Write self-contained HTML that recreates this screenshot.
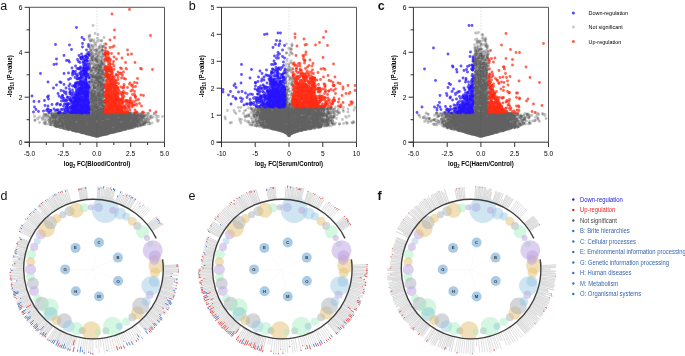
<!DOCTYPE html>
<html><head><meta charset="utf-8"><style>
html,body{margin:0;padding:0;background:#fff;}
svg{display:block;will-change:transform;}
text{font-family:"Liberation Sans",sans-serif;}
</style></head><body>
<svg width="685" height="356" viewBox="0 0 685 356">
<rect width="685" height="356" fill="#fff"/>
<line x1="96.9" y1="7.3" x2="96.9" y2="142.2" stroke="#ccc" stroke-width="0.6" stroke-dasharray="1.5,1.5"/>
<path transform="scale(.5)" d="M144 228zM225 263zM221 233zM154 228zM158 237zM281 229zM223 258zM159 241zM156 232zM168 257zM221 265zM199 235zM138 251zM114 231zM128 253zM214 263zM205 257zM211 241zM277 241zM133 257zM202 258zM230 242zM192 269zM250 252zM213 248zM196 272zM201 254zM286 235zM175 256zM182 260zM159 252zM136 235zM145 228zM211 251zM192 227zM259 228zM252 255zM170 234zM169 238zM160 233zM258 227zM271 228zM180 232zM275 232zM195 271zM202 267zM199 255zM184 268zM261 227zM201 241zM145 251zM195 262zM169 252zM128 256zM210 262zM136 235zM244 255zM219 246zM188 266zM250 248zM224 265zM152 234zM158 247zM110 243zM152 249zM217 260zM197 271zM203 254zM180 231zM190 229zM133 255zM191 268zM161 238zM211 266zM222 238zM174 262zM166 239zM107 233zM172 242zM139 242zM128 254zM110 252zM198 266zM188 266zM101 226zM240 246zM218 249zM214 240zM112 243zM154 258zM238 246zM135 237zM182 255zM142 246zM209 261zM203 268zM187 235zM224 250zM169 235zM202 246zM151 262zM242 229zM281 244zM173 265zM201 252zM202 254zM213 267zM211 267zM220 246zM252 248zM165 244zM186 250zM138 248zM192 250zM285 241zM191 269zM228 259zM276 231zM139 247zM225 259zM240 231zM170 262zM149 259zM258 241zM100 239zM164 254zM126 234zM173 255zM201 271zM178 258zM153 262zM137 227zM200 269zM166 233zM192 272zM272 247zM224 227zM220 255zM237 239zM216 262zM238 261zM215 251zM204 269zM190 267zM170 266zM210 253zM174 233zM175 254zM119 229zM191 268zM193 270zM230 249zM164 244zM198 272zM225 264zM165 258zM143 231zM252 257zM210 236zM174 267zM253 227zM237 259zM210 256zM314 240zM198 268zM202 269zM242 245zM214 228zM139 233zM153 254zM146 243zM203 264zM129 244zM198 270zM188 268zM268 248zM230 240zM161 252zM287 233zM143 245zM141 248zM137 254zM192 272zM101 245zM137 247zM252 249zM145 238zM262 256zM227 229zM182 268zM243 226zM193 271zM215 250zM196 270zM191 272zM245 254zM217 228zM184 261zM210 252zM198 226zM155 261zM245 257zM165 258zM232 246zM223 252zM169 265zM152 238zM233 230zM181 266zM179 232zM202 262zM191 230zM197 235zM220 253zM163 257zM173 239zM170 249zM179 267zM122 234zM214 244zM231 236zM163 230zM247 227zM231 263zM237 254zM242 244zM198 271zM281 232zM198 235zM185 253zM241 248zM143 233zM206 269zM274 250zM149 241zM240 229zM219 261zM191 262zM132 257zM279 228zM119 232zM177 264zM207 269zM188 271zM222 240zM175 234zM198 269zM157 231zM141 250zM195 268zM186 263zM226 247zM135 231zM219 263zM134 243zM194 263zM165 242zM213 230zM191 255zM190 271zM185 244zM209 264zM180 231zM157 250zM173 264zM182 251zM237 229zM206 257zM148 237zM177 235zM179 269zM205 260zM252 236zM198 272zM147 252zM167 262zM180 266zM206 269zM179 249zM209 267zM151 234zM205 261zM174 242zM195 272zM263 251zM182 249zM193 227zM201 270zM287 236zM191 272zM137 246zM177 249zM214 254zM243 228zM201 231zM204 267zM204 269zM174 230zM147 227zM169 255zM151 258zM173 250zM228 258zM220 242zM166 265zM203 237zM258 255zM232 260zM153 238zM190 271zM203 269zM228 246zM235 260zM189 267zM195 272zM175 228zM180 232zM181 266zM176 252zM206 266zM208 268zM155 252zM186 257zM145 240zM190 259zM185 248zM177 257zM212 268zM187 251zM154 229zM275 253zM202 227zM217 259zM183 270zM199 248zM142 239zM247 237zM214 257zM198 270zM257 239zM256 256zM206 231zM234 262zM184 269zM221 264zM135 241zM258 231zM202 256zM232 255zM171 232zM208 251zM223 262zM279 234zM237 258zM187 231zM150 258zM148 228zM190 262zM100 237zM146 255zM200 229zM279 234zM212 237zM197 269zM210 230zM134 241zM187 271zM210 249zM209 267zM244 251zM252 231zM264 227zM237 249zM246 249zM156 251zM153 263zM249 240zM208 255zM269 254zM248 239zM183 268zM160 250zM206 264zM197 242zM157 253zM173 232zM248 229zM119 242zM170 263zM196 247zM226 226zM185 252zM130 226zM274 234zM152 260zM198 257zM210 231zM289 248zM221 252zM132 243zM164 251zM195 265zM126 253zM254 236zM248 241zM194 272zM191 255zM257 250zM196 253zM183 268zM217 233zM205 248zM188 258zM194 271zM174 236zM187 269zM204 268zM193 272zM219 258zM249 237zM249 259zM260 238zM185 268zM227 231zM254 237zM125 243zM127 228zM256 252zM224 231zM255 250zM199 231zM279 228zM125 246zM167 266zM186 235zM201 270zM198 269zM220 251zM223 249zM246 233zM202 253zM171 232zM221 245zM207 265zM157 234zM183 261zM249 234zM178 243zM268 247zM104 230zM163 265zM185 260zM186 267zM199 270zM171 261zM156 261zM132 245zM237 257zM217 247zM177 237zM206 264zM229 235zM232 241zM192 272zM195 237zM187 252zM265 228zM182 251zM237 232zM239 245zM148 230zM294 237zM227 230zM239 239zM247 240zM266 255zM182 233zM190 269zM168 266zM240 244zM145 236zM178 262zM145 240zM230 257zM252 247zM170 246zM173 234zM200 271zM192 236zM214 254zM188 258zM189 269zM221 263zM195 272zM240 261zM158 258zM138 251zM217 228zM197 234zM132 254zM185 270zM187 229zM213 257zM201 233zM221 245zM198 270zM204 252zM128 251zM145 248zM191 229zM195 230zM215 266zM247 235zM134 227zM225 265zM211 259zM175 251zM212 233zM200 255zM180 268zM220 230zM268 243zM200 239zM207 230zM203 239zM177 231zM124 251zM225 230zM172 244zM232 239zM217 265zM112 253zM193 269zM152 257zM201 264zM193 259zM176 237zM142 241zM163 245zM215 264zM227 260zM254 255zM216 232zM164 229zM168 230zM241 242zM186 268zM198 240zM172 267zM194 272zM203 270zM167 257zM145 260zM274 231zM165 241zM215 248zM185 270zM118 229zM280 234zM135 233zM231 253zM262 235zM195 272zM179 247zM145 244zM223 238zM177 251zM211 237zM116 253zM270 228zM191 272zM190 246zM172 247zM214 233zM166 253zM185 266zM240 230zM246 256zM253 235zM150 231zM176 236zM173 266zM250 233zM276 242zM190 248zM168 261zM166 248zM198 243zM160 230zM253 230zM129 229zM254 247zM301 232zM179 253zM291 231zM253 238zM193 272zM170 263zM286 249zM235 259zM137 245zM154 231zM155 255zM289 246zM144 231zM217 266zM207 229zM185 240zM170 264zM167 264zM136 248zM131 256zM167 265zM219 265zM176 258zM259 250zM271 249zM193 270zM147 247zM201 270zM162 247zM208 268zM234 253zM282 250zM182 248zM107 242zM251 247zM229 230zM157 245zM182 266zM266 253zM146 260zM244 237zM190 270zM218 264zM200 262zM181 265zM216 267zM163 246zM159 244zM191 246zM196 269zM200 267zM261 254zM178 267zM229 263zM175 264zM162 235zM193 270zM141 227zM208 267zM196 272zM183 268zM118 252zM179 267zM176 266zM137 230zM227 264zM186 239zM256 227zM278 234zM260 231zM188 265zM183 268zM205 257zM168 253zM251 247zM247 244zM146 227zM255 257zM186 267zM147 251zM188 244zM151 261zM246 234zM209 229zM253 248zM165 239zM155 261zM170 236zM251 252zM203 239zM254 241zM156 236zM181 269zM150 257zM157 256zM166 265zM250 248zM207 237zM139 227zM198 271zM221 260zM212 244zM200 270zM261 250zM225 233zM163 253zM227 261zM232 257zM152 249zM188 269zM135 241zM165 241zM195 272zM187 262zM134 232zM220 249zM216 246zM240 258zM112 226zM191 236zM118 241zM227 229zM155 253zM221 229zM193 259zM172 256zM278 237zM193 260zM284 241zM167 255zM242 239zM219 266zM222 259zM222 242zM276 229zM188 258zM208 251zM269 237zM211 251zM104 250zM204 269zM190 270zM170 251zM166 254zM177 247zM196 271zM163 243zM128 252zM193 272zM222 265zM187 265zM222 244zM299 237zM189 249zM212 238zM132 258zM179 266zM156 240zM200 266zM221 265zM109 234zM206 268zM173 248zM152 230zM164 261zM271 247zM194 261zM253 229zM203 245zM254 245zM135 250zM155 254zM223 247zM177 230zM209 265zM181 246zM176 267zM193 272zM255 256zM164 241zM236 244zM234 261zM209 269zM173 267zM218 257zM249 226zM128 233zM226 250zM160 258zM233 251zM259 232zM156 236zM189 265zM153 230zM294 243zM142 248zM208 237zM269 250zM239 246zM220 227zM128 257zM174 237zM186 266zM134 240zM210 261zM214 255zM190 267zM195 266zM214 268zM147 261zM312 230zM135 256zM112 234zM153 233zM207 238zM163 264zM166 236zM160 241zM203 268zM227 249zM217 230zM214 268zM202 235zM278 245zM193 272zM177 243zM191 268zM273 240zM275 239zM190 266zM182 234zM184 267zM149 249zM182 259zM184 261zM141 252zM230 242zM216 243zM130 253zM191 231zM244 256zM228 236zM192 237zM212 254zM210 236zM170 245zM199 235zM227 235zM177 234zM251 241zM177 228zM185 252zM133 257zM227 249zM115 247zM152 251zM189 242zM154 230zM195 259zM186 268zM195 259zM159 238zM138 231zM114 230zM161 253zM190 266zM181 249zM255 238zM112 250zM225 235zM205 234zM167 262zM115 242zM177 226zM266 240zM159 226zM199 247zM167 256zM240 254zM133 241zM123 236zM168 248zM256 231zM275 250zM177 261zM261 248zM282 244zM151 240zM269 226zM208 245zM280 244zM191 268zM148 247zM190 249zM191 254zM232 236zM166 257zM199 269zM272 226zM189 252zM187 260zM173 250zM244 243zM138 249zM136 232zM140 255zM185 270zM140 244zM268 237zM228 240zM180 258zM253 251zM231 232zM130 227zM224 264zM134 230zM184 266zM196 271zM137 228zM177 230zM189 253zM161 246zM229 237zM242 261zM209 236zM263 246zM127 244zM243 244zM275 239zM171 250zM159 240zM159 239zM202 257zM289 248zM123 242zM135 230zM188 236zM196 256zM288 243zM221 234zM251 234zM118 229zM238 244zM226 262zM163 244zM192 267zM176 227zM180 264zM252 230zM214 242zM309 228zM256 249zM226 249zM245 231zM160 243zM195 266zM241 253zM199 266zM196 256zM188 228zM281 238zM161 265zM162 259zM270 233zM156 259zM179 254zM197 271zM216 247zM266 243zM181 264zM133 255zM273 238zM169 239zM148 236zM188 240zM123 244zM201 241zM206 257zM245 241zM162 264zM187 264zM198 271zM198 263zM152 248zM192 256zM252 230zM190 267zM127 254zM179 236zM190 266zM206 264zM207 234zM187 270zM231 227zM160 251zM260 238zM196 230zM186 252zM126 227zM121 235zM234 235zM315 243zM229 242zM239 228zM146 255zM197 267zM239 232zM134 258zM286 230zM211 260zM282 250zM189 246zM253 238zM138 228zM110 240zM191 268zM228 241zM176 230zM141 252zM151 227zM170 237zM223 250zM199 231zM191 260zM196 237zM138 258zM144 258zM239 248zM144 241zM211 232zM207 262zM161 260zM145 235zM202 270zM153 233zM264 254zM107 230zM131 242zM201 270zM208 255zM158 241zM215 258zM134 239zM233 251zM179 248zM270 230zM258 234zM162 235zM210 245zM209 231zM175 245zM190 234zM165 229zM191 268zM159 263zM222 265zM237 253zM194 267zM216 243zM248 251zM192 272zM185 270zM132 242zM224 265zM270 237zM183 242zM133 238zM179 237zM182 270zM183 269zM243 227zM185 263zM167 250zM200 250zM132 233zM232 250zM194 266zM203 246zM207 229zM202 265zM205 262zM145 239zM265 241zM137 237zM179 250zM242 240zM132 231zM272 237zM229 246zM192 272zM128 237zM162 226zM245 246zM239 248zM247 246zM171 251zM151 260zM197 271zM175 249zM213 258zM217 238zM212 257zM185 254zM220 261zM124 232zM137 253zM201 266zM196 272zM256 226zM176 264zM169 250zM205 257zM253 251zM148 245zM176 250zM218 265zM296 248zM243 237zM244 253zM180 267zM191 259zM177 238zM146 255zM257 230zM254 248zM167 263zM271 234zM179 263zM135 237zM299 248zM269 250zM189 226zM192 266zM170 243zM208 258zM188 249zM214 242zM189 251zM125 247zM161 252zM207 269zM217 260zM254 232zM261 232zM159 253zM229 234zM188 242zM160 235zM127 234zM136 230zM201 271zM180 256zM243 260zM232 239zM160 262zM242 260zM243 257zM191 228zM202 269zM162 253zM193 272zM191 240zM233 249zM124 227zM193 248zM87 233zM158 244zM207 264zM261 254zM233 233zM297 227zM255 236zM240 227zM179 265zM201 260zM176 264zM254 242zM243 236zM110 233zM168 229zM182 246zM213 258zM262 251zM171 262zM206 263zM161 235zM235 257zM161 262zM175 234zM169 255zM284 242zM184 235zM172 260zM132 246zM180 239zM216 260zM172 249zM180 259zM227 248zM274 229zM246 240zM130 235zM202 260zM227 247zM179 262zM290 242zM174 257zM211 258zM176 267zM195 234zM146 255zM206 260zM177 268zM214 266zM148 259zM174 262zM135 244zM192 249zM170 229zM174 253zM253 258zM257 243zM147 240zM138 240zM278 240zM186 244zM180 255zM204 263zM163 247zM193 251zM231 245zM182 240zM247 236zM254 258zM193 268zM284 227zM214 239zM145 245zM176 264zM196 259zM218 265zM114 246zM144 247zM206 250zM211 240zM202 270zM257 252zM210 263zM226 261zM196 269zM212 240zM173 261zM277 245zM174 266zM199 243zM164 240zM206 251zM220 256zM267 236zM234 241zM122 251zM243 251zM195 232zM119 244zM251 243zM240 231zM165 243zM149 253zM243 241zM102 227zM139 259zM201 255zM165 238zM244 239zM200 262zM130 240zM218 229zM170 255zM174 228zM127 245zM215 256zM249 236zM270 247zM144 245zM262 230zM258 237zM241 256zM194 260zM146 231zM260 246zM155 260zM178 232zM189 246zM215 264zM148 234zM188 268zM167 262zM181 262zM139 253zM127 233zM163 237zM142 239zM201 265zM166 244zM189 271zM215 266zM257 247zM169 249zM239 258zM194 269zM185 262zM206 255zM225 249zM138 259zM204 227zM148 227zM173 240zM185 228zM159 248zM225 240zM204 270zM218 236zM228 239zM180 253zM97 241zM183 246zM184 259zM258 248zM180 267zM253 254zM224 262zM145 236zM155 257zM232 249zM194 267zM135 232zM184 236zM182 259zM172 259zM209 245zM234 249zM123 236zM151 261zM176 250zM148 230zM196 270zM238 244zM190 259zM157 249zM193 228zM189 266zM179 246zM225 232zM139 231zM213 264zM204 227zM182 240zM191 259zM141 247zM178 268zM251 236zM89 229zM150 240zM267 230zM180 262zM145 244zM270 235zM231 239zM184 265zM134 253zM219 238zM221 248zM208 249zM224 239zM203 267zM235 255zM249 233zM163 246zM131 248zM209 230zM196 235zM235 230zM260 257zM226 242zM147 261zM200 269zM140 252zM165 229zM122 232zM241 232zM213 267zM145 229zM213 229zM171 250zM234 246zM251 235zM274 244zM191 271zM197 271zM232 257zM228 248zM177 266zM202 269zM184 264zM216 266zM252 240zM250 238zM203 257zM182 267zM174 256zM145 241zM277 236zM242 229zM173 250zM260 248zM136 251zM179 266zM186 250zM240 244zM177 266zM188 241zM210 234zM187 263zM188 263zM127 227zM146 260zM233 227zM106 235zM210 249zM239 250zM197 260zM129 244zM214 266zM217 234zM186 231zM254 240zM205 266zM120 230zM251 240zM159 260zM164 239zM222 253zM186 268zM173 267zM258 236zM216 240zM180 254zM173 266zM230 243zM242 248zM181 250zM216 247zM228 234zM161 254zM134 255zM185 231zM159 232zM192 245zM264 247zM204 254zM183 269zM125 235zM123 241zM118 239zM115 227zM161 234zM109 249zM106 247zM201 252zM190 268zM274 227zM188 266zM113 228zM211 268zM219 253zM298 245zM241 256zM150 257zM193 266zM187 262zM269 238zM233 244zM249 255zM139 255zM206 138zM206 151zM184 210zM179 177zM205 142zM203 134zM205 127zM187 210zM181 110zM190 219zM200 141zM205 202zM205 170zM180 112zM182 201zM191 214zM203 220zM201 164zM197 99zM199 159zM180 136zM187 192zM205 93zM189 213zM202 223zM208 171zM198 167zM187 134zM192 137zM198 203zM196 162zM194 210zM178 76zM206 132zM186 220zM184 220zM198 218zM206 211zM183 79zM202 190zM180 119zM203 140zM201 121zM185 200zM180 221zM182 221zM182 113zM205 217zM200 134zM207 153zM207 221zM207 212zM200 157zM193 99zM198 199zM202 124zM185 181zM205 164zM186 190zM195 83zM193 115zM184 222zM183 189zM184 101zM206 211zM200 193zM200 156zM189 201zM198 197zM196 103zM195 146zM206 225zM199 170zM203 97zM184 119zM201 181zM189 176zM179 132zM191 195zM183 198zM204 213zM192 217zM193 157zM195 83zM179 139zM186 216zM194 226zM179 79zM201 172zM202 222zM189 189zM182 204zM192 120zM201 124zM190 195zM200 201zM199 220zM208 75zM207 194zM204 207zM192 107zM185 188zM201 205zM191 163zM198 200zM182 109zM182 102zM209 131zM183 214zM203 175zM203 149zM182 113zM179 214zM188 176zM209 137zM195 190zM193 134zM201 196zM185 139zM209 204zM185 218zM181 82zM207 226zM202 223zM197 220zM206 176zM184 198zM196 217zM205 188zM195 215zM186 218zM208 186zM184 182zM202 171zM187 155zM209 112zM182 186zM185 154zM186 210zM207 189zM198 147zM198 225zM184 224zM202 204zM182 140zM204 201zM190 211zM208 119zM202 155zM183 223zM195 211zM208 219zM208 187zM188 218zM187 214zM205 99zM192 118zM190 200zM183 183zM205 147zM200 141zM203 135zM201 223zM203 163zM196 130zM202 181zM189 223zM209 137zM180 216zM187 113zM196 215zM185 105zM207 109zM198 185zM192 220zM190 153zM186 148zM200 132zM200 218zM187 155zM178 198zM198 162zM181 210zM209 204zM184 161zM182 150zM206 200zM203 192zM198 214zM197 170zM191 218zM209 148zM186 137zM196 69zM179 196zM186 189zM205 148zM191 120zM205 136zM186 205zM203 149zM191 166zM203 217zM192 198zM197 187zM208 154zM182 207zM190 208zM179 133zM182 214zM196 140zM194 202zM192 212zM184 160zM184 192zM183 220zM182 190zM202 182zM189 164zM200 193zM191 183zM204 179zM194 150zM187 170zM199 149zM202 150zM187 168zM190 220zM198 218zM202 165zM182 102zM206 147zM184 214zM200 212zM190 109zM187 165zM192 131zM198 81zM197 223zM193 225zM199 186zM194 84zM192 116zM199 150zM191 87zM186 207zM190 166zM188 156zM193 124zM187 223zM187 147zM194 103zM195 202zM199 193zM189 204zM195 157zM197 225zM196 147zM196 134zM191 210zM189 176zM201 218zM197 209zM195 188zM198 152zM205 160z" stroke="#222" stroke-opacity="0.265" stroke-width="5.6" stroke-linecap="round" fill="none"/>
<path transform="scale(.5)" d="M223 265zM205 253zM174 234zM325 233zM145 248zM116 244zM217 265zM187 260zM263 251zM195 255zM175 267zM204 232zM128 234zM238 248zM220 247zM203 243zM231 259zM187 250zM152 256zM232 243zM165 236zM152 231zM255 255zM224 261zM178 261zM180 247zM140 244zM240 252zM171 267zM144 248zM186 268zM156 250zM122 236zM205 264zM182 267zM161 241zM194 271zM219 233zM251 233zM160 250zM155 258zM172 253zM138 227zM203 258zM156 261zM122 247zM230 259zM253 236zM179 262zM92 248zM192 266zM153 257zM231 260zM289 228zM171 231zM160 250zM207 268zM218 255zM271 228zM191 265zM120 248zM105 236zM254 251zM149 249zM266 240zM195 269zM250 251zM127 234zM162 242zM118 249zM187 253zM177 264zM265 236zM251 229zM132 254zM259 244zM191 271zM160 250zM268 236zM196 272zM211 253zM191 272zM267 243zM185 233zM222 262zM199 228zM131 242zM189 243zM92 241zM208 268zM206 255zM146 238zM194 272zM186 269zM161 236zM204 238zM151 261zM150 234zM166 232zM247 259zM160 254zM198 239zM139 246zM217 263zM126 231zM184 264zM163 234zM207 268zM226 251zM207 256zM157 262zM155 232zM131 230zM216 266zM193 234zM181 234zM133 233zM197 271zM204 268zM208 269zM134 257zM204 240zM223 265zM154 244zM270 252zM229 263zM245 260zM139 226zM159 231zM160 236zM192 265zM171 253zM226 240zM143 260zM260 240zM170 252zM152 232zM176 230zM177 260zM187 266zM182 238zM152 256zM119 245zM155 246zM198 250zM198 238zM233 249zM191 244zM150 247zM180 260zM183 264zM186 258zM250 230zM225 236zM146 226zM191 254zM254 243zM187 256zM270 236zM199 248zM211 231zM256 243zM199 270zM194 272zM235 236zM201 238zM181 230zM131 244zM287 227zM221 244zM247 226zM175 226zM189 264zM180 266zM255 237zM151 256zM182 269zM119 229zM233 250zM137 234zM190 271zM188 271zM242 234zM155 229zM179 264zM198 237zM169 226zM170 252zM256 241zM111 228zM239 260zM226 259zM250 251zM140 251zM110 251zM229 234zM128 256zM153 233zM257 257zM190 271zM196 259zM239 236zM185 235zM264 244zM199 267zM235 245zM133 255zM193 268zM199 252zM195 262zM162 227zM199 246zM185 270zM193 271zM167 261zM95 248zM118 231zM134 229zM133 254zM141 248zM212 262zM230 230zM130 246zM206 261zM281 232zM186 259zM276 243zM187 229zM178 226zM218 260zM227 264zM199 271zM194 263zM160 236zM219 258zM140 258zM180 264zM253 249zM203 230zM185 230zM186 265zM155 259zM260 250zM161 234zM228 236zM263 251zM200 230zM272 237zM222 261zM251 236zM133 255zM142 252zM147 258zM200 269zM184 270zM199 267zM235 230zM148 249zM202 258zM133 246zM144 237zM190 253zM238 260zM262 246zM181 266zM202 270zM169 229zM228 261zM177 253zM242 233zM264 245zM105 226zM260 249zM245 227zM172 249zM176 265zM145 246zM212 249zM247 231zM136 238zM163 265zM194 251zM213 244zM108 226zM200 271zM162 228zM273 227zM206 244zM153 236zM109 228zM274 239zM169 254zM171 252zM201 269zM149 238zM195 262zM270 246zM223 252zM159 229zM174 263zM194 272zM209 233zM196 265zM191 272zM197 272zM112 238zM222 243zM173 232zM195 267zM215 234zM221 251zM192 237zM125 239zM119 236zM206 241zM140 248zM246 255zM204 236zM232 253zM200 261zM169 255zM163 231zM202 234zM224 227zM208 266zM125 248zM272 235zM214 244zM172 253zM189 235zM181 231zM177 245zM154 241zM196 259zM124 249zM178 267zM137 226zM258 252zM203 266zM116 240zM110 229zM224 238zM143 247zM190 249zM100 249zM234 234zM98 241zM239 262zM225 261zM217 231zM217 253zM191 244zM130 254zM247 247zM172 239zM197 266zM101 234zM248 246zM102 233zM220 247zM211 228zM152 248zM140 240zM196 258zM166 230zM162 250zM192 272zM230 230zM232 258zM135 243zM256 237zM168 254zM235 231zM205 245zM220 237zM256 241zM101 248zM237 231zM279 240zM197 251zM192 271zM162 245zM215 247zM175 232zM220 257zM195 269zM199 264zM160 246zM237 235zM169 240zM191 263zM247 257zM165 240zM229 260zM191 264zM236 253zM172 264zM241 248zM187 234zM200 264zM197 270zM149 260zM108 228zM258 234zM122 248zM170 249zM160 257zM158 229zM264 248zM236 255zM145 254zM183 267zM212 230zM185 262zM232 235zM220 227zM135 256zM252 236zM213 266zM150 253zM188 266zM117 237zM213 264zM180 260zM121 238zM146 252zM274 251zM286 250zM150 262zM144 231zM187 229zM188 270zM180 253zM139 237zM159 243zM150 252zM206 269zM238 247zM246 250zM260 226zM128 249zM235 228zM263 247zM108 232zM238 260zM183 269zM216 250zM205 269zM222 246zM172 228zM242 253zM191 263zM188 237zM183 270zM170 251zM172 262zM208 265zM206 270zM141 254zM260 250zM237 246zM140 236zM167 255zM279 239zM223 254zM170 245zM114 245zM181 263zM150 256zM161 237zM248 243zM243 236zM181 232zM253 258zM189 227zM245 258zM168 235zM182 260zM192 272zM169 251zM269 246zM259 250zM218 233zM166 261zM235 247zM249 232zM223 261zM193 272zM235 236zM154 257zM173 237zM128 246zM211 266zM207 262zM184 268zM199 259zM152 261zM196 262zM222 255zM105 230zM229 263zM165 260zM188 270zM259 252zM165 233zM217 251zM148 245zM187 270zM173 265zM244 255zM193 269zM250 243zM285 236zM275 231zM215 249zM131 258zM266 231zM193 272zM118 251zM139 228zM228 258zM243 232zM220 232zM266 236zM225 251zM136 239zM216 264zM232 249zM189 263zM210 233zM167 249zM140 249zM213 256zM214 249zM172 262zM177 267zM158 254zM192 267zM76 238zM200 259zM101 239zM138 254zM272 236zM197 271zM206 261zM118 227zM198 271zM223 257zM155 260zM206 231zM233 240zM153 247zM209 256zM180 247zM251 255zM283 238zM252 233zM210 252zM215 247zM228 234zM217 258zM227 231zM148 236zM198 229zM236 252zM290 230zM182 254zM100 248zM207 236zM198 265zM136 228zM218 245zM247 234zM226 244zM155 235zM174 264zM263 255zM131 247zM123 245zM211 268zM172 267zM169 245zM195 263zM163 247zM258 242zM244 231zM250 251zM171 267zM169 250zM197 246zM223 250zM192 240zM215 246zM217 267zM125 256zM188 233zM212 259zM306 234zM157 232zM197 226zM106 240zM196 272zM208 269zM190 266zM205 249zM191 257zM268 245zM158 250zM151 254zM247 232zM192 269zM198 253zM201 261zM177 240zM174 235zM202 257zM156 259zM249 228zM254 255zM192 272zM182 267zM237 233zM219 248zM113 253zM114 234zM180 268zM238 248zM250 257zM256 257zM222 242zM122 255zM216 248zM238 252zM173 266zM191 268zM157 254zM209 254zM165 260zM234 229zM234 263zM145 261zM223 265zM249 247zM177 263zM234 247zM250 251zM207 241zM167 233zM237 251zM111 236zM219 263zM122 231zM152 245zM157 254zM287 246zM267 236zM141 228zM162 263zM168 264zM181 256zM110 235zM237 250zM197 260zM187 268zM144 247zM180 264zM187 240zM302 234zM192 258zM162 237zM286 247zM196 272zM140 259zM194 249zM265 247zM140 242zM193 253zM207 242zM212 263zM223 263zM177 231zM170 230zM240 233zM153 244zM131 242zM161 226zM151 255zM143 260zM138 227zM251 256zM203 269zM208 238zM275 245zM260 249zM198 258zM186 258zM211 254zM198 229zM143 248zM214 250zM287 246zM131 232zM258 227zM207 250zM217 255zM178 268zM197 251zM262 232zM241 256zM169 266zM176 229zM303 233zM200 235zM121 232zM146 252zM188 255zM170 261zM212 268zM180 262zM147 232zM187 254zM122 244zM204 261zM284 241zM164 227zM127 252zM140 259zM162 230zM230 237zM190 236zM154 253zM183 246zM219 245zM110 248zM138 252zM220 236zM297 243zM190 270zM164 265zM219 227zM225 228zM188 259zM184 270zM187 227zM192 271zM193 254zM223 265zM225 255zM201 262zM201 266zM130 251zM165 246zM227 239zM127 252zM184 268zM197 267zM186 263zM164 227zM262 238zM194 258zM139 257zM105 233zM196 272zM204 264zM190 259zM225 233zM168 265zM257 238zM208 243zM193 271zM133 240zM152 261zM173 261zM202 263zM202 232zM203 270zM174 259zM282 246zM245 232zM287 234zM177 245zM131 242zM252 236zM224 239zM220 243zM195 272zM137 259zM117 226zM226 252zM230 235zM237 232zM225 258zM205 267zM249 235zM251 240zM161 257zM169 262zM168 248zM213 230zM216 246zM175 248zM197 260zM180 266zM205 260zM184 267zM250 248zM230 231zM212 249zM209 237zM266 247zM214 242zM137 238zM119 254zM204 260zM125 229zM213 264zM234 254zM191 265zM222 240zM199 231zM216 247zM152 262zM104 245zM221 229zM243 252zM151 256zM167 254zM174 256zM209 237zM178 247zM169 242zM123 247zM165 227zM233 259zM184 252zM181 240zM170 244zM205 255zM92 229zM247 248zM154 253zM148 245zM125 255zM222 250zM191 272zM229 247zM216 266zM202 270zM163 238zM236 227zM174 267zM182 260zM124 255zM189 244zM166 260zM178 245zM283 227zM161 246zM154 257zM186 267zM146 236zM206 262zM188 268zM175 265zM139 232zM203 263zM221 249zM266 244zM184 243zM262 230zM196 230zM214 255zM205 253zM234 239zM85 239zM181 254zM208 253zM197 268zM222 242zM241 261zM154 240zM238 238zM167 264zM192 271zM131 234zM244 239zM179 239zM270 237zM173 268zM165 258zM282 241zM213 231zM196 243zM221 253zM183 230zM136 259zM238 242zM179 258zM200 267zM187 228zM173 258zM198 270zM216 258zM111 240zM191 248zM224 251zM263 239zM199 237zM262 235zM197 261zM199 271zM151 250zM189 234zM171 256zM171 232zM161 240zM227 237zM194 272zM159 236zM192 272zM161 229zM163 252zM138 227zM172 266zM185 245zM237 251zM151 247zM238 251zM233 262zM136 241zM250 243zM119 254zM189 228zM124 240zM162 261zM211 243zM132 255zM168 251zM177 268zM193 235zM278 244zM202 268zM160 256zM199 267zM217 258zM216 258zM235 228zM151 255zM106 229zM247 236zM148 250zM215 258zM201 269zM155 248zM181 229zM189 239zM196 270zM198 266zM223 264zM217 262zM204 259zM169 231zM196 271zM155 256zM206 252zM210 235zM159 258zM212 247zM216 261zM206 270zM181 268zM185 263zM218 245zM130 251zM169 264zM216 261zM152 261zM265 245zM137 250zM260 242zM197 270zM173 237zM232 244zM203 269zM234 255zM219 252zM244 260zM201 261zM173 231zM120 254zM120 226zM221 244zM278 231zM270 238zM228 264zM177 234zM268 232zM191 268zM120 228zM194 262zM136 228zM178 252zM215 266zM278 230zM179 261zM155 241zM196 271zM202 265zM155 234zM231 250zM183 267zM187 269zM186 250zM239 247zM253 247zM140 236zM197 269zM244 254zM197 251zM248 258zM252 235zM163 234zM222 265zM121 226zM130 253zM167 262zM193 266zM195 262zM182 264zM256 256zM151 232zM125 252zM218 266zM250 259zM267 231zM271 237zM195 272zM161 245zM159 262zM138 255zM256 254zM143 234zM166 262zM174 267zM194 252zM186 250zM241 226zM148 251zM195 242zM151 257zM202 243zM148 250zM211 268zM238 244zM241 253zM193 271zM250 231zM212 242zM227 229zM180 265zM203 237zM174 235zM198 250zM126 246zM111 245zM235 226zM202 258zM201 265zM241 230zM257 233zM193 230zM169 255zM214 257zM220 263zM185 270zM266 236zM211 259zM211 248zM176 241zM256 247zM252 247zM171 232zM170 264zM176 235zM278 231zM216 266zM294 244zM199 268zM192 271zM245 250zM192 257zM126 236zM225 226zM138 257zM218 251zM187 268zM207 243zM256 251zM203 235zM230 260zM186 242zM194 272zM230 246zM181 238zM144 256zM220 237zM145 241zM241 259zM171 242zM205 261zM216 228zM256 228zM191 269zM159 262zM213 246zM196 269zM117 253zM189 269zM205 238zM235 245zM242 251zM189 233zM157 228zM171 267zM205 269zM276 227zM232 260zM117 240zM200 245zM198 234zM155 258zM168 253zM145 252zM174 237zM69 232zM170 243zM183 257zM185 252zM186 231zM280 250zM145 234zM70 241zM221 227zM213 258zM193 272zM153 259zM147 256zM188 237zM237 235zM204 267zM207 268zM167 247zM197 237zM221 231zM174 267zM242 231zM249 235zM284 229zM216 260zM192 272zM217 227zM167 239zM208 256zM69 233zM201 270zM165 244zM79 245zM217 257zM188 268zM191 270zM189 239zM196 239zM104 228zM247 256zM269 251zM132 255zM250 232zM189 271zM109 226zM181 269zM224 242zM199 226zM173 266zM214 268zM192 268zM137 229zM230 255zM145 234zM206 246zM137 250zM190 270zM212 250zM190 272zM131 236zM203 227zM239 261zM166 263zM192 243zM191 250zM271 231zM232 226zM115 234zM200 253zM236 243zM197 242zM119 242zM241 238zM158 233zM165 250zM288 228zM225 240zM295 241zM200 262zM149 242zM230 239zM213 261zM155 238zM126 248zM242 228zM162 239zM152 250zM146 240zM173 265zM216 251zM224 237zM236 235zM137 256zM273 251zM203 232zM201 227zM145 248zM136 229zM199 228zM246 257zM222 264zM206 249zM172 264zM164 253zM230 245zM238 246zM237 241zM89 247zM194 257zM179 251zM233 232zM203 227zM184 270zM158 241zM167 256zM153 236zM194 271zM169 260zM115 231zM199 237zM125 249zM129 234zM232 238zM221 263zM233 227zM212 252zM174 258zM212 234zM197 268zM122 255zM206 269zM204 239zM171 231zM200 265zM206 260zM252 256zM172 239zM114 253zM99 243zM159 262zM141 241zM289 227zM207 235zM163 227zM249 259zM271 242zM283 238zM197 264zM145 256zM197 269zM177 251zM264 248zM202 258zM239 231zM144 236zM153 237zM136 235zM187 261zM170 257zM186 244zM207 227zM166 264zM185 240zM159 237zM203 259zM273 242zM284 235zM196 272zM109 226zM254 250zM197 272zM198 232zM230 247zM194 272zM190 261zM157 263zM231 230zM215 242zM154 227zM253 233zM279 245zM148 260zM211 266zM199 251zM204 257zM143 258zM154 238zM177 266zM211 227zM127 250zM204 256zM195 254zM261 239zM197 265zM220 236zM241 248zM130 241zM214 234zM161 240zM182 268zM175 257zM141 227zM207 226zM250 238zM189 242zM254 248zM133 252zM200 270zM188 259zM158 254zM267 251zM190 269zM194 246zM161 259zM256 234zM180 243zM185 257zM274 234zM187 271zM163 261zM227 228zM222 259zM264 256zM208 247zM246 246zM209 267zM211 267zM317 241zM175 241zM178 241zM164 253zM173 261zM115 247zM225 238zM168 239zM143 244zM171 255zM179 267zM176 266zM118 241zM213 233zM192 263zM232 239zM197 271zM203 270zM151 251zM195 245zM211 264zM185 243zM121 255zM196 269zM242 240zM151 242zM211 254zM255 250zM228 234zM166 264zM264 242zM210 264zM264 238zM131 233zM151 235zM198 261zM159 233zM200 264zM143 246zM171 239zM150 239zM145 234zM112 232zM201 266zM289 246zM148 255zM176 263zM258 251zM119 243zM140 236zM208 240zM202 261zM203 230zM268 241zM211 226zM156 237zM183 259zM242 236zM209 261zM75 237zM137 254zM191 265zM161 232zM155 257zM170 261zM294 238zM134 231zM238 229zM212 264zM134 248zM225 233zM192 270zM246 229zM175 248zM206 268zM261 254zM147 261zM163 235zM194 257zM208 257zM244 235zM191 239zM166 259zM230 255zM241 229zM230 240zM196 272zM153 243zM165 250zM175 248zM204 270zM203 228zM283 247zM188 236zM171 232zM246 238zM239 248zM254 251zM212 235zM158 251zM184 117zM202 189zM197 107zM196 123zM179 169zM180 93zM188 225zM196 171zM193 217zM194 194zM189 100zM205 140zM208 210zM197 185zM200 138zM208 152zM193 204zM203 106zM197 110zM204 224zM199 206zM183 226zM179 122zM188 217zM182 191zM186 154zM201 134zM204 170zM190 129zM199 131zM200 191zM201 157zM200 205zM196 218zM195 187zM191 209zM200 219zM190 67zM209 170zM208 216zM202 173zM185 172zM197 177zM201 209zM206 101zM180 71zM195 164zM179 217zM208 155zM190 200zM202 223zM182 222zM183 159zM189 181zM181 141zM202 187zM203 158zM204 158zM192 158zM186 153zM183 174zM209 186zM178 178zM188 164zM197 118zM196 152zM196 226zM197 217zM202 205zM189 161zM181 163zM204 139zM180 150zM188 218zM190 179zM202 174zM190 174zM179 211zM180 156zM204 145zM197 223zM204 196zM179 202zM205 156zM182 155zM183 181zM198 217zM200 92zM203 187zM200 166zM204 116zM179 181zM186 203zM198 218zM185 219zM185 163zM186 224zM203 181zM182 150zM193 209zM181 142zM183 197zM190 150zM182 113zM190 122zM187 205zM206 113zM204 147zM207 192zM184 167zM200 217zM192 137zM202 181zM182 213zM203 183zM205 183zM182 126zM184 195zM180 127zM202 155zM199 106zM178 150zM203 195zM185 198zM194 185zM209 101zM209 210zM186 213zM194 173zM185 215zM197 217zM186 175zM197 153zM189 192zM187 205zM187 194zM197 199zM179 170zM200 200zM186 127zM197 192zM185 123zM184 212zM198 217zM206 110zM196 146zM184 180zM200 202zM209 136zM187 177zM186 195zM188 187zM201 106zM182 200zM198 156zM192 221zM184 190zM191 151zM204 206zM208 168zM189 213zM179 139zM189 217zM190 164zM185 142zM199 200zM195 217zM181 218zM178 72zM184 144zM201 182zM191 211zM184 187zM209 143zM191 197zM192 218zM194 118zM179 213zM207 177zM187 164zM201 102zM188 130zM207 213zM185 125zM186 215zM179 143zM187 95zM203 128zM206 195zM189 187zM194 215zM208 224zM182 222zM197 190zM193 156zM182 202zM184 117zM204 167zM206 181zM195 203zM209 152zM196 213zM199 155zM191 185zM195 109zM207 162zM186 224zM203 205zM184 193zM195 201zM183 180zM193 100zM206 203zM203 170zM187 133zM191 142zM193 196zM182 90zM209 140zM201 130zM185 216zM194 203zM202 180zM194 195zM189 130zM191 155zM209 206zM201 112zM182 222zM202 178zM200 165zM198 224zM191 143zM198 226zM189 178zM186 213zM184 184zM204 151zM187 173zM201 175zM193 158zM184 158zM196 160zM198 141zM198 185zM206 150zM202 220zM195 151zM195 197zM197 213zM195 179zM188 225zM200 190zM189 129zM198 129zM183 137zM193 223zM192 216zM203 225zM202 121zM199 164zM186 179zM195 181zM184 198zM203 210zM188 84zM205 226zM198 201zM191 202zM205 219zM188 133zM184 169zM184 200zM183 169zM189 201zM204 168zM190 201zM199 219zM187 194zM189 118zM197 218zM187 188zM202 199zM197 189zM188 214zM201 90zM197 199zM191 129z" stroke="#222" stroke-opacity="0.265" stroke-width="5.6" stroke-linecap="round" fill="none"/>
<path transform="scale(.5)" d="M246 249zM195 266zM104 240zM206 246zM243 234zM285 230zM162 227zM186 257zM215 244zM190 265zM175 242zM199 252zM150 237zM170 227zM273 233zM189 269zM198 251zM151 248zM223 264zM175 264zM218 239zM140 236zM198 270zM281 252zM200 270zM206 231zM182 255zM134 228zM179 236zM130 230zM186 250zM186 254zM196 272zM175 263zM141 254zM96 233zM197 255zM224 241zM281 241zM193 255zM195 266zM225 245zM178 267zM217 256zM172 239zM166 227zM213 250zM191 257zM179 264zM178 265zM193 228zM239 228zM198 269zM182 238zM143 244zM192 256zM292 245zM132 238zM172 252zM153 242zM144 259zM151 228zM193 268zM89 239zM272 238zM152 233zM189 241zM202 230zM186 249zM213 260zM130 244zM203 270zM163 247zM187 271zM107 243zM179 227zM205 240zM194 270zM249 246zM194 234zM193 270zM137 246zM281 228zM258 227zM164 262zM144 234zM102 250zM201 256zM195 270zM205 230zM137 246zM173 243zM257 236zM203 268zM250 238zM217 266zM226 260zM273 246zM232 232zM158 234zM223 258zM193 272zM198 256zM192 272zM232 259zM155 245zM264 252zM173 256zM300 247zM170 256zM231 255zM285 244zM197 245zM150 233zM231 227zM199 270zM197 253zM180 263zM245 234zM195 229zM271 238zM211 266zM149 230zM165 241zM169 264zM165 241zM207 266zM196 258zM183 250zM213 262zM205 266zM224 255zM188 265zM237 258zM146 229zM239 226zM198 270zM215 233zM152 245zM187 268zM149 257zM147 230zM214 265zM242 229zM183 250zM174 264zM166 249zM138 257zM248 250zM139 252zM241 259zM230 245zM134 242zM181 242zM173 259zM199 255zM174 264zM177 227zM210 265zM163 230zM190 271zM149 230zM186 271zM260 242zM224 235zM203 269zM207 269zM151 242zM230 259zM183 233zM263 237zM174 268zM255 232zM187 239zM225 250zM183 269zM190 246zM206 247zM203 255zM165 250zM249 235zM122 251zM142 249zM246 230zM257 230zM242 226zM173 227zM224 226zM241 228zM205 268zM174 251zM162 243zM225 237zM173 266zM234 231zM157 263zM277 241zM153 261zM155 234zM114 245zM184 262zM221 252zM186 241zM156 255zM176 265zM269 231zM228 255zM260 233zM150 239zM189 268zM249 233zM141 256zM159 263zM127 244zM267 231zM219 263zM150 226zM195 272zM191 271zM251 244zM166 259zM219 255zM230 264zM167 264zM198 269zM167 238zM177 264zM206 267zM261 251zM194 262zM203 270zM141 254zM179 244zM185 268zM164 232zM216 253zM188 259zM252 236zM162 253zM232 238zM142 258zM188 238zM103 242zM232 253zM187 270zM149 259zM189 233zM262 252zM230 261zM172 260zM186 251zM195 242zM284 238zM133 248zM176 226zM146 234zM213 234zM127 229zM121 229zM146 235zM220 259zM226 263zM229 228zM97 229zM198 269zM215 228zM226 230zM169 263zM213 231zM204 243zM277 239zM232 234zM213 246zM247 256zM255 245zM194 268zM237 228zM203 270zM164 258zM193 265zM153 252zM194 272zM175 260zM178 231zM133 230zM244 238zM119 226zM119 244zM221 261zM160 230zM205 260zM263 243zM213 265zM166 237zM235 263zM266 254zM135 249zM225 229zM189 262zM238 256zM126 238zM268 229zM139 256zM236 256zM158 251zM186 227zM147 243zM260 229zM158 259zM164 258zM188 265zM227 263zM200 253zM159 263zM193 272zM144 250zM189 231zM173 243zM195 270zM172 258zM208 234zM284 241zM205 248zM141 256zM173 255zM252 227zM234 255zM170 245zM235 257zM140 236zM228 263zM107 235zM157 227zM122 254zM108 244zM245 228zM197 271zM197 271zM259 226zM218 266zM131 235zM179 252zM183 264zM197 272zM224 242zM218 257zM207 252zM173 227zM214 247zM183 263zM132 239zM230 240zM252 239zM160 245zM192 237zM189 271zM205 269zM187 254zM183 234zM156 235zM198 252zM199 269zM107 234zM198 262zM239 253zM192 229zM185 254zM162 248zM245 259zM198 255zM226 265zM111 245zM223 263zM191 236zM155 262zM175 247zM160 244zM156 258zM200 267zM126 227zM173 235zM265 247zM193 271zM180 247zM227 239zM256 230zM226 264zM194 257zM181 236zM231 253zM258 229zM121 245zM220 265zM215 267zM193 242zM170 264zM240 243zM226 230zM253 249zM226 259zM145 232zM230 245zM120 243zM202 270zM216 250zM196 272zM153 257zM231 258zM180 229zM177 245zM158 262zM189 264zM245 245zM210 235zM175 239zM157 239zM137 237zM260 252zM189 230zM191 250zM238 232zM160 252zM153 230zM276 231zM153 260zM134 242zM125 230zM206 230zM263 237zM193 234zM120 255zM198 261zM214 258zM240 252zM213 228zM201 269zM203 254zM193 272zM198 253zM136 237zM154 260zM192 265zM152 248zM185 270zM223 259zM257 237zM223 252zM219 253zM192 264zM150 238zM188 258zM192 272zM224 233zM194 272zM214 266zM188 266zM227 241zM199 259zM240 261zM218 237zM205 265zM232 262zM303 236zM164 265zM245 244zM125 243zM234 262zM197 252zM245 226zM219 262zM234 253zM184 242zM152 233zM179 250zM189 248zM211 266zM226 255zM127 241zM135 242zM189 229zM260 236zM218 267zM219 266zM228 244zM186 247zM179 237zM193 271zM197 263zM132 242zM179 266zM197 264zM130 235zM150 247zM186 269zM261 256zM181 243zM215 243zM191 271zM222 233zM192 271zM161 243zM202 238zM170 265zM225 260zM189 269zM165 264zM154 249zM184 270zM143 256zM157 239zM190 269zM209 230zM259 242zM125 247zM213 252zM179 268zM226 250zM172 267zM209 263zM172 259zM196 229zM164 230zM207 264zM206 260zM173 265zM170 263zM193 264zM217 227zM221 261zM215 253zM115 226zM251 258zM229 263zM190 266zM192 261zM211 231zM192 260zM92 231zM149 234zM188 256zM189 232zM199 269zM212 245zM196 264zM191 271zM200 262zM196 248zM243 250zM175 228zM165 250zM115 246zM196 272zM222 242zM263 238zM171 229zM204 244zM133 254zM269 249zM183 232zM121 234zM184 242zM161 249zM192 270zM199 271zM237 238zM179 262zM264 237zM279 251zM193 268zM232 247zM192 270zM139 241zM205 253zM244 252zM173 268zM173 228zM216 255zM176 227zM195 272zM216 241zM263 248zM217 248zM176 255zM224 243zM208 266zM252 254zM224 243zM135 258zM172 265zM157 227zM147 260zM200 227zM166 261zM204 268zM222 227zM254 227zM281 251zM132 235zM150 258zM195 271zM238 228zM107 240zM121 255zM162 234zM165 251zM202 226zM199 230zM259 250zM215 265zM208 257zM101 234zM199 232zM177 238zM249 231zM207 269zM209 254zM209 257zM242 253zM264 233zM138 256zM226 248zM194 242zM108 247zM189 247zM233 256zM189 261zM220 243zM153 259zM227 248zM179 234zM135 241zM205 263zM151 239zM152 232zM203 263zM195 268zM181 252zM252 227zM211 267zM197 264zM207 258zM178 264zM283 232zM154 244zM227 238zM304 246zM225 233zM177 238zM166 236zM158 235zM206 261zM166 262zM262 230zM131 234zM265 233zM195 262zM162 248zM258 254zM169 253zM148 253zM159 234zM233 262zM182 267zM167 256zM203 270zM197 269zM219 245zM136 232zM160 233zM202 269zM184 243zM185 231zM192 262zM212 228zM151 242zM248 247zM245 231zM191 271zM177 263zM184 234zM207 245zM198 232zM191 272zM237 246zM197 269zM239 227zM179 257zM118 253zM229 255zM227 232zM230 232zM124 243zM113 249zM209 239zM209 233zM126 226zM178 259zM213 266zM233 240zM136 241zM110 228zM173 254zM268 235zM200 263zM193 241zM119 250zM162 251zM123 251zM257 229zM228 248zM208 263zM138 234zM220 247zM157 262zM194 272zM130 238zM181 253zM190 270zM165 255zM219 235zM272 237zM227 261zM210 267zM219 255zM256 251zM182 260zM202 250zM234 232zM227 252zM256 233zM203 251zM247 243zM231 238zM161 247zM191 254zM154 253zM123 246zM270 240zM267 249zM222 261zM186 245zM249 228zM200 268zM239 257zM184 242zM134 231zM254 240zM194 252zM246 239zM245 249zM187 264zM140 243zM139 230zM102 227zM212 231zM156 237zM230 241zM168 264zM181 233zM258 231zM191 267zM175 265zM192 269zM199 271zM203 262zM214 268zM162 263zM196 271zM180 249zM183 267zM238 232zM169 261zM161 263zM141 248zM252 240zM172 238zM168 255zM164 229zM235 250zM194 272zM163 252zM217 235zM195 257zM207 262zM165 241zM242 260zM254 246zM140 257zM209 230zM114 252zM206 246zM226 254zM198 260zM204 242zM159 229zM206 232zM150 262zM233 259zM184 235zM210 260zM198 258zM233 260zM228 249zM179 268zM239 245zM138 238zM278 245zM174 266zM122 244zM155 263zM262 231zM208 250zM261 234zM258 242zM203 261zM213 268zM212 257zM185 241zM157 226zM251 254zM202 241zM206 268zM262 242zM120 242zM178 242zM230 261zM233 254zM260 255zM230 244zM259 248zM256 238zM254 234zM218 246zM261 253zM229 238zM161 250zM210 268zM150 253zM219 260zM216 262zM278 234zM213 255zM271 226zM219 230zM124 255zM222 243zM197 244zM199 233zM113 231zM196 233zM248 248zM185 269zM197 271zM270 232zM171 259zM199 266zM201 267zM211 233zM180 266zM137 233zM230 260zM178 266zM192 271zM165 254zM161 262zM193 260zM179 260zM142 255zM197 265zM163 255zM232 258zM217 243zM258 236zM156 248zM187 262zM233 257zM188 261zM259 253zM224 232zM136 237zM169 257zM190 237zM245 248zM270 235zM201 264zM238 233zM203 253zM229 262zM210 230zM206 268zM258 241zM190 271zM181 250zM184 268zM216 233zM256 254zM204 235zM233 255zM217 253zM144 237zM213 239zM253 241zM186 270zM141 247zM228 231zM149 226zM207 268zM170 253zM260 249zM164 244zM196 255zM177 248zM219 237zM125 253zM210 233zM257 235zM197 247zM265 253zM257 254zM246 248zM186 268zM210 226zM169 254zM95 229zM193 258zM235 256zM264 245zM163 263zM149 237zM211 249zM177 263zM250 251zM210 246zM276 237zM242 233zM146 245zM205 230zM271 251zM298 239zM202 257zM233 242zM207 256zM192 266zM294 232zM221 264zM197 246zM192 270zM109 249zM206 257zM135 250zM203 270zM143 252zM205 235zM192 272zM150 248zM255 250zM107 249zM135 251zM214 231zM159 243zM204 266zM158 234zM244 230zM181 266zM153 259zM245 234zM179 227zM280 250zM211 249zM240 258zM221 248zM88 235zM243 237zM112 243zM196 270zM180 268zM190 270zM112 232zM169 233zM150 256zM137 250zM224 237zM187 233zM211 252zM172 245zM137 237zM193 272zM138 236zM177 260zM194 229zM217 243zM162 237zM130 242zM193 255zM279 247zM164 259zM220 263zM204 252zM189 267zM195 239zM230 246zM180 238zM182 267zM137 258zM154 239zM196 270zM236 231zM171 229zM243 232zM166 266zM192 272zM113 228zM160 261zM266 231zM176 236zM187 268zM188 254zM181 267zM150 254zM245 235zM124 244zM265 254zM215 261zM152 256zM112 237zM198 250zM186 265zM240 255zM229 230zM231 228zM238 250zM155 228zM186 234zM216 247zM265 238zM238 260zM160 263zM232 253zM253 253zM182 266zM172 231zM187 251zM189 259zM162 245zM144 259zM157 262zM186 251zM239 261zM171 256zM112 237zM197 234zM194 272zM107 231zM203 263zM169 243zM259 256zM165 237zM248 248zM229 241zM104 234zM116 229zM185 259zM270 248zM138 257zM178 247zM204 248zM231 244zM270 253zM178 266zM164 248zM192 272zM208 241zM233 261zM264 243zM213 258zM133 245zM205 243zM219 250zM275 242zM249 257zM279 230zM185 248zM174 258zM255 227zM136 253zM132 231zM169 247zM149 229zM197 243zM188 226zM160 255zM261 236zM237 242zM197 271zM170 255zM151 255zM138 244zM127 248zM189 263zM256 228zM178 239zM159 227zM281 251zM188 269zM170 240zM157 234zM269 242zM171 235zM192 267zM178 261zM217 259zM167 258zM150 244zM162 251zM176 233zM227 240zM152 253zM196 265zM183 259zM180 244zM222 249zM137 254zM182 269zM255 235zM225 228zM204 249zM191 231zM190 265zM148 255zM134 254zM184 265zM158 232zM237 239zM259 257zM184 268zM189 230zM187 237zM186 228zM237 261zM248 245zM143 248zM238 226zM230 253zM226 245zM183 267zM191 238zM249 239zM190 238zM174 231zM283 239zM150 247zM136 232zM227 264zM236 255zM197 270zM258 252zM197 266zM181 263zM156 261zM267 244zM163 263zM194 269zM149 248zM237 250zM241 239zM111 230zM200 264zM200 269zM278 235zM222 254zM123 228zM234 250zM267 237zM127 256zM223 235zM225 230zM114 252zM199 270zM217 266zM165 238zM171 238zM247 245zM149 230zM192 249zM262 255zM192 252zM146 252zM132 230zM241 230zM219 260zM196 271zM201 242zM238 261zM268 252zM204 256zM207 263zM190 271zM156 255zM257 246zM202 242zM144 253zM223 229zM91 245zM207 229zM197 263zM229 257zM134 248zM183 239zM210 238zM203 245zM134 250zM235 228zM162 259zM268 239zM152 242zM207 267zM176 263zM177 235zM271 245zM245 228zM287 232zM177 257zM186 269zM226 248zM243 258zM278 244zM257 226zM202 266zM199 259zM204 229zM226 228zM215 264zM185 267zM207 228zM166 261zM240 261zM216 227zM192 259zM214 254zM194 269zM242 231zM175 264zM188 271zM167 236zM153 234zM160 230zM173 266zM110 229zM205 268zM187 250zM175 251zM178 254zM204 262zM207 266zM168 262zM119 247zM257 249zM217 228zM194 267zM210 249zM209 249zM198 253zM140 245zM243 255zM257 256zM214 260zM176 258zM134 250zM165 259zM225 265zM194 268zM201 245zM143 251zM244 249zM231 245zM240 237zM176 264zM122 236zM195 258zM201 249zM203 270zM178 247zM196 272zM214 266zM150 251zM182 239zM159 227zM249 255zM163 258zM186 257zM194 272zM206 246zM123 235zM186 238zM201 266zM205 263zM182 231zM148 235zM251 232zM134 226zM207 268zM165 249zM193 269zM196 270zM220 254zM175 268zM195 272zM135 244zM217 248zM134 245zM223 238zM210 269zM188 261zM123 238zM173 247zM215 262zM107 241zM154 260zM209 262zM136 248zM248 241zM268 242zM228 262zM196 269zM155 262zM220 241zM162 236zM119 238zM174 255zM261 238zM203 238zM192 266zM123 228zM216 265zM208 256zM197 269zM202 263zM202 265zM197 259zM145 260zM162 264zM190 270zM197 271zM104 241zM175 250zM222 235zM213 246zM168 260zM200 264zM160 263zM167 252zM256 243zM179 228zM178 258zM254 231zM181 268zM165 250zM192 234zM260 236zM232 233zM235 258zM276 232zM181 264zM236 240zM230 228zM197 248zM249 237zM164 235zM252 237zM175 263zM142 251zM234 229zM148 241zM217 267zM184 268zM113 253zM180 250zM229 243zM213 245zM206 226zM199 271zM182 266zM270 253zM116 236zM200 254zM251 254zM213 241zM182 232zM274 243zM217 236zM200 250zM156 256zM152 234zM185 245zM200 265zM221 263zM216 251zM228 245zM169 249zM161 261zM267 237zM197 239zM191 254zM246 228zM201 270zM197 269zM212 265zM275 252zM185 232zM146 241zM279 245zM220 228zM143 228zM291 239zM132 238zM249 244zM114 247zM176 268zM223 264zM187 238zM166 245zM186 246zM248 251zM176 233zM156 258zM259 244zM263 240zM200 269zM190 247zM156 228zM194 235zM105 236zM153 247zM165 228zM143 257zM159 236zM194 272zM210 264zM255 232zM205 247zM120 228zM239 255zM140 236zM260 240zM203 270zM200 269zM107 230zM167 245zM286 247zM169 241zM146 261zM223 256zM197 247zM173 239zM213 267zM209 264zM136 226zM221 259zM119 247zM184 269zM156 240zM174 267zM175 256zM242 251zM230 241zM253 230zM190 265zM147 241zM204 268zM194 272zM231 262zM229 246zM210 229zM190 244zM70 240zM239 250zM192 232zM152 258zM182 240zM174 251zM210 248zM206 247zM202 256zM216 252zM260 237zM216 258zM189 240zM188 269zM182 234zM152 256zM245 236zM136 251zM110 250zM202 270zM158 234zM183 252zM186 270zM84 236zM137 234zM236 245zM186 266zM271 238zM223 243zM166 259zM173 230zM271 247zM259 238zM181 240zM186 254zM227 260zM258 240zM118 237zM257 236zM215 266zM258 237zM126 250zM203 233zM165 249zM155 263zM172 253zM195 261zM250 252zM262 237zM154 242zM257 255zM184 254zM208 264zM166 262zM189 262zM230 248zM217 241zM114 237zM288 246zM171 262zM215 264zM132 250zM134 229zM237 260zM229 261zM151 234zM223 244zM254 240zM222 229zM197 271zM227 253zM240 257zM198 252zM136 257zM153 257zM149 260zM178 269zM201 209zM194 175zM180 216zM199 105zM183 97zM209 103zM180 96zM191 167zM178 201zM189 206zM191 174zM192 192zM199 155zM200 202zM209 88zM189 215zM196 206zM206 212zM206 225zM180 153zM206 220zM178 200zM186 187zM184 190zM182 107zM187 190zM205 221zM203 81zM198 216zM179 134zM190 144zM227 226zM198 188zM196 179zM205 147zM209 173zM188 200zM196 111zM196 209zM188 183zM205 221zM185 183zM206 107zM189 203zM198 133zM197 121zM187 194zM207 207zM207 159zM200 199zM199 153zM199 134zM181 195zM208 160zM207 221zM201 197zM182 150zM185 199zM198 189zM198 219zM203 202zM194 156zM208 157zM181 123zM178 213zM185 97zM199 224zM205 226zM203 172zM185 187zM201 147zM182 143zM195 223zM189 195zM198 171zM185 186zM187 127zM199 194zM206 93zM208 216zM183 181zM196 137zM200 152zM195 168zM193 102zM198 96zM192 200zM208 225zM184 152zM193 114zM189 186zM194 125zM179 72zM197 209zM200 198zM189 217zM202 224zM197 156zM181 82zM187 181zM209 215zM196 208zM187 178zM199 158zM192 116zM188 154zM197 136zM183 215zM200 176zM193 132zM187 219zM188 171zM207 206zM185 150zM183 128zM194 154zM191 215zM206 223zM198 142zM197 192zM185 199zM195 176zM206 187zM205 173zM199 206zM204 102zM189 189zM195 77zM198 210zM201 163zM207 211zM185 217zM200 179zM204 148zM198 196zM182 183zM204 203zM197 164zM192 213zM200 140zM198 212zM207 217zM193 160zM179 198zM193 121zM202 218zM188 188zM203 178zM198 217zM194 207zM180 218zM190 137zM188 217zM179 150zM201 201zM209 208zM182 179zM199 145zM180 133zM181 185zM193 149zM197 196zM189 174zM192 176zM180 167zM186 210zM185 205zM191 208zM183 194zM185 226zM185 121zM208 214zM198 220zM204 129zM207 183zM197 110zM187 202zM199 176zM204 144zM195 179zM205 170zM183 192zM202 176zM204 124zM202 133zM181 177zM206 181zM184 181zM209 172zM180 134zM191 153zM199 210zM197 216zM186 111zM202 213zM185 115zM195 215zM193 215zM200 201zM207 127zM202 213zM181 154zM202 169zM178 174zM188 209zM205 191zM183 165zM205 178zM202 178zM204 168zM197 187zM203 130zM184 92zM202 128zM185 193zM200 174zM183 207zM191 134zM205 223zM187 135zM192 202zM199 207zM188 146zM204 211zM190 223zM193 132zM184 220zM184 119zM188 207zM203 196zM190 101zM205 129zM189 129zM183 185zM187 154zM183 118zM199 191zM196 132zM193 137zM199 165zM192 207zM199 191zM203 171zM183 218zM191 142zM191 108zM197 174zM195 149zM189 199zM203 157zM182 99zM200 162zM196 217zM195 195zM202 174zM206 207zM186 51z" stroke="#222" stroke-opacity="0.265" stroke-width="5.6" stroke-linecap="round" fill="none"/>
<path transform="scale(.5)" d="M227 234zM138 257zM165 266zM147 238zM177 266zM195 262zM200 259zM130 257zM153 261zM194 266zM157 261zM224 255zM230 233zM150 236zM236 246zM209 243zM183 261zM186 235zM257 251zM271 238zM211 245zM146 260zM234 234zM241 256zM249 259zM117 251zM179 249zM205 268zM172 261zM198 271zM221 262zM171 266zM149 234zM160 264zM151 259zM237 254zM135 239zM254 252zM277 252zM227 264zM202 259zM205 260zM212 263zM188 230zM190 266zM145 246zM153 254zM146 228zM253 249zM181 269zM278 249zM141 247zM182 267zM208 255zM161 229zM215 266zM259 252zM146 236zM131 250zM136 230zM224 264zM226 265zM194 267zM183 240zM158 261zM274 249zM270 227zM235 251zM183 269zM255 244zM191 270zM278 252zM185 265zM125 251zM192 247zM207 269zM192 272zM182 229zM263 240zM183 249zM224 238zM249 255zM197 268zM228 253zM185 231zM192 257zM190 241zM184 230zM268 230zM244 241zM144 246zM240 234zM137 243zM152 259zM226 248zM257 233zM112 230zM284 250zM191 271zM126 236zM225 261zM254 235zM278 249zM248 227zM164 237zM209 260zM206 269zM183 268zM184 227zM147 249zM184 269zM139 251zM225 257zM246 232zM244 234zM224 228zM160 243zM234 244zM258 230zM128 235zM188 244zM149 247zM147 242zM150 227zM125 253zM179 251zM232 235zM230 258zM189 263zM152 231zM260 252zM272 229zM159 237zM96 232zM186 240zM133 236zM252 253zM185 233zM151 250zM154 238zM229 241zM155 249zM212 250zM194 267zM245 257zM243 254zM203 254zM165 229zM170 264zM245 249zM234 261zM173 233zM156 253zM191 229zM226 246zM217 254zM185 256zM172 264zM193 266zM139 242zM184 258zM123 236zM252 235zM168 234zM165 241zM130 248zM275 245zM263 226zM237 261zM145 229zM119 242zM141 232zM124 246zM188 271zM205 268zM198 271zM270 229zM227 253zM259 255zM198 241zM142 230zM186 247zM117 250zM160 232zM191 263zM222 257zM238 233zM129 251zM216 253zM154 234zM203 254zM263 240zM257 245zM154 253zM178 258zM178 245zM208 267zM191 245zM148 241zM139 240zM200 269zM97 237zM269 254zM106 235zM136 237zM257 252zM218 237zM153 261zM176 237zM192 254zM170 258zM136 241zM179 264zM205 254zM246 226zM181 243zM159 247zM206 264zM208 268zM187 254zM147 259zM210 242zM162 226zM194 247zM190 248zM182 260zM213 245zM163 240zM146 259zM212 267zM214 267zM219 246zM190 269zM205 241zM224 251zM154 257zM153 237zM110 244zM228 251zM250 250zM193 270zM170 263zM184 258zM151 259zM182 270zM175 259zM160 263zM162 257zM164 256zM264 233zM159 239zM202 266zM233 258zM137 253zM164 249zM159 251zM154 238zM150 254zM197 264zM192 271zM137 259zM184 237zM248 257zM220 231zM183 259zM282 236zM143 237zM165 227zM193 272zM229 258zM196 227zM201 256zM138 227zM210 245zM231 251zM192 233zM289 245zM282 232zM308 227zM209 239zM235 239zM149 258zM186 258zM233 258zM122 251zM194 271zM169 258zM191 266zM186 268zM131 247zM79 234zM168 258zM187 266zM287 235zM216 237zM258 232zM145 252zM178 262zM212 262zM219 265zM223 229zM315 233zM248 240zM202 270zM184 268zM258 226zM192 229zM125 232zM158 262zM195 258zM105 244zM219 243zM157 238zM171 254zM114 243zM231 226zM189 228zM184 269zM194 253zM140 258zM266 237zM202 257zM205 227zM197 269zM193 255zM197 244zM170 235zM150 245zM226 247zM183 262zM317 233zM169 253zM212 267zM172 264zM207 233zM251 227zM209 240zM262 238zM218 251zM189 230zM243 234zM128 229zM206 267zM100 247zM220 258zM167 262zM180 256zM193 270zM120 231zM205 264zM193 270zM202 228zM188 263zM191 268zM173 255zM126 256zM152 231zM297 233zM259 241zM189 268zM257 237zM189 234zM186 267zM180 251zM207 268zM181 238zM154 257zM212 229zM150 248zM151 257zM187 243zM182 269zM171 259zM193 270zM144 247zM159 261zM187 270zM185 269zM238 254zM110 232zM144 259zM160 263zM219 228zM151 240zM190 266zM218 258zM197 272zM251 243zM183 265zM231 241zM175 264zM140 245zM223 242zM193 272zM174 256zM239 259zM247 258zM230 246zM196 228zM200 269zM134 244zM237 261zM261 232zM211 261zM254 254zM192 271zM247 260zM198 267zM224 235zM187 262zM246 229zM175 265zM188 236zM211 262zM192 235zM138 243zM139 233zM270 250zM199 270zM171 234zM146 261zM138 246zM230 260zM189 237zM140 236zM202 265zM132 256zM158 261zM246 236zM269 246zM133 239zM253 257zM126 227zM181 242zM254 231zM294 227zM212 239zM193 233zM132 248zM202 251zM173 242zM195 258zM140 243zM174 267zM157 229zM145 229zM186 270zM223 264zM131 238zM239 251zM250 226zM233 261zM193 272zM231 253zM172 240zM181 265zM272 242zM190 254zM267 232zM195 272zM206 242zM165 262zM186 266zM168 253zM108 244zM180 266zM277 242zM199 252zM118 237zM99 245zM192 270zM135 231zM142 253zM231 232zM184 267zM236 227zM190 238zM182 266zM199 254zM197 228zM177 236zM207 241zM187 258zM227 263zM206 227zM126 237zM210 268zM194 256zM207 248zM236 249zM183 253zM188 270zM111 245zM135 247zM143 252zM179 250zM224 229zM227 260zM90 247zM265 244zM238 262zM254 229zM198 269zM180 251zM235 258zM186 269zM234 254zM170 229zM170 254zM192 272zM209 268zM178 250zM252 257zM135 253zM200 268zM211 265zM266 250zM172 264zM201 260zM146 239zM223 247zM248 234zM233 241zM153 251zM247 233zM255 242zM193 232zM193 249zM178 253zM100 246zM196 272zM154 239zM211 240zM199 271zM197 227zM144 253zM161 260zM169 252zM253 254zM192 253zM201 242zM217 262zM275 251zM202 238zM207 239zM167 258zM181 241zM195 272zM184 255zM210 265zM202 251zM200 257zM271 249zM166 264zM267 235zM201 269zM169 245zM172 234zM171 241zM179 262zM288 249zM165 240zM178 268zM222 257zM204 267zM238 262zM156 254zM162 235zM162 235zM172 262zM195 271zM177 241zM197 250zM153 241zM132 233zM128 230zM180 250zM116 248zM186 267zM105 228zM172 261zM231 261zM290 249zM156 229zM118 229zM155 239zM244 247zM212 253zM239 227zM182 232zM231 236zM222 242zM223 265zM224 249zM163 261zM215 258zM204 248zM226 263zM209 263zM195 264zM201 264zM249 248zM126 234zM205 264zM187 266zM192 264zM182 268zM188 270zM216 240zM261 236zM163 262zM140 246zM213 243zM268 242zM215 244zM216 264zM261 232zM190 270zM136 236zM191 270zM192 265zM154 236zM151 228zM175 268zM250 251zM196 226zM133 240zM224 263zM197 250zM218 265zM289 245zM120 229zM270 252zM112 243zM151 252zM278 249zM132 249zM258 256zM207 269zM162 230zM186 267zM167 226zM132 228zM130 254zM123 252zM260 254zM161 260zM187 253zM219 265zM245 257zM223 260zM167 250zM173 245zM168 252zM167 258zM195 259zM210 237zM232 242zM143 257zM175 243zM128 253zM177 252zM194 272zM144 245zM139 231zM198 262zM196 272zM229 245zM173 252zM145 256zM168 248zM179 236zM172 259zM178 234zM224 236zM190 269zM129 238zM152 260zM147 257zM197 233zM209 235zM143 239zM252 226zM196 255zM119 233zM190 260zM234 232zM255 229zM193 272zM195 269zM167 265zM136 248zM209 260zM195 239zM172 232zM150 249zM140 253zM197 234zM202 270zM218 232zM275 235zM136 258zM188 271zM131 244zM243 239zM222 266zM262 255zM240 258zM127 239zM231 241zM207 238zM123 252zM213 241zM257 242zM181 260zM111 247zM240 236zM228 263zM170 228zM228 253zM123 230zM270 230zM186 263zM118 228zM137 244zM130 252zM168 263zM249 255zM224 257zM258 252zM194 272zM206 264zM241 232zM225 242zM154 263zM270 235zM116 250zM138 254zM201 240zM234 238zM270 243zM192 260zM155 227zM231 251zM186 269zM125 243zM189 267zM218 244zM241 253zM147 236zM258 248zM238 250zM114 226zM239 254zM218 261zM160 261zM179 266zM218 249zM231 248zM143 231zM289 233zM274 231zM138 247zM224 255zM122 233zM185 254zM203 268zM229 238zM178 252zM208 266zM198 236zM132 252zM257 240zM198 271zM190 261zM187 268zM209 264zM232 260zM114 227zM250 248zM219 237zM177 246zM206 246zM143 260zM201 233zM181 269zM182 262zM115 233zM132 255zM111 246zM175 262zM155 236zM171 231zM205 258zM202 247zM162 260zM189 267zM252 246zM184 242zM234 247zM210 264zM155 241zM222 246zM168 259zM236 257zM235 245zM169 236zM151 254zM223 231zM241 232zM145 238zM198 248zM209 263zM156 228zM273 252zM191 251zM115 253zM88 245zM181 245zM199 228zM183 226zM197 271zM263 227zM205 266zM271 248zM169 255zM192 264zM263 231zM181 269zM196 267zM242 237zM226 247zM179 227zM197 258zM192 270zM149 239zM290 242zM163 245zM248 240zM229 243zM205 240zM235 226zM191 272zM254 235zM242 233zM167 243zM237 243zM238 247zM257 237zM219 240zM270 249zM261 255zM116 254zM209 227zM260 244zM196 240zM140 241zM230 254zM192 271zM167 252zM249 231zM240 235zM161 231zM182 234zM243 246zM210 267zM192 226zM273 250zM176 261zM172 262zM195 267zM179 239zM168 232zM200 256zM231 241zM155 239zM215 231zM188 270zM165 261zM146 255zM154 262zM271 233zM154 227zM208 260zM196 259zM202 269zM231 264zM187 266zM139 259zM190 251zM264 248zM191 271zM178 260zM188 268zM196 240zM170 245zM183 268zM159 240zM191 270zM107 228zM186 241zM226 229zM240 246zM176 235zM187 265zM230 239zM207 245zM194 258zM210 268zM176 252zM192 267zM204 253zM183 233zM202 230zM186 260zM146 235zM235 258zM256 236zM195 272zM203 262zM163 265zM241 253zM189 267zM140 236zM213 237zM266 251zM129 249zM205 263zM134 247zM179 244zM135 241zM215 267zM200 269zM193 271zM258 245zM195 270zM205 261zM229 253zM192 255zM219 244zM263 228zM238 236zM154 229zM143 227zM219 252zM119 240zM228 253zM176 257zM239 238zM185 270zM199 244zM159 242zM157 240zM174 229zM183 261zM200 232zM155 257zM226 235zM193 271zM190 271zM165 261zM206 267zM224 253zM201 265zM283 234zM194 272zM248 254zM216 227zM198 258zM229 253zM238 256zM209 266zM158 263zM266 254zM212 266zM221 258zM204 267zM255 251zM240 235zM243 256zM227 251zM259 247zM247 231zM157 259zM165 258zM226 250zM182 267zM241 228zM118 239zM147 254zM127 243zM165 240zM180 232zM265 229zM257 252zM241 258zM191 268zM231 255zM239 250zM165 263zM269 231zM198 271zM197 231zM194 271zM200 269zM179 262zM194 272zM167 256zM161 237zM191 255zM254 243zM235 233zM202 269zM221 258zM209 254zM231 226zM100 249zM162 244zM263 231zM209 269zM152 231zM227 262zM205 236zM230 257zM88 229zM137 245zM198 247zM209 267zM131 236zM269 236zM195 233zM205 269zM117 246zM182 267zM169 231zM181 231zM163 237zM221 241zM241 254zM265 253zM207 247zM167 264zM272 236zM154 227zM104 229zM195 238zM274 245zM259 242zM111 237zM242 242zM264 245zM200 269zM192 268zM243 248zM142 257zM183 270zM139 231zM174 256zM206 262zM230 246zM138 258zM214 268zM195 272zM233 249zM252 243zM254 254zM171 243zM141 236zM280 250zM184 270zM193 267zM182 229zM212 263zM171 235zM261 248zM243 259zM265 254zM202 270zM268 245zM225 235zM213 257zM140 239zM230 256zM151 262zM176 263zM161 257zM212 253zM229 251zM204 268zM138 245zM262 248zM236 233zM209 240zM189 230zM192 269zM147 246zM236 246zM178 246zM170 234zM251 254zM194 272zM253 227zM160 263zM143 259zM268 244zM254 226zM165 260zM190 236zM251 233zM195 253zM190 228zM151 245zM223 228zM243 229zM186 226zM163 237zM160 260zM215 263zM129 226zM165 249zM148 232zM231 261zM231 261zM200 231zM142 250zM141 236zM104 244zM158 227zM210 241zM233 243zM230 262zM249 258zM160 230zM177 227zM138 227zM207 252zM224 228zM206 262zM261 231zM189 261zM173 240zM277 240zM185 269zM186 238zM144 230zM137 249zM193 259zM155 243zM113 247zM165 250zM265 244zM252 235zM271 248zM124 245zM170 249zM216 267zM263 239zM200 261zM190 270zM126 256zM168 255zM207 239zM187 248zM237 249zM241 253zM253 236zM289 237zM252 236zM272 252zM245 259zM202 266zM255 248zM151 257zM217 263zM159 241zM190 260zM223 236zM166 240zM182 265zM152 235zM195 249zM296 227zM116 233zM209 263zM192 272zM220 230zM194 272zM156 237zM223 253zM112 250zM220 265zM195 272zM177 259zM180 237zM215 237zM219 229zM164 236zM149 240zM201 246zM220 246zM165 263zM121 230zM143 241zM176 268zM162 253zM122 230zM196 266zM197 270zM195 270zM141 256zM247 230zM194 258zM188 257zM121 255zM220 265zM255 254zM206 240zM231 262zM210 229zM195 272zM233 260zM249 259zM192 229zM246 235zM154 238zM179 259zM216 266zM239 253zM235 256zM163 254zM249 239zM232 263zM149 250zM121 230zM177 266zM106 229zM248 238zM255 251zM210 255zM202 229zM214 256zM136 234zM139 237zM214 262zM186 255zM164 238zM193 269zM160 234zM170 226zM266 248zM226 264zM224 264zM203 263zM156 251zM138 258zM232 235zM249 256zM170 254zM179 232zM228 237zM124 248zM130 253zM220 263zM130 242zM212 268zM249 251zM271 227zM198 271zM209 268zM201 270zM171 264zM192 258zM266 235zM182 261zM249 248zM196 260zM160 260zM139 249zM217 247zM124 252zM158 238zM171 265zM138 231zM210 227zM115 229zM120 241zM214 265zM257 249zM170 264zM143 232zM152 248zM145 234zM242 261zM186 269zM232 257zM190 271zM184 257zM178 257zM154 261zM266 255zM238 249zM225 249zM214 232zM140 248zM226 231zM145 260zM223 265zM157 263zM183 257zM198 248zM262 232zM220 264zM230 256zM109 245zM158 232zM104 234zM106 233zM219 253zM248 238zM181 252zM178 269zM190 250zM188 264zM219 248zM177 229zM163 243zM180 226zM198 264zM167 246zM145 260zM181 240zM174 260zM245 232zM152 244zM196 254zM129 254zM196 259zM188 265zM141 238zM189 257zM181 243zM127 255zM168 265zM187 237zM186 269zM168 231zM171 267zM213 264zM243 243zM189 238zM125 237zM181 227zM182 243zM185 270zM194 248zM236 229zM216 249zM209 266zM170 259zM250 259zM187 252zM134 255zM246 237zM243 254zM190 261zM129 246zM166 239zM93 235zM234 260zM290 248zM191 247zM268 240zM195 258zM169 227zM207 248zM205 234zM185 247zM266 245zM224 265zM186 264zM240 226zM260 252zM235 255zM187 267zM175 263zM195 271zM313 235zM185 266zM136 236zM222 264zM181 238zM154 258zM197 246zM129 230zM210 254zM129 244zM203 258zM166 235zM201 258zM128 239zM243 242zM157 258zM262 245zM164 260zM289 245zM170 251zM176 233zM176 255zM200 242zM126 228zM247 258zM281 250zM186 251zM193 264zM279 235zM162 250zM129 256zM196 247zM199 259zM275 230zM212 254zM181 268zM145 247zM186 270zM219 237zM186 270zM207 244zM107 244zM200 260zM259 229zM223 257zM173 229zM233 256zM270 239zM151 234zM143 253zM195 272zM149 242zM287 234zM137 226zM207 260zM109 252zM182 263zM218 242zM159 258zM205 243zM140 253zM195 239zM201 266zM201 267zM216 248zM239 261zM207 243zM219 230zM141 251zM155 239zM232 261zM186 270zM156 262zM191 262zM225 265zM166 237zM195 260zM185 254zM107 233zM196 269zM199 261zM100 239zM176 265zM182 243zM214 232zM152 231zM150 252zM200 234zM173 260zM178 263zM199 266zM139 245zM221 257zM180 252zM219 261zM92 230zM217 245zM214 254zM175 260zM107 231zM220 228zM153 229zM178 268zM227 264zM186 269zM256 241zM242 258zM148 259zM159 247zM249 244zM178 227zM128 255zM255 256zM203 269zM202 223zM200 115zM204 114zM193 219zM207 204zM207 224zM186 163zM185 107zM203 164zM204 186zM184 195zM187 120zM206 215zM195 192zM210 140zM182 171zM197 132zM181 223zM190 118zM199 154zM190 187zM198 168zM207 160zM181 164zM195 134zM198 127zM205 120zM197 201zM204 200zM196 172zM199 125zM192 207zM190 155zM205 222zM207 203zM204 124zM191 200zM184 207zM197 193zM205 214zM196 220zM185 213zM184 191zM186 222zM190 194zM179 147zM196 182zM200 153zM184 81zM208 120zM197 220zM210 165zM192 208zM190 193zM206 146zM192 197zM202 135zM189 210zM184 192zM203 163zM203 171zM200 188zM190 90zM180 130zM187 225zM194 196zM185 153zM199 221zM181 224zM196 114zM209 194zM201 208zM202 182zM190 213zM182 159zM205 212zM183 185zM199 94zM198 188zM200 225zM182 215zM209 93zM182 192zM203 82zM179 112zM189 166zM207 147zM206 190zM205 182zM201 193zM209 185zM209 175zM201 135zM204 204zM194 155zM196 200zM190 223zM181 200zM192 169zM186 91zM199 197zM202 216zM191 216zM186 225zM205 141zM207 129zM179 134zM199 138zM182 191zM204 100zM179 127zM196 145zM202 217zM197 164zM199 222zM190 210zM198 209zM204 201zM180 99zM184 220zM205 94zM204 199zM192 92zM180 192zM181 175zM186 150zM205 212zM194 121zM190 167zM182 217zM191 213zM206 198zM201 225zM208 216zM208 226zM184 187zM180 187zM188 201zM189 209zM199 176zM191 207zM198 164zM179 201zM198 209zM204 181zM209 127zM186 220zM185 207zM197 200zM199 166zM202 185zM190 168zM183 196zM193 223zM193 187zM179 104zM196 139zM185 220zM188 172zM180 223zM197 181zM182 209zM194 196zM191 154zM190 169zM206 178zM181 185zM179 212zM190 176zM190 160zM195 161zM200 134zM182 199zM189 154zM208 213zM204 182zM195 165zM206 220zM182 103zM197 157zM181 108zM204 226zM185 189zM179 226zM193 197zM193 199zM186 196zM205 124zM206 219zM206 190zM206 173zM206 203zM199 167zM200 129zM191 184zM187 120zM179 198zM182 204zM181 138zM199 200zM189 192zM186 193zM200 143zM191 213zM188 139zM180 225zM209 217zM196 202zM203 155zM183 142zM195 176zM185 201zM187 173zM185 118zM191 214zM204 220zM190 186zM195 178zM192 141zM188 168zM193 222zM193 174zM185 140zM198 185zM193 217zM184 212zM191 191zM190 118zM204 170zM186 189zM186 113zM188 137zM206 178zM189 183zM181 200zM204 190zM188 80zM203 191zM200 148zM203 154zM195 219zM187 225zM198 207zM206 169zM185 203zM196 131zM184 190zM203 127zM198 144zM197 115zM196 114zM198 185zM195 215zM202 155zM188 160zM184 221zM203 172z" stroke="#222" stroke-opacity="0.265" stroke-width="5.6" stroke-linecap="round" fill="none"/><path transform="scale(.5)" d="M172 171zM156 223zM153 211zM168 219zM121 209zM133 209zM155 222zM150 214zM138 199zM147 222zM164 184zM171 225zM149 206zM67 224zM175 212zM161 115zM121 225zM161 136zM127 201zM140 207zM168 208zM161 146zM175 176zM176 205zM149 211zM175 221zM161 208zM160 218zM148 197zM175 183zM168 218zM155 157zM166 202zM90 211zM145 222zM178 156zM171 144zM142 213zM116 220zM164 213zM165 184zM166 207zM148 200zM175 136zM160 224zM147 215zM162 150zM165 87zM166 216zM172 214zM176 194zM142 202zM165 194zM153 198zM170 189zM155 221zM171 159zM167 184zM168 221zM154 190zM169 224zM167 207zM162 179zM173 210zM175 179zM158 225zM128 147zM175 199zM146 225zM167 224zM147 196zM125 196zM166 149zM111 221zM169 190zM161 186zM178 204zM174 147zM150 155zM167 163zM96 212zM163 177zM174 200zM108 218zM162 200zM133 221zM133 200zM165 226zM151 132zM149 213zM176 216zM133 220zM177 206zM148 221zM171 171zM104 209zM155 205zM175 222zM164 183zM172 168zM145 217zM72 219zM167 220zM171 202zM178 164zM164 182zM130 220zM175 211zM171 159zM157 208zM173 182zM157 186zM149 171zM161 198zM113 118zM174 198zM166 125zM149 216zM170 214zM159 218zM161 209zM168 222zM174 219zM163 171zM177 109zM158 197zM167 199zM155 119zM132 225zM161 203zM169 176zM140 168zM161 219zM157 137zM152 203zM153 216zM95 194zM169 136zM153 204zM151 197zM172 148zM129 208zM162 176zM147 212zM145 205zM146 223zM137 121zM120 164zM169 176zM154 221zM171 200zM145 180zM176 173zM158 219zM148 207zM172 188zM157 199zM155 209zM161 164zM150 214zM151 166zM95 218zM155 165zM174 192zM176 176zM160 156zM158 111zM173 133zM128 226zM173 147zM154 202zM163 213zM169 192zM164 177zM167 181zM160 197zM174 169zM169 119zM169 141zM168 201zM162 198zM177 171zM166 208zM167 139zM173 120zM178 225zM151 174zM163 183zM152 196zM137 146zM161 170zM174 198zM174 197zM169 178zM132 218zM171 146zM153 216zM64 192z" stroke="#2410ff" stroke-opacity="0.72" stroke-width="5.8" stroke-linecap="round" fill="none"/>
<path transform="scale(.5)" d="M168 169zM135 195zM139 178zM169 145zM162 117zM170 205zM158 200zM170 128zM144 197zM140 182zM159 219zM172 224zM146 212zM144 202zM176 184zM168 185zM169 213zM175 202zM163 216zM153 184zM172 191zM145 192zM170 121zM168 148zM171 221zM113 170zM149 188zM122 181zM153 185zM175 205zM161 178zM156 189zM129 202zM148 219zM154 226zM176 133zM141 157zM161 162zM145 219zM156 165zM174 171zM175 135zM155 217zM170 174zM169 195zM173 223zM77 223zM174 193zM178 219zM170 198zM146 213zM177 216zM164 153zM178 110zM154 166zM177 212zM155 219zM162 194zM155 193zM166 141zM154 216zM153 198zM125 192zM176 191zM152 167zM155 210zM159 157zM158 221zM156 189zM144 199zM113 209zM159 166zM174 177zM141 200zM172 113zM153 202zM177 174zM122 195zM165 221zM177 89zM162 221zM172 159zM155 211zM162 154zM170 184zM153 223zM165 113zM157 169zM174 185zM153 178zM153 188zM145 219zM174 199zM151 143zM173 200zM168 167zM158 219zM149 204zM161 134zM113 128zM166 182zM170 113zM147 185zM143 197zM160 125zM152 202zM160 198zM161 211zM159 217zM144 136zM136 223zM174 142zM153 148zM171 199zM169 142zM164 188zM158 138zM158 166zM157 215zM149 172zM166 188zM172 173zM135 215zM171 138zM173 189zM151 201zM166 201zM155 204zM167 137zM157 190zM164 226zM176 219zM153 212zM169 211zM68 203zM160 181zM165 166zM146 212zM172 164zM163 221zM164 176zM141 225zM164 216zM136 210zM171 143zM176 153zM175 130zM152 221zM170 211zM165 118zM147 208zM173 152zM146 213zM151 221zM177 105zM153 203zM157 190zM175 185zM167 182zM163 201zM136 223zM162 211zM172 194zM175 200zM166 213zM174 223zM151 193zM169 223zM114 220zM175 203zM154 152zM164 172zM176 174zM152 219zM150 217zM177 128zM166 217zM97 198zM169 200zM128 197zM178 154zM158 177zM177 138zM140 185zM136 217zM174 200zM148 220zM167 177zM122 219zM146 188zM152 222zM97 192zM175 212zM152 191zM152 218zM167 123zM170 143zM78 203z" stroke="#2410ff" stroke-opacity="0.72" stroke-width="5.8" stroke-linecap="round" fill="none"/>
<path transform="scale(.5)" d="M168 214zM161 219zM160 187zM169 137zM143 215zM170 180zM164 146zM164 174zM163 167zM155 193zM165 187zM143 221zM125 191zM177 206zM167 148zM148 205zM168 225zM171 212zM170 186zM171 181zM169 213zM163 155zM166 217zM169 185zM153 181zM147 213zM156 203zM173 148zM152 211zM154 223zM89 201zM144 216zM154 158zM165 166zM162 150zM160 226zM130 222zM107 176zM166 223zM153 198zM152 215zM156 207zM158 184zM129 185zM111 89zM172 117zM161 168zM164 144zM171 166zM143 225zM172 170zM161 184zM163 209zM176 149zM169 147zM173 188zM172 154zM158 180zM152 210zM174 167zM153 185zM160 203zM132 184zM154 189zM168 207zM101 221zM168 79zM128 218zM177 219zM163 209zM156 207zM171 217zM158 197zM171 161zM156 158zM170 199zM117 226zM174 167zM175 122zM159 224zM135 221zM162 211zM147 143zM166 185zM173 200zM159 214zM168 201zM157 178zM157 187zM171 197zM157 200zM170 189zM133 121zM163 108zM163 189zM161 176zM177 187zM149 222zM132 184zM172 141zM174 203zM140 215zM155 217zM144 214zM150 211zM125 219zM145 146zM156 209zM172 161zM171 219zM158 190zM169 132zM152 214zM172 210zM163 210zM170 215zM147 225zM147 224zM170 224zM158 182zM163 203zM167 153zM170 177zM116 187zM163 214zM141 199zM163 186zM108 129zM133 214zM171 179zM140 185zM140 195zM97 219zM177 215zM97 223zM148 221zM172 184zM170 170zM164 225zM173 218zM168 151zM166 180zM140 188zM157 172zM175 116zM173 201zM152 224zM159 199zM168 136zM153 173zM174 139zM153 217zM170 173zM170 216zM165 165zM158 214zM165 199zM157 123zM151 202zM163 179zM172 194zM174 212zM172 224zM119 224zM173 136zM143 99zM163 224zM176 136zM120 210zM165 115zM149 217zM167 142zM158 219zM155 202zM169 222zM159 218zM118 192zM164 146zM168 165zM171 192zM174 114zM148 196zM159 194zM173 215zM178 174zM157 211zM173 148zM169 185zM165 223zM162 220zM136 209zM176 192zM169 135zM155 151zM145 172zM153 55z" stroke="#2410ff" stroke-opacity="0.72" stroke-width="5.8" stroke-linecap="round" fill="none"/>
<path transform="scale(.5)" d="M164 159zM160 209zM122 165zM171 151zM176 207zM149 207zM141 201zM139 90zM162 143zM161 210zM136 217zM171 152zM151 211zM144 217zM173 100zM132 208zM96 164zM173 166zM159 189zM159 188zM161 196zM153 193zM132 188zM159 147zM159 209zM170 190zM173 184zM147 147zM155 196zM168 171zM139 124zM163 172zM123 202zM149 193zM170 211zM143 189zM165 205zM177 207zM160 177zM166 218zM171 189zM164 159zM133 202zM175 218zM174 208zM169 222zM175 115zM172 221zM165 195zM149 207zM150 197zM153 222zM87 222zM163 221zM172 190zM157 209zM174 108zM170 123zM134 212zM164 75zM173 153zM168 185zM144 204zM173 208zM81 147zM164 202zM171 207zM176 208zM177 206zM162 118zM167 206zM172 147zM128 111zM175 174zM176 179zM161 191zM132 215zM127 182zM165 163zM134 212zM168 191zM165 207zM167 185zM174 223zM166 174zM163 225zM159 200zM150 190zM172 129zM175 224zM173 226zM167 135zM150 148zM170 128zM137 159zM93 221zM173 214zM143 186zM145 225zM152 168zM167 130zM160 185zM172 140zM163 115zM165 199zM159 204zM132 176zM169 127zM164 218zM158 184zM172 217zM172 211zM161 212zM162 193zM162 223zM161 208zM146 223zM174 198zM136 207zM169 203zM132 201zM151 210zM147 224zM176 221zM173 127zM151 214zM175 212zM161 205zM171 208zM162 163zM150 200zM135 194zM142 224zM156 211zM171 196zM147 218zM177 93zM157 181zM174 168zM141 215zM154 137zM174 220zM147 215zM167 201zM172 221zM159 167zM169 193zM153 207zM163 180zM127 212zM172 205zM177 181zM174 122zM172 147zM144 209zM176 187zM155 187zM174 138zM158 185zM166 219zM138 221zM69 214zM149 213zM164 167zM173 181zM102 221zM176 222zM149 217zM150 216zM151 221zM163 208zM165 205zM165 213zM160 157zM166 219zM161 166zM158 167zM98 225zM170 193zM158 208zM159 205zM172 224zM160 222zM148 212zM163 167zM171 217zM163 219zM150 226zM141 218zM145 222zM128 169zM150 170zM140 224zM138 172zM175 198zM157 195zM167 205zM177 226zM173 175zM175 178zM170 212zM151 212zM168 145zM151 195zM160 200zM171 112zM147 224zM149 218zM176 188zM166 158zM172 211zM150 174zM168 166zM154 206zM145 150zM161 162zM161 138zM146 143zM154 189zM169 129zM163 211zM154 202zM178 220zM172 218zM118 225zM172 152zM155 223zM165 94zM172 156zM145 222zM164 173zM168 193zM115 207zM171 206z" stroke="#2410ff" stroke-opacity="0.72" stroke-width="5.8" stroke-linecap="round" fill="none"/><path transform="scale(.5)" d="M220 142zM220 134zM212 207zM245 206zM224 158zM214 155zM216 204zM214 141zM243 137zM236 179zM242 217zM220 153zM236 222zM236 226zM228 188zM211 191zM224 185zM220 219zM210 201zM217 202zM221 154zM220 211zM234 204zM212 183zM233 202zM222 199zM233 195zM219 215zM211 204zM281 137zM210 122zM226 202zM214 158zM223 177zM217 226zM287 191zM239 206zM244 201zM255 224zM216 110zM221 154zM238 212zM214 135zM220 122zM218 141zM210 107zM220 174zM245 198zM243 147zM218 115zM253 225zM254 201zM216 133zM224 155zM261 196zM241 214zM232 206zM265 170zM220 196zM211 213zM251 224zM223 179zM223 137zM217 142zM212 221zM239 219zM212 179zM230 195zM213 196zM220 170zM219 215zM269 210zM210 216zM238 182zM239 208zM241 201zM234 219zM235 218zM248 169zM222 186zM223 143zM238 210zM210 109zM224 218zM214 153zM213 194zM216 131zM228 208zM233 220zM230 215zM233 218zM231 213zM233 177zM237 167zM220 164zM229 181zM237 201zM240 225zM236 154zM269 165zM241 223zM228 164zM217 164zM218 157zM215 178zM220 138zM213 212zM228 199zM210 205zM226 223zM210 222zM217 191zM242 219zM220 159zM213 192zM219 191zM277 199zM237 216zM217 179zM228 169zM226 210zM210 137zM234 187zM236 151zM265 211zM282 190zM239 147zM226 183zM246 186zM240 222zM224 167zM210 215zM212 204zM215 202zM236 221zM215 155zM215 169zM218 122zM218 185zM224 174zM245 195zM247 176zM236 183zM237 203zM234 202zM234 215zM242 219zM226 173zM232 175zM229 188zM228 218zM230 191zM216 155zM260 220zM211 133zM218 165zM219 199zM217 164zM247 215zM232 221zM212 154zM219 141zM229 160zM227 123zM218 173zM228 176zM214 191zM234 184zM239 225zM231 207zM211 219zM217 197zM252 202zM214 151zM232 173zM211 111zM224 28zM229 60z" stroke="#ff2a12" stroke-opacity="0.72" stroke-width="5.8" stroke-linecap="round" fill="none"/>
<path transform="scale(.5)" d="M229 75zM232 200zM214 217zM227 221zM230 207zM228 214zM246 197zM254 218zM257 213zM217 198zM210 222zM227 222zM269 183zM216 106zM233 149zM242 215zM220 224zM234 193zM255 223zM230 196zM229 177zM236 200zM216 223zM218 199zM210 202zM214 148zM224 202zM223 204zM236 223zM228 184zM226 152zM215 147zM211 96zM216 213zM211 107zM218 195zM234 217zM225 209zM223 162zM218 193zM217 211zM228 198zM305 139zM234 220zM213 167zM230 187zM251 201zM224 214zM255 222zM224 184zM238 214zM229 181zM210 169zM241 136zM243 185zM211 201zM210 175zM220 220zM231 176zM232 192zM229 206zM214 207zM223 168zM212 150zM243 221zM223 141zM228 132zM222 162zM245 190zM218 205zM222 193zM248 213zM235 225zM214 199zM253 138zM233 201zM226 214zM213 183zM232 208zM217 172zM217 191zM215 183zM265 189zM236 186zM223 225zM212 192zM224 207zM270 125zM214 194zM211 136zM239 224zM225 161zM221 223zM214 197zM225 217zM219 219zM235 226zM232 163zM217 202zM214 178zM231 199zM221 219zM213 215zM233 217zM214 150zM248 193zM221 196zM212 223zM215 141zM211 186zM210 149zM214 212zM230 177zM252 137zM220 196zM229 183zM243 225zM241 146zM232 213zM223 211zM247 187zM213 214zM232 187zM222 217zM218 153zM224 225zM233 165zM212 118zM219 191zM223 173zM215 153zM224 190zM216 125zM214 219zM223 219zM225 217zM213 135zM231 175zM225 183zM244 116zM226 210zM211 108zM260 200zM231 200zM217 213zM228 114zM223 189zM229 170zM237 180zM214 179zM212 191zM227 198zM237 214zM213 215zM222 173zM238 214zM218 212zM216 117zM254 204zM220 215zM213 206zM213 115zM260 204zM230 192zM239 220zM229 187zM262 182zM211 185zM225 219zM242 198zM224 193zM217 198zM226 225zM216 135zM224 225zM274 224zM253 206zM219 206zM221 180zM221 129zM213 191zM218 158zM243 217zM223 194zM213 186zM216 207zM211 148zM213 118zM216 212zM216 206zM235 176zM216 137zM220 143zM220 200zM227 207zM271 195zM269 189zM267 210zM223 149zM225 208zM233 198zM227 225zM218 224zM220 95zM248 173zM259 19z" stroke="#ff2a12" stroke-opacity="0.72" stroke-width="5.8" stroke-linecap="round" fill="none"/>
<path transform="scale(.5)" d="M210 224zM217 222zM248 221zM228 92zM242 174zM216 169zM220 177zM232 208zM221 203zM264 207zM234 188zM246 223zM240 210zM223 194zM239 203zM215 194zM248 226zM215 175zM219 129zM225 163zM221 209zM236 187zM244 223zM214 181zM263 171zM232 188zM285 224zM213 193zM210 221zM240 199zM212 106zM300 221zM228 222zM224 157zM216 183zM217 217zM218 150zM232 183zM223 168zM218 219zM252 226zM245 210zM230 191zM241 188zM226 204zM279 207zM250 224zM217 191zM213 196zM225 225zM227 158zM239 202zM225 211zM216 168zM214 221zM224 190zM269 226zM223 201zM234 211zM239 221zM255 175zM258 216zM212 138zM228 139zM210 134zM238 214zM259 168zM275 157zM233 196zM217 187zM238 223zM228 221zM219 193zM283 138zM246 223zM211 224zM216 153zM220 204zM234 187zM220 150zM210 223zM210 193zM215 219zM217 141zM212 102zM224 207zM216 223zM250 215zM223 161zM214 197zM212 194zM232 167zM251 125zM226 196zM247 183zM222 209zM236 210zM220 167zM219 214zM262 208zM221 219zM236 219zM232 150zM222 183zM221 119zM231 170zM212 140zM239 224zM215 149zM235 225zM257 206zM220 172zM227 212zM260 166zM218 221zM244 204zM212 105zM239 219zM259 208zM214 116zM224 226zM214 218zM222 199zM227 213zM236 195zM215 120zM220 171zM220 80zM248 157zM232 202zM213 204zM213 162zM211 117zM222 215zM219 221zM229 220zM214 174zM223 169zM240 209zM211 200zM228 209zM211 222zM220 150zM245 191zM235 223zM216 153zM222 198zM301 71zM273 208zM215 188zM225 197zM212 200zM212 171zM216 176zM263 108zM266 174zM283 212zM226 162zM217 137zM217 222zM264 214zM250 220zM225 94zM224 140zM245 175zM225 145zM211 203zM241 186zM236 223zM273 210zM222 199zM271 173zM221 220zM210 191zM233 173zM219 219zM217 213zM265 180zM227 207zM217 107zM227 198zM228 222zM212 183zM213 147zM231 205zM241 187zM230 210zM213 175zM231 189zM236 175zM228 197zM236 144zM214 143zM232 186zM271 193z" stroke="#ff2a12" stroke-opacity="0.72" stroke-width="5.8" stroke-linecap="round" fill="none"/>
<path transform="scale(.5)" d="M222 198zM235 208zM219 161zM231 177zM218 118zM222 178zM260 205zM312 224zM232 203zM243 224zM213 197zM248 224zM236 212zM219 205zM217 208zM225 215zM219 186zM212 88zM245 151zM259 212zM244 218zM210 226zM228 198zM216 104zM220 219zM212 141zM251 215zM233 216zM254 202zM222 202zM217 177zM218 220zM233 215zM220 150zM241 214zM221 191zM274 166zM254 210zM224 191zM233 225zM213 161zM228 202zM235 191zM231 175zM229 154zM228 187zM231 208zM242 224zM226 211zM233 224zM221 135zM214 106zM272 225zM232 222zM220 141zM216 181zM222 142zM216 155zM263 202zM240 218zM245 205zM219 158zM218 183zM210 109zM213 146zM237 107zM233 206zM220 127zM223 220zM212 206zM211 223zM227 168zM213 206zM215 154zM245 215zM233 199zM213 120zM240 214zM241 209zM220 190zM234 210zM220 209zM212 201zM221 178zM220 206zM255 100zM214 121zM219 218zM258 203zM216 149zM219 212zM236 159zM228 210zM227 154zM219 136zM246 203zM220 207zM235 187zM225 207zM223 107zM220 176zM213 142zM257 202zM256 109zM263 204zM269 203zM250 217zM216 150zM217 182zM248 204zM231 210zM234 206zM221 226zM251 211zM238 213zM222 192zM229 172zM220 218zM241 202zM211 174zM223 135zM215 173zM227 215zM216 225zM215 210zM231 221zM236 219zM232 179zM215 190zM236 191zM215 170zM215 180zM215 217zM232 214zM237 206zM251 186zM229 181zM229 168zM241 220zM233 118zM224 147zM229 208zM256 211zM254 187zM251 158zM229 165zM237 196zM232 160zM219 206zM226 204zM222 168zM218 151zM270 220zM243 201zM237 205zM215 153zM226 219zM224 214zM247 144zM220 202zM264 205zM217 172zM234 195zM243 156zM216 217zM270 192zM233 221zM214 220zM223 211zM215 198zM214 195zM219 193zM229 193zM215 162zM225 169zM287 225zM233 173zM227 177zM273 200zM212 152zM223 174zM214 188zM216 188zM223 197zM236 214zM226 128zM220 219z" stroke="#ff2a12" stroke-opacity="0.72" stroke-width="5.8" stroke-linecap="round" fill="none"/>
<path d="M29.4 7.3H164.5V142.2" fill="none" stroke="#555" stroke-width="1"/>
<path d="M24.4 142.2H164.5M29.4 7.3V147.2" fill="none" stroke="#333" stroke-width="1"/>
<path d="M29.4 142.2v4.8M63.2 142.2v4.8M96.9 142.2v4.8M130.7 142.2v4.8M164.5 142.2v4.8M46.3 142.2v2.8M80.1 142.2v2.8M113.8 142.2v2.8M147.6 142.2v2.8M29.4 142.2h-4.8M29.4 97.2h-4.8M29.4 52.3h-4.8M29.4 7.3h-4.8M29.4 119.7h-2.8M29.4 74.8h-2.8M29.4 29.8h-2.8" stroke="#333" stroke-width="1"/>
<text transform="translate(29.4,156.1) scale(1,1.12)" font-size="6.6" text-anchor="middle" fill="#000">-5.0</text>
<text transform="translate(63.2,156.1) scale(1,1.12)" font-size="6.6" text-anchor="middle" fill="#000">-2.5</text>
<text transform="translate(96.9,156.1) scale(1,1.12)" font-size="6.6" text-anchor="middle" fill="#000">0.0</text>
<text transform="translate(130.7,156.1) scale(1,1.12)" font-size="6.6" text-anchor="middle" fill="#000">2.5</text>
<text transform="translate(164.5,156.1) scale(1,1.12)" font-size="6.6" text-anchor="middle" fill="#000">5.0</text>
<text transform="translate(22.4,144.6) scale(1,1.12)" font-size="6.6" text-anchor="end" fill="#000">0</text>
<text transform="translate(22.4,99.6) scale(1,1.12)" font-size="6.6" text-anchor="end" fill="#000">2</text>
<text transform="translate(22.4,54.7) scale(1,1.12)" font-size="6.6" text-anchor="end" fill="#000">4</text>
<text transform="translate(22.4,9.7) scale(1,1.12)" font-size="6.6" text-anchor="end" fill="#000">6</text>
<text transform="translate(97.0,166) scale(1,1.18)" font-size="6.15" font-weight="bold" text-anchor="middle" fill="#000">log<tspan font-size="4.2" dy="1.6">2</tspan><tspan dy="-1.6"> FC(Blood/Control)</tspan></text>
<text transform="translate(11.8,76.3) rotate(-90) scale(1,1.15)" font-size="5.9" font-weight="bold" text-anchor="middle" fill="#000">-log<tspan font-size="4.1" dy="1.6">10</tspan><tspan dy="-1.6"> (P-value)</tspan></text>
<text x="0.3" y="9.8" font-size="12.5" fill="#111">a</text>
<line x1="289.0" y1="7.3" x2="289.0" y2="142.2" stroke="#ccc" stroke-width="0.6" stroke-dasharray="1.5,1.5"/>
<path transform="scale(.5)" d="M591 215zM556 254zM586 225zM573 236zM540 254zM571 236zM539 231zM550 225zM583 266zM566 260zM570 241zM549 251zM535 219zM576 221zM529 236zM601 249zM641 250zM544 256zM590 245zM651 241zM557 258zM635 251zM608 222zM542 227zM586 238zM586 261zM579 270zM648 232zM542 253zM512 237zM578 267zM579 261zM577 270zM594 243zM549 245zM577 260zM555 236zM598 259zM620 220zM622 216zM566 258zM583 254zM536 231zM564 248zM581 265zM596 224zM581 259zM587 243zM529 240zM562 228zM656 236zM538 227zM566 228zM622 247zM574 232zM581 228zM578 271zM575 246zM554 220zM566 218zM542 255zM656 238zM606 256zM578 270zM515 214zM527 240zM591 260zM596 262zM558 247zM573 245zM528 221zM607 221zM589 263zM568 239zM592 260zM575 235zM588 261zM655 234zM586 249zM610 217zM577 270zM581 226zM579 268zM590 236zM574 267zM551 224zM567 250zM558 258zM597 215zM583 264zM563 253zM621 248zM578 256zM557 259zM586 249zM659 216zM577 238zM577 269zM632 241zM552 229zM554 249zM608 217zM563 244zM547 248zM653 227zM529 234zM554 247zM580 268zM536 232zM623 251zM592 241zM572 221zM538 225zM609 232zM598 235zM579 218zM526 216zM583 229zM574 262zM637 224zM577 268zM590 262zM571 250zM544 230zM588 261zM569 263zM646 251zM551 257zM574 266zM580 269zM607 219zM559 214zM641 254zM626 247zM615 230zM573 233zM575 267zM580 268zM631 217zM569 254zM526 234zM639 216zM578 270zM603 234zM609 225zM579 267zM586 227zM586 265zM627 253zM567 220zM586 263zM572 229zM609 219zM579 252zM579 221zM542 216zM605 222zM526 221zM573 266zM621 227zM577 268zM566 238zM544 239zM620 234zM575 258zM633 240zM550 254zM581 266zM577 228zM644 242zM583 254zM580 265zM516 232zM645 228zM556 249zM554 222zM609 259zM610 254zM599 233zM573 242zM621 232zM559 220zM568 254zM541 217zM577 269zM557 222zM616 257zM631 239zM525 228zM498 246zM584 263zM571 215zM578 268zM578 266zM569 261zM589 239zM634 241zM581 227zM625 255zM597 260zM654 251zM548 258zM631 222zM590 260zM546 236zM613 255zM550 216zM578 270zM521 245zM515 235zM602 233zM578 269zM592 234zM534 235zM625 245zM617 229zM579 270zM559 228zM597 219zM581 267zM574 255zM622 220zM594 252zM552 254zM564 240zM569 257zM526 231zM577 262zM514 245zM564 237zM576 267zM647 228zM557 230zM609 259zM543 218zM595 221zM595 251zM563 234zM514 236zM577 239zM570 227zM567 259zM542 225zM614 228zM549 219zM615 254zM584 251zM580 269zM617 249zM560 220zM565 248zM567 243zM581 219zM578 269zM597 260zM634 253zM545 216zM584 260zM588 260zM575 231zM593 254zM653 217zM578 266zM622 222zM577 237zM629 236zM610 248zM565 242zM628 257zM539 251zM603 261zM583 259zM598 245zM579 237zM557 259zM578 268zM579 268zM573 232zM551 252zM626 233zM556 229zM614 248zM605 250zM632 231zM572 259zM561 260zM523 239zM583 266zM580 229zM588 265zM560 234zM582 262zM566 256zM637 232zM550 214zM537 244zM572 244zM551 226zM578 269zM534 222zM654 238zM561 259zM544 223zM554 251zM592 240zM639 248zM638 252zM574 227zM550 256zM641 225zM559 261zM629 214zM577 269zM616 225zM637 239zM545 250zM606 216zM572 249zM628 240zM578 266zM605 220zM577 270zM594 239zM580 269zM552 226zM635 216zM626 220zM551 228zM593 218zM556 215zM573 264zM577 270zM539 231zM568 247zM598 259zM547 238zM576 268zM623 216zM540 241zM533 241zM570 262zM548 214zM633 216zM570 261zM508 235zM584 255zM540 216zM592 234zM599 214zM580 268zM577 267zM517 216zM532 247zM539 254zM571 261zM582 267zM597 248zM506 230zM559 239zM605 234zM536 229zM622 236zM556 237zM575 265zM575 267zM584 259zM705 246zM565 219zM605 243zM610 248zM548 245zM622 256zM630 255zM558 220zM553 230zM576 267zM609 235zM577 265zM607 236zM497 229zM609 250zM544 256zM578 270zM537 232zM659 220zM575 260zM546 256zM583 265zM542 229zM576 250zM609 243zM590 236zM585 246zM640 244zM517 216zM602 219zM628 250zM578 247zM552 239zM520 216zM592 238zM546 221zM635 243zM538 249zM527 248zM527 230zM578 265zM578 267zM568 226zM608 240zM577 268zM568 241zM568 242zM578 249zM578 267zM592 262zM594 214zM564 255zM610 228zM567 263zM576 268zM628 221zM590 263zM589 252zM581 220zM573 261zM539 216zM523 251zM654 226zM568 249zM667 248zM527 215zM651 225zM665 218zM538 226zM619 244zM596 250zM553 242zM552 240zM557 237zM575 264zM588 223zM564 228zM580 268zM543 221zM579 269zM543 231zM591 230zM587 265zM572 265zM563 221zM603 238zM631 246zM591 263zM537 220zM632 244zM529 242zM531 226zM602 253zM564 218zM545 215zM530 235zM472 227zM528 235zM591 250zM570 225zM590 222zM567 255zM564 233zM572 253zM604 215zM562 258zM536 237zM629 242zM611 220zM606 224zM596 262zM575 240zM548 243zM563 226zM561 258zM556 221zM590 249zM565 248zM685 239zM590 254zM591 231zM614 228zM535 227zM607 222zM579 271zM663 220zM595 242zM567 233zM521 246zM564 259zM577 266zM546 236zM535 241zM547 252zM604 259zM611 222zM596 230zM610 259zM580 268zM526 215zM580 250zM559 258zM614 216zM560 251zM578 233zM579 268zM568 262zM571 231zM637 253zM563 245zM570 225zM610 225zM516 225zM635 240zM658 244zM587 257zM616 257zM639 215zM547 229zM619 247zM520 237zM549 254zM551 223zM595 244zM578 264zM577 243zM593 229zM552 241zM578 262zM574 266zM578 270zM590 261zM573 257zM606 249zM624 251zM577 271zM624 240zM589 263zM577 268zM562 260zM559 240zM537 222zM601 242zM594 237zM572 215zM570 264zM557 235zM583 226zM630 221zM617 256zM579 267zM562 226zM638 235zM526 231zM607 259zM563 218zM514 223zM661 228zM554 259zM632 245zM559 240zM657 248zM592 244zM578 260zM654 228zM533 254zM641 253zM549 249zM563 218zM622 224zM568 232zM554 233zM574 265zM575 265zM526 251zM562 225zM605 239zM525 222zM601 248zM625 222zM591 228zM595 255zM602 260zM568 245zM609 254zM518 241zM582 266zM577 266zM554 224zM587 225zM577 270zM575 261zM634 220zM581 267zM612 220zM526 234zM530 216zM561 257zM636 245zM644 221zM573 255zM570 224zM578 225zM660 230zM566 233zM558 245zM614 258zM608 239zM581 234zM564 238zM605 250zM639 218zM574 235zM595 248zM509 219zM641 216zM606 256zM532 237zM549 222zM578 266zM668 235zM639 244zM606 255zM640 237zM528 241zM660 246zM562 256zM578 270zM662 244zM520 246zM549 249zM585 248zM551 257zM579 270zM564 236zM597 250zM581 266zM609 223zM583 243zM515 243zM660 223zM585 265zM582 215zM544 216zM606 235zM552 254zM547 218zM574 266zM557 232zM561 244zM564 255zM610 258zM561 246zM532 235zM577 268zM655 228zM601 252zM587 259zM567 247zM644 225zM554 232zM631 236zM598 242zM577 267zM631 244zM609 214zM626 249zM605 245zM606 243zM589 246zM579 241zM532 216zM614 254zM554 238zM577 269zM595 241zM578 270zM665 242zM582 221zM596 235zM579 269zM631 238zM595 224zM579 266zM537 226zM561 256zM541 247zM563 224zM617 251zM577 269zM633 223zM450 234zM581 257zM543 240zM570 255zM477 215zM577 270zM580 269zM631 230zM613 214zM582 265zM565 261zM549 258zM583 266zM611 243zM570 250zM627 252zM581 267zM607 228zM581 249zM531 252zM612 231zM563 237zM575 264zM579 270zM656 250zM559 235zM636 255zM566 248zM575 241zM547 252zM523 248zM579 267zM582 266zM588 239zM594 244zM546 241zM546 230zM577 265zM576 232zM597 262zM564 263zM590 264zM553 238zM673 237zM619 227zM536 225zM568 234zM526 225zM532 221zM579 267zM545 255zM635 234zM572 264zM654 248zM559 260zM581 237zM507 241zM642 242zM571 255zM656 232zM598 260zM562 257zM595 229zM594 237zM535 220zM581 263zM636 219zM613 247zM521 227zM588 261zM540 227zM583 265zM566 261zM547 223zM551 254zM573 265zM623 237zM633 229zM612 220zM552 238zM521 219zM592 255zM549 258zM623 257zM545 217zM582 263zM633 224zM600 247zM640 229zM555 245zM546 230zM582 232zM615 219zM563 227zM597 234zM582 262zM541 241zM597 224zM696 218zM543 225zM572 219zM543 228zM556 218zM561 257zM590 252zM615 241zM577 269zM598 231zM628 221zM573 264zM559 234zM544 226zM657 228zM579 241zM569 256zM569 263zM591 264zM566 238zM569 224zM545 257zM552 225zM616 247zM554 249zM579 265zM601 220zM530 242zM604 226zM593 216zM566 249zM587 250zM556 234zM578 259zM640 252zM576 268zM554 254zM543 243zM552 241zM599 240zM570 256zM623 247zM529 245zM535 253zM524 246zM560 249zM598 233zM583 260zM586 262zM531 236zM617 255zM540 247zM603 224zM606 214zM550 221zM559 250zM579 242zM495 231zM560 234zM539 240zM575 221zM643 231zM579 266zM507 229zM620 221zM579 269zM604 241zM536 243zM571 218zM544 237zM577 268zM658 223zM628 237zM594 239zM640 241zM557 237zM596 215zM592 229zM638 228zM576 215zM587 235zM585 237zM593 259zM573 261zM598 240zM589 247zM576 267zM569 225zM594 262zM533 232zM577 265zM557 241zM504 250zM580 215zM521 219zM565 258zM591 262zM579 243zM639 248zM575 259zM557 251zM634 229zM549 230zM612 234zM585 244zM572 221zM538 251zM582 265zM538 256zM552 236zM603 215zM582 266zM585 266zM541 254zM578 270zM523 224zM577 271zM557 215zM628 249zM552 252zM543 220zM558 233zM549 245zM566 239zM651 240zM532 246zM604 235zM570 216zM543 248zM614 254zM574 265zM563 222zM572 248zM569 255zM665 242zM629 214zM547 234zM551 237zM534 244zM578 268zM600 239zM540 256zM546 221zM523 218zM548 250zM652 245zM542 215zM527 237zM508 221zM577 262zM583 241zM554 239zM631 238zM583 259zM594 240zM554 243zM605 254zM548 236zM579 262zM507 238zM564 240zM578 220zM549 241zM610 250zM598 230zM589 264zM571 239zM632 226zM537 246zM545 215zM581 228zM588 255zM569 229zM668 232zM528 248zM557 229zM633 249zM575 256zM578 269zM544 232zM506 242zM536 222zM576 267zM627 228zM602 241zM579 251zM544 216zM533 233zM634 237zM594 257zM563 256zM657 229zM532 241zM571 229zM535 251zM559 259zM581 266zM591 261zM555 234zM613 250zM631 249zM609 253zM578 271zM583 267zM535 251zM614 247zM522 226zM531 245zM583 240zM535 215zM558 243zM552 254zM620 227zM553 236zM584 266zM618 230zM577 271zM555 224zM578 250zM587 253zM669 249zM538 243zM582 244zM579 269zM620 257zM552 258zM547 231zM564 242zM570 251zM610 232zM563 262zM641 250zM602 249zM595 262zM615 222zM642 222zM577 267zM589 243zM603 259zM541 232zM642 250zM547 257zM540 230zM640 232zM590 222zM577 252zM566 228zM566 259zM578 270zM556 260zM577 267zM601 230zM531 215zM632 229zM586 229zM588 252zM578 261zM639 228zM479 238zM571 265zM539 223zM554 215zM567 238zM600 239zM583 245zM554 250zM646 242zM622 225zM628 219zM586 262zM574 258zM587 265zM603 217zM573 257zM542 218zM584 227zM563 259zM637 219zM546 244zM601 235zM556 247zM576 266zM631 216zM505 243zM533 234zM577 269zM578 219zM617 218zM640 252zM588 263zM631 255zM634 249zM589 223zM631 220zM596 254zM621 248zM537 254zM541 216zM640 234zM582 265zM559 229zM626 223zM576 253zM595 258zM578 271zM564 242zM592 254zM582 267zM598 246zM575 266zM551 254zM576 267zM506 224zM566 238zM551 244zM578 271zM621 227zM582 254zM648 223zM575 268zM587 264zM600 229zM539 255zM507 217zM606 221zM573 264zM615 226zM555 229zM576 264zM510 239zM552 224zM650 223zM639 241zM634 249zM560 247zM616 232zM547 218zM541 222zM620 241zM631 253zM607 220zM615 236zM572 225zM585 259zM556 259zM530 254zM587 263zM616 241zM575 243zM641 239zM565 231zM569 258zM591 225zM635 244zM560 249zM552 253zM535 230zM648 244zM605 255zM638 237zM523 235zM647 216zM599 226zM562 233zM556 258zM579 231zM601 259zM562 249zM568 233zM578 227zM578 270zM582 249zM574 265zM579 221zM624 249zM526 220zM624 215zM569 264zM615 217zM576 223zM679 248zM566 229zM566 239zM533 238zM535 234zM595 262zM608 258zM596 258zM625 218zM626 241zM546 258zM616 254zM583 217zM624 217zM552 248zM547 251zM601 239zM577 268zM559 258zM519 230zM617 227zM620 232zM546 220zM532 228zM634 236zM571 254zM573 234zM579 269zM628 229zM695 246zM537 238zM632 219zM612 230zM658 245zM528 236zM572 259zM574 264zM545 234zM578 269zM554 256zM551 259zM584 260zM610 237zM532 228zM558 258zM587 249zM590 251zM489 222zM522 234zM525 221zM593 235zM551 238zM579 269zM585 265zM587 246zM618 220zM576 263zM566 236zM595 242zM538 222zM592 261zM635 220zM612 232zM546 242zM578 269zM534 222zM615 220zM610 230zM554 256zM518 230zM621 244zM602 260zM584 255zM569 234zM570 243zM579 271zM558 244zM612 257zM662 233zM575 224zM541 226zM514 224zM551 253zM608 256zM582 262zM590 264zM556 231zM577 269zM515 232zM567 215zM577 267zM548 258zM591 240zM517 242zM552 229zM607 257zM646 244zM534 226zM596 221zM636 225zM568 263zM572 260zM604 221zM594 224zM639 230zM589 251zM576 269zM592 228zM568 260zM578 253zM554 246zM535 223zM632 243zM535 235zM562 232zM615 227zM581 216zM572 261zM626 245zM602 244zM578 223zM637 225zM636 225zM607 222zM645 238zM555 246zM617 225zM592 250zM572 263zM574 254zM575 244zM577 271zM544 255zM649 217zM580 267zM639 246zM579 269zM547 229zM536 234zM645 218zM600 232zM590 264zM613 225zM563 215zM622 245zM542 236zM621 225zM562 255zM552 237zM546 216zM553 241zM615 240zM558 218zM554 255zM513 228zM593 253zM569 259zM586 265zM635 218zM588 245zM553 227zM602 260zM627 224zM620 251zM535 217zM568 242zM651 230zM581 267zM584 242zM558 259zM592 257zM639 222zM566 218zM604 224zM503 217zM674 223zM640 222zM582 230zM637 230zM547 240zM644 230zM545 250zM611 251zM574 265zM587 237zM570 238zM578 268zM626 253zM656 241zM580 268zM542 216zM609 258zM573 264zM591 226zM507 243zM598 244zM576 267zM626 249zM638 229zM579 270zM504 239zM557 217zM546 229zM579 266zM565 247zM615 258zM553 233zM585 222zM567 243zM580 263zM569 224zM556 225zM629 252zM654 218zM545 222zM558 232zM580 236zM636 228zM550 245zM562 252zM587 238zM558 221zM579 271zM609 238zM637 236zM519 241zM558 231zM576 268zM616 214zM552 240zM527 223zM559 233zM611 235zM527 229zM578 271zM582 265zM583 266zM605 221zM579 227zM529 235zM571 227zM541 233zM563 260zM611 238zM596 234zM502 247zM607 224zM530 249zM576 265zM570 254zM588 234zM626 230zM579 268zM536 221zM577 269zM559 259zM568 260zM658 234zM494 233zM589 219zM570 263zM558 228zM555 237zM599 226zM583 264zM543 256zM578 243zM603 251zM557 217zM558 246zM568 250zM584 263zM594 247zM602 225zM538 247zM614 256zM614 259zM579 266zM570 225zM536 223zM613 217zM530 246zM581 267zM633 244zM583 236zM564 260zM577 268zM669 228zM579 267zM561 257zM618 234zM664 236zM635 249zM609 255zM562 216zM572 166zM585 182zM572 153zM572 188zM572 191zM584 164zM584 212zM584 186zM572 199zM567 214zM572 140zM571 195zM586 205zM585 147zM571 180zM573 162zM569 214zM586 198zM573 199zM573 209zM571 155zM573 106zM576 200zM575 214zM577 153zM584 167zM577 182zM578 167zM582 144zM580 141zM581 104zM573 209zM582 212zM582 213zM574 118zM577 190zM582 100zM575 171zM582 213zM573 185zM579 210zM574 203zM578 128zM577 142zM579 156zM574 121z" stroke="#222" stroke-opacity="0.265" stroke-width="5.6" stroke-linecap="round" fill="none"/>
<path transform="scale(.5)" d="M571 255zM574 264zM603 248zM584 265zM550 232zM582 267zM594 263zM577 232zM658 227zM585 229zM542 257zM575 258zM539 235zM581 254zM624 254zM626 218zM563 262zM540 245zM575 267zM579 270zM559 241zM592 227zM642 250zM508 225zM550 249zM612 225zM605 222zM564 259zM553 257zM568 218zM592 215zM556 249zM559 257zM497 216zM530 239zM539 216zM557 245zM556 223zM613 234zM630 231zM580 266zM585 263zM591 227zM607 256zM523 240zM531 219zM646 240zM627 221zM591 254zM602 218zM566 222zM622 257zM572 266zM549 229zM542 255zM544 254zM538 243zM548 239zM573 231zM534 250zM561 224zM577 230zM609 223zM618 237zM520 231zM578 269zM573 265zM588 226zM628 221zM579 268zM626 225zM633 223zM661 218zM624 247zM546 240zM575 268zM591 225zM585 258zM554 216zM597 219zM607 259zM612 236zM568 229zM581 226zM543 238zM640 252zM558 253zM612 242zM572 266zM581 264zM629 251zM636 253zM490 234zM525 217zM561 258zM578 268zM579 268zM593 254zM581 265zM613 231zM553 259zM583 242zM575 257zM607 226zM571 231zM587 253zM560 261zM607 258zM573 264zM578 264zM572 258zM651 245zM528 223zM571 265zM547 236zM576 265zM606 231zM546 226zM592 249zM625 248zM619 255zM574 264zM587 252zM650 242zM562 238zM607 252zM582 255zM594 222zM540 219zM626 221zM624 226zM533 239zM544 241zM648 216zM634 222zM587 251zM599 260zM559 249zM560 257zM512 248zM539 246zM561 257zM637 239zM593 261zM571 265zM635 254zM540 247zM522 216zM581 256zM593 226zM573 264zM542 251zM577 270zM579 271zM587 217zM527 232zM590 264zM590 240zM577 270zM553 251zM582 221zM581 265zM539 239zM562 248zM591 259zM580 269zM580 256zM577 270zM546 216zM613 250zM567 261zM566 257zM586 259zM551 226zM578 260zM626 248zM580 228zM571 258zM582 228zM615 221zM576 220zM577 269zM552 214zM536 215zM641 230zM633 233zM644 248zM635 241zM603 259zM577 263zM555 220zM601 230zM584 265zM576 269zM573 234zM613 258zM527 228zM655 217zM627 250zM569 263zM615 241zM580 261zM569 233zM563 261zM616 225zM543 255zM579 223zM603 232zM632 229zM580 258zM577 260zM542 231zM637 216zM566 245zM582 263zM570 219zM603 222zM613 220zM583 224zM569 253zM576 261zM585 226zM665 225zM493 232zM584 246zM561 259zM572 222zM664 246zM578 260zM614 242zM587 223zM608 254zM530 216zM526 215zM524 243zM552 259zM552 220zM668 233zM630 243zM575 257zM566 255zM630 227zM576 267zM575 267zM572 262zM550 248zM542 219zM625 220zM568 222zM609 241zM549 252zM617 219zM629 239zM553 224zM571 228zM582 257zM572 245zM650 252zM579 263zM576 225zM523 233zM577 245zM538 216zM551 215zM565 227zM523 216zM641 215zM522 220zM586 234zM571 259zM598 223zM548 247zM559 229zM599 253zM509 232zM599 253zM576 250zM594 225zM633 217zM578 262zM644 222zM544 230zM577 270zM589 216zM569 262zM578 270zM582 250zM638 245zM578 238zM567 260zM550 216zM575 255zM545 226zM577 265zM578 215zM561 246zM580 268zM578 236zM625 215zM583 266zM535 216zM603 260zM584 225zM577 264zM610 227zM569 220zM590 262zM610 220zM529 237zM644 246zM583 218zM569 227zM576 269zM581 258zM578 270zM548 243zM619 250zM575 267zM541 226zM574 258zM567 262zM556 228zM578 271zM612 215zM520 238zM578 270zM551 255zM592 257zM574 264zM540 242zM572 263zM657 244zM530 226zM600 257zM608 242zM574 256zM612 257zM600 244zM592 219zM555 253zM580 259zM579 269zM528 227zM516 241zM569 227zM578 269zM557 257zM558 260zM611 232zM573 266zM543 219zM564 262zM583 258zM564 224zM538 236zM554 246zM573 265zM605 253zM522 220zM593 260zM577 269zM514 230zM696 224zM574 264zM577 266zM560 250zM561 247zM578 267zM583 259zM653 247zM562 222zM552 229zM614 217zM568 215zM515 251zM545 252zM631 226zM628 215zM579 270zM576 237zM558 236zM567 227zM568 243zM543 231zM553 230zM583 236zM561 259zM544 221zM633 247zM603 217zM613 257zM594 223zM516 250zM559 241zM512 236zM549 238zM596 235zM580 265zM563 230zM527 247zM625 233zM580 269zM570 223zM587 263zM602 237zM577 266zM620 238zM561 256zM570 246zM632 232zM583 261zM539 240zM576 269zM559 220zM527 244zM628 242zM554 258zM624 214zM611 241zM579 270zM588 261zM589 262zM581 268zM541 229zM541 214zM567 233zM559 215zM605 244zM619 242zM590 259zM577 262zM547 230zM571 220zM606 223zM534 240zM513 241zM540 250zM666 248zM593 244zM565 245zM603 233zM562 219zM604 217zM591 263zM576 267zM577 239zM578 253zM639 222zM588 264zM578 220zM571 262zM674 230zM603 252zM581 267zM610 240zM583 245zM594 263zM578 270zM544 220zM626 227zM554 240zM609 234zM534 242zM617 240zM624 237zM612 244zM578 265zM591 229zM577 270zM576 269zM588 264zM559 241zM555 259zM623 226zM590 256zM578 270zM577 270zM546 247zM580 236zM610 232zM585 237zM676 219zM574 252zM609 217zM558 217zM649 243zM576 233zM574 262zM591 262zM608 254zM540 226zM578 215zM623 252zM538 217zM596 216zM569 259zM590 215zM577 269zM627 220zM603 246zM579 268zM573 227zM590 263zM578 262zM559 256zM631 253zM558 231zM555 244zM639 224zM601 258zM626 234zM560 236zM626 234zM581 263zM577 267zM645 229zM704 245zM572 224zM632 244zM570 265zM561 260zM611 224zM641 233zM525 234zM513 230zM576 235zM595 244zM593 221zM566 242zM598 222zM586 261zM630 244zM597 254zM575 260zM635 218zM707 243zM575 266zM613 215zM588 245zM602 249zM602 243zM563 225zM622 220zM608 239zM576 268zM562 221zM657 237zM574 264zM577 270zM546 256zM556 245zM570 240zM641 215zM579 266zM621 227zM548 227zM569 221zM574 262zM557 221zM634 218zM612 219zM522 231zM559 229zM578 256zM602 239zM573 215zM587 263zM540 238zM555 218zM544 228zM578 266zM634 238zM572 259zM581 215zM541 241zM581 267zM605 257zM577 269zM610 251zM588 263zM576 266zM566 261zM555 214zM537 235zM626 229zM575 265zM614 224zM614 251zM538 220zM607 230zM574 232zM544 229zM579 267zM570 217zM530 222zM619 229zM579 256zM582 266zM580 259zM601 224zM618 250zM562 255zM590 231zM655 216zM571 228zM573 263zM548 242zM557 254zM678 224zM601 234zM627 253zM663 215zM564 260zM566 258zM551 237zM550 256zM566 262zM642 240zM620 253zM603 216zM579 222zM547 241zM571 264zM555 236zM554 222zM562 258zM584 238zM636 218zM562 215zM572 230zM562 231zM498 231zM627 247zM572 228zM564 244zM608 233zM590 259zM575 266zM545 251zM568 253zM548 258zM618 255zM580 269zM576 224zM579 270zM604 237zM574 230zM586 226zM560 223zM584 258zM554 248zM609 245zM593 263zM577 266zM640 246zM553 240zM562 239zM629 227zM553 253zM642 253zM693 235zM616 244zM585 249zM655 224zM561 226zM530 222zM545 221zM647 226zM583 220zM574 264zM498 243zM543 214zM575 255zM579 214zM548 227zM551 250zM620 221zM555 236zM608 243zM536 245zM586 228zM527 221zM613 217zM536 218zM580 218zM602 251zM590 216zM594 226zM588 241zM608 254zM622 256zM548 238zM577 267zM576 268zM543 216zM574 265zM569 239zM523 225zM529 238zM579 266zM580 257zM577 256zM562 251zM570 227zM584 236zM606 249zM620 217zM562 261zM587 261zM574 238zM619 226zM567 220zM617 218zM553 226zM638 251zM577 218zM543 244zM540 224zM550 215zM563 233zM572 217zM524 229zM590 217zM580 268zM576 262zM569 260zM602 226zM630 221zM628 241zM581 231zM564 247zM539 246zM545 232zM577 269zM604 231zM655 227zM644 226zM562 252zM598 257zM544 234zM551 238zM614 240zM580 263zM572 260zM563 262zM531 227zM585 233zM535 247zM564 235zM588 263zM587 265zM599 259zM582 266zM584 255zM563 245zM575 263zM550 220zM544 229zM636 220zM571 265zM561 222zM580 268zM579 263zM573 264zM590 243zM580 231zM586 262zM574 263zM548 232zM542 222zM583 267zM578 266zM551 218zM655 234zM577 266zM580 267zM563 243zM590 260zM570 233zM531 228zM614 255zM591 249zM510 220zM641 247zM650 250zM594 234zM649 219zM573 216zM558 244zM593 237zM590 219zM631 240zM543 254zM596 247zM545 252zM516 219zM507 246zM579 239zM558 215zM605 243zM581 226zM578 261zM646 217zM581 265zM607 244zM568 261zM611 257zM612 228zM572 263zM579 265zM592 222zM560 231zM611 252zM536 232zM529 253zM579 248zM579 270zM594 220zM529 254zM598 229zM580 257zM566 257zM589 244zM618 224zM538 253zM565 231zM578 271zM595 262zM594 246zM642 244zM574 267zM557 250zM637 231zM572 261zM548 238zM554 231zM551 218zM580 269zM602 227zM592 252zM591 238zM550 234zM581 265zM625 227zM578 267zM605 240zM588 259zM567 240zM602 260zM624 226zM586 249zM578 265zM556 217zM564 216zM566 255zM618 227zM554 221zM522 232zM598 216zM615 249zM661 242zM580 268zM571 238zM541 235zM654 252zM604 256zM611 253zM552 248zM627 216zM586 265zM532 235zM519 238zM548 253zM571 265zM532 242zM614 229zM647 225zM553 228zM572 230zM520 237zM570 263zM575 244zM620 244zM569 260zM658 236zM569 224zM614 230zM623 245zM557 231zM574 224zM554 242zM571 233zM580 267zM576 247zM614 246zM553 251zM541 250zM585 264zM628 232zM578 254zM634 244zM613 252zM463 245zM641 220zM560 261zM647 239zM617 238zM544 242zM541 240zM614 240zM625 242zM629 231zM594 228zM533 244zM536 252zM561 219zM585 261zM539 221zM534 234zM594 219zM567 246zM602 236zM597 262zM527 254zM524 236zM614 222zM615 230zM575 266zM687 215zM612 236zM566 232zM564 262zM559 258zM572 229zM599 246zM555 225zM564 241zM653 231zM613 246zM568 215zM549 222zM563 251zM654 245zM588 215zM575 264zM559 260zM625 250zM541 227zM571 265zM561 258zM637 254zM575 252zM567 258zM622 218zM594 250zM607 233zM580 232zM601 257zM635 247zM578 223zM576 226zM619 223zM576 264zM578 269zM562 237zM555 260zM596 243zM566 223zM591 225zM594 238zM567 226zM511 244zM542 217zM524 227zM592 264zM577 266zM565 258zM529 242zM575 254zM533 222zM576 254zM576 260zM583 244zM557 259zM576 248zM579 262zM577 252zM530 219zM569 255zM586 251zM565 228zM552 231zM536 233zM627 253zM638 227zM575 267zM593 260zM597 237zM586 262zM615 229zM598 254zM546 238zM630 246zM554 257zM587 216zM566 215zM610 249zM576 249zM539 238zM535 226zM588 256zM547 217zM574 265zM521 244zM649 244zM593 222zM587 260zM576 223zM554 239zM584 224zM584 223zM611 242zM579 266zM594 262zM573 264zM597 260zM553 259zM591 258zM622 254zM527 240zM629 241zM577 227zM517 243zM606 260zM625 225zM579 267zM627 230zM586 247zM547 256zM559 248zM577 265zM578 270zM563 237zM629 252zM551 241zM578 271zM637 238zM599 258zM618 228zM558 216zM584 251zM558 226zM564 230zM635 232zM580 267zM594 262zM604 215zM578 269zM500 250zM596 252zM512 227zM620 225zM624 252zM539 245zM547 222zM580 264zM620 217zM571 258zM594 259zM601 238zM614 221zM578 257zM597 220zM638 219zM541 247zM533 254zM631 226zM536 253zM600 259zM578 269zM599 253zM609 236zM579 270zM565 246zM527 230zM526 216zM607 254zM577 270zM610 252zM640 246zM574 267zM578 230zM590 217zM556 256zM539 250zM554 222zM564 214zM550 220zM622 252zM516 225zM578 268zM589 253zM544 240zM586 254zM584 264zM528 252zM649 216zM593 251zM540 222zM602 219zM572 241zM595 228zM584 238zM546 238zM564 240zM568 258zM634 239zM585 263zM585 256zM579 269zM574 258zM610 257zM531 229zM574 261zM513 249zM626 216zM528 232zM622 227zM633 219zM547 247zM567 262zM578 265zM576 228zM523 242zM608 221zM592 261zM559 247zM642 215zM586 265zM578 269zM599 239zM613 219zM578 269zM594 260zM592 263zM637 229zM548 254zM588 261zM639 224zM546 241zM547 237zM595 225zM560 235zM581 257zM635 233zM579 268zM565 261zM646 232zM579 270zM529 253zM553 223zM576 253zM544 235zM671 214zM596 245zM579 269zM522 250zM630 252zM571 234zM587 240zM579 271zM556 255zM572 265zM572 222zM636 233zM582 263zM603 216zM579 269zM522 228zM527 253zM563 225zM581 250zM596 222zM596 240zM577 263zM571 228zM530 242zM535 254zM531 219zM582 263zM551 237zM603 260zM654 241zM589 227zM642 250zM564 221zM558 237zM566 222zM594 230zM557 239zM582 220zM574 267zM539 215zM609 248zM574 231zM656 250zM581 262zM564 237zM656 247zM556 219zM637 218zM600 215zM559 218zM580 268zM576 229zM552 240zM578 267zM653 238zM582 249zM585 261zM613 223zM579 266zM583 262zM579 270zM620 236zM579 270zM603 240zM609 244zM539 229zM584 264zM628 246zM645 218zM543 256zM594 259zM595 230zM566 260zM621 254zM582 264zM557 250zM579 259zM641 254zM611 230zM557 229zM598 236zM578 220zM560 235zM582 238zM578 260zM556 235zM610 218zM587 215zM609 251zM536 226zM587 252zM542 251zM568 260zM551 223zM602 261zM582 226zM579 263zM544 252zM622 226zM646 218zM572 261zM537 222zM575 265zM550 215zM600 217zM578 270zM579 268zM544 227zM634 225zM597 218zM587 233zM609 250zM577 266zM541 221zM543 220zM633 235zM570 234zM590 261zM580 269zM549 241zM617 249zM608 220zM575 260zM577 267zM642 239zM586 261zM619 256zM521 233zM579 268zM553 243zM631 215zM570 223zM581 248zM572 266zM588 218zM578 270zM526 229zM570 247zM631 256zM590 249zM557 235zM581 243zM575 267zM552 221zM582 244zM571 219zM639 249zM577 271zM557 224zM570 263zM606 234zM600 260zM562 261zM545 254zM592 261zM656 218zM588 235zM561 261zM565 236zM594 220zM540 234zM582 267zM608 258zM584 266zM579 271zM575 215zM595 253zM625 214zM570 241zM604 242zM647 231zM580 217zM601 228zM546 229zM594 251zM603 248zM575 240zM530 236zM559 243zM600 259zM577 271zM579 270zM588 255zM585 222zM590 262zM559 260zM577 267zM577 270zM566 231zM652 250zM633 254zM577 216zM534 233zM617 252zM569 227zM580 265zM667 248zM591 263zM596 255zM538 247zM612 236zM563 243zM582 240zM534 250zM619 221zM580 250zM569 227zM521 225zM636 252zM553 245zM557 247zM577 240zM629 246zM627 252zM576 235zM591 261zM626 242zM633 228zM616 254zM569 251zM556 253zM571 232zM575 255zM575 266zM536 236zM624 218zM630 233zM584 217zM527 218zM560 257zM559 238zM583 246zM639 219zM603 230zM525 224zM579 271zM536 217zM629 256zM590 226zM586 248zM565 242zM579 271zM578 269zM578 237zM585 227zM563 214zM577 265zM593 263zM620 249zM607 217zM572 227zM566 260zM548 220zM544 220zM591 257zM520 222zM527 254zM573 225zM571 262zM577 270zM508 230zM546 216zM571 222zM566 243zM551 239zM591 226zM573 265zM587 265zM567 229zM593 219zM635 231zM582 257zM583 260zM541 223zM567 236zM563 240zM538 227zM577 264zM601 239zM637 222zM574 228zM567 229zM598 231zM572 264zM571 260zM561 222zM577 266zM538 220zM578 270zM583 264zM622 243zM574 238zM691 233zM593 243zM579 269zM636 246zM579 270zM582 253zM552 240zM573 256zM556 250zM642 219zM593 262zM663 217zM643 241zM593 237zM569 215zM582 246zM518 225zM625 216zM522 216zM554 248zM592 263zM647 227zM636 232zM541 235zM579 260zM577 219zM553 256zM591 217zM531 223zM615 228zM580 238zM611 259zM593 241zM568 215zM578 271zM502 217zM574 265zM563 220zM570 231zM573 262zM604 258zM541 223zM568 263zM622 256zM553 248zM606 253zM552 256zM524 237zM623 228zM568 253zM577 247zM570 212zM585 169zM571 193zM572 164zM571 164zM586 200zM572 207zM573 205zM621 214zM573 180zM572 166zM584 157zM572 206zM573 209zM584 202zM572 202zM585 162zM573 196zM573 185zM572 188zM573 174zM574 147zM582 126zM582 195zM579 206zM579 209zM573 106zM583 193zM577 176zM579 135zM581 155zM583 106zM579 161zM582 207zM578 137zM576 177zM572 194zM574 205zM576 136zM576 151z" stroke="#222" stroke-opacity="0.265" stroke-width="5.6" stroke-linecap="round" fill="none"/>
<path transform="scale(.5)" d="M606 241zM578 267zM546 245zM502 235zM600 225zM580 266zM583 263zM559 231zM529 249zM588 265zM577 269zM520 238zM582 267zM566 255zM564 261zM631 243zM548 249zM538 232zM619 244zM559 226zM630 240zM583 224zM633 229zM581 268zM603 241zM573 264zM609 250zM532 254zM611 231zM568 221zM591 258zM551 223zM558 249zM626 219zM571 262zM608 234zM609 247zM626 217zM571 222zM538 222zM564 254zM654 233zM585 266zM580 266zM648 228zM588 256zM586 262zM558 238zM548 245zM595 243zM529 235zM551 244zM549 227zM522 235zM625 216zM605 221zM600 224zM628 221zM527 248zM580 232zM618 233zM629 238zM628 225zM587 261zM582 264zM574 266zM587 259zM516 250zM621 257zM574 263zM595 218zM562 218zM687 247zM588 245zM528 219zM586 233zM593 249zM556 242zM574 262zM607 252zM650 229zM593 242zM579 269zM581 267zM588 264zM565 241zM562 256zM532 229zM568 247zM553 254zM584 254zM546 229zM621 236zM548 258zM584 266zM592 228zM566 222zM554 232zM598 261zM513 215zM596 261zM577 238zM607 216zM581 267zM665 248zM563 215zM555 235zM565 240zM584 263zM530 226zM593 230zM565 241zM523 231zM561 255zM577 235zM578 270zM551 256zM663 229zM596 240zM639 219zM596 260zM567 229zM578 240zM572 216zM554 253zM576 243zM579 270zM542 254zM565 231zM615 256zM640 230zM620 256zM577 269zM576 268zM547 229zM586 232zM564 247zM605 260zM592 248zM622 217zM565 244zM589 257zM610 244zM586 265zM577 268zM577 269zM592 261zM575 268zM568 237zM571 221zM573 232zM583 267zM580 270zM555 228zM523 221zM550 257zM536 231zM531 238zM543 242zM566 224zM633 227zM607 256zM583 267zM647 235zM578 270zM599 258zM524 249zM708 220zM573 252zM625 232zM553 225zM579 254zM593 219zM588 241zM548 225zM566 260zM572 264zM618 256zM543 218zM625 223zM546 229zM637 225zM573 264zM529 242zM557 258zM610 232zM624 253zM555 241zM567 259zM588 265zM529 252zM542 257zM571 215zM625 222zM546 250zM577 269zM543 234zM573 254zM660 237zM588 229zM612 228zM625 231zM572 255zM571 265zM622 254zM529 249zM621 215zM547 257zM576 226zM580 268zM579 269zM513 251zM647 241zM618 222zM606 259zM533 244zM579 269zM588 263zM563 252zM640 221zM576 259zM549 229zM571 231zM546 236zM590 215zM577 269zM537 250zM573 266zM593 229zM541 247zM579 271zM537 233zM588 227zM554 259zM617 219zM502 225zM531 227zM568 257zM628 249zM592 222zM615 224zM615 235zM581 266zM581 268zM603 231zM550 222zM566 230zM545 220zM574 226zM560 216zM551 256zM542 214zM607 220zM600 216zM605 250zM578 269zM564 237zM557 233zM586 248zM617 230zM639 223zM578 270zM560 251zM643 227zM544 243zM634 245zM655 229zM537 255zM584 266zM572 261zM615 250zM570 216zM557 223zM565 229zM635 246zM559 229zM561 218zM616 243zM512 241zM533 233zM588 264zM572 221zM607 249zM620 222zM597 228zM587 262zM598 226zM551 220zM595 256zM577 268zM636 252zM550 237zM560 239zM632 234zM598 258zM620 222zM543 241zM482 246zM547 257zM530 237zM583 261zM585 261zM628 215zM595 248zM566 221zM575 258zM591 219zM669 222zM535 237zM577 259zM579 225zM589 215zM583 220zM637 243zM578 264zM583 250zM585 237zM567 259zM578 270zM597 261zM576 264zM541 246zM552 248zM565 247zM641 227zM644 247zM528 232zM602 257zM635 229zM582 267zM583 264zM634 244zM622 223zM594 248zM617 240zM555 240zM644 245zM565 242zM582 253zM636 248zM526 241zM638 252zM545 254zM494 243zM579 267zM576 264zM580 265zM623 216zM575 254zM614 258zM616 240zM579 269zM580 250zM589 263zM545 235zM634 219zM564 261zM527 223zM580 270zM577 268zM576 267zM551 243zM548 255zM574 237zM608 258zM638 252zM591 263zM542 218zM647 219zM560 250zM552 230zM598 232zM616 234zM642 214zM576 220zM531 227zM613 244zM640 227zM563 255zM625 247zM569 249zM591 262zM580 266zM588 261zM598 223zM524 251zM560 252zM565 233zM662 240zM563 241zM557 228zM609 251zM641 235zM567 226zM665 234zM513 252zM565 224zM575 228zM590 260zM546 235zM537 251zM523 238zM529 253zM575 262zM590 242zM560 258zM577 269zM637 237zM604 254zM520 228zM580 269zM563 227zM613 258zM628 218zM546 249zM619 258zM649 231zM537 230zM537 239zM628 243zM579 270zM662 225zM608 256zM576 267zM575 218zM571 223zM539 240zM627 237zM563 258zM549 232zM645 239zM540 243zM608 221zM555 218zM641 250zM556 259zM563 258zM577 269zM564 223zM632 245zM522 219zM605 232zM594 259zM548 252zM563 260zM593 254zM618 235zM599 245zM600 223zM575 266zM575 257zM552 218zM539 215zM479 222zM573 263zM591 262zM654 241zM537 255zM544 246zM582 256zM535 239zM570 243zM562 249zM582 242zM550 240zM563 247zM564 231zM548 220zM636 232zM641 219zM556 239zM598 235zM618 241zM570 217zM607 219zM578 263zM583 266zM621 223zM576 262zM528 230zM554 230zM552 257zM632 229zM629 247zM634 236zM581 268zM649 242zM549 258zM598 258zM552 225zM591 244zM616 256zM663 251zM603 261zM577 270zM560 258zM540 224zM586 263zM564 217zM597 224zM608 245zM590 262zM547 247zM610 235zM616 222zM517 221zM623 250zM566 263zM580 258zM551 221zM662 215zM599 260zM606 257zM552 239zM565 228zM669 218zM536 250zM575 262zM622 222zM565 238zM659 236zM626 241zM637 227zM599 226zM571 264zM565 256zM580 268zM618 243zM556 259zM535 232zM551 222zM566 233zM559 231zM546 258zM548 226zM596 216zM594 243zM524 234zM618 235zM597 256zM579 269zM579 242zM624 255zM575 230zM460 246zM574 264zM615 237zM618 245zM557 235zM584 252zM566 217zM569 262zM591 263zM609 238zM577 270zM582 225zM577 235zM589 256zM578 268zM597 214zM593 263zM568 223zM625 251zM575 256zM569 235zM573 239zM640 247zM631 251zM630 240zM579 271zM532 248zM550 258zM582 219zM656 217zM564 217zM559 231zM554 216zM524 228zM586 241zM537 245zM544 230zM576 267zM589 263zM577 266zM578 270zM581 230zM565 240zM611 256zM639 248zM559 256zM568 237zM611 233zM592 260zM569 264zM590 264zM577 260zM614 230zM519 249zM587 263zM614 246zM578 269zM571 260zM584 223zM544 242zM639 223zM560 255zM575 243zM598 251zM597 233zM550 233zM526 228zM643 217zM564 237zM552 250zM583 220zM615 233zM592 249zM599 257zM585 264zM581 266zM638 252zM544 220zM487 227zM578 261zM595 256zM627 255zM615 220zM627 227zM568 263zM586 264zM636 224zM572 237zM587 260zM565 243zM563 259zM537 244zM538 254zM576 266zM568 263zM583 228zM539 251zM570 256zM553 258zM539 216zM549 216zM666 225zM562 262zM555 258zM612 223zM553 250zM590 246zM621 225zM610 254zM576 257zM620 239zM543 220zM515 225zM617 237zM579 268zM565 260zM542 236zM612 258zM609 257zM626 252zM582 265zM580 267zM580 267zM579 270zM577 270zM644 242zM597 219zM550 230zM529 241zM573 265zM578 268zM609 216zM503 235zM662 231zM587 231zM594 217zM587 265zM607 234zM571 253zM581 244zM551 234zM542 233zM599 228zM564 217zM596 236zM586 261zM603 254zM550 240zM553 247zM576 265zM554 231zM607 257zM588 264zM519 216zM598 262zM578 270zM539 230zM625 230zM577 269zM582 266zM579 266zM569 225zM596 233zM576 268zM585 252zM572 264zM588 221zM577 267zM561 261zM592 253zM630 216zM580 246zM541 255zM582 257zM565 252zM585 229zM561 251zM626 254zM586 250zM622 253zM573 258zM577 233zM605 256zM573 228zM605 237zM639 236zM579 264zM620 240zM647 229zM639 254zM636 234zM589 245zM632 250zM585 254zM577 269zM578 259zM659 239zM570 261zM575 262zM573 263zM595 250zM606 230zM568 264zM585 257zM623 215zM646 241zM574 261zM597 216zM535 255zM580 263zM585 262zM578 234zM588 224zM593 222zM565 257zM594 259zM539 218zM538 239zM599 235zM575 266zM544 252zM616 225zM558 240zM642 214zM538 235zM621 246zM575 253zM572 241zM588 248zM640 222zM548 220zM592 251zM598 259zM578 264zM567 232zM572 253zM537 235zM524 247zM551 245zM659 238zM548 235zM599 254zM535 225zM599 261zM601 230zM588 264zM577 267zM619 256zM578 270zM574 262zM621 257zM583 267zM612 257zM532 222zM568 237zM546 247zM588 245zM614 245zM591 226zM560 256zM578 268zM580 264zM520 247zM523 231zM556 259zM527 220zM535 252zM645 238zM639 240zM544 222zM545 216zM637 236zM525 234zM620 234zM577 269zM639 240zM656 249zM585 231zM469 224zM556 259zM648 244zM578 271zM575 241zM533 216zM567 243zM580 229zM639 240zM614 248zM590 218zM566 261zM608 257zM568 230zM576 267zM603 255zM589 248zM602 235zM550 234zM572 238zM588 256zM578 269zM571 264zM560 214zM593 242zM563 260zM579 269zM580 267zM581 254zM528 250zM623 230zM612 259zM612 234zM536 243zM540 243zM619 244zM548 231zM577 268zM525 252zM539 256zM592 263zM638 251zM588 218zM580 268zM563 248zM577 270zM605 259zM573 224zM590 248zM528 226zM582 266zM577 268zM551 225zM563 233zM574 218zM607 237zM594 245zM605 217zM573 262zM578 243zM516 234zM611 227zM562 237zM542 246zM535 246zM552 242zM579 264zM606 236zM607 259zM620 234zM552 248zM599 244zM614 234zM544 245zM605 231zM553 250zM577 236zM529 247zM568 240zM585 265zM627 230zM544 257zM560 226zM538 256zM567 253zM560 249zM582 264zM549 221zM636 252zM592 238zM531 239zM584 264zM526 254zM602 216zM573 241zM624 236zM571 264zM540 218zM566 251zM602 248zM613 237zM546 223zM567 218zM548 239zM580 251zM584 225zM596 239zM614 249zM527 222zM548 242zM560 260zM569 264zM583 261zM549 248zM603 227zM532 238zM606 249zM642 251zM540 237zM529 233zM592 221zM615 241zM643 231zM627 241zM627 223zM550 238zM528 246zM536 239zM661 225zM679 248zM579 270zM561 243zM582 265zM578 267zM545 229zM641 224zM574 261zM619 224zM598 239zM574 250zM628 216zM602 244zM571 243zM618 218zM570 263zM577 261zM542 238zM596 220zM581 242zM559 236zM603 243zM558 250zM538 239zM601 216zM572 231zM580 269zM560 240zM609 235zM553 227zM584 233zM571 253zM517 217zM608 257zM520 238zM581 268zM608 250zM578 270zM580 269zM546 240zM611 241zM565 233zM676 226zM579 271zM610 237zM561 225zM615 225zM636 221zM614 228zM574 225zM556 226zM597 234zM603 243zM581 268zM635 229zM530 255zM611 247zM607 216zM558 251zM589 261zM628 218zM550 225zM576 236zM594 218zM553 256zM539 237zM569 254zM581 262zM658 239zM575 247zM617 256zM528 242zM603 247zM543 257zM585 266zM598 244zM539 222zM531 253zM577 268zM546 257zM577 269zM632 239zM579 265zM542 253zM585 214zM588 261zM533 244zM532 254zM518 232zM587 219zM623 220zM518 240zM578 268zM557 258zM581 260zM627 238zM544 239zM591 225zM584 267zM612 243zM554 258zM517 235zM581 268zM515 221zM529 222zM527 254zM605 232zM574 262zM603 219zM608 241zM626 232zM580 269zM590 241zM593 251zM554 220zM654 244zM571 218zM549 236zM588 245zM536 243zM554 259zM572 260zM560 252zM556 233zM632 248zM564 240zM591 244zM528 216zM609 246zM577 264zM577 263zM602 229zM589 263zM567 256zM554 250zM626 227zM618 235zM573 265zM629 226zM534 224zM556 224zM639 240zM575 267zM611 218zM577 269zM539 229zM525 227zM564 232zM563 228zM600 255zM556 258zM575 267zM597 228zM586 264zM590 235zM620 216zM655 218zM533 229zM542 220zM578 271zM559 231zM578 268zM563 218zM581 262zM560 257zM584 231zM540 255zM511 231zM605 257zM539 242zM554 256zM608 257zM631 245zM565 240zM602 256zM636 237zM576 261zM568 264zM648 252zM596 228zM565 260zM595 220zM623 234zM615 226zM532 252zM579 237zM578 270zM557 223zM601 250zM468 221zM615 232zM578 270zM547 237zM584 256zM611 245zM561 216zM584 229zM512 216zM561 239zM593 238zM624 245zM556 252zM509 234zM604 230zM605 224zM562 225zM583 225zM577 269zM625 234zM606 257zM650 250zM578 267zM558 234zM537 236zM570 254zM547 241zM553 247zM561 251zM579 270zM579 271zM578 254zM560 232zM609 223zM633 251zM588 263zM511 251zM567 261zM577 265zM595 262zM584 266zM611 216zM611 219zM627 240zM594 216zM520 248zM593 226zM524 236zM586 266zM562 225zM569 252zM591 237zM591 217zM602 218zM539 245zM604 260zM532 237zM581 262zM581 267zM595 262zM586 262zM528 238zM585 264zM578 271zM646 214zM572 256zM596 222zM539 232zM568 253zM634 249zM548 250zM505 221zM564 243zM658 226zM516 248zM608 246zM639 251zM580 250zM556 237zM591 255zM551 252zM645 234zM637 222zM556 221zM541 219zM570 264zM594 233zM573 260zM595 259zM598 255zM524 233zM578 266zM524 218zM579 268zM571 255zM528 220zM639 223zM616 220zM620 226zM517 230zM631 245zM569 263zM564 223zM539 217zM581 233zM609 245zM557 254zM537 253zM661 235zM630 245zM577 269zM653 241zM538 222zM594 238zM638 248zM570 256zM622 231zM555 254zM549 232zM576 247zM579 269zM604 222zM576 268zM687 223zM545 245zM498 232zM561 215zM584 259zM571 227zM572 225zM619 239zM580 269zM557 245zM625 236zM580 263zM564 246zM579 258zM588 259zM523 237zM536 240zM631 235zM577 257zM575 265zM569 244zM583 267zM607 236zM627 246zM590 262zM537 219zM590 263zM598 237zM551 216zM568 223zM595 258zM578 267zM571 242zM538 224zM576 268zM611 253zM574 230zM548 240zM580 268zM646 249zM571 256zM539 229zM519 216zM563 253zM548 223zM554 247zM577 269zM527 215zM634 229zM601 257zM547 251zM547 227zM622 248zM540 255zM539 247zM634 240zM602 224zM619 224zM593 219zM553 233zM568 253zM583 256zM578 269zM562 223zM546 244zM611 223zM588 256zM538 248zM530 249zM584 250zM587 260zM545 249zM556 240zM557 240zM572 261zM590 262zM564 256zM537 245zM605 227zM521 252zM542 226zM615 233zM619 250zM644 232zM579 268zM643 253zM533 245zM558 260zM546 227zM565 232zM592 259zM605 256zM565 259zM555 259zM611 241zM572 236zM577 269zM592 236zM582 265zM566 263zM626 218zM540 252zM544 216zM568 231zM550 254zM550 242zM574 254zM548 228zM578 271zM568 255zM578 270zM608 240zM516 223zM529 219zM579 271zM603 244zM526 223zM543 235zM629 225zM544 235zM587 254zM628 232zM490 241zM577 218zM562 243zM526 240zM578 256zM554 250zM661 232zM557 260zM581 230zM635 252zM577 268zM569 262zM502 226zM533 225zM579 269zM514 230zM561 259zM644 235zM548 220zM578 271zM529 229zM558 259zM609 246zM585 262zM608 242zM635 253zM555 243zM558 252zM559 258zM525 221zM579 270zM618 245zM532 254zM606 233zM613 242zM579 264zM642 247zM577 268zM580 216zM591 216zM617 257zM552 239zM581 256zM577 270zM570 240zM656 223zM628 243zM599 234zM555 219zM575 251zM578 230zM591 216zM525 226zM567 216zM569 243zM529 226zM598 253zM555 244zM547 218zM611 217zM579 217zM581 248zM565 255zM626 240zM581 263zM581 246zM578 261zM524 236zM611 222zM535 225zM603 247zM647 229zM595 252zM529 216zM564 253zM561 258zM627 254zM585 240zM674 223zM576 268zM582 254zM524 223zM549 234zM524 215zM579 237zM577 255zM580 269zM578 266zM578 269zM561 220zM578 268zM576 266zM572 263zM615 230zM586 265zM572 251zM586 216zM625 215zM576 267zM574 244zM585 259zM553 251zM530 239zM624 238zM581 268zM648 220zM573 199zM570 212zM585 201zM571 200zM584 214zM584 167zM572 187zM572 204zM571 157zM570 207zM573 199zM586 158zM585 199zM570 173zM573 140zM585 207zM572 175zM571 192zM584 91zM570 182zM572 204zM573 214zM585 205zM585 209zM573 203zM573 199zM583 137zM575 211zM575 181zM572 180zM583 169zM573 209zM575 198zM583 98zM582 168zM580 183zM580 209zM581 209zM573 174zM573 199zM573 211zM573 88zM583 140zM577 97zM578 198zM577 197zM582 189zM575 191zM572 196zM573 195z" stroke="#222" stroke-opacity="0.265" stroke-width="5.6" stroke-linecap="round" fill="none"/>
<path transform="scale(.5)" d="M590 245zM590 256zM577 268zM579 271zM553 252zM607 244zM605 240zM565 236zM631 244zM561 219zM581 266zM556 256zM581 261zM640 241zM619 246zM546 231zM610 215zM523 246zM544 257zM565 252zM636 251zM646 241zM648 214zM650 237zM620 256zM592 252zM527 219zM624 252zM483 239zM558 251zM575 220zM580 269zM583 260zM572 261zM580 267zM545 258zM587 257zM575 246zM574 234zM593 261zM535 234zM632 254zM557 216zM590 227zM590 263zM641 217zM536 230zM538 244zM576 217zM559 259zM556 227zM576 259zM614 216zM595 260zM544 235zM535 256zM585 254zM538 230zM624 243zM519 220zM577 271zM576 267zM529 227zM576 247zM565 233zM528 217zM604 247zM578 250zM555 229zM592 249zM579 270zM547 254zM554 249zM528 233zM586 242zM579 258zM584 254zM607 227zM605 253zM565 261zM549 236zM603 259zM550 258zM648 227zM629 250zM623 252zM640 236zM535 218zM562 221zM540 215zM635 218zM588 264zM509 251zM632 225zM508 231zM523 245zM538 226zM643 249zM577 238zM537 233zM522 218zM596 221zM579 269zM546 231zM633 240zM565 247zM562 244zM492 220zM543 237zM565 259zM544 251zM613 255zM623 222zM615 217zM583 266zM611 233zM544 246zM576 219zM614 240zM559 239zM523 252zM578 269zM631 219zM589 233zM589 218zM572 242zM584 258zM615 216zM635 219zM503 218zM581 234zM574 264zM607 256zM585 231zM578 264zM665 245zM579 269zM548 229zM601 226zM578 271zM630 216zM547 247zM625 244zM584 262zM572 227zM613 224zM605 248zM630 216zM564 246zM669 223zM578 270zM523 251zM547 257zM579 270zM638 217zM577 268zM620 245zM572 248zM579 268zM581 266zM541 237zM570 261zM591 259zM558 217zM589 222zM623 224zM533 219zM543 254zM546 240zM574 265zM631 254zM579 228zM592 258zM559 245zM651 246zM628 240zM620 256zM544 236zM553 246zM601 251zM645 244zM530 222zM519 244zM605 225zM551 254zM596 250zM578 265zM568 228zM577 270zM527 218zM580 267zM552 244zM599 252zM604 256zM575 250zM661 215zM662 234zM549 251zM545 240zM531 254zM628 246zM628 234zM568 242zM596 246zM638 255zM628 253zM579 265zM545 258zM513 245zM536 216zM563 256zM574 264zM562 215zM545 232zM546 245zM588 243zM636 232zM667 235zM547 235zM614 250zM644 241zM560 250zM598 225zM578 271zM592 235zM548 219zM644 247zM580 268zM606 257zM577 268zM617 223zM621 257zM607 228zM621 227zM578 269zM577 266zM562 234zM564 244zM614 239zM580 269zM577 268zM587 262zM514 224zM585 226zM583 251zM585 245zM597 226zM544 253zM562 234zM555 217zM625 223zM577 267zM531 231zM559 223zM578 266zM551 221zM638 252zM579 267zM578 270zM578 268zM639 234zM654 235zM590 264zM532 230zM552 240zM578 267zM586 263zM569 253zM577 268zM617 232zM594 215zM524 250zM541 246zM548 257zM581 264zM528 230zM517 223zM631 217zM541 234zM550 234zM636 222zM576 266zM608 238zM539 218zM533 250zM554 220zM606 241zM577 251zM575 267zM559 241zM580 260zM565 247zM555 253zM578 269zM592 231zM556 256zM588 223zM567 243zM594 263zM622 231zM552 240zM544 253zM572 257zM616 226zM600 240zM658 226zM604 216zM533 239zM574 218zM544 234zM613 254zM637 242zM562 260zM654 219zM638 225zM580 265zM528 237zM597 221zM559 216zM634 237zM619 218zM522 242zM579 270zM573 228zM580 269zM594 228zM637 217zM570 251zM619 228zM572 234zM567 227zM537 254zM521 232zM576 265zM575 228zM552 245zM692 245zM633 225zM641 217zM573 250zM657 247zM590 261zM563 239zM577 270zM631 233zM554 219zM554 257zM553 243zM577 268zM622 253zM570 220zM596 261zM629 247zM556 252zM576 215zM593 225zM545 249zM615 235zM572 227zM620 230zM644 227zM624 226zM539 215zM546 250zM577 221zM577 269zM640 249zM567 253zM610 258zM589 263zM540 235zM574 266zM574 266zM581 267zM583 235zM542 225zM552 242zM621 215zM572 237zM563 229zM603 260zM531 234zM577 270zM553 226zM645 238zM579 228zM541 223zM562 245zM568 247zM625 224zM595 252zM545 235zM608 236zM549 233zM641 242zM594 218zM546 225zM537 225zM579 267zM536 220zM555 241zM577 261zM586 264zM556 236zM572 239zM577 271zM578 217zM586 255zM583 260zM634 248zM590 229zM532 239zM547 249zM544 242zM645 218zM563 252zM563 259zM576 268zM556 216zM564 235zM549 237zM520 232zM593 262zM592 257zM613 243zM574 264zM581 266zM571 227zM620 245zM592 263zM533 241zM530 219zM621 221zM543 257zM619 223zM527 228zM595 250zM564 250zM609 237zM583 228zM606 227zM556 259zM572 232zM644 223zM541 232zM639 217zM611 236zM609 247zM583 267zM554 233zM645 225zM589 231zM584 265zM596 219zM536 236zM578 255zM636 235zM540 248zM600 220zM549 218zM614 231zM641 238zM585 265zM556 258zM608 226zM592 230zM590 237zM594 243zM578 264zM576 241zM656 246zM599 261zM577 269zM587 231zM519 223zM577 267zM561 229zM524 222zM592 224zM561 257zM579 269zM649 229zM629 250zM593 243zM576 232zM598 217zM646 221zM572 264zM557 233zM578 269zM540 254zM618 256zM633 225zM574 267zM564 251zM587 264zM537 243zM612 255zM568 264zM561 252zM546 254zM563 240zM622 255zM633 234zM548 218zM551 224zM571 251zM579 270zM646 223zM577 263zM582 263zM553 226zM535 222zM577 270zM637 225zM565 223zM630 254zM693 247zM605 257zM564 238zM510 222zM557 252zM656 249zM531 215zM548 238zM584 266zM580 246zM541 218zM541 243zM566 238zM589 257zM649 216zM574 232zM636 236zM546 253zM586 256zM639 235zM523 239zM550 239zM579 270zM671 246zM563 223zM606 221zM577 215zM576 265zM615 242zM593 258zM530 236zM587 264zM600 221zM555 242zM581 237zM630 240zM637 247zM574 265zM567 224zM518 243zM586 231zM573 264zM522 214zM601 254zM552 235zM597 223zM598 247zM648 221zM535 249zM624 228zM630 225zM634 249zM589 239zM578 270zM623 219zM554 259zM600 221zM619 246zM584 265zM574 266zM628 234zM591 218zM661 218zM586 257zM490 232zM526 245zM613 227zM592 256zM613 218zM633 226zM645 226zM566 256zM548 241zM612 225zM584 257zM640 231zM618 258zM524 234zM578 270zM575 262zM595 260zM634 226zM613 234zM582 262zM552 248zM593 216zM577 269zM560 256zM515 245zM586 228zM632 231zM636 238zM638 227zM571 237zM619 242zM577 268zM578 271zM562 248zM576 241zM577 269zM590 229zM576 265zM554 240zM527 223zM627 242zM640 246zM567 254zM619 221zM534 228zM538 235zM573 264zM550 248zM590 262zM534 220zM633 247zM579 268zM629 246zM584 265zM608 234zM544 242zM590 241zM544 252zM624 229zM605 224zM590 250zM572 240zM577 269zM581 252zM544 236zM564 240zM659 241zM624 241zM583 257zM527 255zM592 258zM545 235zM570 217zM614 238zM627 246zM576 264zM579 269zM576 267zM579 271zM607 216zM591 221zM547 215zM590 234zM578 269zM577 270zM576 267zM570 264zM579 246zM586 264zM556 258zM584 230zM578 269zM536 221zM579 268zM544 242zM589 255zM635 244zM575 266zM564 261zM588 221zM561 259zM581 268zM571 216zM537 253zM612 246zM578 235zM558 245zM576 218zM575 262zM561 249zM576 234zM597 254zM577 270zM573 264zM524 225zM582 266zM595 262zM637 231zM572 215zM570 253zM559 261zM639 215zM603 235zM578 255zM571 245zM534 252zM578 229zM556 230zM639 236zM596 233zM570 262zM621 216zM525 242zM585 263zM598 242zM568 226zM577 267zM564 248zM594 231zM592 261zM596 246zM583 225zM643 215zM652 240zM594 262zM567 228zM590 228zM536 232zM600 251zM584 266zM597 233zM658 239zM602 214zM630 231zM576 267zM557 256zM577 265zM627 242zM620 231zM577 237zM564 223zM579 225zM648 246zM523 253zM581 265zM633 248zM603 219zM565 239zM620 244zM573 230zM568 263zM664 243zM587 265zM641 252zM590 234zM559 259zM580 269zM538 223zM622 236zM603 261zM612 237zM585 265zM570 224zM623 229zM563 261zM597 243zM517 244zM617 244zM649 238zM530 224zM533 229zM603 238zM576 268zM578 266zM708 245zM572 238zM540 255zM579 271zM562 260zM629 251zM626 229zM571 239zM560 224zM619 258zM576 256zM616 238zM574 264zM553 244zM606 256zM575 268zM532 229zM639 253zM533 217zM623 254zM561 260zM541 225zM619 219zM602 226zM579 267zM519 227zM643 245zM628 231zM596 256zM536 253zM579 266zM579 239zM562 261zM591 224zM668 219zM606 259zM557 255zM534 240zM586 240zM644 244zM525 218zM593 241zM521 245zM664 245zM652 251zM579 256zM629 238zM603 219zM629 216zM636 232zM596 242zM644 233zM625 218zM596 240zM602 249zM522 248zM622 241zM552 220zM548 222zM526 226zM657 247zM568 260zM604 251zM584 247zM572 265zM598 244zM589 217zM566 231zM612 248zM599 237zM599 247zM578 269zM544 245zM600 222zM584 219zM588 232zM552 215zM576 266zM554 249zM568 255zM575 268zM608 245zM573 255zM579 268zM575 223zM562 261zM549 242zM610 249zM637 252zM698 232zM575 261zM567 258zM570 229zM544 253zM559 233zM614 219zM648 228zM561 241zM609 250zM570 255zM575 267zM582 267zM560 259zM580 268zM595 215zM567 217zM570 242zM567 214zM535 249zM569 261zM629 225zM548 218zM580 267zM629 234zM630 243zM583 267zM575 232zM632 217zM584 222zM581 268zM596 221zM667 221zM582 262zM587 220zM588 217zM551 239zM613 226zM532 251zM609 250zM580 267zM595 222zM574 250zM596 220zM522 250zM549 256zM580 269zM570 263zM596 262zM580 268zM572 239zM641 235zM579 263zM568 257zM632 233zM451 238zM555 241zM593 254zM573 265zM545 257zM552 229zM570 262zM557 226zM578 270zM543 253zM570 264zM569 262zM576 257zM594 261zM552 243zM567 256zM657 241zM669 227zM593 242zM657 240zM592 236zM574 266zM582 242zM619 225zM525 228zM601 245zM531 220zM579 261zM558 245zM575 265zM595 259zM577 270zM518 253zM566 263zM615 228zM578 268zM562 224zM556 230zM592 236zM618 251zM571 240zM569 239zM592 216zM589 263zM568 257zM592 261zM652 231zM580 266zM557 244zM629 247zM547 255zM568 248zM558 241zM537 215zM603 255zM561 228zM600 247zM566 243zM569 259zM574 265zM544 240zM582 265zM561 253zM513 217zM625 232zM568 218zM602 242zM577 269zM529 233zM548 237zM513 252zM642 229zM598 228zM625 243zM591 220zM572 239zM577 270zM570 257zM548 223zM596 239zM633 223zM565 215zM612 243zM607 227zM604 254zM591 250zM559 258zM553 234zM585 244zM633 228zM564 259zM647 216zM563 248zM577 266zM557 240zM534 221zM554 255zM568 259zM588 220zM577 268zM571 229zM533 246zM580 268zM589 260zM629 237zM625 248zM583 265zM567 243zM480 242zM651 228zM593 256zM572 224zM525 218zM618 225zM594 247zM592 241zM510 227zM579 268zM578 269zM659 252zM638 246zM572 226zM619 240zM561 247zM588 237zM582 222zM580 267zM612 256zM686 220zM593 252zM646 244zM608 225zM581 266zM558 235zM637 222zM589 217zM539 255zM567 247zM609 216zM615 217zM504 250zM629 238zM595 261zM638 249zM639 228zM522 246zM596 216zM577 270zM514 231zM549 249zM589 263zM555 253zM653 245zM571 265zM549 243zM583 261zM521 249zM632 242zM578 270zM558 252zM581 266zM579 220zM590 258zM578 269zM589 229zM599 258zM551 259zM639 232zM594 248zM590 262zM635 250zM552 253zM594 239zM577 266zM564 225zM537 246zM574 263zM569 228zM577 269zM659 240zM542 245zM593 259zM615 242zM533 229zM552 252zM536 235zM581 263zM590 261zM578 258zM567 261zM576 222zM579 267zM665 238zM593 215zM572 218zM549 233zM654 238zM625 242zM538 230zM587 263zM618 257zM575 265zM627 230zM519 218zM579 271zM545 226zM589 252zM533 217zM555 228zM616 255zM575 228zM657 225zM598 256zM562 232zM559 260zM561 259zM574 261zM571 231zM579 269zM608 254zM544 231zM589 259zM604 242zM621 236zM558 261zM455 221zM526 247zM530 251zM582 263zM615 223zM504 219zM535 223zM588 236zM571 217zM604 234zM573 258zM638 225zM635 214zM574 228zM640 230zM567 261zM584 260zM622 243zM592 262zM544 254zM621 218zM598 260zM662 233zM506 244zM627 230zM592 239zM560 234zM543 233zM594 262zM643 249zM583 219zM526 216zM599 230zM616 257zM573 266zM529 255zM669 232zM547 254zM585 257zM651 247zM593 241zM585 265zM621 221zM597 253zM553 242zM572 223zM580 267zM573 248zM560 217zM616 228zM578 229zM593 221zM635 240zM577 259zM598 217zM568 223zM664 235zM581 265zM524 219zM609 220zM573 247zM570 220zM538 241zM525 222zM618 218zM549 239zM621 242zM614 231zM549 235zM649 238zM589 239zM539 227zM567 227zM573 226zM564 221zM557 223zM577 269zM563 247zM573 245zM570 220zM611 219zM615 237zM632 228zM573 265zM546 256zM619 224zM584 266zM556 251zM599 257zM582 267zM582 236zM577 263zM572 225zM568 251zM591 262zM620 233zM617 245zM530 248zM591 253zM558 218zM556 234zM624 256zM574 224zM581 266zM647 224zM584 242zM587 237zM535 218zM562 247zM588 241zM581 232zM580 269zM646 220zM577 240zM574 215zM609 252zM640 245zM620 229zM607 219zM561 258zM584 241zM552 236zM540 237zM558 248zM590 262zM565 253zM624 242zM634 219zM566 241zM643 215zM583 240zM533 237zM647 245zM601 240zM574 240zM580 265zM575 266zM566 257zM551 258zM560 244zM591 242zM577 270zM544 239zM578 270zM570 254zM537 229zM540 241zM631 217zM523 221zM552 251zM530 225zM593 260zM589 223zM666 242zM567 232zM578 270zM587 264zM553 233zM613 221zM614 226zM594 243zM555 251zM613 226zM520 246zM653 241zM597 242zM600 246zM566 249zM551 222zM649 217zM628 237zM619 232zM561 244zM609 254zM579 270zM527 222zM609 257zM528 223zM614 254zM519 229zM651 250zM646 215zM533 235zM577 270zM545 254zM521 224zM578 234zM529 226zM643 245zM537 254zM580 269zM584 264zM583 227zM587 215zM609 224zM578 240zM541 254zM545 215zM583 241zM574 267zM598 256zM578 271zM579 269zM569 249zM578 270zM549 214zM567 218zM619 256zM567 224zM540 240zM566 219zM679 226zM584 265zM594 262zM647 229zM610 241zM582 264zM585 248zM520 222zM568 219zM528 228zM538 218zM557 234zM516 244zM641 245zM577 266zM656 223zM601 239zM574 225zM585 247zM572 265zM527 237zM632 233zM578 263zM560 226zM520 233zM618 220zM590 261zM530 252zM662 239zM585 225zM550 246zM539 217zM565 234zM595 256zM594 263zM657 250zM556 228zM544 237zM541 226zM666 236zM624 238zM570 265zM520 235zM571 263zM642 250zM582 258zM568 222zM536 248zM599 244zM576 266zM620 227zM579 242zM537 251zM594 250zM593 224zM568 215zM594 253zM547 258zM610 259zM625 250zM612 255zM627 235zM643 249zM600 237zM577 225zM597 220zM563 260zM641 233zM586 239zM549 223zM602 260zM599 240zM546 233zM597 243zM594 220zM600 260zM575 259zM559 249zM628 243zM549 234zM710 215zM525 253zM570 252zM560 245zM632 218zM553 259zM564 239zM652 249zM523 237zM578 269zM587 224zM612 246zM631 231zM580 269zM556 229zM533 224zM546 225zM637 217zM565 260zM637 222zM579 260zM608 258zM554 260zM600 236zM544 215zM535 227zM633 220zM632 247zM564 242zM549 254zM579 270zM567 252zM546 240zM583 265zM585 229zM576 262zM571 246zM581 262zM592 263zM585 241zM515 218zM543 216zM633 224zM616 257zM591 262zM592 256zM591 223zM532 217zM553 239zM542 215zM623 222zM642 253zM603 238zM570 225zM553 238zM589 262zM577 271zM638 243zM572 223zM578 219zM581 268zM562 256zM545 241zM566 230zM593 248zM482 215zM533 230zM575 248zM585 218zM573 266zM575 267zM578 270zM560 257zM590 238zM565 244zM604 221zM515 215zM564 217zM635 229zM537 235zM607 235zM630 230zM613 234zM579 268zM576 238zM598 261zM571 191zM585 108zM571 203zM571 212zM584 88zM573 128zM584 177zM570 214zM585 190zM571 174zM585 206zM572 131zM572 193zM585 202zM585 210zM584 204zM571 175zM573 148zM573 197zM573 197zM572 155zM571 166zM570 205zM584 189zM572 196zM571 187zM571 204zM571 199zM586 188zM584 188zM583 209zM573 201zM578 132zM577 178zM572 205zM578 209zM573 187zM572 186zM574 197zM579 110zM575 208zM582 202zM578 140zM581 97zM574 141zM584 211zM582 122zM577 206zM573 213zM573 198zM577 210zM584 202zM584 91zM573 187zM581 158zM584 172zM581 207zM578 211zM574 144zM584 208z" stroke="#222" stroke-opacity="0.265" stroke-width="5.6" stroke-linecap="round" fill="none"/><path transform="scale(.5)" d="M563 212zM556 105zM517 154zM556 206zM501 210zM545 204zM552 193zM558 172zM528 194zM543 129zM551 164zM567 154zM560 212zM559 184zM544 209zM552 179zM543 201zM541 193zM556 175zM527 191zM559 212zM538 152zM559 88zM548 211zM534 166zM541 158zM562 198zM539 209zM553 181zM559 194zM552 188zM560 156zM540 213zM560 164zM554 202zM535 183zM539 210zM567 202zM546 178zM543 187zM563 177zM553 81zM507 209zM545 194zM550 209zM466 193zM567 162zM556 151zM532 198zM526 211zM569 193zM542 210zM562 191zM542 190zM554 170zM550 205zM561 184zM569 180zM569 194zM546 211zM532 150zM559 206zM537 183zM534 207zM528 154zM549 167zM567 146zM557 185zM558 174zM534 192zM568 202zM500 199zM501 188zM561 204zM536 198zM567 185zM564 202zM516 188zM488 210zM559 180zM547 192zM516 178zM511 165zM539 196zM523 162zM559 171zM560 202zM519 177zM539 161zM552 165zM569 142zM527 190zM565 199zM567 193zM518 187zM565 204zM518 183zM537 209zM566 187zM557 205zM557 189zM554 187zM555 145zM553 200zM570 159zM533 208zM547 189zM548 200zM558 91zM493 208zM537 211zM554 191zM568 196zM556 203zM522 195zM565 113zM530 195zM520 142zM568 203zM559 207zM532 196zM446 179zM549 197zM565 193zM564 209zM549 144zM545 205zM545 193zM549 165zM563 197zM533 209zM477 184zM550 189zM555 170zM552 188zM457 190zM552 205zM564 185zM567 171zM550 194zM562 164zM568 173zM541 191zM546 166zM535 191zM552 183zM549 151zM550 204zM567 171zM461 183zM556 209zM529 201zM531 178zM549 145zM566 171zM549 188zM529 69zM545 190zM566 162zM568 167zM549 112zM551 187zM539 185zM543 213zM548 214zM548 164zM516 163zM538 184zM542 182zM518 205zM564 205zM545 181zM568 209zM556 212zM569 160zM567 189zM523 203zM550 211zM542 168zM541 167zM569 205zM553 168zM547 195zM515 181zM520 191zM528 200zM534 180zM547 152zM562 194zM568 206zM570 200zM559 214zM570 144zM567 124zM511 172zM554 204zM560 196zM534 191zM513 213zM544 162zM537 208zM563 211zM565 213zM560 206zM496 190zM560 167zM534 68zM518 183zM485 198z" stroke="#2410ff" stroke-opacity="0.72" stroke-width="5.8" stroke-linecap="round" fill="none"/>
<path transform="scale(.5)" d="M561 189zM556 197zM533 140zM541 211zM544 187zM541 188zM542 188zM545 184zM558 193zM570 191zM514 207zM540 203zM500 207zM546 208zM556 155zM569 207zM554 183zM553 183zM548 208zM525 183zM508 205zM556 137zM539 175zM554 147zM510 195zM539 192zM553 204zM555 178zM558 187zM564 176zM483 149zM547 163zM558 189zM543 165zM547 193zM528 177zM536 186zM560 209zM551 211zM507 196zM542 188zM535 211zM549 158zM550 185zM557 206zM568 175zM491 186zM566 200zM560 166zM537 210zM546 212zM555 195zM484 183zM540 211zM553 116zM558 213zM569 205zM549 186zM563 163zM567 213zM524 177zM539 197zM551 128zM553 208zM537 200zM567 180zM541 182zM555 212zM547 193zM541 211zM567 179zM549 172zM530 194zM548 165zM569 116zM544 211zM554 152zM549 192zM543 195zM542 193zM558 196zM555 185zM511 166zM569 177zM551 170zM538 193zM543 198zM567 201zM530 195zM565 100zM558 197zM567 195zM570 138zM560 82zM567 186zM546 208zM546 180zM538 158zM544 201zM559 194zM471 196zM529 214zM566 187zM550 210zM558 212zM542 155zM535 204zM550 140zM513 198zM555 200zM551 185zM526 170zM504 206zM551 152zM569 210zM483 129zM560 170zM537 206zM536 202zM548 182zM547 170zM517 213zM550 193zM559 199zM542 198zM536 186zM545 174zM511 211zM553 152zM566 212zM549 178zM558 214zM558 194zM548 182zM522 210zM508 197zM546 182zM556 156zM558 206zM560 165zM537 205zM537 175zM541 189zM568 208zM541 160zM548 161zM532 174zM526 206zM543 146zM562 168zM528 210zM540 202zM556 190zM527 209zM538 188zM515 200zM560 205zM558 168zM565 200zM555 176zM546 205zM556 213zM555 203zM539 205zM559 199zM562 214zM570 180zM564 210zM569 204zM551 165zM539 211zM545 214zM548 210zM535 203zM557 209zM557 116zM514 195zM558 171zM564 202zM543 172zM546 209zM525 177zM542 212zM567 206zM543 186zM547 193zM554 209z" stroke="#2410ff" stroke-opacity="0.72" stroke-width="5.8" stroke-linecap="round" fill="none"/>
<path transform="scale(.5)" d="M550 164zM531 186zM557 203zM535 197zM550 127zM558 179zM539 202zM556 66zM534 206zM549 210zM542 202zM568 214zM535 192zM552 190zM555 163zM562 212zM558 184zM513 197zM549 194zM556 188zM524 147zM565 206zM557 180zM557 179zM556 138zM557 147zM543 143zM552 208zM546 189zM562 191zM470 168zM552 198zM548 210zM558 206zM535 151zM562 178zM500 156zM565 199zM556 201zM550 178zM548 189zM546 208zM544 188zM553 196zM495 208zM515 188zM556 172zM531 193zM561 201zM563 176zM554 204zM537 181zM564 135zM553 186zM555 200zM559 180zM567 202zM549 185zM531 200zM562 149zM549 180zM536 209zM565 195zM540 169zM544 183zM552 135zM558 197zM529 190zM529 174zM568 190zM546 189zM538 198zM542 212zM566 186zM563 191zM548 169zM547 129zM563 206zM549 178zM559 160zM558 197zM557 138zM540 206zM566 149zM570 212zM541 191zM540 185zM565 186zM542 183zM561 194zM553 185zM554 151zM561 207zM528 160zM558 159zM554 209zM545 158zM531 208zM539 197zM556 165zM565 193zM547 212zM566 208zM541 152zM520 183zM536 196zM566 190zM552 175zM538 202zM541 157zM543 193zM562 155zM545 179zM551 89zM549 202zM556 141zM561 66zM545 193zM544 163zM546 196zM524 199zM547 210zM544 184zM543 171zM555 165zM545 146zM537 212zM545 172zM543 147zM544 182zM481 196zM559 209zM546 166zM537 209zM562 181zM538 207zM550 182zM561 190zM531 195zM557 207zM564 175zM524 202zM540 191zM462 208zM516 201zM544 175zM565 199zM566 187zM569 207zM557 174zM563 212zM552 181zM521 196zM569 91zM541 151zM566 158zM536 181zM553 140zM539 197zM545 138zM545 194zM569 207zM556 203zM563 191zM553 199zM541 178zM563 169zM558 162zM446 184zM566 172zM549 192zM562 199zM505 189zM559 212zM559 184zM482 166zM566 184zM468 171zM515 199zM554 166zM522 192zM537 184zM556 154zM522 202zM526 205zM570 207zM567 160zM567 155zM531 199zM564 200zM550 186zM552 199zM557 163zM528 205zM539 195zM551 202zM555 111zM513 202zM551 177zM561 181zM558 176zM522 177zM555 213zM556 203zM519 197zM548 192zM566 186zM567 214z" stroke="#2410ff" stroke-opacity="0.72" stroke-width="5.8" stroke-linecap="round" fill="none"/>
<path transform="scale(.5)" d="M565 186zM558 136zM568 210zM526 207zM540 207zM561 163zM560 170zM524 158zM552 185zM552 178zM568 206zM518 197zM530 192zM472 198zM533 214zM544 211zM538 187zM537 196zM547 208zM567 210zM526 209zM552 183zM550 200zM513 202zM561 139zM549 179zM562 211zM556 181zM557 208zM528 172zM569 189zM547 166zM557 212zM551 199zM537 189zM567 206zM543 198zM548 175zM546 199zM553 159zM566 198zM547 208zM521 199zM546 185zM547 170zM531 209zM558 192zM548 210zM530 212zM556 189zM544 206zM566 179zM564 200zM546 175zM550 159zM549 201zM569 202zM565 185zM565 196zM545 206zM558 199zM569 207zM557 179zM563 180zM555 204zM569 184zM559 212zM567 186zM523 193zM556 184zM551 194zM562 163zM553 169zM566 155zM535 182zM551 203zM534 175zM503 139zM569 177zM548 181zM553 199zM570 196zM552 206zM517 175zM561 214zM538 187zM559 108zM556 191zM555 178zM567 131zM549 203zM545 187zM534 210zM541 202zM557 200zM548 203zM543 192zM554 142zM545 160zM548 183zM503 207zM562 202zM546 198zM565 164zM543 185zM560 136zM562 191zM558 172zM551 171zM546 95zM546 139zM555 196zM523 209zM559 196zM546 194zM510 178zM546 177zM568 184zM568 175zM541 190zM547 177zM541 164zM563 195zM530 191zM561 183zM561 168zM527 184zM564 189zM536 205zM552 192zM561 169zM537 184zM564 197zM547 167zM545 207zM537 185zM521 172zM494 195zM569 185zM539 182zM557 179zM548 195zM548 199zM565 212zM567 196zM541 193zM564 150zM563 211zM520 203zM538 194zM540 206zM515 180zM501 205zM553 199zM552 198zM544 145zM548 194zM519 195zM536 211zM554 206zM537 198zM539 207zM560 168zM472 175zM540 214zM570 146zM547 203zM547 192zM551 192zM553 189zM483 203zM563 211zM548 122zM563 173zM537 206zM546 187zM560 195zM550 166zM569 207zM541 193zM520 213zM525 194zM553 206zM566 189zM544 192zM570 200z" stroke="#2410ff" stroke-opacity="0.72" stroke-width="5.8" stroke-linecap="round" fill="none"/><path transform="scale(.5)" d="M682 213zM662 209zM613 192zM603 213zM600 198zM619 203zM649 178zM620 183zM611 179zM586 154zM621 177zM643 178zM590 209zM595 177zM627 176zM629 202zM592 210zM616 212zM602 161zM627 184zM624 163zM624 214zM608 148zM629 156zM624 157zM631 192zM625 174zM598 205zM631 90zM596 196zM631 210zM598 213zM588 192zM587 204zM625 185zM613 172zM621 206zM619 181zM609 211zM631 201zM651 180zM624 170zM624 210zM598 208zM612 149zM636 177zM626 203zM704 204zM618 199zM601 164zM612 203zM610 90zM623 184zM705 205zM621 207zM598 205zM619 190zM600 205zM627 174zM624 205zM623 177zM607 184zM639 192zM621 182zM618 191zM621 159zM618 200zM600 205zM617 198zM643 193zM602 168zM605 211zM593 191zM603 176zM655 91zM651 182zM607 168zM600 214zM626 196zM609 182zM593 210zM609 204zM620 206zM639 176zM611 193zM588 211zM640 204zM617 191zM639 178zM621 209zM599 213zM608 178zM614 179zM595 206zM650 211zM603 141zM628 174zM594 213zM592 184zM625 191zM596 194zM591 207zM631 209zM609 121zM621 206zM618 186zM613 200zM612 147zM591 207zM593 161zM641 159zM635 207zM600 211zM590 75zM616 205zM601 174zM595 145zM629 210zM601 201zM622 183zM627 147zM682 210zM625 140zM590 166zM613 180zM604 201zM626 185zM600 205zM609 189zM601 178zM628 203zM591 130zM605 204zM599 167zM588 198zM622 158zM657 200zM615 177zM622 176zM638 212zM611 137zM610 168zM629 207zM603 200zM632 197zM650 173zM631 199zM610 196zM601 200zM631 194zM588 190zM623 187zM629 179zM594 206zM626 127zM606 155zM607 202zM627 207zM631 201zM600 127zM627 167zM624 132zM593 186zM630 180zM627 183zM609 202zM626 168zM593 168zM599 210zM617 173zM597 186zM586 200zM622 192zM594 201zM595 152zM626 155zM622 195zM612 169zM603 144zM640 184zM667 181zM621 197zM636 145zM606 184zM652 207zM595 188zM590 157zM646 178zM603 181zM590 197zM625 174zM656 196zM603 206zM632 208zM607 200zM626 199zM655 208zM586 210zM598 193zM628 201zM587 190zM626 181zM612 189zM618 131zM624 202zM647 154zM651 196zM614 195zM625 177zM595 205zM610 169zM617 163zM594 211zM592 162zM669 201zM614 202zM600 153zM621 197zM627 204zM599 180zM651 211zM639 197zM602 195zM614 174zM646 115z" stroke="#ff2a12" stroke-opacity="0.72" stroke-width="5.8" stroke-linecap="round" fill="none"/>
<path transform="scale(.5)" d="M596 176zM633 197zM665 207zM600 200zM615 206zM602 189zM626 208zM631 197zM610 155zM650 172zM591 191zM589 158zM586 199zM626 186zM635 202zM630 160zM635 208zM662 162zM598 192zM624 162zM628 202zM614 162zM638 203zM588 173zM603 182zM600 175zM620 120zM613 211zM650 169zM607 113zM636 184zM606 176zM613 169zM600 139zM628 206zM609 126zM644 213zM703 208zM602 149zM615 206zM591 183zM611 209zM610 203zM657 212zM594 168zM605 168zM597 212zM595 165zM602 173zM625 156zM619 198zM666 171zM596 168zM587 208zM597 158zM600 178zM617 198zM616 179zM680 214zM606 208zM599 173zM618 202zM626 166zM635 207zM640 192zM615 189zM606 206zM595 132zM626 205zM591 199zM613 182zM678 198zM613 171zM602 195zM622 185zM624 194zM592 142zM621 194zM628 200zM610 203zM622 203zM621 204zM610 210zM587 191zM619 201zM603 161zM643 195zM614 191zM607 170zM593 136zM607 152zM632 212zM603 198zM593 158zM604 191zM591 202zM586 138zM593 206zM627 212zM588 171zM615 208zM615 211zM652 208zM623 173zM616 178zM632 211zM631 206zM635 178zM591 176zM600 194zM626 196zM612 203zM642 201zM587 151zM614 154zM646 199zM634 193zM594 92zM623 189zM638 177zM613 207zM680 167zM595 210zM658 182zM608 203zM606 196zM618 181zM598 211zM699 210zM591 213zM606 150zM710 181zM620 214zM605 147zM592 160zM594 199zM622 178zM615 205zM648 196zM622 183zM617 144zM602 180zM608 157zM622 199zM595 213zM671 187zM623 208zM608 210zM637 205zM600 161zM628 171zM614 142zM596 209zM592 167zM630 212zM623 180zM610 207zM599 194zM605 214zM621 213zM629 198zM586 200zM626 210zM620 157zM626 165zM624 190zM622 185zM639 195zM616 146zM589 199zM613 89zM601 185zM702 204zM587 197zM623 161zM615 207zM612 176zM611 161zM594 201zM614 196zM589 191zM592 161zM598 172zM668 196zM631 196zM619 208zM586 145zM599 187zM595 192zM605 176zM609 171zM627 210zM596 171zM594 204zM622 185zM650 139zM600 166zM595 199zM587 173zM596 178zM617 182zM592 154zM620 166zM587 190zM611 201zM588 191zM587 208zM620 211zM621 196zM628 213zM629 157zM650 213z" stroke="#ff2a12" stroke-opacity="0.72" stroke-width="5.8" stroke-linecap="round" fill="none"/>
<path transform="scale(.5)" d="M604 186zM596 198zM615 198zM621 204zM624 200zM587 194zM618 172zM617 181zM617 164zM587 208zM658 161zM605 148zM595 209zM596 167zM627 174zM614 198zM614 172zM611 198zM587 207zM605 198zM626 202zM606 111zM589 196zM593 198zM613 198zM627 185zM589 196zM628 177zM589 185zM586 151zM589 163zM611 154zM618 207zM641 199zM640 197zM623 147zM609 160zM602 210zM659 200zM619 196zM598 169zM627 177zM593 192zM616 204zM667 200zM610 199zM651 205zM608 197zM606 160zM652 207zM591 164zM591 180zM614 158zM605 192zM653 203zM628 204zM611 186zM623 195zM597 213zM645 212zM632 212zM676 166zM638 206zM627 170zM610 176zM633 204zM594 209zM594 196zM628 188zM586 208zM598 194zM646 213zM662 214zM607 213zM621 153zM617 193zM692 187zM606 212zM610 154zM599 189zM629 195zM602 148zM620 197zM657 182zM634 211zM607 204zM634 214zM611 205zM587 179zM623 153zM640 212zM666 205zM613 208zM616 205zM651 211zM621 177zM623 192zM625 181zM630 174zM651 184zM628 184zM596 202zM662 179zM637 204zM596 169zM628 203zM612 104zM588 202zM630 205zM625 181zM655 189zM592 209zM608 78zM628 160zM629 185zM622 178zM616 208zM637 181zM613 192zM607 164zM623 206zM587 200zM612 154zM621 211zM604 151zM609 191zM611 194zM594 192zM603 206zM595 192zM597 201zM595 185zM617 189zM608 158zM626 183zM593 138zM624 199zM612 187zM600 132zM637 205zM659 205zM665 208zM630 199zM609 200zM628 214zM591 214zM599 175zM629 163zM625 160zM592 205zM604 173zM590 204zM614 206zM619 183zM671 178zM635 203zM638 183zM621 154zM602 195zM617 152zM627 191zM594 202zM622 144zM597 202zM594 174zM587 180zM595 214zM623 202zM638 202zM649 187zM649 187zM603 214zM610 121zM622 156zM637 169zM607 155zM631 209zM600 194zM604 182zM592 111zM599 181zM598 183zM614 174zM594 210zM633 205zM613 191zM587 198zM622 198zM598 145zM623 168zM597 127zM599 212zM594 178zM604 190zM656 151zM595 183zM602 173zM621 207zM627 184zM635 214zM588 178zM608 195zM601 140zM614 195zM615 182zM668 171zM609 181zM630 179zM599 205zM642 138zM592 171zM616 189zM586 128zM611 205zM606 193zM629 211zM610 194zM618 214zM618 169zM620 197zM629 203zM608 197zM623 182zM639 85zM710 171z" stroke="#ff2a12" stroke-opacity="0.72" stroke-width="5.8" stroke-linecap="round" fill="none"/>
<path transform="scale(.5)" d="M631 198zM597 170zM611 173zM604 170zM641 181zM686 174zM603 184zM677 212zM633 197zM605 214zM597 192zM629 185zM588 197zM629 156zM595 175zM587 205zM628 202zM629 174zM670 154zM603 208zM590 175zM632 212zM615 175zM666 165zM649 209zM612 206zM598 204zM602 180zM625 192zM589 205zM615 134zM668 171zM607 174zM595 154zM599 154zM645 192zM606 182zM589 210zM686 178zM618 204zM598 208zM614 200zM602 194zM649 200zM599 204zM611 211zM596 208zM631 171zM595 207zM599 173zM592 204zM603 196zM677 204zM643 200zM604 175zM665 202zM610 186zM592 187zM620 196zM598 170zM606 165zM610 195zM596 213zM669 201zM593 157zM686 205zM698 187zM603 178zM592 203zM629 200zM644 195zM604 193zM586 200zM586 205zM591 207zM630 168zM587 172zM635 214zM630 205zM620 164zM639 177zM634 160zM592 191zM612 207zM596 183zM611 109zM627 214zM607 187zM595 190zM606 180zM607 153zM589 184zM618 186zM649 195zM599 202zM610 188zM623 184zM589 188zM612 190zM607 189zM665 203zM610 209zM605 208zM593 200zM592 187zM613 185zM596 185zM589 149zM628 207zM620 206zM616 199zM610 193zM609 200zM609 163zM617 206zM631 172zM632 211zM619 185zM588 126zM620 188zM604 186zM594 182zM696 171zM609 200zM619 209zM624 201zM620 188zM587 150zM629 193zM608 207zM647 137zM632 204zM645 208zM624 211zM608 155zM619 197zM625 158zM611 186zM618 213zM618 165zM610 149zM605 211zM587 203zM622 195zM602 212zM622 179zM611 156zM626 189zM625 193zM603 214zM625 164zM629 186zM620 210zM588 179zM629 203zM631 197zM612 204zM610 197zM629 193zM624 195zM667 128zM600 188zM610 181zM629 190zM632 199zM589 131zM593 189zM653 204zM609 157zM700 185zM599 189zM606 205zM590 68zM596 209zM618 149zM621 201zM594 166zM605 178zM591 187zM648 168zM605 187zM684 191zM625 157zM635 210zM586 195zM622 197zM593 205zM596 156zM602 172zM618 207zM597 168zM599 171zM631 201zM613 206zM621 205zM607 206zM613 204zM629 190zM629 192zM647 75zM631 200zM621 177zM623 208zM609 163zM622 179zM623 206zM644 212zM607 118zM628 167zM617 181zM635 178zM610 167zM652 63z" stroke="#ff2a12" stroke-opacity="0.72" stroke-width="5.8" stroke-linecap="round" fill="none"/>
<path d="M221.5 7.3H356.5V142.2" fill="none" stroke="#555" stroke-width="1"/>
<path d="M216.5 142.2H356.5M221.5 7.3V147.2" fill="none" stroke="#333" stroke-width="1"/>
<path d="M221.5 142.2v4.8M255.2 142.2v4.8M289.0 142.2v4.8M322.8 142.2v4.8M356.5 142.2v4.8M221.5 142.2h-4.8M221.5 115.2h-4.8M221.5 88.2h-4.8M221.5 61.3h-4.8M221.5 34.3h-4.8M221.5 7.3h-4.8" stroke="#333" stroke-width="1"/>
<text transform="translate(221.5,156.1) scale(1,1.12)" font-size="6.6" text-anchor="middle" fill="#000">-10</text>
<text transform="translate(255.2,156.1) scale(1,1.12)" font-size="6.6" text-anchor="middle" fill="#000">-5</text>
<text transform="translate(289.0,156.1) scale(1,1.12)" font-size="6.6" text-anchor="middle" fill="#000">0</text>
<text transform="translate(322.8,156.1) scale(1,1.12)" font-size="6.6" text-anchor="middle" fill="#000">5</text>
<text transform="translate(356.5,156.1) scale(1,1.12)" font-size="6.6" text-anchor="middle" fill="#000">10</text>
<text transform="translate(214.5,144.6) scale(1,1.12)" font-size="6.6" text-anchor="end" fill="#000">0</text>
<text transform="translate(214.5,117.6) scale(1,1.12)" font-size="6.6" text-anchor="end" fill="#000">1</text>
<text transform="translate(214.5,90.6) scale(1,1.12)" font-size="6.6" text-anchor="end" fill="#000">2</text>
<text transform="translate(214.5,63.7) scale(1,1.12)" font-size="6.6" text-anchor="end" fill="#000">3</text>
<text transform="translate(214.5,36.7) scale(1,1.12)" font-size="6.6" text-anchor="end" fill="#000">4</text>
<text transform="translate(214.5,9.7) scale(1,1.12)" font-size="6.6" text-anchor="end" fill="#000">5</text>
<text transform="translate(289.0,166) scale(1,1.18)" font-size="6.15" font-weight="bold" text-anchor="middle" fill="#000">log<tspan font-size="4.2" dy="1.6">2</tspan><tspan dy="-1.6"> FC(Serum/Control)</tspan></text>
<text transform="translate(203.9,76.3) rotate(-90) scale(1,1.15)" font-size="5.9" font-weight="bold" text-anchor="middle" fill="#000">-log<tspan font-size="4.1" dy="1.6">10</tspan><tspan dy="-1.6"> (P-value)</tspan></text>
<text x="188.8" y="9.8" font-size="12.5" fill="#111">b</text>
<line x1="480.9" y1="7.3" x2="480.9" y2="142.2" stroke="#ccc" stroke-width="0.6" stroke-dasharray="1.5,1.5"/>
<path transform="scale(.5)" d="M923 245zM953 257zM957 242zM944 230zM1035 254zM911 237zM986 252zM945 230zM984 229zM932 254zM926 257zM949 265zM893 228zM869 231zM970 252zM956 228zM974 257zM969 245zM902 255zM995 234zM938 265zM977 253zM980 261zM925 254zM957 234zM948 245zM934 243zM999 229zM982 253zM921 229zM954 244zM991 252zM975 269zM932 262zM1005 249zM964 267zM917 260zM1003 252zM966 270zM956 266zM937 235zM918 243zM994 249zM938 264zM962 269zM1005 226zM976 266zM967 255zM978 265zM916 237zM972 239zM958 272zM1011 235zM1010 239zM951 267zM920 240zM978 239zM944 265zM951 270zM1000 231zM917 260zM904 250zM978 238zM1016 245zM953 258zM912 229zM964 266zM933 251zM954 270zM1002 246zM921 227zM920 239zM964 271zM971 240zM989 248zM974 255zM988 264zM932 232zM996 228zM989 258zM936 255zM993 238zM950 259zM975 264zM982 242zM925 235zM977 231zM922 237zM984 234zM981 264zM926 234zM917 245zM1004 252zM933 255zM1020 250zM931 254zM913 248zM976 234zM952 229zM963 269zM911 235zM942 263zM966 269zM896 238zM978 269zM922 240zM1021 240zM978 250zM942 257zM902 257zM962 244zM950 241zM967 244zM971 246zM978 238zM887 253zM1057 232zM943 255zM883 239zM912 231zM912 229zM969 270zM912 228zM1038 234zM985 234zM992 244zM1006 261zM923 230zM987 254zM1027 233zM944 243zM963 248zM914 227zM956 259zM919 247zM1024 239zM919 261zM958 255zM1008 238zM942 259zM997 248zM964 271zM934 258zM976 268zM948 264zM1030 253zM958 257zM1004 259zM942 239zM994 253zM985 241zM950 255zM960 229zM1005 260zM902 256zM1017 243zM921 240zM942 259zM960 271zM922 237zM955 261zM938 234zM1004 233zM931 242zM922 243zM972 267zM1023 228zM959 248zM994 236zM946 268zM987 239zM971 227zM981 255zM933 238zM960 256zM888 252zM892 235zM963 270zM993 228zM1016 241zM963 268zM993 252zM977 258zM997 261zM1014 256zM966 248zM975 244zM964 272zM984 241zM901 227zM937 260zM995 233zM951 227zM906 241zM947 231zM975 253zM1003 246zM955 234zM948 231zM981 237zM952 240zM931 228zM968 271zM941 265zM984 250zM917 242zM941 257zM982 252zM938 251zM1036 229zM905 235zM975 250zM923 226zM1033 236zM937 237zM944 265zM948 269zM983 259zM957 246zM968 241zM949 238zM964 272zM996 245zM976 227zM990 253zM968 242zM930 263zM1030 245zM1012 243zM950 243zM940 241zM1000 255zM977 265zM970 249zM982 256zM1014 241zM987 240zM953 248zM963 271zM959 269zM967 270zM930 252zM922 238zM966 229zM979 257zM980 258zM919 261zM971 269zM896 228zM956 227zM939 227zM915 226zM1008 258zM951 261zM917 240zM978 260zM894 252zM1053 242zM933 246zM1005 226zM974 268zM964 269zM920 237zM917 252zM960 237zM984 265zM977 255zM915 242zM927 249zM964 271zM947 238zM915 236zM963 271zM978 234zM952 267zM958 258zM999 259zM978 246zM980 245zM906 229zM933 226zM994 243zM968 267zM967 271zM910 258zM1085 227zM903 253zM951 244zM924 243zM969 239zM966 254zM972 251zM901 233zM1003 247zM852 226zM947 268zM985 254zM933 253zM939 241zM979 256zM966 226zM948 253zM990 240zM970 248zM964 266zM919 248zM968 270zM948 269zM970 250zM937 257zM923 257zM934 250zM963 241zM973 234zM917 231zM991 229zM983 265zM974 230zM960 263zM967 270zM987 234zM964 231zM1023 247zM1009 250zM1017 255zM1003 248zM960 271zM918 231zM956 253zM910 249zM966 271zM954 253zM934 229zM981 267zM984 251zM963 266zM976 231zM938 258zM969 238zM940 265zM953 237zM974 266zM1010 255zM938 264zM974 268zM953 266zM954 270zM954 268zM988 243zM1003 256zM1011 239zM1009 244zM1003 251zM1014 241zM906 226zM1016 230zM961 272zM936 233zM990 261zM950 265zM989 229zM943 267zM963 262zM991 240zM975 253zM1016 227zM950 237zM970 245zM974 268zM1006 246zM957 250zM917 256zM1011 250zM951 259zM1017 253zM963 255zM975 228zM969 263zM966 270zM908 252zM937 232zM927 261zM978 258zM1023 234zM986 263zM1029 250zM1002 235zM999 241zM1010 229zM1003 228zM956 253zM959 272zM964 247zM955 239zM928 255zM928 258zM945 261zM1019 237zM911 230zM990 231zM949 267zM926 263zM966 229zM938 251zM921 245zM952 234zM915 236zM905 241zM955 252zM964 257zM973 248zM964 263zM943 266zM951 259zM984 232zM970 270zM886 244zM987 241zM970 268zM980 259zM959 272zM982 264zM951 237zM921 235zM978 226zM1012 233zM971 227zM935 239zM981 258zM908 229zM940 237zM945 262zM932 257zM988 241zM915 260zM926 232zM951 238zM983 262zM967 230zM948 250zM938 259zM1016 249zM968 266zM976 255zM1025 233zM984 238zM929 256zM1003 228zM954 250zM916 231zM944 262zM1008 254zM867 248zM964 258zM968 244zM964 260zM954 259zM938 251zM974 261zM936 259zM995 244zM957 226zM987 265zM973 266zM964 237zM959 250zM936 252zM919 259zM971 228zM1001 250zM956 260zM907 246zM900 252zM927 262zM927 246zM1014 251zM986 261zM920 236zM943 265zM986 257zM986 253zM1018 257zM1026 252zM1016 240zM917 258zM938 253zM962 272zM951 260zM969 229zM977 268zM957 271zM1006 238zM919 253zM982 239zM908 251zM936 240zM978 247zM974 226zM977 234zM996 259zM945 231zM860 238zM939 244zM1012 230zM944 238zM973 258zM912 237zM975 265zM968 270zM1016 240zM973 251zM911 228zM964 271zM993 227zM905 245zM840 234zM975 248zM1008 243zM1030 250zM949 235zM1014 250zM932 240zM909 259zM938 252zM961 265zM957 239zM948 247zM975 229zM966 259zM932 259zM987 266zM895 255zM991 252zM991 236zM982 239zM962 269zM983 237zM967 269zM1034 241zM1069 241zM917 227zM963 266zM932 253zM943 239zM927 254zM946 268zM997 244zM898 226zM906 252zM967 269zM934 265zM956 264zM971 269zM977 258zM903 258zM926 248zM991 251zM934 232zM975 254zM921 259zM1000 229zM933 261zM1014 231zM925 232zM989 243zM986 237zM942 268zM966 270zM963 271zM974 240zM946 251zM927 240zM932 261zM921 230zM971 259zM989 243zM920 260zM916 242zM966 266zM933 258zM936 235zM960 272zM949 251zM953 236zM950 246zM908 254zM974 241zM963 260zM973 227zM968 270zM964 268zM1016 241zM952 247zM958 244zM994 246zM952 270zM983 258zM945 260zM953 260zM939 254zM977 261zM902 245zM959 269zM980 256zM997 248zM1046 234zM944 234zM1059 243zM1007 235zM839 231zM975 229zM930 260zM995 260zM969 270zM997 256zM963 234zM956 234zM969 267zM938 239zM888 249zM973 267zM1003 233zM986 238zM984 264zM944 262zM952 249zM1008 255zM961 271zM941 250zM979 229zM953 270zM1010 244zM914 232zM942 229zM943 240zM930 261zM1015 251zM953 232zM958 258zM1000 248zM1028 238zM979 266zM974 228zM942 254zM957 271zM909 252zM1000 234zM948 268zM1007 260zM937 266zM997 250zM1001 258zM948 269zM949 236zM940 263zM998 261zM1003 244zM979 256zM1014 246zM1073 226zM1000 252zM863 241zM1006 259zM922 252zM953 259zM947 266zM985 235zM958 270zM1007 257zM962 272zM937 247zM930 261zM953 255zM965 271zM954 270zM965 269zM930 234zM959 271zM1002 260zM951 233zM949 253zM927 227zM1038 248zM998 231zM971 252zM973 266zM955 234zM1009 260zM897 253zM965 246zM965 245zM1004 255zM1007 233zM953 251zM933 247zM989 246zM967 243zM989 233zM1006 249zM1031 227zM958 270zM1015 258zM955 260zM972 249zM995 239zM951 238zM955 268zM987 264zM950 248zM947 259zM922 259zM923 238zM1012 250zM1013 233zM978 245zM968 271zM991 264zM979 257zM933 262zM953 254zM1064 231zM931 264zM958 255zM1021 238zM979 268zM946 263zM980 260zM988 262zM1020 233zM899 238zM1014 253zM967 252zM981 229zM920 241zM980 250zM912 232zM984 265zM1018 247zM943 226zM965 265zM983 234zM995 257zM971 259zM1017 233zM930 230zM946 247zM990 250zM963 271zM955 239zM987 257zM966 234zM977 268zM968 268zM914 253zM967 227zM941 260zM1007 228zM1014 233zM877 233zM910 248zM999 257zM1005 241zM928 233zM956 268zM967 230zM953 266zM917 229zM885 229zM967 229zM973 267zM936 257zM889 249zM983 247zM939 267zM957 257zM988 261zM1003 260zM991 250zM974 267zM923 261zM941 261zM1020 257zM851 236zM973 265zM1005 235zM957 270zM955 271zM953 240zM974 265zM962 257zM960 272zM952 234zM948 255zM959 272zM953 261zM939 263zM938 244zM1010 259zM987 260zM1050 227zM884 243zM951 269zM960 254zM943 248zM987 251zM963 271zM976 237zM912 244zM971 269zM940 252zM965 243zM1021 252zM982 267zM935 260zM927 261zM948 237zM984 240zM1043 232zM907 252zM948 261zM912 250zM921 235zM972 260zM964 265zM976 241zM983 234zM891 251zM993 259zM993 227zM885 239zM981 249zM926 231zM985 241zM966 271zM975 254zM987 266zM1000 246zM916 234zM1044 244zM945 243zM939 250zM930 231zM934 252zM927 234zM1046 241zM1012 229zM1003 234zM912 253zM1018 248zM947 262zM1032 253zM1025 240zM963 271zM894 232zM968 239zM1000 234zM968 269zM1023 228zM1030 254zM1012 235zM937 260zM911 259zM976 269zM930 263zM961 263zM966 229zM1028 237zM1004 229zM1023 255zM923 257zM937 236zM1033 251zM900 239zM993 249zM969 243zM916 251zM907 234zM982 265zM961 265zM1012 228zM962 271zM936 229zM932 239zM978 232zM930 253zM942 255zM915 240zM959 243zM945 236zM961 259zM935 237zM951 262zM939 254zM986 265zM947 267zM911 229zM960 251zM947 237zM965 265zM959 272zM999 243zM970 250zM943 230zM982 266zM991 255zM918 248zM958 271zM937 229zM1008 252zM935 233zM920 239zM943 265zM978 261zM1001 251zM952 270zM1008 240zM919 258zM1029 245zM1030 245zM954 270zM960 269zM897 245zM931 243zM963 237zM961 231zM956 271zM996 230zM947 264zM904 231zM948 228zM941 246zM891 251zM968 229zM952 268zM1002 236zM960 272zM1047 233zM943 266zM942 267zM988 260zM953 249zM975 254zM942 267zM953 261zM993 228zM994 245zM943 260zM988 246zM969 260zM975 268zM933 260zM962 265zM986 237zM969 265zM962 242zM944 266zM1011 231zM940 248zM936 236zM951 262zM993 238zM921 254zM966 229zM991 257zM1014 254zM990 226zM952 267zM956 271zM937 257zM999 229zM948 245zM966 270zM997 258zM951 228zM1021 228zM1004 228zM953 250zM964 269zM1010 244zM902 254zM961 257zM924 256zM989 234zM939 248zM934 253zM927 258zM947 263zM953 253zM967 268zM973 249zM907 237zM935 236zM1022 241zM962 226zM1011 227zM973 228zM1051 248zM964 255zM890 242zM1030 253zM947 256zM962 272zM919 236zM1021 228zM854 236zM954 267zM958 234zM957 268zM1003 252zM992 250zM936 231zM956 250zM1076 227zM965 269zM973 242zM943 240zM969 233zM968 259zM982 244zM981 236zM935 243zM976 246zM972 234zM921 239zM1006 232zM952 263zM1006 250zM926 246zM980 252zM914 234zM909 249zM923 255zM968 266zM979 233zM963 242zM1058 236zM937 264zM971 266zM943 255zM986 260zM921 234zM1050 238zM908 232zM1008 261zM992 229zM919 227zM969 232zM984 238zM995 239zM1031 230zM969 268zM930 246zM972 256zM971 235zM960 235zM978 227zM971 228zM963 269zM990 254zM990 254zM961 272zM1032 230zM938 265zM952 228zM1023 234zM906 237zM973 227zM955 243zM923 231zM924 237zM970 256zM1006 228zM937 265zM1020 236zM971 233zM941 264zM920 252zM977 255zM964 271zM957 231zM999 241zM974 238zM1018 239zM938 231zM958 232zM914 254zM1007 236zM963 246zM922 255zM921 239zM1015 231zM984 237zM1022 228zM921 258zM994 264zM989 264zM997 259zM964 271zM849 243zM1006 256zM955 246zM947 240zM977 231zM942 259zM937 227zM944 262zM1011 256zM969 248zM986 241zM975 241zM965 246zM907 239zM917 247zM1018 241zM922 241zM924 259zM892 234zM1030 231zM962 266zM967 266zM1005 242zM972 249zM943 229zM939 264zM899 231zM952 228zM992 265zM968 269zM906 241zM973 250zM905 230zM1021 257zM920 252zM933 228zM1014 230zM993 260zM946 249zM953 230zM1005 247zM920 246zM916 254zM946 237zM953 265zM999 258zM997 233zM965 242zM927 262zM867 240zM952 258zM977 261zM917 242zM975 245zM1007 231zM959 248zM941 263zM939 251zM951 239zM1006 251zM1010 236zM944 233zM956 268zM996 244zM973 242zM929 229zM992 256zM935 230zM927 244zM1013 256zM1017 248zM967 255zM956 265zM923 234zM986 266zM960 269zM973 269zM990 231zM1006 245zM959 264zM931 260zM924 228zM931 235zM964 241zM968 230zM922 233zM980 256zM1026 232zM895 247zM976 266zM1039 247zM940 249zM997 261zM993 240zM941 238zM974 267zM980 268zM1017 243zM988 257zM1015 241zM965 253zM948 243zM957 268zM997 240zM919 238zM963 249zM967 270zM934 263zM1027 235zM947 233zM965 272zM917 257zM930 254zM925 232zM1077 240zM974 234zM974 268zM952 241zM916 230zM966 271zM979 257zM967 267zM969 270zM919 248zM978 239zM936 232zM913 254zM994 243zM1069 242zM939 232zM918 253zM904 248zM1043 249zM921 255zM970 230zM1014 240zM1012 243zM996 261zM969 233zM973 228zM987 237zM935 230zM915 250zM1020 235zM943 252zM1036 243zM949 263zM963 272zM899 233zM1020 242zM1002 239zM954 243zM972 259zM979 264zM1003 244zM964 270zM956 254zM1016 251zM905 254zM917 226zM927 254zM917 241zM905 246zM974 268zM1004 228zM965 249zM958 233zM932 239zM947 245zM960 266zM956 258zM1020 248zM959 268zM972 270zM993 247zM984 254zM966 267zM996 250zM984 267zM1016 248zM973 248zM1010 253zM960 250zM956 268zM1008 259zM998 248zM959 238zM928 237zM1019 234zM929 234zM1002 232zM980 239zM1014 254zM996 241zM967 230zM924 231zM971 270zM891 228zM945 251zM957 252zM980 239zM928 239zM961 252zM968 270zM946 231zM964 271zM975 235zM988 227zM937 259zM962 236zM939 263zM918 251zM990 245zM1009 249zM917 250zM1024 237zM984 266zM962 265zM969 271zM944 231zM964 270zM945 239zM918 230zM1014 243zM926 238zM944 265zM945 257zM982 251zM923 230zM957 271zM955 260zM915 259zM985 266zM1032 228zM974 230zM922 259zM958 271zM931 262zM954 269zM933 264zM1012 240zM986 252zM927 242zM959 272zM999 249zM970 254zM1032 253zM1014 251zM898 249zM953 268zM964 269zM996 238zM995 249zM1000 234zM941 244zM965 256zM873 245zM984 265zM947 232zM998 259zM905 255zM908 244zM945 253zM1012 255zM1014 247zM967 230zM965 228zM927 229zM1014 257zM939 246zM929 229zM925 259zM962 272zM933 248zM988 257zM951 267zM965 272zM957 260zM985 265zM989 227zM950 241zM958 239zM930 233zM1000 247zM966 232zM928 229zM952 259zM908 245zM943 241zM912 241zM996 243zM1001 237zM951 245zM888 238zM961 255zM994 257zM951 242zM909 250zM971 256zM921 230zM993 255zM962 246zM901 243zM913 232zM949 257zM935 232zM913 258zM971 270zM962 210zM951 136zM970 138zM955 225zM951 222zM954 78zM960 176zM972 193zM965 203zM959 222zM974 199zM966 209zM977 140zM961 217zM948 119zM976 225zM947 116zM974 209zM960 83zM960 178zM977 191zM976 130zM971 206zM976 217zM955 163zM950 159zM977 131zM963 201zM952 147zM959 123zM977 190zM966 226zM959 143zM959 168zM973 113zM948 156zM960 150zM967 140zM974 170zM975 205zM959 216zM969 219zM970 213zM974 153zM965 217zM960 130zM948 225zM969 151zM973 172zM947 122zM954 146zM954 105zM967 135zM948 124zM967 219zM953 142zM976 217zM954 209zM975 225zM951 183zM971 216zM968 119zM962 154zM963 153zM972 164zM958 220zM962 194zM952 121zM970 169zM954 188zM964 212zM950 196zM951 195zM967 177zM957 145zM956 192zM964 194zM960 209zM947 220zM965 75zM969 197zM960 224zM954 124zM960 197zM971 170zM974 176zM960 141zM963 196zM951 192zM966 128zM956 151zM965 193zM960 223zM950 132zM954 205zM961 165zM972 123zM958 202zM960 214zM967 155zM949 90zM976 139zM973 146zM977 118zM948 201zM967 156zM970 201zM947 187zM968 189zM948 211zM969 194zM956 214zM948 137zM960 152zM952 224zM948 186zM953 97zM970 197zM956 174zM951 79zM975 130zM973 115zM949 127zM951 101zM975 112zM966 70zM947 178zM955 117zM966 214zM971 174zM975 171zM957 148zM974 216zM969 221zM969 225zM974 163zM975 164zM977 199zM977 139zM967 208zM972 169zM953 98zM952 163zM947 136zM959 177zM968 210zM951 211zM960 152zM949 215zM952 101zM968 197zM959 123zM971 222zM963 116zM953 149zM963 225zM970 155zM963 138zM959 107zM964 212zM954 211zM966 153zM967 160zM966 186zM968 159zM976 174zM974 163zM951 219zM977 204zM974 165zM962 90zM946 192zM959 215zM948 213zM953 210zM970 189zM972 140zM957 116zM967 216zM958 110zM970 138zM966 216zM953 221zM956 222zM961 190zM972 220zM956 158zM963 191zM971 222zM950 144zM972 190zM969 170zM959 111zM960 139zM962 176zM969 153zM966 181zM959 136zM969 173zM951 213zM952 211zM971 202zM965 159zM958 153zM959 197zM950 151zM973 187zM957 192zM965 184zM969 199zM969 169zM973 165zM966 114zM954 140zM968 184zM970 178zM958 172zM969 175zM954 206zM967 213zM971 223zM958 224zM969 133zM970 113zM972 176zM968 184zM954 163zM956 160zM962 109zM950 213zM961 184zM950 189zM960 199zM970 138zM951 220zM960 129zM972 216zM966 112zM974 95zM966 176zM962 155zM962 214zM972 170zM973 223zM972 159zM973 165zM964 189zM968 187zM950 193zM954 147zM957 218zM964 205zM972 101zM960 171zM961 143zM960 187zM950 220zM952 211zM967 130zM964 156zM968 197zM969 197zM963 195zM968 209zM963 157zM966 134zM958 204zM960 205zM962 203zM950 212zM959 173zM950 203zM954 140zM957 189zM951 166zM960 150zM959 223zM966 187zM958 99zM965 196zM964 222zM968 114zM972 160zM961 114zM961 175zM964 209zM968 198zM969 182zM974 203zM974 154zM970 213zM971 122zM958 152zM968 190zM964 170zM971 189zM955 143zM968 196zM959 161zM971 165zM969 124zM970 186zM950 168zM955 222zM952 129zM963 172zM952 215zM950 101zM955 155zM950 176zM962 168zM952 143zM973 211zM951 173zM966 210zM958 115zM960 200zM970 220zM963 202zM961 178zM950 201zM953 109zM966 187zM971 172zM960 148zM968 175zM951 222zM952 208zM966 205zM956 162zM958 185zM960 204zM966 153zM974 150zM959 203zM970 166zM958 191zM967 207zM971 93zM973 167zM954 142zM963 138zM954 195zM969 218zM971 194zM957 219zM957 123zM956 214zM952 189zM955 209zM966 144zM956 188zM954 156zM967 162zM950 120zM961 142zM952 210zM966 203zM971 161zM950 157zM959 186zM950 114zM965 209zM967 206zM972 215zM973 159zM971 158zM966 172zM959 205zM950 225zM962 152zM952 203zM950 163zM952 206zM966 203zM956 217zM950 208zM966 152zM956 180zM950 150zM959 127zM966 149zM972 105zM968 217zM959 130zM971 214zM964 157zM964 225zM957 179zM963 224zM970 80zM959 220zM962 143zM968 141zM955 214zM970 194zM958 192zM968 193zM969 209zM956 212zM959 192zM955 185zM957 166zM959 186zM950 198zM958 146zM969 176zM954 183zM962 87zM965 128zM962 197zM965 209zM969 206zM952 203zM961 170zM962 221zM951 200zM952 182zM953 200zM967 203zM956 192zM960 113zM951 119zM961 223zM961 221zM950 219zM963 192zM970 217zM961 204zM974 223zM972 168zM963 185zM953 222zM974 219zM955 178zM958 116zM971 127z" stroke="#222" stroke-opacity="0.265" stroke-width="5.6" stroke-linecap="round" fill="none"/>
<path transform="scale(.5)" d="M975 268zM966 267zM940 254zM990 231zM948 265zM945 261zM995 257zM913 259zM942 260zM980 267zM963 258zM943 264zM993 251zM973 251zM911 246zM903 255zM1007 226zM1011 242zM959 262zM1029 255zM1013 246zM919 248zM1004 247zM975 257zM908 234zM928 242zM955 271zM965 270zM1016 255zM887 228zM952 230zM1003 230zM959 271zM959 246zM993 230zM941 251zM991 228zM934 227zM979 246zM914 245zM969 267zM972 245zM965 267zM922 236zM978 267zM976 265zM887 226zM944 261zM914 248zM931 256zM1010 238zM940 255zM1034 243zM968 258zM986 254zM969 264zM980 267zM974 232zM1004 252zM1013 228zM981 246zM900 232zM976 247zM994 242zM1026 243zM911 256zM1005 235zM948 229zM930 245zM992 231zM975 242zM1002 242zM1033 246zM958 271zM935 250zM994 240zM1010 248zM1019 227zM918 253zM962 270zM911 237zM1012 235zM976 230zM988 243zM913 250zM960 234zM905 232zM987 262zM1005 259zM980 266zM883 228zM1052 234zM940 265zM956 247zM926 228zM1002 253zM964 270zM997 234zM959 247zM934 234zM940 256zM966 240zM938 257zM1023 234zM934 228zM893 247zM990 263zM961 268zM912 229zM924 242zM994 258zM974 269zM936 249zM904 243zM921 246zM985 262zM946 268zM1076 236zM954 253zM1059 246zM932 243zM975 252zM881 228zM938 246zM993 256zM888 240zM972 249zM969 255zM1017 250zM967 237zM1033 229zM1016 233zM929 249zM970 267zM923 239zM978 258zM1006 237zM931 252zM986 239zM978 233zM943 239zM919 238zM927 260zM947 239zM1018 230zM987 228zM961 256zM980 235zM960 272zM917 247zM947 265zM1029 254zM910 237zM940 256zM1006 240zM954 268zM974 249zM1018 258zM1017 245zM935 266zM1025 245zM962 236zM919 259zM968 259zM1010 231zM970 260zM935 260zM982 261zM982 231zM1025 252zM933 257zM959 236zM981 237zM998 231zM926 256zM961 264zM972 239zM1013 250zM967 263zM942 227zM927 256zM987 250zM931 246zM1005 229zM917 230zM1000 257zM976 258zM1008 259zM962 234zM897 233zM972 236zM999 262zM1000 233zM983 230zM953 250zM928 248zM986 245zM1022 238zM962 271zM999 248zM958 271zM1003 227zM934 233zM977 265zM924 242zM948 229zM989 256zM966 262zM899 226zM941 235zM918 244zM920 253zM956 270zM934 240zM992 243zM979 241zM927 238zM918 230zM955 265zM962 265zM985 256zM947 240zM1014 248zM939 246zM925 257zM965 231zM956 257zM947 258zM945 233zM941 251zM986 253zM988 231zM961 257zM970 268zM1001 257zM1000 247zM926 255zM999 252zM977 229zM980 244zM901 257zM947 251zM998 228zM1004 229zM873 239zM911 246zM1010 255zM899 237zM969 250zM928 251zM966 271zM973 259zM945 249zM932 261zM993 261zM910 247zM911 258zM963 242zM962 272zM963 272zM927 242zM965 233zM962 253zM914 247zM972 267zM957 253zM980 247zM895 235zM939 265zM980 227zM938 256zM997 233zM930 256zM961 231zM1009 249zM971 261zM929 247zM964 259zM902 231zM959 272zM925 230zM986 262zM995 247zM955 234zM927 238zM941 233zM955 233zM905 250zM954 270zM968 267zM919 251zM995 248zM943 249zM937 227zM1015 249zM1005 227zM988 244zM950 258zM992 264zM1020 236zM1017 237zM1025 253zM1030 249zM922 228zM977 247zM959 230zM1013 229zM949 235zM976 260zM944 242zM973 267zM949 254zM960 247zM990 239zM1015 231zM987 243zM1029 233zM996 262zM1037 242zM928 237zM913 251zM1010 229zM990 249zM920 232zM1018 237zM957 269zM1005 261zM932 253zM947 241zM991 233zM968 245zM948 245zM999 231zM964 268zM987 236zM986 242zM991 257zM948 249zM920 256zM931 242zM994 255zM1014 248zM904 257zM1000 246zM941 237zM1003 234zM998 241zM994 264zM947 268zM1027 251zM936 253zM921 257zM960 272zM957 250zM969 267zM981 268zM908 232zM1092 237zM975 259zM995 228zM972 266zM962 271zM996 252zM1038 253zM1033 227zM930 236zM981 253zM906 246zM1005 237zM976 267zM983 267zM992 231zM937 265zM993 248zM915 229zM909 253zM925 251zM957 260zM1008 231zM978 246zM968 230zM954 244zM947 255zM872 241zM932 226zM960 228zM945 256zM978 263zM1008 258zM991 228zM904 231zM943 249zM916 229zM900 244zM966 237zM990 239zM909 234zM913 250zM918 252zM888 252zM957 231zM940 239zM962 227zM936 255zM963 244zM957 230zM965 258zM984 265zM990 233zM986 241zM993 242zM943 253zM912 232zM963 270zM968 270zM1017 236zM889 227zM1028 238zM1005 253zM958 255zM918 238zM969 265zM957 271zM961 269zM933 262zM982 237zM925 239zM956 254zM975 250zM959 230zM931 239zM932 231zM906 232zM943 268zM952 269zM949 240zM931 232zM941 233zM959 265zM996 260zM1013 237zM1006 258zM1047 239zM994 259zM925 252zM977 248zM962 272zM989 241zM1000 227zM1001 233zM1090 231zM936 230zM1000 257zM976 249zM904 229zM919 243zM996 249zM942 242zM972 269zM935 245zM957 271zM961 241zM917 237zM962 272zM964 261zM1000 252zM983 234zM999 245zM917 252zM989 264zM1026 251zM965 272zM936 263zM1005 244zM962 269zM954 236zM962 272zM1021 235zM917 247zM906 233zM1012 239zM962 259zM925 242zM948 255zM976 226zM1015 232zM1024 242zM1000 260zM963 272zM926 235zM1007 237zM974 247zM998 250zM916 239zM948 240zM858 237zM952 239zM947 265zM955 270zM974 228zM922 230zM903 248zM994 232zM960 271zM1013 228zM929 241zM960 271zM996 256zM937 253zM941 250zM933 244zM957 237zM1008 257zM912 236zM913 226zM969 244zM967 267zM969 247zM960 262zM950 246zM982 247zM967 271zM996 233zM964 271zM931 262zM970 227zM914 250zM922 236zM988 228zM1011 237zM908 243zM1026 229zM901 238zM942 257zM918 260zM1034 251zM949 241zM951 231zM930 235zM916 242zM950 266zM994 231zM990 238zM1034 250zM903 244zM920 245zM958 272zM899 244zM967 270zM975 251zM1000 242zM961 272zM979 242zM956 265zM960 242zM920 250zM1030 247zM993 241zM974 269zM966 242zM969 271zM950 263zM943 260zM932 236zM908 237zM969 232zM978 247zM885 247zM901 230zM915 242zM955 271zM911 232zM938 263zM952 238zM1025 246zM960 250zM974 249zM987 227zM945 268zM991 257zM933 230zM962 246zM970 257zM927 250zM976 254zM892 252zM1011 259zM1041 236zM989 241zM984 253zM924 258zM951 249zM1008 240zM951 244zM937 264zM1005 255zM1004 235zM922 227zM953 253zM958 264zM1022 229zM965 254zM989 261zM993 245zM852 239zM963 268zM956 268zM994 253zM897 246zM968 230zM981 247zM999 242zM965 243zM975 269zM955 258zM927 251zM856 245zM917 253zM904 229zM1009 253zM981 243zM959 269zM926 227zM953 228zM959 257zM1011 235zM957 258zM938 229zM971 231zM978 267zM939 239zM971 258zM1034 239zM1004 239zM912 246zM899 236zM952 234zM958 259zM920 253zM981 248zM1050 242zM972 251zM979 236zM951 248zM1004 257zM972 247zM1025 238zM957 237zM1024 255zM995 264zM969 264zM918 258zM956 268zM952 262zM961 272zM946 243zM902 243zM944 230zM961 245zM934 265zM959 269zM975 246zM916 230zM972 264zM990 261zM949 238zM980 245zM1043 233zM916 260zM1007 236zM960 254zM972 269zM993 229zM978 232zM992 238zM920 250zM951 269zM981 261zM949 239zM1005 234zM933 233zM1010 227zM930 247zM947 255zM962 264zM927 231zM925 262zM1005 240zM924 249zM1005 238zM942 231zM954 242zM1006 248zM953 235zM928 251zM923 256zM912 232zM977 268zM1000 263zM976 256zM995 238zM993 263zM1006 237zM897 227zM979 268zM954 260zM985 244zM954 256zM966 233zM983 261zM937 228zM956 267zM1008 233zM1009 255zM930 239zM993 240zM1006 233zM1022 237zM987 264zM909 234zM961 258zM962 272zM997 232zM974 260zM1027 240zM973 260zM906 234zM1019 248zM1015 237zM921 248zM961 271zM997 240zM965 271zM904 227zM962 271zM914 235zM988 265zM941 253zM928 259zM982 230zM999 261zM962 272zM903 230zM938 242zM957 265zM989 250zM924 245zM941 249zM913 243zM995 249zM1005 253zM964 261zM1013 258zM958 270zM1011 258zM949 250zM982 247zM960 272zM910 243zM971 255zM878 242zM983 247zM960 242zM937 231zM982 266zM964 249zM988 230zM1009 256zM938 251zM939 238zM1020 231zM916 230zM923 238zM985 257zM1009 250zM966 268zM957 258zM1000 261zM1020 234zM972 251zM994 247zM985 235zM932 239zM952 267zM962 226zM1011 257zM942 256zM918 228zM937 248zM962 265zM954 258zM975 266zM960 268zM965 272zM927 253zM897 254zM964 262zM993 252zM984 261zM925 248zM978 258zM936 257zM960 248zM947 265zM948 231zM966 270zM946 250zM923 246zM968 259zM972 237zM965 258zM939 243zM996 261zM904 244zM1002 257zM1016 242zM1002 259zM997 258zM944 234zM992 235zM964 269zM929 255zM953 262zM974 268zM901 228zM932 228zM935 248zM891 251zM1006 252zM924 257zM1011 240zM952 264zM990 235zM1005 240zM964 270zM1001 236zM911 256zM929 244zM966 268zM909 238zM964 259zM1054 228zM929 233zM1004 234zM967 253zM963 255zM913 227zM1012 253zM935 228zM928 258zM969 233zM958 269zM994 236zM998 247zM964 257zM1011 249zM987 235zM929 229zM992 240zM962 270zM943 267zM965 252zM920 229zM989 247zM935 259zM976 242zM925 251zM1008 255zM925 248zM954 263zM1024 251zM917 234zM951 228zM946 263zM951 252zM924 260zM913 241zM974 261zM915 259zM960 249zM999 252zM1006 241zM1000 257zM972 269zM1007 226zM935 243zM960 263zM995 226zM940 259zM940 232zM965 233zM953 228zM963 262zM973 262zM949 264zM911 257zM926 233zM976 266zM942 258zM933 262zM1018 250zM963 227zM1006 238zM966 252zM930 238zM949 236zM981 232zM955 270zM974 232zM933 254zM986 235zM903 241zM1004 231zM931 228zM926 258zM990 236zM973 237zM986 266zM988 244zM967 259zM895 240zM953 236zM974 263zM953 265zM999 258zM991 236zM1000 252zM944 265zM950 259zM978 262zM969 251zM953 228zM953 263zM987 233zM943 244zM981 255zM1002 252zM892 233zM939 259zM931 247zM977 251zM974 263zM1005 243zM965 272zM942 263zM963 235zM965 272zM948 267zM870 239zM959 269zM979 257zM935 231zM1027 246zM962 253zM963 265zM964 231zM976 268zM934 260zM1007 248zM987 255zM918 233zM995 256zM919 226zM1029 243zM954 234zM925 256zM967 257zM956 264zM953 253zM1001 239zM895 232zM953 250zM963 235zM895 247zM1009 255zM969 271zM971 239zM933 262zM941 258zM913 258zM978 250zM955 251zM972 257zM924 246zM1030 240zM1006 254zM956 263zM939 259zM929 228zM990 245zM951 268zM921 247zM934 227zM983 259zM901 230zM957 270zM935 243zM949 268zM980 227zM945 240zM953 269zM948 249zM971 231zM947 264zM957 263zM920 244zM948 268zM966 246zM962 243zM975 264zM936 264zM924 238zM953 237zM978 234zM963 271zM936 262zM941 267zM1005 240zM1003 230zM1000 257zM961 269zM922 260zM961 247zM936 264zM986 248zM947 266zM992 243zM1003 240zM955 239zM936 240zM1014 258zM945 230zM999 257zM964 260zM947 249zM1006 235zM991 239zM932 237zM1026 249zM1009 259zM905 244zM973 269zM934 259zM956 238zM931 251zM911 254zM952 245zM983 231zM916 249zM1009 256zM968 255zM935 265zM1047 245zM853 241zM944 261zM973 249zM905 243zM965 268zM962 272zM982 263zM945 267zM958 242zM951 261zM991 237zM940 260zM898 253zM994 252zM984 251zM966 252zM972 268zM936 264zM993 238zM969 254zM973 229zM960 272zM1014 253zM981 265zM989 226zM1008 252zM941 244zM989 265zM959 269zM975 237zM950 234zM944 247zM962 271zM915 251zM1090 229zM959 252zM960 257zM968 271zM960 271zM968 264zM936 266zM1016 227zM1008 240zM898 235zM942 256zM975 229zM972 270zM929 241zM983 244zM956 228zM942 266zM971 270zM899 250zM920 251zM946 256zM987 246zM974 229zM960 270zM991 264zM1012 259zM960 241zM1026 238zM940 262zM995 257zM1027 238zM1020 254zM905 236zM1000 251zM969 230zM952 265zM939 251zM945 261zM972 268zM952 247zM996 252zM913 248zM989 258zM987 249zM914 244zM945 268zM981 262zM947 233zM966 235zM939 262zM887 242zM919 254zM948 264zM974 268zM975 227zM994 261zM959 257zM928 263zM976 255zM941 266zM948 265zM955 265zM955 250zM941 238zM911 242zM1002 248zM958 266zM1020 251zM967 271zM1006 248zM958 270zM969 262zM964 268zM946 264zM977 252zM935 266zM1003 260zM990 228zM965 226zM939 226zM1006 252zM959 257zM997 245zM989 265zM944 266zM1021 227zM983 233zM999 238zM994 246zM1006 238zM973 269zM908 240zM915 252zM935 259zM981 231zM963 272zM885 232zM958 270zM938 249zM956 232zM945 234zM927 228zM986 230zM983 235zM915 226zM964 268zM967 232zM949 229zM963 272zM918 251zM945 268zM892 228zM967 233zM1016 239zM897 240zM973 241zM963 233zM965 268zM981 236zM932 252zM1018 251zM1009 232zM907 229zM1007 252zM958 254zM968 269zM985 267zM872 238zM884 233zM967 246zM960 266zM943 244zM1007 234zM952 227zM975 253zM933 241zM977 244zM970 263zM990 263zM957 231zM985 255zM976 267zM922 254zM988 252zM948 263zM914 227zM971 270zM895 254zM1013 252zM956 246zM906 244zM954 244zM941 262zM988 227zM966 232zM998 255zM983 264zM1007 259zM957 252zM939 244zM919 241zM935 242zM937 258zM952 268zM1037 250zM909 230zM910 228zM906 238zM987 255zM947 261zM965 271zM911 233zM986 259zM917 239zM966 248zM929 249zM1010 255zM892 246zM952 255zM1001 233zM1025 239zM1019 256zM962 272zM949 263zM924 254zM910 249zM1000 260zM951 251zM991 257zM873 226zM997 259zM1023 253zM965 268zM963 245zM966 271zM943 268zM975 263zM1019 251zM939 245zM925 232zM937 255zM970 239zM939 241zM913 248zM1024 250zM954 270zM964 264zM939 227zM932 241zM945 239zM986 248zM878 244zM918 258zM967 257zM943 267zM945 246zM963 253zM957 264zM958 258zM951 266zM1005 239zM978 239zM991 254zM942 242zM946 239zM1013 245zM935 237zM998 227zM920 242zM897 235zM978 240zM951 267zM1026 227zM1000 233zM1029 237zM975 246zM978 250zM1010 227zM955 271zM1003 237zM969 256zM919 241zM950 269zM996 252zM971 269zM904 243zM960 271zM923 237zM967 267zM926 252zM918 253zM961 236zM958 228zM926 243zM941 262zM935 264zM893 226zM997 252zM959 228zM937 251zM962 261zM1022 239zM965 266zM846 235zM944 264zM937 227zM942 233zM959 261zM958 248zM1006 227zM1015 232zM924 230zM949 232zM977 249zM979 259zM1009 228zM922 240zM962 272zM1007 226zM991 236zM939 247zM942 267zM984 261zM963 271zM934 265zM929 229zM1022 255zM938 230zM959 262zM981 268zM972 241zM954 269zM1023 253zM921 233zM962 269zM871 249zM1020 227zM936 248zM947 227zM983 259zM932 231zM921 261zM965 229zM961 230zM940 254zM1009 259zM895 232zM945 259zM906 245zM941 255zM990 230zM902 257zM982 244zM951 268zM932 252zM886 228zM960 267zM908 233zM1019 240zM988 239zM933 235zM976 267zM982 266zM984 229zM986 230zM903 233zM967 270zM944 241zM940 236zM974 238zM907 230zM1006 261zM980 264zM1057 236zM971 229zM957 268zM959 236zM960 272zM1013 232zM927 251zM930 264zM949 242zM989 265zM927 232zM917 232zM977 266zM964 272zM994 256zM926 244zM948 248zM941 230zM909 241zM1022 252zM905 235zM996 233zM877 232zM962 269zM976 242zM929 236zM1047 248zM1009 233zM1023 253zM991 226zM951 231zM946 245zM959 270zM1040 249zM944 235zM1002 237zM988 264zM1030 245zM997 264zM1007 232zM964 238zM995 249zM953 234zM1027 251zM975 269zM966 270zM984 265zM972 231zM1024 232zM988 230zM955 261zM937 228zM968 257zM1002 236zM959 231zM1036 244zM970 265zM937 265zM950 255zM1004 232zM959 266zM955 240zM1007 246zM1020 236zM975 238zM956 240zM924 259zM1013 238zM962 270zM1011 237zM957 270zM1006 233zM988 228zM1024 228zM960 270zM1001 242zM976 266zM948 261zM956 227zM996 238zM914 227zM977 263zM969 251zM971 242zM1010 240zM1025 244zM936 263zM1004 233zM905 248zM969 211zM971 136zM975 150zM958 192zM950 191zM958 215zM963 199zM961 138zM972 144zM976 194zM977 219zM976 103zM975 97zM974 141zM969 146zM955 207zM967 129zM967 203zM968 198zM967 181zM953 122zM963 104zM968 181zM972 180zM965 172zM967 208zM968 197zM948 165zM953 172zM949 195zM963 198zM953 128zM965 205zM970 82zM975 198zM957 96zM976 109zM952 163zM951 218zM967 192zM974 158zM968 212zM960 177zM952 114zM951 205zM954 190zM948 201zM969 134zM951 213zM969 164zM953 189zM955 219zM961 186zM970 169zM960 210zM948 197zM948 193zM967 179zM957 181zM958 125zM954 208zM966 119zM967 195zM972 127zM955 204zM961 157zM951 151zM972 174zM954 220zM967 142zM968 181zM958 147zM967 102zM976 188zM953 183zM951 185zM957 175zM957 165zM950 167zM957 213zM967 128zM972 214zM954 143zM950 215zM964 188zM970 120zM958 221zM950 202zM947 178zM957 209zM965 114zM976 169zM971 165zM965 206zM942 226zM966 139zM954 102zM947 158zM952 215zM961 142zM977 178zM947 203zM967 205zM957 156zM961 98zM962 216zM978 186zM960 226zM965 81zM956 171zM959 142zM977 148zM954 214zM971 153zM963 177zM975 148zM977 205zM977 217zM956 98zM947 197zM952 143zM953 214zM951 177zM971 205zM971 214zM975 213zM966 146zM975 126zM964 69zM963 111zM947 220zM962 204zM960 185zM972 193zM949 196zM973 194zM951 189zM948 218zM970 198zM969 169zM954 166zM953 223zM975 147zM975 114zM951 95zM953 212zM948 209zM959 109zM946 200zM962 98zM948 210zM966 188zM949 126zM971 210zM974 157zM956 168zM960 200zM971 76zM965 126zM956 187zM956 168zM963 213zM952 162zM977 224zM964 120zM951 224zM971 210zM972 205zM963 165zM969 146zM956 146zM963 167zM958 182zM962 173zM956 205zM966 78zM960 208zM968 145zM970 214zM958 193zM960 137zM953 183zM959 221zM951 179zM961 189zM952 195zM953 206zM965 197zM957 101zM955 150zM959 214zM956 198zM959 149zM970 219zM951 98zM959 198zM964 196zM967 178zM972 159zM961 148zM959 186zM967 182zM964 204zM962 133zM966 187zM957 127zM962 172zM952 200zM973 202zM964 177zM973 147zM968 192zM957 136zM962 176zM966 151zM953 183zM956 200zM965 202zM974 213zM960 93zM970 143zM957 198zM951 123zM962 150zM960 186zM970 222zM972 158zM960 201zM955 201zM972 132zM973 171zM952 169zM955 173zM950 131zM958 96zM970 164zM969 167zM960 168zM958 157zM970 157zM960 201zM966 158zM961 177zM970 156zM964 223zM972 161zM958 195zM962 208zM954 174zM958 175zM961 151zM961 188zM969 191zM961 165zM955 204zM950 188zM961 186zM967 193zM954 122zM962 190zM972 138zM974 133zM963 108zM954 108zM965 219zM955 201zM970 127zM971 149zM966 194zM960 193zM965 123zM952 205zM952 203zM951 107zM963 149zM955 213zM952 202zM973 137zM970 203zM958 144zM958 161zM950 158zM950 156zM949 219zM972 204zM951 142zM952 175zM953 175zM957 220zM970 167zM960 175zM964 135zM957 123zM952 194zM953 141zM957 201zM951 148zM955 167zM973 207zM951 160zM959 174zM952 118zM962 187zM968 144zM956 146zM961 189zM963 151zM959 220zM969 151zM950 217zM967 172zM964 142zM958 116zM965 216zM966 180zM974 220zM967 193zM965 204zM958 83zM971 146zM973 165zM963 122zM959 142zM951 163zM974 187zM951 185zM959 206zM961 219zM951 174zM969 180zM959 219zM962 126zM960 156zM967 200zM953 111zM974 158zM964 208zM965 162zM965 164zM956 210zM956 224zM973 184zM959 169zM964 171zM969 78zM965 183zM970 169zM962 127zM967 204zM972 164zM952 167zM965 181zM951 199zM952 210zM969 141zM968 171zM950 208zM962 212zM954 209zM964 106zM971 191zM961 158zM970 191zM960 162zM961 210zM972 223zM962 142zM956 128zM972 179zM970 156zM971 220zM962 132zM964 122zM965 184zM969 159zM966 211zM965 145zM961 214zM960 222zM959 170zM953 167zM954 134zM972 154zM955 225zM971 209zM950 111zM953 164zM962 208zM957 94zM973 89zM974 197zM951 109zM956 174zM956 187zM970 207zM959 201zM965 149zM954 165zM963 159zM968 170zM970 162zM962 199zM963 189zM953 108zM952 212zM966 135zM956 196zM957 178zM973 224zM968 206zM956 127zM961 109zM962 179zM951 213zM958 185zM956 128zM959 171zM959 208zM956 185zM953 207zM965 161zM956 150zM957 185zM954 223zM966 188zM969 156zM954 199zM967 216zM972 216zM962 136zM959 82z" stroke="#222" stroke-opacity="0.265" stroke-width="5.6" stroke-linecap="round" fill="none"/>
<path transform="scale(.5)" d="M961 261zM982 236zM967 232zM936 245zM969 261zM935 249zM911 245zM983 267zM966 264zM960 250zM935 227zM979 241zM992 265zM933 260zM1004 229zM1021 235zM916 253zM993 252zM988 243zM919 261zM935 251zM989 235zM939 226zM928 252zM907 253zM949 232zM935 254zM937 242zM974 259zM982 264zM933 262zM963 230zM965 236zM984 231zM922 257zM955 227zM1013 257zM1023 255zM1041 250zM915 229zM893 255zM960 263zM964 272zM960 270zM963 242zM1015 258zM1000 259zM898 244zM973 263zM995 236zM980 237zM913 231zM1021 252zM969 270zM1000 249zM921 241zM1008 247zM972 270zM946 232zM947 241zM984 230zM938 242zM932 255zM979 267zM961 258zM967 271zM916 253zM968 227zM970 270zM927 248zM959 229zM998 240zM953 267zM968 236zM962 270zM929 237zM965 235zM994 229zM998 260zM958 246zM915 246zM987 266zM989 227zM993 238zM1021 239zM1021 242zM1019 245zM1000 240zM942 267zM941 237zM934 258zM891 244zM952 267zM979 238zM956 228zM983 231zM954 244zM994 226zM961 249zM966 261zM925 259zM910 227zM908 248zM1006 231zM974 238zM997 263zM970 227zM986 231zM972 269zM979 226zM928 238zM935 246zM1001 248zM969 266zM965 267zM944 246zM968 233zM971 265zM912 257zM946 265zM949 249zM998 243zM961 272zM986 265zM1004 259zM919 262zM939 253zM963 272zM968 227zM933 260zM913 251zM961 266zM977 242zM969 229zM951 252zM962 254zM957 271zM972 258zM1004 228zM1040 248zM941 252zM998 227zM1005 235zM934 263zM960 262zM1022 256zM958 270zM922 255zM953 260zM1024 245zM952 244zM961 248zM959 230zM988 241zM1016 247zM1027 226zM966 271zM899 255zM1010 240zM952 258zM970 253zM929 237zM926 238zM963 236zM956 245zM989 254zM1014 251zM1000 232zM935 264zM868 249zM998 234zM966 228zM920 230zM943 267zM957 268zM883 238zM893 245zM952 260zM968 252zM945 255zM1022 246zM966 271zM981 257zM921 239zM980 251zM917 232zM918 249zM975 236zM966 267zM960 239zM930 234zM996 263zM939 234zM955 266zM916 226zM964 272zM930 261zM910 240zM1011 228zM984 240zM971 268zM983 244zM958 230zM1009 248zM1013 237zM931 264zM977 230zM931 245zM930 263zM998 246zM983 249zM926 253zM914 227zM927 230zM976 264zM948 230zM906 244zM1005 228zM997 230zM976 261zM964 233zM912 237zM973 245zM1024 240zM948 233zM991 231zM950 230zM936 243zM1020 227zM955 236zM962 270zM957 250zM967 228zM1006 251zM994 256zM986 247zM950 261zM975 253zM1027 245zM973 245zM971 267zM941 246zM958 240zM1021 246zM959 271zM938 242zM969 243zM982 261zM971 262zM950 256zM957 271zM890 247zM919 241zM897 248zM956 270zM903 246zM969 247zM998 234zM945 236zM928 249zM933 240zM970 248zM993 262zM1007 256zM934 264zM993 259zM1030 243zM890 250zM944 231zM908 253zM960 252zM887 226zM946 260zM1027 228zM961 261zM983 238zM961 245zM962 240zM934 242zM892 230zM972 245zM910 243zM1002 260zM922 246zM893 243zM926 260zM952 270zM963 270zM974 258zM977 269zM897 251zM998 240zM940 242zM990 241zM959 267zM935 263zM955 233zM1021 244zM977 229zM1009 260zM1004 253zM968 243zM915 234zM959 261zM980 256zM947 259zM929 247zM914 252zM966 271zM962 266zM962 270zM922 246zM953 251zM978 267zM961 270zM915 243zM1055 232zM918 259zM936 255zM969 268zM903 244zM975 262zM910 244zM938 254zM974 239zM952 247zM937 266zM961 270zM999 251zM929 254zM905 240zM904 246zM966 271zM969 270zM1003 234zM1042 230zM969 250zM982 245zM958 252zM974 263zM910 236zM965 257zM959 259zM966 266zM919 233zM917 259zM984 230zM972 269zM988 235zM960 235zM936 258zM940 256zM920 240zM933 235zM945 248zM980 252zM994 253zM946 245zM1019 251zM979 265zM930 248zM1011 251zM920 241zM940 232zM1031 255zM974 265zM941 241zM1000 240zM958 244zM903 227zM902 256zM1003 255zM922 227zM957 227zM957 238zM981 231zM980 266zM1029 255zM923 248zM949 231zM962 270zM993 260zM1012 227zM935 241zM1015 249zM959 267zM957 265zM906 242zM999 262zM985 252zM907 232zM953 228zM965 270zM982 234zM985 252zM908 229zM973 267zM933 239zM948 252zM949 226zM972 245zM943 256zM1041 236zM930 260zM978 259zM948 264zM931 240zM973 247zM955 240zM945 263zM990 260zM1024 235zM955 246zM989 264zM973 246zM1001 255zM974 260zM930 263zM916 257zM969 264zM1017 251zM905 235zM945 240zM972 249zM962 272zM916 238zM988 259zM988 253zM910 227zM988 251zM1004 245zM975 258zM996 237zM959 264zM961 271zM980 257zM929 236zM902 239zM961 267zM946 264zM963 268zM961 271zM984 237zM919 254zM923 236zM982 247zM933 263zM952 246zM973 267zM970 269zM958 261zM956 230zM981 266zM1035 239zM941 260zM979 264zM1015 231zM946 263zM985 263zM952 265zM957 269zM1015 244zM1009 251zM1008 243zM983 231zM984 247zM1009 252zM932 259zM959 236zM915 234zM948 266zM952 265zM1029 239zM981 265zM959 235zM913 230zM987 260zM978 246zM966 236zM962 272zM1001 230zM962 262zM1011 259zM941 226zM947 233zM980 268zM929 226zM1003 262zM997 251zM943 240zM914 242zM975 269zM931 241zM959 270zM967 266zM972 267zM1022 240zM988 249zM974 245zM985 266zM993 252zM979 261zM952 265zM896 256zM958 228zM1011 235zM939 265zM977 258zM962 249zM999 243zM1006 248zM971 228zM957 269zM945 267zM989 229zM1006 238zM944 264zM904 244zM940 250zM962 267zM947 266zM935 249zM963 256zM954 228zM982 259zM884 251zM967 262zM948 267zM954 265zM958 265zM1059 234zM982 262zM957 241zM1005 260zM967 257zM962 271zM987 241zM900 238zM948 263zM933 252zM972 269zM925 255zM934 259zM945 248zM963 254zM961 262zM986 230zM917 246zM950 268zM928 247zM949 241zM926 244zM1009 257zM991 251zM983 235zM996 233zM898 249zM1012 234zM960 270zM925 231zM1008 229zM948 268zM928 262zM938 253zM921 255zM912 249zM930 229zM964 259zM1011 234zM912 228zM953 264zM948 267zM908 242zM947 228zM1012 236zM967 244zM982 239zM992 245zM960 243zM899 238zM981 258zM1002 254zM1022 241zM951 235zM1020 232zM943 242zM968 271zM996 255zM970 249zM963 244zM1023 238zM973 236zM962 237zM959 259zM952 270zM1002 235zM996 236zM922 237zM1022 247zM956 235zM965 270zM973 269zM1014 240zM1017 248zM987 265zM926 234zM900 226zM879 231zM991 234zM964 269zM930 255zM952 243zM965 264zM952 257zM946 267zM951 239zM986 262zM901 251zM1075 237zM941 245zM1005 262zM981 245zM977 250zM936 229zM907 259zM936 242zM989 239zM998 258zM964 264zM934 251zM981 234zM968 257zM917 231zM1006 230zM1014 247zM968 267zM886 243zM885 247zM987 252zM876 242zM978 247zM990 260zM957 230zM959 271zM1019 252zM986 264zM963 227zM987 255zM969 259zM984 266zM998 233zM915 252zM952 269zM908 231zM917 236zM959 269zM990 247zM995 228zM940 262zM993 230zM1010 227zM1012 241zM961 272zM998 243zM970 242zM997 245zM937 233zM900 227zM973 267zM929 232zM930 255zM1003 234zM970 239zM984 247zM931 249zM912 253zM960 227zM991 244zM943 244zM903 235zM961 242zM932 251zM1006 248zM992 244zM947 264zM923 251zM917 249zM1014 228zM963 239zM891 253zM927 251zM975 267zM937 235zM919 231zM923 253zM959 269zM923 235zM953 269zM962 251zM968 253zM897 240zM959 257zM1008 253zM965 240zM924 247zM995 264zM996 264zM915 227zM978 238zM914 244zM914 248zM932 265zM935 255zM978 247zM930 261zM950 269zM952 262zM913 237zM947 269zM970 237zM1006 257zM960 239zM984 229zM931 227zM858 242zM994 241zM941 242zM960 272zM938 258zM956 249zM963 248zM956 267zM948 240zM1008 257zM988 253zM949 265zM935 264zM920 258zM922 233zM924 263zM918 261zM965 272zM980 254zM932 244zM967 268zM942 262zM931 265zM941 263zM925 241zM1009 226zM948 265zM947 253zM900 256zM960 269zM955 262zM927 252zM989 260zM963 269zM938 264zM968 268zM927 258zM905 235zM960 227zM982 253zM945 248zM913 227zM982 238zM937 250zM922 243zM987 229zM933 237zM910 254zM978 246zM907 242zM1017 245zM984 258zM970 267zM969 234zM970 240zM929 258zM1054 229zM952 268zM929 241zM955 253zM1031 246zM962 268zM1030 249zM976 264zM1002 252zM987 251zM934 229zM958 269zM1003 261zM981 267zM963 229zM982 256zM980 260zM988 226zM1071 235zM907 235zM1006 237zM977 268zM965 267zM875 227zM965 261zM1032 239zM932 243zM896 241zM968 249zM1036 254zM956 236zM953 265zM993 242zM983 231zM979 239zM981 233zM857 229zM963 238zM872 227zM989 230zM985 256zM961 272zM994 227zM991 264zM881 227zM975 226zM975 269zM993 254zM963 269zM1000 257zM968 233zM930 256zM911 239zM994 251zM963 256zM976 238zM899 247zM953 268zM975 263zM1008 230zM950 269zM920 258zM894 241zM952 256zM930 235zM959 272zM990 257zM969 262zM974 237zM932 227zM962 268zM976 247zM959 267zM924 231zM951 229zM958 271zM924 262zM1028 251zM926 263zM1014 232zM1025 248zM982 234zM925 251zM986 250zM953 249zM946 267zM966 264zM955 231zM923 258zM942 247zM999 243zM1029 232zM973 256zM948 257zM928 262zM923 232zM977 268zM943 268zM955 258zM974 243zM919 239zM960 253zM993 256zM937 243zM904 226zM959 269zM983 257zM969 267zM947 261zM989 232zM968 268zM1000 255zM1017 252zM960 263zM951 246zM961 246zM937 262zM980 256zM908 255zM982 265zM1004 253zM894 249zM1007 247zM998 258zM961 263zM994 241zM907 248zM985 260zM964 271zM928 263zM1020 242zM1008 253zM966 231zM957 239zM892 243zM931 261zM961 229zM944 227zM967 250zM965 269zM965 272zM963 252zM990 245zM954 230zM960 271zM1012 253zM990 230zM1003 262zM910 254zM997 227zM981 242zM936 229zM975 227zM837 230zM1003 261zM933 243zM967 255zM994 232zM957 270zM986 264zM1027 245zM1008 248zM974 240zM946 267zM943 259zM1022 248zM958 266zM994 264zM932 240zM964 267zM935 262zM910 228zM1047 246zM996 238zM1009 253zM951 259zM995 261zM962 244zM938 257zM1012 236zM951 234zM959 240zM933 247zM979 251zM1006 236zM956 252zM1031 252zM967 271zM1016 255zM972 237zM960 272zM910 237zM925 256zM1022 255zM922 232zM953 249zM987 229zM948 237zM915 249zM924 238zM946 268zM949 249zM975 260zM940 257zM975 234zM954 242zM909 233zM925 236zM1007 248zM950 268zM903 252zM982 260zM972 269zM912 257zM972 239zM901 256zM900 244zM966 270zM997 237zM993 251zM1014 243zM947 265zM945 265zM930 232zM951 229zM1019 239zM994 240zM973 241zM1028 251zM954 258zM961 270zM961 272zM961 232zM971 238zM1028 245zM917 236zM996 244zM963 271zM962 272zM966 262zM917 232zM963 272zM968 228zM959 272zM1002 248zM970 257zM966 240zM1018 233zM977 251zM1011 255zM997 263zM932 261zM998 230zM961 250zM960 270zM964 259zM1000 249zM936 257zM904 247zM965 267zM1011 230zM921 234zM977 226zM953 248zM937 250zM959 270zM935 248zM954 262zM976 234zM896 228zM933 262zM985 262zM1002 260zM1015 234zM962 265zM1044 241zM994 232zM951 252zM1029 237zM893 233zM926 243zM979 242zM1013 230zM959 265zM975 242zM963 272zM960 268zM963 250zM947 229zM914 229zM955 258zM898 243zM1023 236zM996 256zM1016 230zM956 228zM933 249zM936 254zM889 250zM969 242zM959 242zM920 240zM930 262zM925 249zM1005 233zM974 242zM943 235zM950 233zM995 249zM927 241zM1003 253zM951 245zM987 260zM975 243zM946 267zM940 254zM902 240zM994 264zM935 245zM966 271zM961 227zM918 231zM987 261zM986 227zM911 239zM932 227zM996 239zM920 227zM938 257zM997 245zM1028 249zM962 235zM958 268zM935 247zM894 253zM972 256zM991 252zM926 227zM921 252zM926 261zM959 229zM954 231zM957 268zM993 265zM980 249zM963 228zM943 231zM960 272zM1007 239zM909 230zM965 228zM956 269zM971 269zM1049 237zM1018 241zM956 233zM889 234zM898 251zM959 272zM942 247zM1012 233zM1016 232zM984 238zM986 263zM1010 258zM935 235zM983 226zM993 247zM1017 248zM979 261zM982 239zM969 242zM958 253zM975 249zM980 236zM966 269zM1043 241zM965 267zM974 237zM991 257zM969 270zM1001 262zM944 262zM1045 241zM966 237zM1000 229zM916 260zM962 272zM928 230zM921 239zM923 244zM1007 237zM930 262zM997 230zM976 267zM954 266zM911 230zM967 262zM988 257zM913 233zM1019 236zM939 244zM958 256zM932 237zM987 266zM1002 234zM974 242zM936 238zM940 234zM989 250zM924 259zM955 269zM941 264zM1010 238zM987 265zM1028 229zM1002 245zM914 256zM900 254zM920 232zM922 231zM928 230zM932 237zM952 257zM983 251zM954 267zM1010 256zM943 263zM989 258zM978 236zM930 261zM974 268zM1004 234zM925 242zM923 227zM946 233zM973 245zM970 268zM951 241zM1008 236zM1006 242zM948 258zM943 267zM978 233zM971 269zM956 270zM1024 226zM1037 231zM984 257zM957 258zM1008 241zM964 271zM948 259zM930 238zM950 233zM958 261zM990 228zM958 256zM885 247zM1009 236zM959 267zM1007 248zM973 268zM902 247zM1012 251zM940 235zM976 243zM1010 247zM1007 240zM1020 252zM960 271zM900 248zM941 245zM1026 254zM900 234zM1057 228zM960 258zM983 246zM981 238zM959 265zM915 238zM1015 250zM933 265zM940 256zM939 257zM929 251zM1001 248zM956 235zM998 254zM913 241zM908 227zM926 258zM905 252zM946 265zM995 233zM992 226zM935 244zM937 236zM953 268zM986 252zM977 258zM998 237zM968 271zM1001 232zM1005 240zM944 260zM944 252zM954 267zM904 242zM945 244zM979 257zM981 241zM938 243zM939 228zM947 233zM976 251zM983 246zM912 241zM968 257zM929 263zM990 255zM937 261zM963 269zM926 237zM924 257zM963 272zM988 250zM998 235zM1006 234zM1010 255zM1007 260zM930 226zM987 264zM1007 237zM947 268zM951 267zM943 264zM1018 235zM922 243zM1022 245zM945 268zM950 266zM994 232zM943 267zM964 271zM920 247zM906 236zM972 251zM959 260zM967 261zM988 266zM921 243zM950 260zM936 265zM1002 241zM939 259zM994 234zM948 230zM984 245zM997 262zM969 268zM960 268zM960 231zM986 231zM951 254zM991 258zM975 250zM957 268zM950 229zM952 229zM936 231zM958 255zM977 266zM982 243zM1003 247zM967 233zM961 272zM956 270zM925 243zM976 263zM959 233zM975 249zM927 235zM867 240zM933 238zM915 226zM927 231zM988 243zM963 270zM964 235zM979 243zM967 247zM947 243zM979 227zM953 270zM1024 238zM920 248zM1016 242zM965 229zM998 249zM919 238zM966 270zM995 246zM945 250zM1011 247zM979 246zM1007 261zM949 253zM971 232zM931 231zM1013 248zM940 243zM940 266zM974 268zM982 253zM904 235zM966 258zM974 251zM982 238zM900 248zM1012 232zM959 264zM933 245zM957 238zM1000 256zM1022 245zM1001 232zM917 257zM985 242zM997 257zM947 256zM981 246zM978 263zM986 266zM997 228zM969 270zM958 253zM965 248zM911 227zM938 230zM1006 247zM987 232zM941 267zM1065 242zM960 271zM964 259zM950 233zM977 264zM950 245zM939 227zM910 249zM947 240zM976 268zM1014 235zM1005 259zM986 236zM1008 227zM977 265zM964 229zM919 241zM1037 237zM1022 231zM956 235zM943 237zM922 237zM960 227zM973 259zM937 243zM964 242zM1015 226zM924 236zM988 257zM1012 257zM957 271zM1000 243zM951 251zM916 236zM995 260zM948 261zM895 252zM990 259zM987 263zM1014 247zM1009 254zM960 231zM1006 235zM913 256zM947 263zM931 237zM942 245zM949 250zM986 264zM980 228zM951 242zM955 231zM917 227zM954 269zM988 239zM948 240zM965 267zM1008 254zM968 269zM911 255zM986 266zM967 242zM978 251zM954 226zM957 264zM972 269zM1012 245zM1003 255zM968 265zM939 238zM938 248zM1012 257zM946 257zM955 269zM997 260zM989 232zM899 233zM944 249zM1025 246zM963 226zM959 268zM989 246zM947 267zM964 227zM942 254zM967 227zM912 229zM937 263zM969 270zM1001 245zM921 241zM943 238zM935 232zM1001 254zM978 230zM993 237zM1025 230zM915 233zM920 241zM1023 234zM952 269zM1027 234zM897 256zM939 230zM956 229zM954 252zM916 233zM964 244zM939 250zM962 244zM968 269zM963 270zM1023 246zM941 256zM932 261zM941 235zM1061 247zM967 238zM960 256zM958 267zM950 267zM916 230zM969 239zM934 234zM970 252zM900 253zM935 229zM958 271zM1003 241zM918 241zM984 232zM923 230zM1021 253zM939 262zM974 214zM973 142zM976 183zM961 151zM950 224zM972 192zM960 133zM967 201zM963 164zM955 186zM947 179zM959 113zM977 212zM968 205zM950 157zM971 148zM970 219zM951 153zM975 216zM958 155zM955 124zM970 163zM948 221zM950 108zM960 164zM951 186zM949 195zM976 103zM971 119zM968 167zM968 152zM964 213zM959 204zM971 194zM951 109zM952 224zM975 116zM970 165zM958 137zM972 207zM956 150zM952 216zM970 183zM958 161zM958 157zM968 186zM957 65zM973 213zM970 136zM947 151zM967 113zM975 211zM962 129zM964 178zM963 188zM949 130zM970 164zM948 203zM973 108zM977 152zM975 197zM968 167zM958 208zM961 122zM956 119zM955 147zM975 210zM953 216zM957 165zM952 178zM947 151zM976 122zM975 217zM976 171zM947 166zM965 150zM958 162zM961 195zM971 193zM973 189zM947 206zM965 220zM965 201zM966 210zM957 191zM967 105zM951 215zM961 195zM951 122zM977 108zM969 198zM955 82zM955 93zM971 128zM956 131zM966 147zM961 185zM973 134zM969 175zM950 181zM977 104zM955 213zM954 87zM973 215zM956 130zM954 130zM966 90zM951 66zM977 213zM968 131zM956 197zM971 224zM961 173zM963 131zM969 132zM972 140zM970 171zM957 118zM964 170zM970 205zM947 192zM961 112zM974 156zM947 125zM944 226zM965 174zM974 164zM962 159zM976 92zM969 214zM969 104zM954 152zM959 175zM953 66zM955 131zM968 148zM964 219zM949 222zM963 147zM950 136zM976 183zM955 210zM975 222zM972 149zM959 156zM971 197zM957 176zM966 217zM964 126zM948 153zM958 123zM970 203zM952 187zM975 205zM974 155zM947 163zM966 184zM960 142zM970 175zM975 203zM949 122zM974 182zM950 123zM948 197zM971 141zM972 196zM952 215zM961 183zM975 156zM970 213zM969 162zM956 188zM947 176zM952 143zM951 171zM972 152zM962 145zM973 208zM953 168zM972 180zM974 166zM958 140zM959 200zM953 207zM970 135zM962 155zM965 198zM957 208zM968 129zM958 194zM953 121zM963 105zM973 172zM953 217zM974 156zM950 204zM965 195zM968 113zM952 224zM950 127zM963 183zM972 215zM965 180zM964 154zM957 121zM972 189zM969 203zM972 177zM971 107zM955 163zM954 165zM973 220zM969 180zM971 209zM965 136zM955 159zM968 204zM950 160zM956 191zM955 135zM963 107zM973 178zM956 153zM953 173zM963 194zM965 216zM962 221zM957 160zM968 211zM955 208zM968 127zM970 138zM961 218zM956 217zM962 163zM956 217zM956 177zM957 138zM970 202zM953 217zM956 182zM968 180zM955 189zM963 193zM973 146zM952 187zM970 163zM963 190zM973 179zM956 194zM963 215zM965 147zM954 143zM970 170zM958 199zM969 185zM966 212zM967 165zM966 211zM959 184zM965 202zM960 207zM953 187zM958 191zM967 224zM969 173zM970 130zM969 183zM971 175zM965 176zM962 112zM953 170zM958 187zM965 182zM971 190zM962 191zM960 156zM966 150zM967 161zM967 185zM950 197zM968 205zM958 106zM950 197zM950 197zM950 174zM971 139zM956 202zM956 217zM971 196zM973 92zM952 207zM964 146zM961 118zM954 200zM972 195zM972 79zM973 184zM954 142zM969 212zM952 188zM953 223zM973 128zM957 185zM957 115zM958 215zM968 226zM959 193zM956 172zM959 193zM972 212zM953 190zM950 183zM950 118zM971 208zM972 149zM974 222zM958 170zM953 203zM963 128zM951 164zM960 189zM957 186zM970 108zM966 199zM974 127zM955 130zM969 140zM969 218zM950 214zM970 193zM965 175zM952 176zM963 134zM953 157zM955 178zM951 215zM956 202zM953 169zM953 163zM965 147zM972 206zM956 194zM973 149zM972 214zM959 149zM951 126zM955 191zM973 182zM951 190zM956 198zM965 152zM963 205zM957 175zM958 104zM957 162zM973 175zM967 176zM964 143zM955 216zM966 147zM952 102zM950 159zM971 173zM967 161zM968 142zM968 184zM959 119zM970 169zM953 149zM956 139zM971 178zM964 209zM969 190zM956 186zM967 189zM970 166zM954 192zM957 168zM955 209zM964 118zM950 162zM950 214zM953 201zM967 191zM954 203zM951 221zM965 170zM959 130zM965 176zM965 128zM956 199zM950 162zM956 127zM952 194zM972 191zM965 200zM957 120zM954 170zM966 186zM962 98zM968 147zM967 164zM967 222zM972 224zM967 89z" stroke="#222" stroke-opacity="0.265" stroke-width="5.6" stroke-linecap="round" fill="none"/>
<path transform="scale(.5)" d="M1002 252zM964 250zM971 244zM978 238zM944 268zM913 228zM985 264zM953 234zM943 230zM1041 243zM918 254zM939 267zM983 246zM985 257zM900 243zM934 229zM937 254zM902 248zM981 253zM950 228zM892 244zM1008 230zM959 270zM903 231zM937 261zM906 253zM986 256zM922 262zM890 230zM932 233zM981 254zM945 260zM977 268zM957 265zM957 263zM902 231zM981 248zM957 270zM918 248zM1004 258zM959 271zM926 242zM954 227zM943 226zM943 260zM942 262zM966 262zM976 262zM963 272zM1002 248zM998 245zM963 265zM939 249zM937 265zM908 235zM1026 236zM974 268zM970 262zM970 256zM966 258zM907 248zM1037 247zM908 228zM953 270zM950 263zM911 249zM962 272zM994 260zM914 250zM1003 234zM962 267zM987 263zM962 259zM999 244zM991 234zM966 271zM956 268zM953 269zM933 263zM911 233zM997 261zM967 270zM1019 237zM932 237zM972 257zM991 233zM1008 235zM916 247zM970 227zM986 235zM1031 248zM932 264zM939 260zM974 255zM988 240zM927 230zM962 267zM955 228zM978 262zM976 227zM966 228zM965 245zM999 242zM1001 246zM947 260zM934 229zM927 255zM919 229zM973 229zM941 229zM974 251zM906 231zM931 251zM1048 230zM962 272zM994 230zM988 251zM899 248zM971 266zM970 269zM938 258zM942 247zM1006 234zM971 230zM932 254zM1001 261zM918 259zM1022 239zM975 241zM901 247zM914 253zM977 256zM954 227zM923 243zM966 270zM957 249zM1009 232zM961 245zM972 258zM972 249zM994 239zM966 269zM982 248zM1044 249zM1023 256zM953 235zM931 252zM1000 250zM981 255zM957 264zM956 271zM962 242zM915 240zM959 266zM858 237zM936 257zM988 248zM935 261zM998 263zM963 239zM921 233zM1048 247zM982 243zM993 253zM957 233zM929 262zM963 229zM988 252zM936 232zM972 241zM1000 239zM1002 259zM987 248zM901 230zM939 244zM982 267zM948 260zM1006 258zM960 256zM973 228zM869 240zM968 271zM966 252zM920 250zM980 250zM929 260zM926 260zM944 230zM908 252zM977 268zM958 260zM979 259zM972 269zM936 253zM876 247zM965 238zM942 235zM969 233zM973 267zM962 247zM915 233zM940 243zM936 240zM936 235zM968 256zM940 247zM977 254zM961 272zM912 249zM982 234zM981 244zM931 241zM959 271zM967 269zM902 227zM985 263zM944 241zM1010 244zM978 265zM992 263zM993 237zM987 266zM959 270zM918 247zM1027 230zM944 253zM940 240zM903 234zM935 258zM990 242zM947 250zM952 270zM933 236zM926 247zM966 270zM1024 231zM1008 258zM949 267zM976 261zM898 253zM916 237zM1003 233zM989 232zM982 228zM949 239zM1023 234zM963 232zM915 239zM931 254zM912 253zM953 254zM930 243zM977 269zM954 237zM1022 230zM966 227zM952 270zM945 237zM979 262zM1010 248zM934 248zM961 270zM914 258zM937 245zM917 260zM1003 259zM1004 247zM969 269zM935 239zM950 257zM984 241zM952 243zM939 266zM966 268zM961 271zM961 263zM977 242zM969 227zM993 255zM959 233zM954 268zM992 265zM944 265zM933 242zM965 272zM994 226zM948 240zM991 259zM992 237zM929 263zM922 241zM895 240zM935 256zM976 246zM970 248zM1007 258zM1001 240zM1008 228zM944 264zM932 243zM942 232zM897 239zM895 240zM958 242zM916 247zM982 249zM938 261zM979 260zM944 251zM1018 252zM945 231zM935 238zM1001 246zM958 267zM964 272zM1021 227zM915 226zM986 230zM925 232zM983 246zM999 228zM993 264zM951 228zM1007 237zM1014 232zM934 253zM1000 239zM922 230zM976 229zM1074 231zM935 246zM920 256zM960 246zM965 269zM942 227zM996 254zM947 247zM927 234zM970 269zM951 233zM977 247zM936 246zM936 240zM1009 237zM959 271zM925 234zM940 232zM911 251zM1027 246zM1005 260zM1020 228zM862 243zM934 248zM1027 236zM993 246zM954 245zM947 235zM904 254zM953 249zM938 267zM967 266zM961 268zM905 254zM992 246zM942 257zM969 270zM1013 228zM964 271zM1014 249zM937 232zM971 240zM978 252zM975 228zM956 271zM946 261zM967 227zM938 233zM924 238zM954 270zM966 269zM1022 247zM919 242zM984 226zM977 247zM971 259zM979 238zM979 267zM1049 239zM922 228zM960 257zM926 261zM981 266zM934 253zM988 258zM959 259zM964 272zM986 236zM958 259zM967 268zM903 255zM958 257zM953 269zM904 254zM910 227zM957 270zM968 252zM962 256zM961 266zM1003 261zM1006 254zM969 226zM955 230zM982 260zM1017 250zM971 241zM847 236zM971 270zM958 270zM1009 250zM916 229zM903 233zM942 243zM1011 240zM983 228zM1005 239zM959 243zM969 267zM959 241zM943 234zM956 269zM949 267zM960 270zM963 259zM956 254zM943 248zM903 233zM971 229zM974 248zM934 266zM985 265zM967 259zM973 247zM946 269zM989 255zM964 272zM935 242zM937 227zM1000 241zM988 228zM966 259zM849 233zM951 269zM979 227zM955 269zM970 260zM960 229zM1020 228zM986 260zM910 250zM962 246zM946 237zM908 257zM928 227zM918 242zM944 252zM932 243zM915 239zM1010 257zM956 240zM967 256zM993 227zM921 237zM915 253zM1028 243zM970 269zM972 248zM987 264zM971 238zM919 254zM1015 240zM967 260zM1029 240zM969 266zM1043 250zM968 246zM1004 253zM1031 228zM975 264zM935 226zM993 261zM904 235zM967 261zM964 246zM965 248zM923 256zM969 270zM946 247zM969 237zM986 265zM973 245zM940 266zM935 244zM969 259zM946 269zM935 264zM924 255zM959 259zM971 268zM975 268zM946 269zM921 240zM917 236zM926 235zM951 261zM958 271zM893 253zM957 266zM996 233zM931 265zM931 249zM932 238zM989 236zM1086 229zM991 263zM976 267zM1044 233zM951 248zM973 236zM960 271zM967 271zM980 254zM1001 250zM963 248zM957 268zM962 242zM960 268zM975 254zM909 240zM885 243zM967 268zM909 254zM941 257zM940 259zM1003 256zM1006 239zM944 257zM932 263zM959 268zM971 264zM926 236zM949 246zM958 253zM950 230zM928 242zM968 269zM967 267zM899 233zM927 262zM967 240zM1005 231zM927 245zM917 242zM922 240zM1031 244zM994 257zM913 230zM935 256zM975 269zM966 267zM1015 255zM983 261zM957 235zM978 239zM951 227zM958 268zM975 239zM930 227zM967 269zM911 243zM898 226zM1007 232zM935 244zM944 255zM1015 238zM919 242zM968 261zM988 244zM962 229zM945 241zM927 233zM947 226zM1011 246zM970 265zM1002 241zM904 229zM961 267zM951 230zM911 245zM955 251zM990 258zM924 249zM956 265zM913 242zM977 260zM925 262zM966 228zM942 262zM974 266zM874 229zM908 227zM961 233zM991 261zM955 265zM953 269zM1035 246zM965 271zM987 239zM986 248zM894 236zM994 238zM975 259zM1040 251zM914 259zM905 230zM968 247zM957 236zM954 269zM910 245zM975 266zM943 232zM989 248zM945 267zM998 246zM933 239zM957 230zM917 260zM951 247zM995 238zM994 239zM942 267zM1050 236zM949 235zM937 248zM1008 234zM953 266zM939 228zM949 242zM953 270zM1004 260zM999 241zM1009 226zM1071 241zM998 260zM1008 232zM982 226zM891 236zM905 253zM933 262zM961 253zM959 272zM938 257zM963 262zM918 256zM970 262zM992 259zM962 265zM965 271zM921 226zM910 240zM1013 231zM1023 231zM925 236zM939 253zM1004 228zM975 266zM987 232zM982 267zM950 234zM1017 258zM1004 262zM976 266zM988 251zM989 245zM969 255zM984 259zM959 242zM893 232zM963 230zM958 266zM964 230zM1005 253zM956 269zM946 263zM914 233zM927 240zM894 231zM964 268zM954 261zM946 238zM989 246zM951 266zM1015 250zM984 229zM997 236zM915 253zM962 271zM961 272zM935 235zM923 251zM948 252zM1024 246zM983 251zM874 226zM932 264zM923 237zM1006 261zM958 268zM996 239zM914 244zM958 271zM952 256zM974 261zM965 272zM955 242zM927 226zM977 246zM964 271zM994 234zM977 235zM924 240zM952 261zM923 235zM1017 232zM1001 257zM930 263zM945 254zM971 231zM958 269zM952 238zM973 252zM938 232zM992 263zM969 246zM932 247zM1044 239zM957 233zM963 264zM953 266zM924 249zM949 230zM924 256zM1012 245zM929 242zM919 228zM917 229zM950 251zM904 245zM991 252zM977 242zM980 263zM961 226zM1020 246zM973 239zM991 253zM953 232zM936 249zM950 235zM970 263zM960 250zM958 231zM963 244zM947 227zM913 242zM914 258zM945 248zM956 259zM952 264zM996 256zM951 264zM957 236zM966 271zM952 269zM943 265zM973 254zM944 268zM958 270zM928 261zM914 250zM912 254zM998 251zM992 239zM966 230zM981 267zM911 247zM898 247zM957 260zM923 257zM966 228zM994 259zM918 245zM981 252zM965 236zM961 272zM936 253zM930 264zM1003 258zM945 267zM976 266zM1015 226zM999 255zM936 236zM932 230zM902 243zM991 250zM988 230zM961 271zM900 232zM946 264zM984 239zM1079 243zM954 269zM957 236zM932 263zM1012 238zM1012 252zM964 243zM931 264zM975 268zM1016 252zM906 232zM986 243zM952 242zM929 239zM963 230zM946 268zM961 269zM963 233zM944 245zM987 247zM987 247zM980 246zM973 241zM935 256zM1007 239zM909 249zM963 251zM972 260zM949 269zM1006 258zM959 269zM935 260zM973 266zM968 235zM965 237zM914 242zM945 260zM937 230zM968 270zM920 252zM884 232zM995 262zM984 252zM1001 229zM938 231zM896 234zM972 251zM958 267zM928 256zM937 237zM953 269zM1014 244zM911 229zM904 231zM1007 235zM952 270zM960 260zM949 232zM1004 260zM950 228zM1017 233zM932 241zM977 248zM907 253zM941 230zM889 237zM948 267zM914 230zM974 270zM942 240zM964 264zM941 226zM926 235zM936 226zM964 269zM970 251zM1004 229zM961 258zM955 249zM980 234zM920 250zM1000 255zM963 265zM961 263zM1014 256zM920 257zM1000 243zM897 240zM967 257zM944 227zM965 272zM948 264zM984 236zM984 239zM927 259zM948 244zM976 247zM966 271zM997 242zM908 233zM1011 245zM916 239zM966 269zM985 232zM952 249zM930 229zM936 261zM917 234zM953 265zM907 247zM891 242zM937 251zM965 239zM967 271zM959 267zM983 267zM978 241zM905 233zM855 228zM988 263zM955 270zM904 239zM956 261zM1029 255zM911 256zM978 242zM952 236zM1012 238zM1004 248zM957 249zM958 258zM920 228zM940 264zM985 255zM906 236zM963 231zM934 263zM924 249zM1016 253zM918 231zM949 268zM970 243zM989 262zM969 252zM894 253zM971 254zM1002 241zM963 259zM1026 252zM918 231zM945 266zM961 272zM973 269zM915 239zM952 232zM968 264zM911 257zM968 235zM934 228zM947 268zM953 239zM968 269zM946 263zM938 249zM961 267zM914 246zM908 257zM1015 245zM966 272zM937 241zM980 265zM1014 227zM965 267zM1026 255zM894 233zM948 237zM972 267zM984 251zM945 268zM967 271zM967 238zM904 257zM919 261zM939 266zM923 261zM985 226zM939 265zM920 250zM989 262zM947 254zM954 250zM901 234zM966 258zM944 248zM961 271zM968 239zM1029 249zM894 251zM984 248zM972 262zM915 230zM1012 260zM966 233zM1031 233zM970 236zM942 232zM1024 248zM937 259zM907 243zM1003 243zM1022 254zM1007 259zM944 261zM990 262zM917 258zM979 236zM961 228zM983 267zM936 252zM972 264zM968 232zM940 249zM990 251zM1033 239zM953 268zM973 257zM1029 244zM937 263zM1023 252zM935 230zM938 262zM931 234zM955 231zM919 232zM908 229zM941 259zM954 270zM916 253zM947 228zM926 248zM951 240zM965 267zM936 264zM936 266zM949 226zM1022 254zM940 241zM938 237zM916 261zM946 265zM950 261zM959 244zM948 245zM1005 252zM1011 251zM971 270zM953 270zM971 270zM987 226zM1008 241zM961 268zM988 234zM963 229zM961 260zM958 271zM959 263zM886 237zM988 255zM1012 245zM985 267zM1009 245zM947 259zM1008 258zM966 238zM926 249zM949 261zM948 266zM958 254zM989 242zM990 260zM939 256zM1017 249zM967 271zM883 245zM1017 242zM965 271zM1014 258zM987 237zM953 254zM921 228zM997 255zM908 236zM1031 241zM983 229zM874 250zM980 266zM958 271zM937 263zM972 269zM944 236zM966 234zM940 253zM980 234zM954 258zM1002 255zM951 244zM991 248zM970 245zM949 266zM1006 250zM1003 234zM996 251zM940 231zM919 261zM1037 252zM944 255zM932 261zM1045 247zM1019 258zM1018 254zM1020 253zM1035 254zM941 232zM960 269zM1007 261zM965 263zM991 262zM941 251zM956 265zM951 238zM957 268zM975 239zM1077 229zM963 246zM898 233zM962 263zM909 252zM883 239zM991 230zM934 261zM971 246zM991 258zM935 255zM955 244zM954 269zM1023 246zM966 271zM933 265zM948 268zM955 253zM946 246zM958 239zM1038 243zM959 239zM964 237zM960 269zM976 260zM907 238zM1028 228zM962 253zM963 272zM938 248zM985 260zM977 264zM970 253zM957 264zM983 248zM949 226zM956 259zM967 270zM903 255zM907 227zM1002 238zM913 237zM1008 254zM978 265zM884 232zM986 234zM906 249zM1030 238zM1015 258zM974 266zM1008 233zM966 245zM912 252zM911 239zM1018 237zM974 256zM946 235zM917 232zM912 252zM894 228zM1028 243zM955 227zM991 243zM977 255zM994 257zM918 231zM937 247zM915 248zM889 249zM1055 229zM1018 237zM931 246zM986 231zM987 263zM981 262zM946 264zM980 261zM960 269zM961 241zM947 267zM962 238zM949 252zM963 269zM993 258zM999 246zM958 271zM904 245zM1058 247zM951 247zM930 257zM934 265zM944 247zM978 265zM895 248zM1040 232zM945 232zM975 267zM973 241zM950 227zM998 235zM900 254zM996 239zM952 269zM998 228zM961 272zM920 232zM977 227zM907 246zM931 232zM986 250zM936 249zM944 240zM947 250zM895 250zM964 263zM894 244zM907 258zM933 236zM1033 242zM1003 258zM966 248zM928 238zM921 257zM958 254zM966 242zM903 241zM913 241zM973 267zM982 250zM971 251zM991 250zM968 241zM974 239zM988 264zM1014 242zM1004 229zM944 253zM902 243zM1031 253zM929 231zM970 257zM956 264zM1009 241zM929 230zM1001 237zM951 237zM920 227zM1011 247zM1000 230zM958 235zM1035 229zM1057 248zM910 241zM987 263zM881 243zM889 236zM971 257zM1002 244zM924 238zM1002 236zM949 269zM932 228zM1006 258zM958 262zM1011 259zM969 269zM1012 257zM969 260zM968 256zM924 226zM950 268zM895 236zM964 227zM922 239zM975 266zM930 229zM988 261zM908 253zM1011 240zM1024 232zM940 230zM946 265zM949 235zM959 265zM921 241zM1020 226zM921 239zM997 250zM964 234zM964 264zM960 268zM929 256zM989 229zM961 272zM940 264zM973 264zM961 265zM1003 244zM960 248zM951 227zM1000 259zM973 265zM929 246zM931 241zM988 243zM1040 251zM930 234zM980 262zM938 245zM1001 234zM967 264zM957 258zM924 244zM875 233zM977 246zM960 270zM939 254zM958 255zM964 267zM962 271zM930 227zM969 269zM937 261zM969 266zM957 257zM947 256zM1011 252zM992 262zM954 234zM959 271zM905 256zM946 261zM924 245zM955 230zM991 243zM978 263zM984 254zM905 250zM925 250zM1011 231zM941 261zM963 272zM938 257zM935 250zM949 268zM976 242zM946 262zM970 228zM903 256zM981 255zM984 262zM972 244zM1023 246zM985 227zM944 251zM927 252zM984 255zM992 265zM976 239zM972 253zM989 245zM954 254zM1040 247zM965 269zM977 231zM1011 236zM920 235zM895 256zM893 243zM937 251zM1008 259zM949 229zM1012 228zM911 234zM938 228zM929 241zM941 244zM921 249zM880 247zM933 249zM929 247zM1023 229zM986 264zM930 229zM982 260zM991 264zM964 237zM916 231zM899 253zM977 252zM957 271zM964 251zM945 255zM987 231zM967 249zM902 250zM983 254zM986 259zM944 235zM924 228zM934 258zM915 226zM977 241zM1007 243zM931 262zM962 268zM905 253zM955 247zM979 268zM985 256zM980 240zM995 231zM982 254zM983 255zM1015 250zM934 265zM980 237zM972 260zM937 263zM967 244zM1004 228zM962 271zM1004 229zM985 263zM1042 237zM1012 243zM986 253zM977 236zM918 247zM1023 227zM969 270zM974 261zM951 259zM970 251zM985 260zM1001 231zM969 237zM927 231zM1060 231zM963 271zM914 255zM971 227zM929 250zM1006 252zM953 226zM1007 255zM1032 235zM938 263zM967 257zM951 233zM980 259zM975 229zM989 261zM1011 247zM979 265zM994 264zM916 251zM938 244zM1028 253zM945 245zM910 256zM961 272zM927 252zM971 268zM912 246zM984 251zM958 229zM970 258zM1022 254zM927 255zM962 265zM948 192zM961 221zM952 223zM949 96zM963 159zM972 216zM957 100zM968 220zM954 84zM975 183zM966 141zM960 167zM955 118zM967 215zM953 182zM961 99zM972 180zM967 125zM954 111zM966 168zM975 136zM958 141zM948 206zM968 184zM977 133zM976 220zM963 217zM961 171zM968 220zM948 175zM975 186zM953 217zM973 140zM959 215zM962 143zM961 207zM948 111zM948 162zM953 173zM971 144zM976 217zM959 216zM961 222zM957 144zM976 211zM953 131zM950 176zM948 179zM957 118zM973 137zM947 120zM962 201zM951 103zM977 208zM973 193zM978 193zM971 218zM950 124zM957 101zM961 152zM953 196zM962 158zM949 130zM966 153zM963 154zM953 187zM963 217zM951 155zM956 118zM967 202zM955 217zM960 184zM958 86zM956 151zM948 175zM974 117zM960 185zM948 216zM951 204zM964 182zM961 149zM965 163zM955 145zM955 194zM960 221zM951 216zM967 176zM958 142zM961 158zM963 208zM967 126zM947 189zM966 212zM951 115zM961 207zM953 148zM952 158zM963 115zM960 197zM976 197zM964 192zM949 178zM968 124zM978 184zM962 219zM950 167zM957 168zM977 182zM976 169zM949 224zM970 224zM977 163zM976 224zM953 114zM967 145zM948 155zM951 207zM958 113zM972 85zM961 205zM972 220zM962 220zM969 149zM958 214zM965 179zM973 191zM968 205zM970 212zM951 219zM957 217zM973 92zM971 219zM950 215zM973 144zM965 220zM964 150zM947 169zM963 176zM950 209zM961 127zM972 193zM950 180zM965 214zM967 152zM977 225zM970 152zM966 196zM961 220zM976 165zM947 191zM962 88zM955 148zM947 121zM950 181zM952 158zM950 152zM974 166zM950 144zM956 178zM956 148zM967 116zM965 189zM963 196zM966 197zM962 109zM971 89zM970 182zM951 225zM953 165zM958 142zM970 193zM956 220zM964 152zM950 190zM967 152zM950 119zM965 226zM959 222zM966 207zM974 219zM950 128zM970 209zM968 171zM968 127zM960 125zM952 125zM965 146zM972 202zM965 175zM961 137zM968 209zM963 226zM958 163zM950 118zM950 209zM958 140zM969 180zM958 202zM960 167zM966 199zM972 147zM974 173zM958 196zM960 186zM968 150zM952 128zM951 176zM964 181zM962 213zM951 158zM953 129zM974 222zM961 191zM961 165zM970 175zM972 157zM962 175zM951 198zM973 206zM966 138zM958 182zM968 222zM955 214zM955 84zM963 219zM959 206zM955 132zM957 161zM956 166zM958 186zM953 208zM970 168zM954 187zM957 180zM968 192zM969 168zM967 201zM950 172zM950 195zM971 154zM965 199zM970 197zM962 167zM967 206zM964 191zM960 194zM973 134zM965 128zM974 115zM966 135zM950 153zM964 188zM952 173zM972 131zM966 171zM970 146zM966 195zM956 207zM968 185zM957 143zM965 223zM973 196zM973 120zM962 225zM963 216zM968 189zM973 185zM964 98zM953 225zM957 220zM965 112zM967 166zM968 161zM973 221zM971 173zM952 188zM971 206zM962 181zM964 209zM961 187zM955 204zM974 111zM961 203zM961 160zM969 160zM962 181zM968 170zM968 197zM972 180zM964 209zM963 170zM955 168zM954 109zM967 211zM960 193zM963 200zM973 209zM951 197zM969 153zM964 188zM973 221zM971 132zM957 207zM957 171zM956 197zM952 221zM954 116zM973 216zM961 126zM968 211zM967 190zM971 198zM956 133zM957 156zM967 191zM969 190zM972 176zM966 192zM952 106zM973 142zM955 176zM962 213zM971 184zM967 204zM958 182zM957 219zM954 115zM966 191zM967 201zM950 194zM950 157zM964 167zM960 165zM955 209zM961 165zM963 120zM952 125zM958 224zM950 152zM968 154zM960 153zM973 213zM962 215zM958 161zM974 225zM968 110zM956 119zM961 133zM956 219zM954 212zM960 224zM971 223zM973 214zM969 185zM968 211zM957 202zM953 107zM958 129zM959 195zM951 138zM957 209zM969 155zM967 149zM964 155zM954 166zM953 174zM963 194z" stroke="#222" stroke-opacity="0.265" stroke-width="5.6" stroke-linecap="round" fill="none"/><path transform="scale(.5)" d="M931 214zM940 192zM944 176zM927 217zM937 193zM945 140zM944 189zM918 211zM942 211zM926 195zM932 223zM916 224zM945 209zM934 187zM936 223zM941 104zM945 186zM941 222zM930 180zM928 141zM934 201zM946 207zM849 138zM923 223zM929 210zM943 172zM929 219zM880 214zM938 213zM930 196zM932 207zM937 197zM944 159zM922 213zM931 186zM935 215zM934 203zM935 205zM933 198zM939 197zM921 197zM933 225zM946 122zM931 199zM898 222zM935 214zM940 226zM900 196zM935 213zM890 225zM940 220zM907 178zM943 176zM932 195zM919 193zM912 217zM939 131zM943 186zM945 221zM930 218zM942 215zM919 183zM945 131zM923 223zM906 134zM882 219zM946 190zM925 219zM932 160zM937 220zM945 209zM930 205zM901 213zM921 210zM945 162zM913 198zM913 139zM936 207zM944 182zM941 201zM934 192zM903 226zM925 206zM916 210zM923 220z" stroke="#2410ff" stroke-opacity="0.72" stroke-width="5.8" stroke-linecap="round" fill="none"/>
<path transform="scale(.5)" d="M943 198zM939 218zM874 220zM925 193zM925 213zM936 174zM939 182zM915 225zM921 214zM928 222zM934 199zM935 133zM933 197zM943 173zM946 118zM922 221zM867 96zM939 206zM929 199zM891 213zM933 209zM931 217zM940 224zM938 178zM946 175zM926 218zM926 156zM923 223zM938 182zM922 220zM920 222zM939 176zM923 218zM940 113zM943 194zM940 189zM944 219zM894 191zM938 210zM946 182zM941 177zM946 137zM943 162zM941 224zM893 187zM945 170zM944 213zM930 191zM946 133zM930 222zM911 224zM927 203zM939 215zM937 217zM908 210zM934 201zM933 201zM880 191zM911 189zM929 209zM930 220zM943 224zM931 164zM944 219zM901 169zM928 198zM927 222zM943 191zM909 216zM911 187zM921 226zM938 183zM917 220zM945 208zM944 219zM937 184zM929 213zM939 188zM918 216zM871 161zM879 205zM941 218zM944 197zM933 191zM940 214zM936 211zM909 223zM945 163zM942 181zM946 157zM946 154zM918 217zM936 220zM896 108zM925 208zM932 191zM944 224zM915 223zM929 219zM945 140zM874 217z" stroke="#2410ff" stroke-opacity="0.72" stroke-width="5.8" stroke-linecap="round" fill="none"/>
<path transform="scale(.5)" d="M940 216zM935 222zM939 219zM934 219zM944 183zM895 219zM940 199zM902 219zM925 217zM916 224zM928 176zM945 169zM927 210zM944 216zM946 225zM945 200zM944 201zM908 221zM940 221zM938 218zM934 208zM929 196zM940 177zM942 208zM937 164zM943 215zM918 221zM935 185zM928 194zM939 225zM939 203zM943 166zM928 222zM909 219zM932 157zM898 167zM919 216zM941 216zM941 198zM907 218zM921 220zM943 183zM869 214zM945 194zM931 210zM927 221zM927 190zM944 217zM904 183zM923 217zM933 139zM919 203zM943 138zM941 172zM924 203zM844 214zM936 218zM934 194zM894 218zM935 224zM936 185zM915 185zM940 205zM939 209zM940 178zM905 200zM943 173zM925 215zM943 187zM916 184zM938 222zM931 208zM944 130zM915 225zM940 193zM938 170zM917 204zM930 213zM921 224zM937 221zM919 224zM922 132zM943 188zM934 208zM946 203zM938 51zM944 51z" stroke="#2410ff" stroke-opacity="0.72" stroke-width="5.8" stroke-linecap="round" fill="none"/>
<path transform="scale(.5)" d="M924 219zM922 210zM945 149zM929 217zM937 217zM946 135zM935 225zM936 211zM937 199zM939 199zM943 218zM932 218zM932 226zM926 222zM945 193zM914 144zM939 223zM912 222zM946 114zM896 175zM920 210zM919 222zM919 215zM928 208zM944 216zM876 211zM935 144zM893 220zM944 151zM941 196zM943 220zM941 211zM945 193zM931 216zM936 218zM945 201zM944 218zM933 198zM924 220zM940 213zM939 176zM945 212zM943 219zM923 216zM936 216zM929 215zM945 205zM931 211zM944 222zM942 173zM945 210zM926 220zM919 222zM928 225zM933 193zM896 223zM936 203zM919 162zM942 199zM912 218zM899 219zM916 215zM933 209zM924 222zM946 138zM915 207zM905 132zM901 194zM896 219zM943 219zM918 222zM924 213zM834 225zM934 208zM935 206zM916 225zM932 208zM912 211zM923 214z" stroke="#2410ff" stroke-opacity="0.72" stroke-width="5.8" stroke-linecap="round" fill="none"/><path transform="scale(.5)" d="M990 116zM979 220zM982 203zM991 215zM999 223zM982 216zM979 222zM983 185zM1007 181zM999 218zM999 216zM987 209zM1014 201zM984 212zM991 205zM989 213zM979 223zM996 224zM989 187zM987 216zM979 219zM978 195zM978 119zM984 193zM983 205zM979 156zM983 220zM983 171zM1002 224zM994 216zM984 190zM983 191zM998 209zM1003 217zM1038 221zM983 186zM979 210zM983 193zM981 223zM988 216zM1004 213zM1004 217zM1039 196zM982 222zM1064 223zM989 211zM996 214zM990 219zM992 217zM1012 117zM1021 99zM990 213zM992 216zM982 215zM981 220zM997 165zM989 211zM1007 134zM984 196zM991 217zM985 220zM983 173zM980 224zM986 219zM989 197zM995 225zM980 148zM1002 215zM1012 225zM986 181zM1067 208zM979 219zM996 206zM992 201zM1003 90zM979 138zM1007 195zM995 161zM982 183zM1009 138zM1008 165zM979 176zM1016 170zM1004 196zM1012 204zM990 196zM990 224zM1084 211zM1005 218zM1001 220z" stroke="#ff2a12" stroke-opacity="0.72" stroke-width="5.8" stroke-linecap="round" fill="none"/>
<path transform="scale(.5)" d="M1000 223zM978 220zM1002 221zM991 219zM999 219zM981 177zM980 213zM987 196zM984 183zM986 213zM1020 153zM1019 199zM1006 154zM981 225zM1036 226zM985 204zM979 164zM998 218zM989 207zM1015 162zM979 122zM979 212zM1013 155zM1001 211zM988 206zM994 226zM993 214zM979 225zM994 194zM1019 185zM992 199zM980 195zM980 225zM1002 225zM987 212zM984 144zM986 194zM983 221zM1015 183zM980 197zM987 183zM1039 198zM1010 222zM998 167zM995 207zM1025 130zM981 101zM1006 220zM980 208zM978 152zM978 217zM985 211zM980 172zM993 221zM1002 213zM979 150zM979 206zM1033 186zM986 191zM997 215zM1003 213zM984 171zM1009 225zM987 173zM987 212zM985 178zM985 185zM1007 174zM981 223zM979 207zM1030 225zM988 223zM978 165zM995 208zM994 160zM1053 202zM987 217zM998 141zM1013 224zM985 148zM985 210zM988 223zM1037 212zM996 205zM1000 224zM979 206zM1016 210zM979 166zM984 214zM987 217z" stroke="#ff2a12" stroke-opacity="0.72" stroke-width="5.8" stroke-linecap="round" fill="none"/>
<path transform="scale(.5)" d="M979 224zM1003 220zM991 206zM984 217zM992 198zM1033 212zM996 223zM1019 217zM993 220zM983 178zM1000 207zM999 207zM978 154zM987 191zM1002 219zM981 224zM1008 225zM981 215zM1000 218zM1013 216zM1035 186zM992 218zM1020 219zM1008 222zM990 205zM982 200zM982 191zM990 216zM997 219zM978 160zM989 186zM995 200zM988 225zM983 215zM1005 222zM992 218zM1052 134zM978 185zM1039 105zM989 212zM984 178zM991 220zM1028 222zM981 187zM1014 223zM984 208zM981 202zM1021 219zM985 189zM1002 220zM986 152zM980 223zM1025 223zM978 216zM998 219zM1014 203zM1008 134zM978 219zM997 218zM1000 211zM995 202zM998 210zM1006 206zM994 217zM990 218zM986 193zM978 160zM1002 178zM988 222zM1004 221zM979 171zM1005 223zM987 215zM998 204zM978 168zM996 219zM993 211zM996 214zM981 216zM981 177zM978 205zM978 126zM997 218zM1003 164zM1025 119zM994 203zM997 209zM1000 219zM983 160zM981 165zM993 205zM995 220zM1018 203zM986 196zM1005 196zM983 171zM999 195zM988 193zM1070 225zM1004 218zM995 205zM1018 209zM980 208zM985 196z" stroke="#ff2a12" stroke-opacity="0.72" stroke-width="5.8" stroke-linecap="round" fill="none"/>
<path transform="scale(.5)" d="M987 168zM991 204zM979 186zM1022 216zM996 224zM1004 217zM1034 220zM1007 225zM993 224zM995 210zM994 216zM1032 105zM995 196zM982 180zM1038 162zM991 157zM996 214zM980 175zM980 187zM1011 147zM994 223zM993 183zM982 197zM1011 217zM984 224zM990 192zM981 194zM993 201zM1079 165zM987 215zM993 219zM1038 214zM981 179zM1001 225zM1000 155zM1020 213zM980 165zM1005 221zM980 212zM1033 195zM1060 155zM991 199zM985 214zM1018 186zM981 180zM991 221zM990 204zM990 187zM987 221zM986 191zM994 223zM1000 209zM984 203zM978 226zM996 226zM995 222zM997 200zM982 194zM981 209zM983 202zM987 124zM993 217zM978 162zM982 217zM1056 198zM1010 218zM983 117zM981 190zM998 213zM983 154zM989 222zM986 223zM985 206zM1012 67zM1087 87z" stroke="#ff2a12" stroke-opacity="0.72" stroke-width="5.8" stroke-linecap="round" fill="none"/>
<path d="M413.4 7.3H548.5V142.2" fill="none" stroke="#555" stroke-width="1"/>
<path d="M408.4 142.2H548.5M413.4 7.3V147.2" fill="none" stroke="#333" stroke-width="1"/>
<path d="M413.4 142.2v4.8M447.2 142.2v4.8M480.9 142.2v4.8M514.7 142.2v4.8M548.5 142.2v4.8M413.4 142.2h-4.8M413.4 97.2h-4.8M413.4 52.3h-4.8M413.4 7.3h-4.8M413.4 119.7h-2.8M413.4 74.8h-2.8M413.4 29.8h-2.8" stroke="#333" stroke-width="1"/>
<text transform="translate(413.4,156.1) scale(1,1.12)" font-size="6.6" text-anchor="middle" fill="#000">-5.0</text>
<text transform="translate(447.2,156.1) scale(1,1.12)" font-size="6.6" text-anchor="middle" fill="#000">-2.5</text>
<text transform="translate(480.9,156.1) scale(1,1.12)" font-size="6.6" text-anchor="middle" fill="#000">0.0</text>
<text transform="translate(514.7,156.1) scale(1,1.12)" font-size="6.6" text-anchor="middle" fill="#000">2.5</text>
<text transform="translate(548.5,156.1) scale(1,1.12)" font-size="6.6" text-anchor="middle" fill="#000">5.0</text>
<text transform="translate(406.4,144.6) scale(1,1.12)" font-size="6.6" text-anchor="end" fill="#000">0</text>
<text transform="translate(406.4,99.6) scale(1,1.12)" font-size="6.6" text-anchor="end" fill="#000">2</text>
<text transform="translate(406.4,54.7) scale(1,1.12)" font-size="6.6" text-anchor="end" fill="#000">4</text>
<text transform="translate(406.4,9.7) scale(1,1.12)" font-size="6.6" text-anchor="end" fill="#000">6</text>
<text transform="translate(480.9,166) scale(1,1.18)" font-size="6.15" font-weight="bold" text-anchor="middle" fill="#000">log<tspan font-size="4.2" dy="1.6">2</tspan><tspan dy="-1.6"> FC(Haem/Control)</tspan></text>
<text transform="translate(395.8,76.3) rotate(-90) scale(1,1.15)" font-size="5.9" font-weight="bold" text-anchor="middle" fill="#000">-log<tspan font-size="4.1" dy="1.6">10</tspan><tspan dy="-1.6"> (P-value)</tspan></text>
<text x="377.8" y="9.8" font-size="12.5" fill="#111" font-weight="bold">c</text>
<circle cx="31.1" cy="254.3" r="5" fill="#a8f0c4" fill-opacity="0.5"/>
<circle cx="34.2" cy="247.1" r="4" fill="#c0a8e2" fill-opacity="0.55"/>
<circle cx="37.3" cy="241.0" r="3.5" fill="#8ec0e0" fill-opacity="0.42"/>
<circle cx="41.0" cy="234.2" r="5" fill="#c0a8e2" fill-opacity="0.55"/>
<circle cx="46.5" cy="228.7" r="8.5" fill="#e6c47c" fill-opacity="0.55"/>
<circle cx="50.5" cy="222.6" r="6.5" fill="#a8b0b8" fill-opacity="0.5"/>
<circle cx="56.7" cy="218.5" r="4.5" fill="#e6c47c" fill-opacity="0.55"/>
<circle cx="62.8" cy="214.8" r="3.5" fill="#a8b0b8" fill-opacity="0.5"/>
<circle cx="69.6" cy="211.3" r="5" fill="#a8b0b8" fill-opacity="0.5"/>
<circle cx="76.1" cy="210.3" r="7.5" fill="#e6c47c" fill-opacity="0.55"/>
<circle cx="84.3" cy="207.7" r="4.5" fill="#a8f0c4" fill-opacity="0.5"/>
<circle cx="90.8" cy="207.3" r="3" fill="#c0a8e2" fill-opacity="0.55"/>
<circle cx="98.5" cy="207.4" r="4.5" fill="#c0a8e2" fill-opacity="0.55"/>
<circle cx="105.3" cy="209.5" r="13.5" fill="#8ec0e0" fill-opacity="0.42"/>
<circle cx="112.9" cy="210.3" r="3.5" fill="#c0a8e2" fill-opacity="0.55"/>
<circle cx="120.0" cy="213.4" r="6" fill="#8ec0e0" fill-opacity="0.42"/>
<circle cx="126.2" cy="216.5" r="4" fill="#8ec0e0" fill-opacity="0.42"/>
<circle cx="132.3" cy="221.2" r="4.5" fill="#e6c47c" fill-opacity="0.55"/>
<circle cx="137.4" cy="226.1" r="4" fill="#a8b0b8" fill-opacity="0.5"/>
<circle cx="142.5" cy="231.8" r="6.5" fill="#a8f0c4" fill-opacity="0.5"/>
<circle cx="147.0" cy="237.9" r="3" fill="#c0a8e2" fill-opacity="0.55"/>
<circle cx="150.1" cy="244.0" r="3" fill="#a8f0c4" fill-opacity="0.5"/>
<circle cx="152.7" cy="250.2" r="10" fill="#c0a8e2" fill-opacity="0.55"/>
<circle cx="154.8" cy="256.3" r="6" fill="#c0a8e2" fill-opacity="0.55"/>
<circle cx="30.6" cy="261.8" r="4.5" fill="#e6c47c" fill-opacity="0.55"/>
<circle cx="30.6" cy="269.4" r="5.5" fill="#c0a8e2" fill-opacity="0.55"/>
<circle cx="30.6" cy="276.9" r="4.5" fill="#a8f0c4" fill-opacity="0.5"/>
<circle cx="32.9" cy="283.6" r="6" fill="#a8b0b8" fill-opacity="0.5"/>
<circle cx="34.0" cy="291.0" r="5" fill="#c0a8e2" fill-opacity="0.55"/>
<circle cx="37.4" cy="298.2" r="4" fill="#a8f0c4" fill-opacity="0.5"/>
<circle cx="41.9" cy="303.8" r="7" fill="#a8b0b8" fill-opacity="0.5"/>
<circle cx="49.7" cy="307.2" r="9" fill="#a8f0c4" fill-opacity="0.5"/>
<circle cx="50.8" cy="314.0" r="7" fill="#88c8d0" fill-opacity="0.5"/>
<circle cx="56.5" cy="320.2" r="5" fill="#e6c47c" fill-opacity="0.55"/>
<circle cx="64.3" cy="320.7" r="7.5" fill="#a8b0b8" fill-opacity="0.5"/>
<circle cx="68.8" cy="326.3" r="6" fill="#8ec0e0" fill-opacity="0.42"/>
<circle cx="76.7" cy="328.5" r="6.5" fill="#a8f0c4" fill-opacity="0.5"/>
<circle cx="82.3" cy="330.8" r="3.5" fill="#a8b0b8" fill-opacity="0.5"/>
<circle cx="91.3" cy="330.8" r="9.5" fill="#e6c47c" fill-opacity="0.55"/>
<circle cx="98.0" cy="331.9" r="3" fill="#a8f0c4" fill-opacity="0.5"/>
<circle cx="105.9" cy="330.8" r="3.5" fill="#a8b0b8" fill-opacity="0.5"/>
<circle cx="112.6" cy="326.3" r="9.5" fill="#a8f0c4" fill-opacity="0.5"/>
<circle cx="119.4" cy="326.3" r="3.5" fill="#8ec0e0" fill-opacity="0.42"/>
<circle cx="126.1" cy="321.8" r="4" fill="#a8f0c4" fill-opacity="0.5"/>
<circle cx="132.4" cy="317.3" r="4" fill="#a8b0b8" fill-opacity="0.5"/>
<circle cx="137.4" cy="312.8" r="6.5" fill="#e6c47c" fill-opacity="0.55"/>
<circle cx="140.7" cy="306.1" r="8.5" fill="#a8b0b8" fill-opacity="0.5"/>
<circle cx="146.3" cy="301.6" r="4.5" fill="#8ec0e0" fill-opacity="0.42"/>
<circle cx="149.7" cy="294.8" r="4" fill="#c0a8e2" fill-opacity="0.55"/>
<circle cx="150.8" cy="285.8" r="9.5" fill="#8ec0e0" fill-opacity="0.42"/>
<circle cx="154.2" cy="281.3" r="5.5" fill="#8ec0e0" fill-opacity="0.42"/>
<circle cx="154.9" cy="272.4" r="5" fill="#e6c47c" fill-opacity="0.55"/>
<circle cx="156.5" cy="265.6" r="8" fill="#e6c47c" fill-opacity="0.55"/>
<circle cx="154.2" cy="260.0" r="5" fill="#c0a8e2" fill-opacity="0.55"/>
<path d="M138.9 323.1L147.7 333.7M139.7 322.4L146.7 330.4M140.6 321.6L150.4 332.5M141.6 320.7L151.6 331.5M142.6 319.7L152.6 330.0M143.4 318.9L153.6 329.0M144.4 317.9L155.0 328.0M145.4 316.8L155.4 326.0M146.2 316.0L157.0 325.7M146.9 315.2L157.8 324.7M147.8 314.1L159.1 323.4M148.6 313.2L160.0 322.3M149.4 312.1L160.6 320.7M150.0 311.3L162.1 320.2M150.8 310.2L162.3 318.5M151.6 309.0L161.0 315.5M152.4 307.9L161.8 314.2M153.0 307.0L165.1 314.8M153.6 306.0L165.3 313.2M154.3 304.9L167.0 312.4M154.9 303.8L163.8 308.8M155.4 302.9L168.4 310.0M156.1 301.7L169.1 308.5M156.6 300.8L169.8 307.4M157.1 299.6L168.6 305.1M157.7 298.4L171.2 304.5M158.2 297.3L171.9 303.3M158.6 296.3L171.0 301.4M159.1 295.2L166.6 298.2M159.4 294.3L172.7 299.4M159.9 292.9L173.9 297.9M160.3 291.9L174.3 296.7M160.6 290.9L174.7 295.5M160.9 289.9L174.6 294.2M161.3 288.7L175.5 292.8M161.7 287.4L175.0 291.0M161.9 286.4L176.4 290.1M162.2 285.2L176.6 288.6M162.5 284.0L172.3 286.2M162.7 282.9L177.0 285.7M162.9 281.8L172.9 283.7M163.1 280.6L177.9 283.1M163.3 279.4L175.1 281.2M163.5 278.1L177.4 279.9M163.6 277.1L177.4 278.6M163.8 275.7L172.0 276.5M163.9 274.2L178.7 275.3M164.0 272.9L172.5 273.4M164.0 271.7L178.9 272.3M164.1 270.7L179.1 271.1M164.1 269.3L178.7 269.4M164.1 267.9L179.0 267.6M164.1 266.6L178.5 266.1M164.0 265.6L178.0 264.9M152.7 230.5L162.6 224.1M152.0 229.5L161.3 223.3M151.3 228.5L160.2 222.3M150.6 227.5L159.6 220.9M150.0 226.7L159.2 219.9M149.4 225.8L158.4 218.9M148.7 225.0L157.4 218.1M147.9 224.0L156.9 216.5M129.9 208.5L135.8 198.6M128.9 207.9L134.6 198.1M127.5 207.1L133.1 196.9M126.4 206.5L131.6 196.7M124.9 205.8L130.2 195.3M123.8 205.2L128.6 195.2M122.6 204.7L127.2 194.6M121.2 204.1L125.8 193.4M119.9 203.5L123.3 195.3M118.5 203.0L122.6 192.0M117.0 202.4L120.9 191.4M115.8 202.0L117.9 195.6M111.8 200.8L114.9 189.1M110.7 200.5L113.8 188.1M109.3 200.2L111.8 189.2M108.2 199.9L110.8 187.5M106.9 199.7L109.3 187.8M106.0 199.5L108.2 187.2M104.8 199.3L106.8 187.2M103.5 199.1L105.0 188.8M102.2 198.9L103.8 186.2M100.8 198.8L102.0 187.6M99.4 198.6L100.4 185.9M98.3 198.6L99.1 187.9M97.3 198.5L97.9 186.3M87.3 198.7L86.3 187.0M86.3 198.8L85.2 187.1M85.1 198.9L83.7 187.2M83.9 199.1L82.3 187.4M82.7 199.2L81.0 188.2M81.5 199.4L79.7 188.5M80.5 199.6L78.5 188.8M71.1 202.0L66.8 189.1M69.7 202.6L65.2 190.2M68.2 203.1L64.7 193.8M66.9 203.6L61.8 190.9M65.5 204.2L60.2 191.7M64.2 204.8L58.4 192.3M63.0 205.3L57.5 193.7M61.8 205.9L55.7 193.7M60.8 206.5L54.3 194.2M59.4 207.2L53.0 195.6M58.4 207.7L51.6 195.8M57.4 208.3L50.7 197.1M56.3 209.0L49.0 197.2M55.2 209.7L48.0 198.5M54.3 210.3L47.0 199.4M53.1 211.1L45.4 200.2M51.9 212.0L43.8 201.0M50.6 212.9L42.1 201.8M49.5 213.8L40.8 202.9M48.4 214.7L39.5 203.9M47.6 215.4L38.9 205.2M46.6 216.2L37.6 206.1M45.5 217.2L41.1 212.5M44.3 218.3L34.9 208.6M43.3 219.4L33.6 209.9M42.3 220.4L32.9 211.5M41.4 221.4L31.1 212.1M40.5 222.4L30.1 213.3M39.7 223.3L29.1 214.3M38.9 224.3L28.7 215.9M38.1 225.2L27.1 216.6M37.4 226.2L26.9 218.1M36.6 227.3L25.4 219.1M35.6 228.6L25.7 221.6M34.8 229.8L24.1 222.7M34.0 231.1L22.8 224.0M33.2 232.3L21.4 225.1M32.6 233.3L20.7 226.4M32.0 234.4L20.1 227.7M31.3 235.7L19.2 229.2M30.6 237.0L19.0 231.2M28.5 241.4L19.4 237.5M28.1 242.4L19.9 239.1M27.7 243.5L19.1 240.1M27.3 244.5L17.6 240.9M26.9 245.6L17.4 242.2M26.5 246.9L16.3 243.5M26.1 247.9L17.2 245.1M25.8 248.9L16.1 245.9M25.4 250.3L15.6 247.6M25.1 251.7L15.6 249.3M24.7 253.0L14.8 250.7M24.5 254.2L14.5 252.0M24.2 255.4L14.7 253.5M24.0 256.4L19.0 255.5M23.8 257.7L13.1 255.9M23.7 258.7L12.8 257.1M23.5 259.7L18.5 259.0M23.4 260.9L13.4 259.7M23.2 262.2L12.7 261.2M23.1 263.3L13.2 262.5M23.1 264.3L13.8 263.7M23.0 265.6L12.1 265.1M22.9 267.0L12.7 266.7M22.9 268.2L16.3 268.2M22.9 269.0L10.0 269.0M22.9 270.4L10.8 270.6M23.0 271.9L9.6 272.4M23.0 273.3L9.1 274.2M23.1 274.8L9.8 275.9M23.2 276.0L10.4 277.2M23.4 277.3L9.7 279.0M23.5 278.4L10.7 280.1M23.7 279.9L16.1 281.0M23.9 281.0L11.3 283.2M24.2 282.3L10.8 284.9M24.4 283.5L10.9 286.3M24.6 284.6L11.8 287.5M24.9 285.7L11.6 288.9M25.2 286.9L12.5 290.3M25.6 288.3L13.3 291.7M25.9 289.4L13.2 293.2M26.2 290.5L13.3 294.6M26.6 291.7L13.5 296.1M27.1 293.1L14.4 297.7M27.6 294.4L15.9 299.0M28.0 295.4L20.1 298.6M28.4 296.3L16.7 301.3M28.9 297.4L16.1 303.1M29.4 298.6L17.1 304.3M29.9 299.6L18.0 305.3M30.4 300.7L17.9 307.0M31.1 301.9L18.8 308.4M31.6 303.0L19.4 309.8M32.3 304.1L26.0 307.7M32.9 305.3L21.4 312.2M33.5 306.2L22.0 313.3M34.2 307.3L22.7 314.8M34.9 308.4L27.6 313.4M35.7 309.5L24.4 317.4M36.3 310.4L25.3 318.4M37.0 311.3L26.8 318.9M37.6 312.2L26.7 320.6M38.4 313.1L27.7 321.6M39.1 314.1L28.5 322.9M39.9 315.0L30.0 323.5M40.9 316.1L30.7 325.2M41.6 316.9L31.4 326.3M42.6 317.9L33.0 327.1M43.5 318.9L34.0 328.4M44.3 319.6L35.0 329.1M45.3 320.6L35.8 330.7M46.3 321.5L37.4 331.3M47.2 322.3L40.2 330.4M48.0 323.0L39.4 333.3M48.8 323.7L40.0 334.4M49.9 324.5L41.7 334.9M50.7 325.1L42.3 336.2M51.7 325.9L43.9 336.6M52.6 326.6L45.0 337.4M55.0 328.2L47.3 340.2M56.3 329.0L48.8 341.1M57.4 329.7L50.4 341.6M58.8 330.5L51.7 343.1M60.1 331.2L53.3 343.9M61.2 331.8L56.2 341.6M62.3 332.3L55.8 345.5M63.8 333.0L57.5 346.6M65.4 333.7L59.5 347.2M66.6 334.3L61.0 347.9M68.1 334.9L62.8 348.7M69.6 335.4L64.8 348.8M71.0 335.9L66.4 349.3M72.1 336.3L67.7 350.4M73.7 336.8L69.6 350.9M75.2 337.2L73.0 345.4M76.6 337.5L73.0 351.8" stroke="#e6e6e6" stroke-width="1.1" fill="none"/>
<path d="M138.9 323.1L147.7 333.7M139.7 322.4L146.7 330.4M140.6 321.6L150.4 332.5M141.6 320.7L151.6 331.5M142.6 319.7L152.6 330.0M143.4 318.9L153.6 329.0M144.4 317.9L155.0 328.0M145.4 316.8L155.4 326.0M146.2 316.0L157.0 325.7M146.9 315.2L157.8 324.7M147.8 314.1L159.1 323.4M148.6 313.2L160.0 322.3M149.4 312.1L160.6 320.7M150.0 311.3L162.1 320.2M150.8 310.2L162.3 318.5M151.6 309.0L161.0 315.5M152.4 307.9L161.8 314.2M153.0 307.0L165.1 314.8M153.6 306.0L165.3 313.2M154.3 304.9L167.0 312.4M154.9 303.8L163.8 308.8M155.4 302.9L168.4 310.0M156.1 301.7L169.1 308.5M156.6 300.8L169.8 307.4M157.1 299.6L168.6 305.1M157.7 298.4L171.2 304.5M158.2 297.3L171.9 303.3M158.6 296.3L171.0 301.4M159.1 295.2L166.6 298.2M159.4 294.3L172.7 299.4M159.9 292.9L173.9 297.9M160.3 291.9L174.3 296.7M160.6 290.9L174.7 295.5M160.9 289.9L174.6 294.2M161.3 288.7L175.5 292.8M161.7 287.4L175.0 291.0M161.9 286.4L176.4 290.1M162.2 285.2L176.6 288.6M162.5 284.0L172.3 286.2M162.7 282.9L177.0 285.7M162.9 281.8L172.9 283.7M163.1 280.6L177.9 283.1M163.3 279.4L175.1 281.2M163.5 278.1L177.4 279.9M163.6 277.1L177.4 278.6M163.8 275.7L172.0 276.5M163.9 274.2L178.7 275.3M164.0 272.9L172.5 273.4M164.0 271.7L178.9 272.3M164.1 270.7L179.1 271.1M164.1 269.3L178.7 269.4M164.1 267.9L179.0 267.6M164.1 266.6L178.5 266.1M164.0 265.6L178.0 264.9M152.7 230.5L162.6 224.1M152.0 229.5L161.3 223.3M151.3 228.5L160.2 222.3M150.6 227.5L159.6 220.9M150.0 226.7L159.2 219.9M149.4 225.8L158.4 218.9M148.7 225.0L157.4 218.1M147.9 224.0L156.9 216.5M129.9 208.5L135.8 198.6M128.9 207.9L134.6 198.1M127.5 207.1L133.1 196.9M126.4 206.5L131.6 196.7M124.9 205.8L130.2 195.3M123.8 205.2L128.6 195.2M122.6 204.7L127.2 194.6M121.2 204.1L125.8 193.4M119.9 203.5L123.3 195.3M118.5 203.0L122.6 192.0M117.0 202.4L120.9 191.4M115.8 202.0L117.9 195.6M111.8 200.8L114.9 189.1M110.7 200.5L113.8 188.1M109.3 200.2L111.8 189.2M108.2 199.9L110.8 187.5M106.9 199.7L109.3 187.8M106.0 199.5L108.2 187.2M104.8 199.3L106.8 187.2M103.5 199.1L105.0 188.8M102.2 198.9L103.8 186.2M100.8 198.8L102.0 187.6M99.4 198.6L100.4 185.9M98.3 198.6L99.1 187.9M97.3 198.5L97.9 186.3M87.3 198.7L86.3 187.0M86.3 198.8L85.2 187.1M85.1 198.9L83.7 187.2M83.9 199.1L82.3 187.4M82.7 199.2L81.0 188.2M81.5 199.4L79.7 188.5M80.5 199.6L78.5 188.8M71.1 202.0L66.8 189.1M69.7 202.6L65.2 190.2M68.2 203.1L64.7 193.8M66.9 203.6L61.8 190.9M65.5 204.2L60.2 191.7M64.2 204.8L58.4 192.3M63.0 205.3L57.5 193.7M61.8 205.9L55.7 193.7M60.8 206.5L54.3 194.2M59.4 207.2L53.0 195.6M58.4 207.7L51.6 195.8M57.4 208.3L50.7 197.1M56.3 209.0L49.0 197.2M55.2 209.7L48.0 198.5M54.3 210.3L47.0 199.4M53.1 211.1L45.4 200.2M51.9 212.0L43.8 201.0M50.6 212.9L42.1 201.8M49.5 213.8L40.8 202.9M48.4 214.7L39.5 203.9M47.6 215.4L38.9 205.2M46.6 216.2L37.6 206.1M45.5 217.2L41.1 212.5M44.3 218.3L34.9 208.6M43.3 219.4L33.6 209.9M42.3 220.4L32.9 211.5M41.4 221.4L31.1 212.1M40.5 222.4L30.1 213.3M39.7 223.3L29.1 214.3M38.9 224.3L28.7 215.9M38.1 225.2L27.1 216.6M37.4 226.2L26.9 218.1M36.6 227.3L25.4 219.1M35.6 228.6L25.7 221.6M34.8 229.8L24.1 222.7M34.0 231.1L22.8 224.0M33.2 232.3L21.4 225.1M32.6 233.3L20.7 226.4M32.0 234.4L20.1 227.7M31.3 235.7L19.2 229.2M30.6 237.0L19.0 231.2M28.5 241.4L19.4 237.5M28.1 242.4L19.9 239.1M27.7 243.5L19.1 240.1M27.3 244.5L17.6 240.9M26.9 245.6L17.4 242.2M26.5 246.9L16.3 243.5M26.1 247.9L17.2 245.1M25.8 248.9L16.1 245.9M25.4 250.3L15.6 247.6M25.1 251.7L15.6 249.3M24.7 253.0L14.8 250.7M24.5 254.2L14.5 252.0M24.2 255.4L14.7 253.5M24.0 256.4L19.0 255.5M23.8 257.7L13.1 255.9M23.7 258.7L12.8 257.1M23.5 259.7L18.5 259.0M23.4 260.9L13.4 259.7M23.2 262.2L12.7 261.2M23.1 263.3L13.2 262.5M23.1 264.3L13.8 263.7M23.0 265.6L12.1 265.1M22.9 267.0L12.7 266.7M22.9 268.2L16.3 268.2M22.9 269.0L10.0 269.0M22.9 270.4L10.8 270.6M23.0 271.9L9.6 272.4M23.0 273.3L9.1 274.2M23.1 274.8L9.8 275.9M23.2 276.0L10.4 277.2M23.4 277.3L9.7 279.0M23.5 278.4L10.7 280.1M23.7 279.9L16.1 281.0M23.9 281.0L11.3 283.2M24.2 282.3L10.8 284.9M24.4 283.5L10.9 286.3M24.6 284.6L11.8 287.5M24.9 285.7L11.6 288.9M25.2 286.9L12.5 290.3M25.6 288.3L13.3 291.7M25.9 289.4L13.2 293.2M26.2 290.5L13.3 294.6M26.6 291.7L13.5 296.1M27.1 293.1L14.4 297.7M27.6 294.4L15.9 299.0M28.0 295.4L20.1 298.6M28.4 296.3L16.7 301.3M28.9 297.4L16.1 303.1M29.4 298.6L17.1 304.3M29.9 299.6L18.0 305.3M30.4 300.7L17.9 307.0M31.1 301.9L18.8 308.4M31.6 303.0L19.4 309.8M32.3 304.1L26.0 307.7M32.9 305.3L21.4 312.2M33.5 306.2L22.0 313.3M34.2 307.3L22.7 314.8M34.9 308.4L27.6 313.4M35.7 309.5L24.4 317.4M36.3 310.4L25.3 318.4M37.0 311.3L26.8 318.9M37.6 312.2L26.7 320.6M38.4 313.1L27.7 321.6M39.1 314.1L28.5 322.9M39.9 315.0L30.0 323.5M40.9 316.1L30.7 325.2M41.6 316.9L31.4 326.3M42.6 317.9L33.0 327.1M43.5 318.9L34.0 328.4M44.3 319.6L35.0 329.1M45.3 320.6L35.8 330.7M46.3 321.5L37.4 331.3M47.2 322.3L40.2 330.4M48.0 323.0L39.4 333.3M48.8 323.7L40.0 334.4M49.9 324.5L41.7 334.9M50.7 325.1L42.3 336.2M51.7 325.9L43.9 336.6M52.6 326.6L45.0 337.4M55.0 328.2L47.3 340.2M56.3 329.0L48.8 341.1M57.4 329.7L50.4 341.6M58.8 330.5L51.7 343.1M60.1 331.2L53.3 343.9M61.2 331.8L56.2 341.6M62.3 332.3L55.8 345.5M63.8 333.0L57.5 346.6M65.4 333.7L59.5 347.2M66.6 334.3L61.0 347.9M68.1 334.9L62.8 348.7M69.6 335.4L64.8 348.8M71.0 335.9L66.4 349.3M72.1 336.3L67.7 350.4M73.7 336.8L69.6 350.9M75.2 337.2L73.0 345.4M76.6 337.5L73.0 351.8" stroke="#c2c2c2" stroke-width="0.3" fill="none"/>
<path d="M96.0 339.6L96.3 348.4M98.3 339.4L99.2 353.2M100.3 339.3L101.1 347.0M102.7 339.0L104.5 352.6M105.0 338.7L107.1 351.3M107.0 338.3L109.7 352.0M109.4 337.8L112.5 351.5M111.6 337.3L115.1 350.8M113.7 336.7L117.7 350.2M115.5 336.1L119.6 348.7M117.0 335.6L121.8 349.0M119.2 334.7L124.6 348.5M120.7 334.1L123.9 341.7M122.3 333.5L127.7 345.6M124.1 332.6L130.2 345.3M126.1 331.6L133.0 344.8M127.9 330.7L134.7 342.9M129.7 329.6L137.0 341.9M131.3 328.6L138.7 340.2M132.8 327.7L139.3 337.5M134.2 326.7L142.6 338.6M135.5 325.8L141.4 333.8M142.1 217.8L150.2 209.2M140.9 216.7L148.9 207.9M139.8 215.7L147.7 206.7M138.4 214.5L145.5 205.8M137.0 213.4L143.7 204.7M135.6 212.3L140.4 205.9M134.2 211.3L140.4 202.7M132.5 210.2L138.8 200.7M80.0 338.3L77.4 351.8M82.2 338.7L80.0 352.5M84.1 339.0L82.3 351.9M85.7 339.2L84.0 353.9M87.4 339.3L86.2 353.9M89.5 339.5L88.7 352.8M91.1 339.6L90.6 354.1M92.9 339.6L92.8 354.6" stroke="#c8c8c8" stroke-width="0.55" fill="none"/>
<path d="M106.9 350.2L107.1 351.3M119.1 347.2L119.6 348.7M123.6 340.9L123.9 341.7M126.4 342.7L127.7 345.6M128.6 342.1L130.2 345.3M131.2 341.3L133.0 344.8M137.5 338.4L138.7 340.2M137.3 334.4L139.3 337.5M141.9 337.7L142.6 338.6M145.7 331.2L147.7 333.7M144.5 327.9L146.7 330.4M151.0 326.5L153.6 329.0M154.1 323.1L157.0 325.7M157.0 319.9L160.0 322.3M159.5 318.3L162.1 320.2M159.6 316.6L162.3 318.5M159.3 314.3L161.0 315.5M166.6 309.0L168.4 310.0M164.8 303.3L168.6 305.1M168.8 303.4L171.2 304.5M168.5 301.8L171.9 303.3M167.0 299.8L171.0 301.4M165.8 297.9L166.6 298.2M173.1 297.6L173.9 297.9M173.1 296.3L174.3 296.7M173.3 290.5L175.0 291.0M175.3 288.3L176.6 288.6M174.2 281.1L175.1 281.2M176.1 279.7L177.4 279.9M176.7 278.6L177.4 278.6M170.3 276.3L172.0 276.5M178.1 271.0L179.1 271.1M176.5 265.0L178.0 264.9M160.5 223.8L161.3 223.3M158.7 221.6L159.6 220.9M157.8 220.9L159.2 219.9M139.7 206.8L140.4 205.9M134.8 200.3L135.8 198.6M132.2 198.6L133.1 196.9M130.7 198.3L131.6 196.7M129.6 196.5L130.2 195.3M120.4 192.9L120.9 191.4M117.4 197.1L117.9 195.6M114.3 191.2L114.9 189.1M113.4 190.0L113.8 188.1M103.5 188.3L103.8 186.2M101.9 188.3L102.0 187.6M98.9 189.8L99.1 187.9M85.3 188.8L85.2 187.1M79.9 189.7L79.7 188.5M65.8 191.8L65.2 190.2M58.9 193.2L58.4 192.3M55.2 195.8L54.3 194.2M53.5 196.4L53.0 195.6M47.4 200.1L47.0 199.4M46.3 201.5L45.4 200.2M42.0 204.4L40.8 202.9M36.3 210.1L34.9 208.6M34.2 210.5L33.6 209.9M34.2 212.8L32.9 211.5M31.6 212.5L31.1 212.1M31.0 214.1L30.1 213.3M30.2 215.2L29.1 214.3M27.8 218.9L26.9 218.1M26.0 219.5L25.4 219.1M23.1 226.2L21.4 225.1M21.9 228.8L20.1 227.7M20.3 237.9L19.4 237.5M21.9 239.9L19.9 239.1M18.1 242.5L17.4 242.2M17.0 249.6L15.6 249.3M16.6 251.1L14.8 250.7M16.9 253.9L14.7 253.5M14.4 256.2L13.1 255.9M19.8 259.2L18.5 259.0M13.1 265.1L12.1 265.1M12.5 270.6L10.8 270.6M11.3 277.1L10.4 277.2M17.2 280.9L16.1 281.0M12.2 283.0L11.3 283.2M11.8 286.1L10.9 286.3M12.6 287.3L11.8 287.5M12.9 288.6L11.6 288.9M15.4 291.2L13.3 291.7M18.3 291.7L13.2 293.2M18.8 292.8L13.3 294.6M21.1 298.2L20.1 298.6M21.4 302.3L17.1 304.3M19.8 304.4L18.0 305.3M21.8 305.1L17.9 307.0M21.7 308.5L19.4 309.8M25.8 309.5L21.4 312.2M30.4 311.5L27.6 313.4M26.5 315.9L24.4 317.4M27.5 316.8L25.3 318.4M30.5 316.2L26.8 318.9M30.8 317.5L26.7 320.6M34.0 320.1L30.0 323.5M37.9 324.5L34.0 328.4M38.0 326.0L35.0 329.1M38.1 328.2L35.8 330.7M43.7 326.3L40.2 330.4M41.5 332.7L40.0 334.4M44.0 331.9L41.7 334.9M48.1 339.0L47.3 340.2M49.6 339.9L48.8 341.1M53.5 339.8L51.7 343.1M55.4 340.0L53.3 343.9M58.4 340.3L55.8 345.5M60.5 345.0L59.5 347.2M62.4 344.5L61.0 347.9M64.8 343.6L62.8 348.7M65.6 346.6L64.8 348.8M68.4 348.1L67.7 350.4M77.8 349.6L77.4 351.8M80.9 346.7L80.0 352.5M82.6 350.0L82.3 351.9M84.2 352.0L84.0 353.9M88.8 351.6L88.7 352.8" stroke="#3a6fd0" stroke-width="0.8" fill="none"/>
<path d="M116.5 346.2L117.7 350.2M120.8 346.3L121.8 349.0M123.4 345.5L124.6 348.5M135.9 340.0L137.0 341.9M148.9 330.9L150.4 332.5M148.7 328.4L151.6 331.5M149.9 327.2L152.6 330.0M154.0 327.1L155.0 328.0M152.5 323.3L155.4 326.0M163.5 312.0L165.3 313.2M162.2 307.9L163.8 308.8M168.3 308.0L169.1 308.5M168.8 297.9L172.7 299.4M173.5 295.1L174.7 295.5M174.5 292.5L175.5 292.8M176.3 285.6L177.0 285.7M175.7 282.7L177.9 283.1M171.7 273.3L172.5 273.4M178.1 272.2L178.9 272.3M178.0 269.4L178.7 269.4M176.4 266.2L178.5 266.1M162.0 224.5L162.6 224.1M158.6 223.4L160.2 222.3M157.1 219.8L158.4 218.9M156.5 218.8L157.4 218.1M143.1 205.5L143.7 204.7M139.8 203.5L140.4 202.7M126.3 196.5L127.2 194.6M123.0 196.0L123.3 195.3M111.6 190.3L111.8 189.2M110.6 188.5L110.8 187.5M81.2 189.7L81.0 188.2M78.8 190.4L78.5 188.8M62.4 192.4L61.8 190.9M60.7 192.9L60.2 191.7M56.2 194.6L55.7 193.7M42.9 202.9L42.1 201.8M40.2 206.8L38.9 205.2M20.6 232.0L19.0 231.2M18.3 244.2L16.3 243.5M15.6 252.3L14.5 252.0M13.6 257.2L12.8 257.1M15.5 263.8L13.8 263.7M10.8 269.0L10.0 269.0M10.8 272.4L9.6 272.4M10.5 275.8L9.8 275.9M11.6 278.7L9.7 279.0M11.9 280.0L10.7 280.1M12.5 284.5L10.8 284.9M13.4 290.0L12.5 290.3M15.7 295.4L13.5 296.1M15.7 297.2L14.4 297.7M16.9 298.6L15.9 299.0M22.7 306.3L18.8 308.4M31.1 304.8L26.0 307.7M24.5 311.7L22.0 313.3M25.6 312.9L22.7 314.8M33.2 322.9L30.7 325.2M37.2 323.1L33.0 327.1M39.4 329.1L37.4 331.3M44.3 333.5L42.3 336.2M46.6 332.9L43.9 336.6M46.0 336.0L45.0 337.4M51.0 340.4L50.4 341.6M59.4 342.6L57.5 346.6M70.2 348.8L69.6 350.9M74.3 340.3L73.0 345.4M74.2 347.2L73.0 351.8M90.6 352.6L90.6 354.1M92.8 353.0L92.8 354.6" stroke="#e8383a" stroke-width="0.8" fill="none"/>
<path d="M156.2 238.4A69.8 69.8 0 1 0 162.6 259.3" fill="none" stroke="#404040" stroke-width="1.4"/>
<path d="M92.9 269.5L99.0 242.5M92.9 269.5L117.9 257.6M92.9 269.5L118.1 281.0M92.9 269.5L99.0 296.5M92.9 269.5L75.8 291.3M92.9 269.5L65.2 269.4M92.9 269.5L75.5 247.9" stroke="#f4f4f4" stroke-width="0.4"/>
<circle cx="99.0" cy="242.5" r="5" fill="#a9cbe6"/>
<text x="99.0" y="244.0" font-size="4.2" font-weight="bold" text-anchor="middle" fill="#333">C</text>
<circle cx="117.9" cy="257.6" r="5" fill="#a9cbe6"/>
<text x="117.9" y="259.1" font-size="4.2" font-weight="bold" text-anchor="middle" fill="#333">B</text>
<circle cx="118.1" cy="281.0" r="5" fill="#a9cbe6"/>
<text x="118.1" y="282.5" font-size="4.2" font-weight="bold" text-anchor="middle" fill="#333">O</text>
<circle cx="99.0" cy="296.5" r="5" fill="#a9cbe6"/>
<text x="99.0" y="298.0" font-size="4.2" font-weight="bold" text-anchor="middle" fill="#333">M</text>
<circle cx="75.8" cy="291.3" r="5" fill="#a9cbe6"/>
<text x="75.8" y="292.8" font-size="4.2" font-weight="bold" text-anchor="middle" fill="#333">H</text>
<circle cx="65.2" cy="269.4" r="5" fill="#a9cbe6"/>
<text x="65.2" y="270.9" font-size="4.2" font-weight="bold" text-anchor="middle" fill="#333">G</text>
<circle cx="75.5" cy="247.9" r="5" fill="#a9cbe6"/>
<text x="75.5" y="249.4" font-size="4.2" font-weight="bold" text-anchor="middle" fill="#333">E</text>
<circle cx="219.9" cy="254.3" r="5" fill="#a8f0c4" fill-opacity="0.5"/>
<circle cx="223.0" cy="247.1" r="4" fill="#c0a8e2" fill-opacity="0.55"/>
<circle cx="226.1" cy="241.0" r="3.5" fill="#8ec0e0" fill-opacity="0.42"/>
<circle cx="229.8" cy="234.2" r="5" fill="#c0a8e2" fill-opacity="0.55"/>
<circle cx="235.3" cy="228.7" r="8.5" fill="#e6c47c" fill-opacity="0.55"/>
<circle cx="239.3" cy="222.6" r="6.5" fill="#a8b0b8" fill-opacity="0.5"/>
<circle cx="245.5" cy="218.5" r="4.5" fill="#e6c47c" fill-opacity="0.55"/>
<circle cx="251.6" cy="214.8" r="3.5" fill="#a8b0b8" fill-opacity="0.5"/>
<circle cx="258.4" cy="211.3" r="5" fill="#a8b0b8" fill-opacity="0.5"/>
<circle cx="264.9" cy="210.3" r="7.5" fill="#e6c47c" fill-opacity="0.55"/>
<circle cx="273.1" cy="207.7" r="4.5" fill="#a8f0c4" fill-opacity="0.5"/>
<circle cx="279.6" cy="207.3" r="3" fill="#c0a8e2" fill-opacity="0.55"/>
<circle cx="287.3" cy="207.4" r="4.5" fill="#c0a8e2" fill-opacity="0.55"/>
<circle cx="294.1" cy="209.5" r="13.5" fill="#8ec0e0" fill-opacity="0.42"/>
<circle cx="301.7" cy="210.3" r="3.5" fill="#c0a8e2" fill-opacity="0.55"/>
<circle cx="308.8" cy="213.4" r="6" fill="#8ec0e0" fill-opacity="0.42"/>
<circle cx="315.0" cy="216.5" r="4" fill="#8ec0e0" fill-opacity="0.42"/>
<circle cx="321.1" cy="221.2" r="4.5" fill="#e6c47c" fill-opacity="0.55"/>
<circle cx="326.2" cy="226.1" r="4" fill="#a8b0b8" fill-opacity="0.5"/>
<circle cx="331.3" cy="231.8" r="6.5" fill="#a8f0c4" fill-opacity="0.5"/>
<circle cx="335.8" cy="237.9" r="3" fill="#c0a8e2" fill-opacity="0.55"/>
<circle cx="338.9" cy="244.0" r="3" fill="#a8f0c4" fill-opacity="0.5"/>
<circle cx="341.5" cy="250.2" r="10" fill="#c0a8e2" fill-opacity="0.55"/>
<circle cx="343.6" cy="256.3" r="6" fill="#c0a8e2" fill-opacity="0.55"/>
<circle cx="219.4" cy="261.8" r="4.5" fill="#e6c47c" fill-opacity="0.55"/>
<circle cx="219.4" cy="269.4" r="5.5" fill="#c0a8e2" fill-opacity="0.55"/>
<circle cx="219.4" cy="276.9" r="4.5" fill="#a8f0c4" fill-opacity="0.5"/>
<circle cx="221.7" cy="283.6" r="6" fill="#a8b0b8" fill-opacity="0.5"/>
<circle cx="222.8" cy="291.0" r="5" fill="#c0a8e2" fill-opacity="0.55"/>
<circle cx="226.2" cy="298.2" r="4" fill="#a8f0c4" fill-opacity="0.5"/>
<circle cx="230.7" cy="303.8" r="7" fill="#a8b0b8" fill-opacity="0.5"/>
<circle cx="238.5" cy="307.2" r="9" fill="#a8f0c4" fill-opacity="0.5"/>
<circle cx="239.6" cy="314.0" r="7" fill="#88c8d0" fill-opacity="0.5"/>
<circle cx="245.3" cy="320.2" r="5" fill="#e6c47c" fill-opacity="0.55"/>
<circle cx="253.1" cy="320.7" r="7.5" fill="#a8b0b8" fill-opacity="0.5"/>
<circle cx="257.6" cy="326.3" r="6" fill="#8ec0e0" fill-opacity="0.42"/>
<circle cx="265.5" cy="328.5" r="6.5" fill="#a8f0c4" fill-opacity="0.5"/>
<circle cx="271.1" cy="330.8" r="3.5" fill="#a8b0b8" fill-opacity="0.5"/>
<circle cx="280.1" cy="330.8" r="9.5" fill="#e6c47c" fill-opacity="0.55"/>
<circle cx="286.8" cy="331.9" r="3" fill="#a8f0c4" fill-opacity="0.5"/>
<circle cx="294.7" cy="330.8" r="3.5" fill="#a8b0b8" fill-opacity="0.5"/>
<circle cx="301.4" cy="326.3" r="9.5" fill="#a8f0c4" fill-opacity="0.5"/>
<circle cx="308.2" cy="326.3" r="3.5" fill="#8ec0e0" fill-opacity="0.42"/>
<circle cx="314.9" cy="321.8" r="4" fill="#a8f0c4" fill-opacity="0.5"/>
<circle cx="321.2" cy="317.3" r="4" fill="#a8b0b8" fill-opacity="0.5"/>
<circle cx="326.2" cy="312.8" r="6.5" fill="#e6c47c" fill-opacity="0.55"/>
<circle cx="329.5" cy="306.1" r="8.5" fill="#a8b0b8" fill-opacity="0.5"/>
<circle cx="335.1" cy="301.6" r="4.5" fill="#8ec0e0" fill-opacity="0.42"/>
<circle cx="338.5" cy="294.8" r="4" fill="#c0a8e2" fill-opacity="0.55"/>
<circle cx="339.6" cy="285.8" r="9.5" fill="#8ec0e0" fill-opacity="0.42"/>
<circle cx="343.0" cy="281.3" r="5.5" fill="#8ec0e0" fill-opacity="0.42"/>
<circle cx="343.7" cy="272.4" r="5" fill="#e6c47c" fill-opacity="0.55"/>
<circle cx="345.3" cy="265.6" r="8" fill="#e6c47c" fill-opacity="0.55"/>
<circle cx="343.0" cy="260.0" r="5" fill="#c0a8e2" fill-opacity="0.55"/>
<path d="M327.7 323.1L337.1 334.3M328.5 322.4L338.1 333.5M329.5 321.5L339.6 332.6M330.4 320.7L340.3 331.4M331.1 320.0L340.6 329.9M332.1 319.1L341.6 328.7M332.8 318.4L343.4 328.7M333.5 317.6L344.4 327.9M334.4 316.6L344.5 325.9M335.3 315.6L346.6 325.5M336.1 314.8L346.6 323.8M336.7 314.0L348.2 323.5M337.4 313.1L348.6 322.1M338.1 312.2L349.5 321.0M338.7 311.4L350.4 320.1M339.4 310.5L351.4 319.2M340.1 309.5L352.0 317.7M340.8 308.5L352.3 316.2M341.5 307.5L354.0 315.7M342.0 306.6L354.6 314.5M342.8 305.4L353.9 312.1M343.3 304.5L350.8 308.9M343.9 303.4L356.4 310.3M344.5 302.3L357.1 309.0M345.2 301.1L357.8 307.5M345.8 299.9L358.7 306.2M346.4 298.7L359.8 304.9M346.9 297.5L360.4 303.4M347.4 296.3L360.8 301.9M347.9 295.2L361.4 300.6M348.3 294.0L359.5 298.2M348.8 292.7L362.8 297.6M349.3 291.4L363.3 296.1M349.7 290.1L361.6 293.8M350.0 289.0L364.3 293.2M350.4 287.6L364.5 291.5M350.7 286.3L364.5 289.8M351.0 285.1L365.2 288.4M351.3 283.9L363.1 286.5M351.5 282.8L366.2 285.7M351.7 281.7L365.6 284.3M352.0 280.3L366.3 282.6M352.2 279.2L366.4 281.3M352.3 277.9L365.0 279.5M352.5 276.8L361.8 277.9M352.6 275.4L367.3 276.8M352.7 274.1L365.9 275.1M352.8 273.1L367.4 273.9M352.9 271.6L367.6 272.2M352.9 270.3L367.6 270.6M352.9 269.0L367.8 269.0M352.9 267.7L367.6 267.4M352.9 266.7L367.4 266.2M352.8 265.3L367.7 264.5M341.5 230.5L351.0 224.4M340.8 229.5L350.1 223.3M340.2 228.5L349.5 222.0M339.6 227.7L348.8 221.1M339.0 226.9L348.5 219.9M338.4 226.2L347.7 219.1M337.8 225.4L347.2 218.0M337.1 224.4L344.8 218.1M336.2 223.4L345.0 216.0M318.7 208.5L323.6 200.3M317.3 207.7L323.2 197.5M316.2 207.1L321.2 198.0M314.8 206.3L319.8 196.7M313.4 205.6L318.4 195.4M311.9 204.9L316.5 195.0M310.5 204.3L315.1 193.8M309.1 203.7L313.5 193.1M307.9 203.2L311.7 193.5M306.8 202.8L310.8 191.9M305.5 202.3L309.2 191.8M304.5 202.0L308.2 190.9M300.6 200.8L303.9 188.4M299.4 200.5L302.5 188.4M298.3 200.2L301.1 188.3M297.1 200.0L299.6 188.4M296.1 199.8L298.3 188.4M294.7 199.5L296.9 187.2M293.3 199.3L295.2 187.2M291.9 199.1L293.6 187.1M290.9 198.9L292.4 186.5M289.5 198.8L290.8 186.4M288.2 198.6L289.3 185.9M286.8 198.5L287.6 185.7M285.3 198.5L285.8 187.1M276.1 198.7L275.1 186.8M274.8 198.8L273.5 187.1M273.8 198.9L272.4 187.4M272.5 199.1L270.9 187.2M271.2 199.3L269.5 188.8M270.0 199.5L268.0 188.4M268.7 199.7L266.5 188.8M259.9 202.0L255.5 189.0M258.4 202.6L254.0 190.4M257.1 203.0L252.3 190.4M256.0 203.5L250.8 190.7M254.8 204.0L249.5 191.3M253.8 204.4L248.1 191.7M252.4 205.0L246.5 192.4M250.9 205.8L244.9 193.6M249.5 206.5L243.0 194.2M248.2 207.2L241.5 195.1M247.2 207.8L240.8 196.7M246.1 208.4L239.1 196.7M245.0 209.0L237.8 197.4M244.1 209.7L236.5 197.9M242.9 210.4L235.9 200.0M241.7 211.3L233.6 199.9M240.4 212.2L233.6 203.0M239.3 213.0L230.8 201.9M238.1 213.9L229.8 203.5M236.9 214.9L228.4 204.7M235.7 216.0L226.5 205.5M234.6 216.9L225.7 207.2M233.5 218.0L223.9 207.9M232.6 218.9L222.9 209.1M231.6 219.9L221.9 210.5M230.6 221.0L220.8 211.8M229.5 222.1L219.3 213.0M228.5 223.2L218.0 214.3M227.6 224.4L217.2 216.0M226.6 225.6L215.6 217.0M225.7 226.8L214.7 218.7M224.9 227.9L220.0 224.4M224.0 229.1L213.0 221.6M223.4 230.1L212.0 222.6M222.7 231.2L211.3 224.0M221.9 232.5L210.4 225.5M221.3 233.5L209.4 226.7M220.6 234.7L208.8 228.1M219.9 236.0L207.6 229.4M219.3 237.0L208.1 231.3M217.3 241.4L207.7 237.3M216.8 242.7L206.8 238.7M216.4 243.6L206.4 239.8M215.9 245.0L206.1 241.5M215.5 246.2L205.3 242.8M215.1 247.4L204.8 244.1M214.7 248.7L205.5 246.0M214.4 249.7L203.9 246.7M214.0 251.1L204.9 248.7M213.7 252.2L203.3 249.7M213.5 253.3L205.6 251.5M213.2 254.4L203.2 252.2M213.0 255.6L203.9 253.9M212.7 256.9L202.0 255.0M212.5 258.3L201.8 256.6M212.3 259.7L201.8 258.3M212.2 260.8L201.3 259.5M212.1 262.0L201.4 260.9M211.9 263.3L202.1 262.5M211.8 264.6L200.9 263.9M211.8 265.8L203.6 265.4M211.7 267.1L200.9 266.8M211.7 268.1L202.5 268.0M211.7 269.0L197.9 269.0M211.7 270.0L198.7 270.2M211.7 271.3L198.5 271.7M211.8 272.4L197.9 273.1M211.9 273.8L198.5 274.7M212.0 275.0L198.6 276.2M212.1 276.4L198.7 277.8M212.2 277.7L203.4 278.8M212.4 278.8L200.8 280.5M212.6 280.1L199.2 282.2M212.7 281.1L199.7 283.4M213.0 282.4L201.1 284.7M213.2 283.5L200.1 286.2M213.5 284.9L200.6 287.9M213.9 286.3L201.0 289.5M214.1 287.4L201.2 290.9M214.5 288.8L201.4 292.6M214.9 289.9L202.7 293.7M215.2 291.0L205.9 294.1M215.6 292.3L203.3 296.6M216.1 293.5L203.5 298.2M216.5 294.6L203.8 299.6M217.0 295.9L204.4 301.1M217.4 296.8L210.5 299.8M217.9 297.9L205.7 303.3M218.5 299.2L206.2 304.9M219.1 300.4L211.6 304.1M219.5 301.3L207.3 307.7M220.1 302.4L207.8 309.0M220.7 303.5L209.2 310.0M221.4 304.7L209.9 311.4M221.9 305.6L210.0 312.8M222.5 306.6L211.5 313.6M223.3 307.7L211.7 315.3M224.0 308.9L212.9 316.4M224.8 310.0L213.7 317.9M225.6 311.0L215.2 318.7M226.4 312.1L215.3 320.7M227.2 313.2L217.4 321.1M228.1 314.3L217.8 322.9M228.9 315.2L218.6 324.1M229.6 316.0L219.4 325.1M230.5 316.9L220.5 326.2M231.3 317.8L221.2 327.4M232.0 318.5L222.1 328.3M232.9 319.4L223.5 329.0M233.6 320.1L224.5 329.7M234.4 320.8L225.1 330.9M235.3 321.7L226.1 331.9M236.1 322.4L227.3 332.4M236.9 323.1L228.1 333.7M238.0 324.0L229.5 334.5M239.1 324.9L230.8 335.6M240.0 325.5L231.7 336.6M240.8 326.1L235.5 333.5M243.8 328.2L236.2 339.9M245.2 329.1L237.6 341.4M246.7 330.0L239.2 342.9M248.2 330.8L241.2 343.7M249.4 331.5L242.7 344.2M250.8 332.2L244.3 345.2M252.2 332.9L246.4 345.1M253.8 333.6L248.6 345.3M255.1 334.1L250.0 346.3M256.3 334.7L251.2 347.7M257.7 335.2L252.9 348.1M259.0 335.6L254.2 349.2M260.1 336.0L255.6 349.7M261.4 336.4L257.3 349.7M262.9 336.9L259.0 350.8M264.3 337.3L260.6 351.2M265.9 337.7L262.4 352.3" stroke="#e6e6e6" stroke-width="1.1" fill="none"/>
<path d="M327.7 323.1L337.1 334.3M328.5 322.4L338.1 333.5M329.5 321.5L339.6 332.6M330.4 320.7L340.3 331.4M331.1 320.0L340.6 329.9M332.1 319.1L341.6 328.7M332.8 318.4L343.4 328.7M333.5 317.6L344.4 327.9M334.4 316.6L344.5 325.9M335.3 315.6L346.6 325.5M336.1 314.8L346.6 323.8M336.7 314.0L348.2 323.5M337.4 313.1L348.6 322.1M338.1 312.2L349.5 321.0M338.7 311.4L350.4 320.1M339.4 310.5L351.4 319.2M340.1 309.5L352.0 317.7M340.8 308.5L352.3 316.2M341.5 307.5L354.0 315.7M342.0 306.6L354.6 314.5M342.8 305.4L353.9 312.1M343.3 304.5L350.8 308.9M343.9 303.4L356.4 310.3M344.5 302.3L357.1 309.0M345.2 301.1L357.8 307.5M345.8 299.9L358.7 306.2M346.4 298.7L359.8 304.9M346.9 297.5L360.4 303.4M347.4 296.3L360.8 301.9M347.9 295.2L361.4 300.6M348.3 294.0L359.5 298.2M348.8 292.7L362.8 297.6M349.3 291.4L363.3 296.1M349.7 290.1L361.6 293.8M350.0 289.0L364.3 293.2M350.4 287.6L364.5 291.5M350.7 286.3L364.5 289.8M351.0 285.1L365.2 288.4M351.3 283.9L363.1 286.5M351.5 282.8L366.2 285.7M351.7 281.7L365.6 284.3M352.0 280.3L366.3 282.6M352.2 279.2L366.4 281.3M352.3 277.9L365.0 279.5M352.5 276.8L361.8 277.9M352.6 275.4L367.3 276.8M352.7 274.1L365.9 275.1M352.8 273.1L367.4 273.9M352.9 271.6L367.6 272.2M352.9 270.3L367.6 270.6M352.9 269.0L367.8 269.0M352.9 267.7L367.6 267.4M352.9 266.7L367.4 266.2M352.8 265.3L367.7 264.5M341.5 230.5L351.0 224.4M340.8 229.5L350.1 223.3M340.2 228.5L349.5 222.0M339.6 227.7L348.8 221.1M339.0 226.9L348.5 219.9M338.4 226.2L347.7 219.1M337.8 225.4L347.2 218.0M337.1 224.4L344.8 218.1M336.2 223.4L345.0 216.0M318.7 208.5L323.6 200.3M317.3 207.7L323.2 197.5M316.2 207.1L321.2 198.0M314.8 206.3L319.8 196.7M313.4 205.6L318.4 195.4M311.9 204.9L316.5 195.0M310.5 204.3L315.1 193.8M309.1 203.7L313.5 193.1M307.9 203.2L311.7 193.5M306.8 202.8L310.8 191.9M305.5 202.3L309.2 191.8M304.5 202.0L308.2 190.9M300.6 200.8L303.9 188.4M299.4 200.5L302.5 188.4M298.3 200.2L301.1 188.3M297.1 200.0L299.6 188.4M296.1 199.8L298.3 188.4M294.7 199.5L296.9 187.2M293.3 199.3L295.2 187.2M291.9 199.1L293.6 187.1M290.9 198.9L292.4 186.5M289.5 198.8L290.8 186.4M288.2 198.6L289.3 185.9M286.8 198.5L287.6 185.7M285.3 198.5L285.8 187.1M276.1 198.7L275.1 186.8M274.8 198.8L273.5 187.1M273.8 198.9L272.4 187.4M272.5 199.1L270.9 187.2M271.2 199.3L269.5 188.8M270.0 199.5L268.0 188.4M268.7 199.7L266.5 188.8M259.9 202.0L255.5 189.0M258.4 202.6L254.0 190.4M257.1 203.0L252.3 190.4M256.0 203.5L250.8 190.7M254.8 204.0L249.5 191.3M253.8 204.4L248.1 191.7M252.4 205.0L246.5 192.4M250.9 205.8L244.9 193.6M249.5 206.5L243.0 194.2M248.2 207.2L241.5 195.1M247.2 207.8L240.8 196.7M246.1 208.4L239.1 196.7M245.0 209.0L237.8 197.4M244.1 209.7L236.5 197.9M242.9 210.4L235.9 200.0M241.7 211.3L233.6 199.9M240.4 212.2L233.6 203.0M239.3 213.0L230.8 201.9M238.1 213.9L229.8 203.5M236.9 214.9L228.4 204.7M235.7 216.0L226.5 205.5M234.6 216.9L225.7 207.2M233.5 218.0L223.9 207.9M232.6 218.9L222.9 209.1M231.6 219.9L221.9 210.5M230.6 221.0L220.8 211.8M229.5 222.1L219.3 213.0M228.5 223.2L218.0 214.3M227.6 224.4L217.2 216.0M226.6 225.6L215.6 217.0M225.7 226.8L214.7 218.7M224.9 227.9L220.0 224.4M224.0 229.1L213.0 221.6M223.4 230.1L212.0 222.6M222.7 231.2L211.3 224.0M221.9 232.5L210.4 225.5M221.3 233.5L209.4 226.7M220.6 234.7L208.8 228.1M219.9 236.0L207.6 229.4M219.3 237.0L208.1 231.3M217.3 241.4L207.7 237.3M216.8 242.7L206.8 238.7M216.4 243.6L206.4 239.8M215.9 245.0L206.1 241.5M215.5 246.2L205.3 242.8M215.1 247.4L204.8 244.1M214.7 248.7L205.5 246.0M214.4 249.7L203.9 246.7M214.0 251.1L204.9 248.7M213.7 252.2L203.3 249.7M213.5 253.3L205.6 251.5M213.2 254.4L203.2 252.2M213.0 255.6L203.9 253.9M212.7 256.9L202.0 255.0M212.5 258.3L201.8 256.6M212.3 259.7L201.8 258.3M212.2 260.8L201.3 259.5M212.1 262.0L201.4 260.9M211.9 263.3L202.1 262.5M211.8 264.6L200.9 263.9M211.8 265.8L203.6 265.4M211.7 267.1L200.9 266.8M211.7 268.1L202.5 268.0M211.7 269.0L197.9 269.0M211.7 270.0L198.7 270.2M211.7 271.3L198.5 271.7M211.8 272.4L197.9 273.1M211.9 273.8L198.5 274.7M212.0 275.0L198.6 276.2M212.1 276.4L198.7 277.8M212.2 277.7L203.4 278.8M212.4 278.8L200.8 280.5M212.6 280.1L199.2 282.2M212.7 281.1L199.7 283.4M213.0 282.4L201.1 284.7M213.2 283.5L200.1 286.2M213.5 284.9L200.6 287.9M213.9 286.3L201.0 289.5M214.1 287.4L201.2 290.9M214.5 288.8L201.4 292.6M214.9 289.9L202.7 293.7M215.2 291.0L205.9 294.1M215.6 292.3L203.3 296.6M216.1 293.5L203.5 298.2M216.5 294.6L203.8 299.6M217.0 295.9L204.4 301.1M217.4 296.8L210.5 299.8M217.9 297.9L205.7 303.3M218.5 299.2L206.2 304.9M219.1 300.4L211.6 304.1M219.5 301.3L207.3 307.7M220.1 302.4L207.8 309.0M220.7 303.5L209.2 310.0M221.4 304.7L209.9 311.4M221.9 305.6L210.0 312.8M222.5 306.6L211.5 313.6M223.3 307.7L211.7 315.3M224.0 308.9L212.9 316.4M224.8 310.0L213.7 317.9M225.6 311.0L215.2 318.7M226.4 312.1L215.3 320.7M227.2 313.2L217.4 321.1M228.1 314.3L217.8 322.9M228.9 315.2L218.6 324.1M229.6 316.0L219.4 325.1M230.5 316.9L220.5 326.2M231.3 317.8L221.2 327.4M232.0 318.5L222.1 328.3M232.9 319.4L223.5 329.0M233.6 320.1L224.5 329.7M234.4 320.8L225.1 330.9M235.3 321.7L226.1 331.9M236.1 322.4L227.3 332.4M236.9 323.1L228.1 333.7M238.0 324.0L229.5 334.5M239.1 324.9L230.8 335.6M240.0 325.5L231.7 336.6M240.8 326.1L235.5 333.5M243.8 328.2L236.2 339.9M245.2 329.1L237.6 341.4M246.7 330.0L239.2 342.9M248.2 330.8L241.2 343.7M249.4 331.5L242.7 344.2M250.8 332.2L244.3 345.2M252.2 332.9L246.4 345.1M253.8 333.6L248.6 345.3M255.1 334.1L250.0 346.3M256.3 334.7L251.2 347.7M257.7 335.2L252.9 348.1M259.0 335.6L254.2 349.2M260.1 336.0L255.6 349.7M261.4 336.4L257.3 349.7M262.9 336.9L259.0 350.8M264.3 337.3L260.6 351.2M265.9 337.7L262.4 352.3" stroke="#c2c2c2" stroke-width="0.3" fill="none"/>
<path d="M284.8 339.6L285.2 352.0M286.8 339.5L287.7 352.8M289.1 339.3L289.8 347.2M291.3 339.0L293.1 352.9M293.2 338.8L295.2 351.6M295.1 338.4L297.5 351.5M298.2 337.8L301.2 351.0M300.5 337.2L302.9 346.3M302.2 336.7L305.9 349.3M303.8 336.2L307.9 349.1M305.8 335.6L310.6 349.4M307.6 334.9L312.6 348.0M309.3 334.2L314.6 347.0M311.0 333.5L316.8 346.5M312.4 332.8L318.7 346.1M314.2 332.0L321.0 345.3M315.7 331.2L322.4 343.8M317.5 330.2L325.0 343.2M319.4 329.0L327.2 341.6M320.9 328.1L328.7 340.2M322.5 327.1L330.7 339.0M324.1 325.9L332.5 337.2M330.9 217.8L339.1 209.2M329.7 216.6L337.5 208.0M328.4 215.5L335.5 207.2M326.8 214.2L333.5 206.0M325.6 213.2L332.4 204.3M324.1 212.1L331.0 202.8M322.9 211.2L329.1 202.4M321.6 210.4L326.8 202.6M268.8 338.3L267.7 344.3M270.6 338.6L269.6 344.8M272.7 338.9L270.9 351.8M275.0 339.2L273.5 353.7M276.9 339.4L275.8 354.2M279.0 339.5L278.3 354.4M280.8 339.6L280.6 349.6M282.8 339.6L282.9 354.0" stroke="#c8c8c8" stroke-width="0.55" fill="none"/>
<path d="M305.5 348.0L305.9 349.3M313.4 344.1L314.6 347.0M315.2 343.0L316.8 346.5M320.4 340.1L322.4 343.8M324.3 341.9L325.0 343.2M328.0 339.0L328.7 340.2M330.7 334.8L332.5 337.2M335.7 332.6L337.1 334.3M338.0 327.2L340.6 329.9M340.0 327.1L341.6 328.7M343.5 325.0L344.5 325.9M343.5 321.1L346.6 323.8M352.5 314.7L354.0 315.7M357.0 300.3L360.8 301.9M363.2 289.5L364.5 289.8M348.7 224.2L350.1 223.3M337.8 210.5L339.1 209.2M307.9 191.8L308.2 190.9M290.6 188.4L290.8 186.4M269.7 189.5L269.5 188.8M266.9 191.0L266.5 188.8M240.1 198.3L239.1 196.7M216.1 217.4L215.6 217.0M221.2 225.2L220.0 224.4M212.0 224.5L211.3 224.0M208.3 229.8L207.6 229.4M207.4 241.9L206.1 241.5M207.0 246.4L205.5 246.0M205.5 254.2L203.9 253.9M201.5 266.8L200.9 266.8M198.9 273.0L197.9 273.1M203.1 289.0L201.0 289.5M207.0 292.4L202.7 293.7M208.1 296.5L203.5 298.2M213.1 303.3L211.6 304.1M209.0 308.4L207.8 309.0M216.8 315.8L213.7 317.9M218.7 316.1L215.2 318.7M222.0 326.6L221.2 327.4M227.2 330.7L226.1 331.9M230.5 330.8L228.1 333.7M231.9 331.5L229.5 334.5M244.0 338.6L241.2 343.7M258.5 345.7L257.3 349.7M259.6 348.6L259.0 350.8M273.6 353.1L273.5 353.7M275.8 353.6L275.8 354.2" stroke="#3a6fd0" stroke-width="0.8" fill="none"/>
<path d="M289.7 346.0L289.8 347.2M300.9 349.7L301.2 351.0M302.6 345.2L302.9 346.3M306.6 345.1L307.9 349.1M309.2 345.2L310.6 349.4M317.4 343.2L318.7 346.1M319.2 341.8L321.0 345.3M326.1 339.8L327.2 341.6M329.3 336.9L330.7 339.0M336.8 332.0L338.1 333.5M341.6 325.2L344.4 327.9M345.8 319.9L348.6 322.1M346.6 318.8L349.5 321.0M348.1 318.4L350.4 320.1M350.7 318.7L351.4 319.2M348.5 315.3L352.0 317.7M349.5 314.3L352.3 316.2M350.6 310.1L353.9 312.1M347.7 307.1L350.8 308.9M353.9 309.0L356.4 310.3M355.7 308.3L357.1 309.0M358.4 304.3L359.8 304.9M356.7 301.8L360.4 303.4M358.4 297.8L359.5 298.2M362.4 292.7L364.3 293.2M363.7 291.3L364.5 291.5M362.2 286.3L363.1 286.5M365.1 285.5L366.2 285.7M364.5 284.1L365.6 284.3M365.0 282.4L366.3 282.6M363.7 279.3L365.0 279.5M359.7 277.6L361.8 277.9M365.2 276.6L367.3 276.8M364.3 275.0L365.9 275.1M365.7 273.8L367.4 273.9M366.4 272.2L367.6 272.2M366.0 270.5L367.6 270.6M366.3 269.0L367.8 269.0M366.6 266.2L367.4 266.2M366.6 264.6L367.7 264.5M350.0 225.0L351.0 224.4M347.1 222.3L348.8 221.1M347.1 220.9L348.5 219.9M347.0 219.7L347.7 219.1M345.6 219.4L347.2 218.0M344.1 216.8L345.0 216.0M336.1 209.5L337.5 208.0M334.7 208.2L335.5 207.2M328.5 203.2L329.1 202.4M322.5 198.7L323.2 197.5M320.7 199.0L321.2 198.0M319.4 197.6L319.8 196.7M314.5 195.0L315.1 193.8M313.2 193.8L313.5 193.1M300.6 190.4L301.1 188.3M299.2 190.0L299.6 188.4M298.0 190.0L298.3 188.4M296.8 187.8L296.9 187.2M287.5 187.5L287.6 185.7M273.7 188.9L273.5 187.1M272.5 188.4L272.4 187.4M271.0 188.3L270.9 187.2M254.7 192.2L254.0 190.4M251.6 192.5L250.8 190.7M250.2 192.9L249.5 191.3M246.9 193.3L246.5 192.4M241.8 195.7L241.5 195.1M237.1 198.9L236.5 197.9M234.4 201.0L233.6 199.9M234.8 204.5L233.6 203.0M231.7 203.1L230.8 201.9M230.6 204.6L229.8 203.5M218.6 214.8L218.0 214.3M218.9 217.3L217.2 216.0M216.0 219.7L214.7 218.7M211.7 226.3L210.4 225.5M209.6 232.1L208.1 231.3M208.9 237.8L207.7 237.3M207.6 239.0L206.8 238.7M207.0 240.0L206.4 239.8M204.5 252.5L203.2 252.2M203.5 256.9L201.8 256.6M202.0 259.6L201.3 259.5M203.1 261.1L201.4 260.9M205.3 265.5L203.6 265.4M203.9 268.0L202.5 268.0M200.8 270.2L198.7 270.2M199.6 271.7L198.5 271.7M200.2 274.6L198.5 274.7M200.2 276.1L198.6 276.2M200.8 277.6L198.7 277.8M204.5 278.7L203.4 278.8M202.8 280.2L200.8 280.5M200.9 281.9L199.2 282.2M201.7 283.0L199.7 283.4M202.0 284.5L201.1 284.7M202.6 287.4L200.6 287.9M203.0 290.4L201.2 290.9M205.2 291.5L201.4 292.6M210.7 292.5L205.9 294.1M206.9 295.3L203.3 296.6M205.0 299.1L203.8 299.6M209.5 299.0L204.4 301.1M213.4 298.6L210.5 299.8M207.3 302.6L205.7 303.3M209.1 303.6L206.2 304.9M211.2 305.7L207.3 307.7M214.2 307.2L209.2 310.0M211.4 310.5L209.9 311.4M213.4 310.8L210.0 312.8M214.3 311.8L211.5 313.6M213.0 314.5L211.7 315.3M216.4 314.0L212.9 316.4M219.2 317.7L215.3 320.7M219.3 321.6L217.8 322.9M221.4 321.7L218.6 324.1M222.2 322.6L219.4 325.1M224.7 322.2L220.5 326.2M225.7 324.7L222.1 328.3M226.5 325.9L223.5 329.0M225.3 328.9L224.5 329.7M228.4 327.3L225.1 330.9M228.4 331.2L227.3 332.4M234.3 331.1L230.8 335.6M234.5 333.0L231.7 336.6M238.8 328.9L235.5 333.5M238.9 335.8L236.2 339.9M238.5 340.0L237.6 341.4M241.1 339.6L239.2 342.9M243.4 342.8L242.7 344.2M246.8 340.1L244.3 345.2M248.5 340.7L246.4 345.1M249.4 343.4L248.6 345.3M251.5 342.6L250.0 346.3M251.6 346.7L251.2 347.7M255.0 342.6L252.9 348.1M255.5 345.5L254.2 349.2M256.0 348.5L255.6 349.7M262.2 345.4L260.6 351.2M262.9 350.2L262.4 352.3M271.1 350.4L270.9 351.8M278.4 353.2L278.3 354.4M280.6 348.9L280.6 349.6M282.9 352.8L282.9 354.0" stroke="#e8383a" stroke-width="0.8" fill="none"/>
<path d="M345.0 238.4A69.8 69.8 0 1 0 351.4 259.3" fill="none" stroke="#404040" stroke-width="1.4"/>
<path d="M281.7 269.5L287.8 242.5M281.7 269.5L306.7 257.6M281.7 269.5L306.9 281.0M281.7 269.5L287.8 296.5M281.7 269.5L264.6 291.3M281.7 269.5L254.0 269.4M281.7 269.5L264.3 247.9" stroke="#f4f4f4" stroke-width="0.4"/>
<circle cx="287.8" cy="242.5" r="5" fill="#a9cbe6"/>
<text x="287.8" y="244.0" font-size="4.2" font-weight="bold" text-anchor="middle" fill="#333">C</text>
<circle cx="306.7" cy="257.6" r="5" fill="#a9cbe6"/>
<text x="306.7" y="259.1" font-size="4.2" font-weight="bold" text-anchor="middle" fill="#333">B</text>
<circle cx="306.9" cy="281.0" r="5" fill="#a9cbe6"/>
<text x="306.9" y="282.5" font-size="4.2" font-weight="bold" text-anchor="middle" fill="#333">O</text>
<circle cx="287.8" cy="296.5" r="5" fill="#a9cbe6"/>
<text x="287.8" y="298.0" font-size="4.2" font-weight="bold" text-anchor="middle" fill="#333">M</text>
<circle cx="264.6" cy="291.3" r="5" fill="#a9cbe6"/>
<text x="264.6" y="292.8" font-size="4.2" font-weight="bold" text-anchor="middle" fill="#333">H</text>
<circle cx="254.0" cy="269.4" r="5" fill="#a9cbe6"/>
<text x="254.0" y="270.9" font-size="4.2" font-weight="bold" text-anchor="middle" fill="#333">G</text>
<circle cx="264.3" cy="247.9" r="5" fill="#a9cbe6"/>
<text x="264.3" y="249.4" font-size="4.2" font-weight="bold" text-anchor="middle" fill="#333">E</text>
<circle cx="408.7" cy="254.3" r="5" fill="#a8f0c4" fill-opacity="0.5"/>
<circle cx="411.8" cy="247.1" r="4" fill="#c0a8e2" fill-opacity="0.55"/>
<circle cx="414.9" cy="241.0" r="3.5" fill="#8ec0e0" fill-opacity="0.42"/>
<circle cx="418.6" cy="234.2" r="5" fill="#c0a8e2" fill-opacity="0.55"/>
<circle cx="424.1" cy="228.7" r="8.5" fill="#e6c47c" fill-opacity="0.55"/>
<circle cx="428.1" cy="222.6" r="6.5" fill="#a8b0b8" fill-opacity="0.5"/>
<circle cx="434.3" cy="218.5" r="4.5" fill="#e6c47c" fill-opacity="0.55"/>
<circle cx="440.4" cy="214.8" r="3.5" fill="#a8b0b8" fill-opacity="0.5"/>
<circle cx="447.2" cy="211.3" r="5" fill="#a8b0b8" fill-opacity="0.5"/>
<circle cx="453.7" cy="210.3" r="7.5" fill="#e6c47c" fill-opacity="0.55"/>
<circle cx="461.9" cy="207.7" r="4.5" fill="#a8f0c4" fill-opacity="0.5"/>
<circle cx="468.4" cy="207.3" r="3" fill="#c0a8e2" fill-opacity="0.55"/>
<circle cx="476.1" cy="207.4" r="4.5" fill="#c0a8e2" fill-opacity="0.55"/>
<circle cx="482.9" cy="209.5" r="13.5" fill="#8ec0e0" fill-opacity="0.42"/>
<circle cx="490.5" cy="210.3" r="3.5" fill="#c0a8e2" fill-opacity="0.55"/>
<circle cx="497.6" cy="213.4" r="6" fill="#8ec0e0" fill-opacity="0.42"/>
<circle cx="503.8" cy="216.5" r="4" fill="#8ec0e0" fill-opacity="0.42"/>
<circle cx="509.9" cy="221.2" r="4.5" fill="#e6c47c" fill-opacity="0.55"/>
<circle cx="515.0" cy="226.1" r="4" fill="#a8b0b8" fill-opacity="0.5"/>
<circle cx="520.1" cy="231.8" r="6.5" fill="#a8f0c4" fill-opacity="0.5"/>
<circle cx="524.6" cy="237.9" r="3" fill="#c0a8e2" fill-opacity="0.55"/>
<circle cx="527.7" cy="244.0" r="3" fill="#a8f0c4" fill-opacity="0.5"/>
<circle cx="530.3" cy="250.2" r="10" fill="#c0a8e2" fill-opacity="0.55"/>
<circle cx="532.4" cy="256.3" r="6" fill="#c0a8e2" fill-opacity="0.55"/>
<circle cx="408.2" cy="261.8" r="4.5" fill="#e6c47c" fill-opacity="0.55"/>
<circle cx="408.2" cy="269.4" r="5.5" fill="#c0a8e2" fill-opacity="0.55"/>
<circle cx="408.2" cy="276.9" r="4.5" fill="#a8f0c4" fill-opacity="0.5"/>
<circle cx="410.5" cy="283.6" r="6" fill="#a8b0b8" fill-opacity="0.5"/>
<circle cx="411.6" cy="291.0" r="5" fill="#c0a8e2" fill-opacity="0.55"/>
<circle cx="415.0" cy="298.2" r="4" fill="#a8f0c4" fill-opacity="0.5"/>
<circle cx="419.5" cy="303.8" r="7" fill="#a8b0b8" fill-opacity="0.5"/>
<circle cx="427.3" cy="307.2" r="9" fill="#a8f0c4" fill-opacity="0.5"/>
<circle cx="428.4" cy="314.0" r="7" fill="#88c8d0" fill-opacity="0.5"/>
<circle cx="434.1" cy="320.2" r="5" fill="#e6c47c" fill-opacity="0.55"/>
<circle cx="441.9" cy="320.7" r="7.5" fill="#a8b0b8" fill-opacity="0.5"/>
<circle cx="446.4" cy="326.3" r="6" fill="#8ec0e0" fill-opacity="0.42"/>
<circle cx="454.3" cy="328.5" r="6.5" fill="#a8f0c4" fill-opacity="0.5"/>
<circle cx="459.9" cy="330.8" r="3.5" fill="#a8b0b8" fill-opacity="0.5"/>
<circle cx="468.9" cy="330.8" r="9.5" fill="#e6c47c" fill-opacity="0.55"/>
<circle cx="475.6" cy="331.9" r="3" fill="#a8f0c4" fill-opacity="0.5"/>
<circle cx="483.5" cy="330.8" r="3.5" fill="#a8b0b8" fill-opacity="0.5"/>
<circle cx="490.2" cy="326.3" r="9.5" fill="#a8f0c4" fill-opacity="0.5"/>
<circle cx="497.0" cy="326.3" r="3.5" fill="#8ec0e0" fill-opacity="0.42"/>
<circle cx="503.7" cy="321.8" r="4" fill="#a8f0c4" fill-opacity="0.5"/>
<circle cx="510.0" cy="317.3" r="4" fill="#a8b0b8" fill-opacity="0.5"/>
<circle cx="515.0" cy="312.8" r="6.5" fill="#e6c47c" fill-opacity="0.55"/>
<circle cx="518.3" cy="306.1" r="8.5" fill="#a8b0b8" fill-opacity="0.5"/>
<circle cx="523.9" cy="301.6" r="4.5" fill="#8ec0e0" fill-opacity="0.42"/>
<circle cx="527.3" cy="294.8" r="4" fill="#c0a8e2" fill-opacity="0.55"/>
<circle cx="528.4" cy="285.8" r="9.5" fill="#8ec0e0" fill-opacity="0.42"/>
<circle cx="531.8" cy="281.3" r="5.5" fill="#8ec0e0" fill-opacity="0.42"/>
<circle cx="532.5" cy="272.4" r="5" fill="#e6c47c" fill-opacity="0.55"/>
<circle cx="534.1" cy="265.6" r="8" fill="#e6c47c" fill-opacity="0.55"/>
<circle cx="531.8" cy="260.0" r="5" fill="#c0a8e2" fill-opacity="0.55"/>
<path d="M516.5 323.1L525.8 334.2M517.3 322.4L526.5 333.0M518.2 321.6L527.7 332.2M519.1 320.8L528.7 331.3M519.9 320.0L529.5 330.0M520.9 319.1L530.9 329.1M521.8 318.1L532.0 327.9M522.8 317.1L533.5 327.0M523.8 316.0L534.3 325.4M524.7 314.9L535.5 324.1M525.6 313.9L537.1 323.4M526.4 312.8L538.1 322.1M527.2 311.9L538.4 320.5M528.0 310.8L539.6 319.3M528.8 309.7L536.9 315.5M529.5 308.7L541.1 316.7M530.2 307.6L542.7 315.7M530.9 306.6L543.0 314.3M531.4 305.7L543.1 312.7M532.1 304.5L544.5 311.7M532.7 303.5L545.3 310.6M533.2 302.6L546.2 309.7M533.8 301.4L547.0 308.2M534.4 300.2L546.6 306.3M534.9 299.2L548.1 305.4M535.5 298.0L548.9 304.0M535.9 297.0L548.7 302.6M536.4 295.8L549.5 301.2M536.8 294.8L550.1 300.0M537.3 293.5L549.9 298.1M537.7 292.4L545.3 295.1M538.1 291.4L552.2 296.1M538.5 290.0L551.9 294.2M538.9 288.8L548.4 291.6M539.2 287.8L548.0 290.2M539.5 286.4L553.8 290.1M539.9 285.0L553.9 288.3M540.1 283.9L554.0 286.9M540.3 282.8L554.8 285.7M540.6 281.6L554.9 284.2M540.8 280.5L554.7 282.8M541.0 279.2L555.0 281.3M541.1 278.1L555.9 280.0M541.3 276.8L555.6 278.4M541.4 275.3L555.7 276.6M541.5 274.3L556.0 275.3M541.6 273.0L556.5 273.8M541.6 271.7L554.6 272.2M541.7 270.7L556.3 271.1M541.7 269.3L551.0 269.3M541.7 267.9L555.6 267.6M541.7 266.8L556.1 266.4M541.6 265.5L556.4 264.8M530.3 230.5L539.7 224.5M529.8 229.7L539.2 223.4M529.2 229.0L538.3 222.7M528.5 228.0L537.7 221.4M528.0 227.2L537.6 220.2M527.4 226.4L536.6 219.4M526.7 225.5L535.9 218.4M526.2 224.8L534.8 217.8M525.5 224.1L534.4 216.8M524.9 223.3L533.3 216.2M507.5 208.5L513.3 198.7M506.4 207.8L511.8 198.4M505.0 207.1L510.4 197.2M503.9 206.5L509.1 196.6M502.7 205.9L507.8 195.6M501.7 205.4L506.8 194.7M500.2 204.7L502.8 199.0M498.7 204.0L503.2 193.4M497.3 203.4L501.5 192.9M496.1 203.0L500.1 192.2M495.0 202.6L498.7 192.4M493.8 202.1L497.2 191.9M492.7 201.8L496.1 190.9M489.4 200.8L491.7 192.1M488.4 200.6L491.2 189.3M487.1 200.2L489.9 188.2M486.0 200.0L488.2 189.6M484.8 199.7L486.7 190.2M483.7 199.5L486.0 186.9M482.6 199.3L484.7 187.0M481.2 199.1L482.9 186.9M480.0 199.0L481.5 186.5M478.7 198.8L480.0 186.7M477.6 198.7L478.8 186.1M476.3 198.6L477.2 185.8M474.9 198.5L475.6 186.5M464.9 198.7L464.0 187.8M463.6 198.8L462.3 187.3M462.1 199.0L460.7 187.3M460.8 199.1L459.2 187.9M459.8 199.3L458.0 188.3M458.4 199.6L456.4 188.5M457.1 199.8L454.9 188.9M448.7 202.0L444.4 189.1M447.2 202.6L443.5 192.3M445.9 203.0L441.2 190.6M444.4 203.6L439.2 190.8M443.4 204.1L438.0 191.5M442.1 204.6L436.6 192.4M441.0 205.1L435.4 193.1M440.0 205.6L434.2 193.9M438.7 206.3L432.4 194.1M437.4 206.9L430.9 195.0M436.1 207.7L430.6 197.9M435.1 208.3L428.3 196.7M433.8 209.1L427.0 198.1M432.5 209.9L425.0 198.3M431.6 210.5L424.1 199.3M430.5 211.2L423.0 200.5M429.4 212.0L421.3 200.9M428.1 213.0L419.9 202.2M427.0 213.8L418.8 203.5M425.9 214.8L418.2 205.5M425.0 215.6L416.2 205.5M424.1 216.3L415.1 206.2M423.3 217.1L413.9 206.9M422.1 218.1L413.3 209.0M421.2 219.0L411.6 209.4M420.4 219.8L410.6 210.3M419.3 221.0L409.4 211.8M418.4 222.0L408.2 212.8M417.6 222.9L412.0 218.1M416.7 224.0L406.3 215.4M415.7 225.2L405.1 216.7M414.8 226.4L403.9 218.1M414.0 227.5L402.9 219.4M413.2 228.6L401.7 220.7M412.5 229.6L401.0 221.8M411.7 230.8L400.2 223.3M411.1 231.8L399.7 224.8M410.4 233.0L398.8 226.1M409.7 234.1L397.9 227.4M409.2 235.1L397.0 228.5M408.6 236.1L403.2 233.3M408.0 237.4L396.3 231.5M406.1 241.4L396.6 237.4M405.7 242.3L396.6 238.6M405.2 243.6L395.1 239.7M404.9 244.6L395.1 241.0M404.5 245.5L395.3 242.3M404.1 246.7L394.5 243.6M403.8 247.7L394.0 244.6M403.4 248.9L393.1 245.9M403.1 250.0L393.1 247.2M402.8 251.1L392.4 248.4M402.5 252.2L391.9 249.6M402.2 253.5L391.6 251.1M402.0 254.5L394.1 252.9M401.7 256.0L391.8 254.1M401.5 257.3L391.6 255.6M401.3 258.4L390.5 256.7M401.1 259.6L391.2 258.3M401.0 261.0L391.1 259.9M400.8 262.3L390.3 261.3M400.7 263.6L390.0 262.7M400.6 264.9L389.9 264.3M400.6 266.3L390.8 265.9M400.5 267.3L390.3 267.0M400.5 268.6L389.7 268.6M400.5 269.0L386.5 269.0M400.5 270.3L387.1 270.6M400.6 271.7L392.7 272.0M400.6 272.7L387.8 273.4M400.7 273.8L390.7 274.5M400.8 275.0L387.5 276.1M400.9 276.4L387.1 277.9M401.0 277.6L387.2 279.3M401.2 278.6L388.5 280.3M401.3 279.6L392.0 281.0M401.5 280.8L388.2 283.0M401.7 282.1L388.7 284.5M402.0 283.4L389.1 286.1M402.3 284.7L388.7 287.8M402.5 285.7L390.1 288.8M402.8 286.9L390.2 290.2M403.1 288.0L390.6 291.5M403.4 289.0L390.0 293.0M403.7 290.1L390.6 294.2M404.0 291.1L391.1 295.3M404.5 292.4L392.2 296.7M405.0 293.7L393.4 298.0M405.4 294.8L392.7 299.8M405.8 295.9L393.0 301.2M406.4 297.3L393.7 302.8M407.0 298.5L394.4 304.3M407.5 299.7L396.2 305.2M408.1 300.9L396.0 307.1M408.8 302.2L399.5 307.1M409.4 303.3L397.7 309.9M410.0 304.3L397.9 311.3M410.5 305.3L398.9 312.3M411.2 306.3L399.4 313.7M411.8 307.3L400.3 314.8M412.5 308.4L401.4 315.9M413.2 309.4L402.2 317.2M414.0 310.6L403.5 318.3M414.7 311.4L403.5 319.8M415.3 312.3L404.7 320.5M416.0 313.1L405.5 321.5M416.8 314.1L406.7 322.5M417.6 315.1L408.4 323.0M418.5 316.1L408.8 324.8M419.2 316.9L409.1 326.2M420.2 317.9L410.2 327.5M421.0 318.7L411.3 328.4M421.8 319.5L412.4 329.2M422.5 320.2L413.0 330.3M423.5 321.1L415.2 330.2M424.4 321.9L416.2 331.2M425.2 322.7L416.8 332.5M426.0 323.3L417.7 333.4M427.0 324.1L418.5 334.8M427.8 324.8L420.3 334.5M428.6 325.4L420.9 335.7M429.8 326.2L422.1 336.8M432.6 328.2L424.6 340.6M434.1 329.1L426.4 341.6M435.2 329.8L427.6 342.7M436.7 330.6L430.2 342.3M438.2 331.4L431.2 344.6M439.5 332.1L432.9 345.2M440.7 332.7L434.4 345.9M442.1 333.4L439.0 340.3M443.3 333.9L437.7 346.9M444.7 334.5L439.5 347.3M446.3 335.1L441.1 348.8M447.6 335.6L442.7 349.4M449.0 336.1L444.5 349.7M450.2 336.4L446.0 350.0M451.7 336.9L448.7 347.1M452.9 337.2L449.1 351.1M454.5 337.6L451.1 352.0" stroke="#e6e6e6" stroke-width="1.1" fill="none"/>
<path d="M516.5 323.1L525.8 334.2M517.3 322.4L526.5 333.0M518.2 321.6L527.7 332.2M519.1 320.8L528.7 331.3M519.9 320.0L529.5 330.0M520.9 319.1L530.9 329.1M521.8 318.1L532.0 327.9M522.8 317.1L533.5 327.0M523.8 316.0L534.3 325.4M524.7 314.9L535.5 324.1M525.6 313.9L537.1 323.4M526.4 312.8L538.1 322.1M527.2 311.9L538.4 320.5M528.0 310.8L539.6 319.3M528.8 309.7L536.9 315.5M529.5 308.7L541.1 316.7M530.2 307.6L542.7 315.7M530.9 306.6L543.0 314.3M531.4 305.7L543.1 312.7M532.1 304.5L544.5 311.7M532.7 303.5L545.3 310.6M533.2 302.6L546.2 309.7M533.8 301.4L547.0 308.2M534.4 300.2L546.6 306.3M534.9 299.2L548.1 305.4M535.5 298.0L548.9 304.0M535.9 297.0L548.7 302.6M536.4 295.8L549.5 301.2M536.8 294.8L550.1 300.0M537.3 293.5L549.9 298.1M537.7 292.4L545.3 295.1M538.1 291.4L552.2 296.1M538.5 290.0L551.9 294.2M538.9 288.8L548.4 291.6M539.2 287.8L548.0 290.2M539.5 286.4L553.8 290.1M539.9 285.0L553.9 288.3M540.1 283.9L554.0 286.9M540.3 282.8L554.8 285.7M540.6 281.6L554.9 284.2M540.8 280.5L554.7 282.8M541.0 279.2L555.0 281.3M541.1 278.1L555.9 280.0M541.3 276.8L555.6 278.4M541.4 275.3L555.7 276.6M541.5 274.3L556.0 275.3M541.6 273.0L556.5 273.8M541.6 271.7L554.6 272.2M541.7 270.7L556.3 271.1M541.7 269.3L551.0 269.3M541.7 267.9L555.6 267.6M541.7 266.8L556.1 266.4M541.6 265.5L556.4 264.8M530.3 230.5L539.7 224.5M529.8 229.7L539.2 223.4M529.2 229.0L538.3 222.7M528.5 228.0L537.7 221.4M528.0 227.2L537.6 220.2M527.4 226.4L536.6 219.4M526.7 225.5L535.9 218.4M526.2 224.8L534.8 217.8M525.5 224.1L534.4 216.8M524.9 223.3L533.3 216.2M507.5 208.5L513.3 198.7M506.4 207.8L511.8 198.4M505.0 207.1L510.4 197.2M503.9 206.5L509.1 196.6M502.7 205.9L507.8 195.6M501.7 205.4L506.8 194.7M500.2 204.7L502.8 199.0M498.7 204.0L503.2 193.4M497.3 203.4L501.5 192.9M496.1 203.0L500.1 192.2M495.0 202.6L498.7 192.4M493.8 202.1L497.2 191.9M492.7 201.8L496.1 190.9M489.4 200.8L491.7 192.1M488.4 200.6L491.2 189.3M487.1 200.2L489.9 188.2M486.0 200.0L488.2 189.6M484.8 199.7L486.7 190.2M483.7 199.5L486.0 186.9M482.6 199.3L484.7 187.0M481.2 199.1L482.9 186.9M480.0 199.0L481.5 186.5M478.7 198.8L480.0 186.7M477.6 198.7L478.8 186.1M476.3 198.6L477.2 185.8M474.9 198.5L475.6 186.5M464.9 198.7L464.0 187.8M463.6 198.8L462.3 187.3M462.1 199.0L460.7 187.3M460.8 199.1L459.2 187.9M459.8 199.3L458.0 188.3M458.4 199.6L456.4 188.5M457.1 199.8L454.9 188.9M448.7 202.0L444.4 189.1M447.2 202.6L443.5 192.3M445.9 203.0L441.2 190.6M444.4 203.6L439.2 190.8M443.4 204.1L438.0 191.5M442.1 204.6L436.6 192.4M441.0 205.1L435.4 193.1M440.0 205.6L434.2 193.9M438.7 206.3L432.4 194.1M437.4 206.9L430.9 195.0M436.1 207.7L430.6 197.9M435.1 208.3L428.3 196.7M433.8 209.1L427.0 198.1M432.5 209.9L425.0 198.3M431.6 210.5L424.1 199.3M430.5 211.2L423.0 200.5M429.4 212.0L421.3 200.9M428.1 213.0L419.9 202.2M427.0 213.8L418.8 203.5M425.9 214.8L418.2 205.5M425.0 215.6L416.2 205.5M424.1 216.3L415.1 206.2M423.3 217.1L413.9 206.9M422.1 218.1L413.3 209.0M421.2 219.0L411.6 209.4M420.4 219.8L410.6 210.3M419.3 221.0L409.4 211.8M418.4 222.0L408.2 212.8M417.6 222.9L412.0 218.1M416.7 224.0L406.3 215.4M415.7 225.2L405.1 216.7M414.8 226.4L403.9 218.1M414.0 227.5L402.9 219.4M413.2 228.6L401.7 220.7M412.5 229.6L401.0 221.8M411.7 230.8L400.2 223.3M411.1 231.8L399.7 224.8M410.4 233.0L398.8 226.1M409.7 234.1L397.9 227.4M409.2 235.1L397.0 228.5M408.6 236.1L403.2 233.3M408.0 237.4L396.3 231.5M406.1 241.4L396.6 237.4M405.7 242.3L396.6 238.6M405.2 243.6L395.1 239.7M404.9 244.6L395.1 241.0M404.5 245.5L395.3 242.3M404.1 246.7L394.5 243.6M403.8 247.7L394.0 244.6M403.4 248.9L393.1 245.9M403.1 250.0L393.1 247.2M402.8 251.1L392.4 248.4M402.5 252.2L391.9 249.6M402.2 253.5L391.6 251.1M402.0 254.5L394.1 252.9M401.7 256.0L391.8 254.1M401.5 257.3L391.6 255.6M401.3 258.4L390.5 256.7M401.1 259.6L391.2 258.3M401.0 261.0L391.1 259.9M400.8 262.3L390.3 261.3M400.7 263.6L390.0 262.7M400.6 264.9L389.9 264.3M400.6 266.3L390.8 265.9M400.5 267.3L390.3 267.0M400.5 268.6L389.7 268.6M400.5 269.0L386.5 269.0M400.5 270.3L387.1 270.6M400.6 271.7L392.7 272.0M400.6 272.7L387.8 273.4M400.7 273.8L390.7 274.5M400.8 275.0L387.5 276.1M400.9 276.4L387.1 277.9M401.0 277.6L387.2 279.3M401.2 278.6L388.5 280.3M401.3 279.6L392.0 281.0M401.5 280.8L388.2 283.0M401.7 282.1L388.7 284.5M402.0 283.4L389.1 286.1M402.3 284.7L388.7 287.8M402.5 285.7L390.1 288.8M402.8 286.9L390.2 290.2M403.1 288.0L390.6 291.5M403.4 289.0L390.0 293.0M403.7 290.1L390.6 294.2M404.0 291.1L391.1 295.3M404.5 292.4L392.2 296.7M405.0 293.7L393.4 298.0M405.4 294.8L392.7 299.8M405.8 295.9L393.0 301.2M406.4 297.3L393.7 302.8M407.0 298.5L394.4 304.3M407.5 299.7L396.2 305.2M408.1 300.9L396.0 307.1M408.8 302.2L399.5 307.1M409.4 303.3L397.7 309.9M410.0 304.3L397.9 311.3M410.5 305.3L398.9 312.3M411.2 306.3L399.4 313.7M411.8 307.3L400.3 314.8M412.5 308.4L401.4 315.9M413.2 309.4L402.2 317.2M414.0 310.6L403.5 318.3M414.7 311.4L403.5 319.8M415.3 312.3L404.7 320.5M416.0 313.1L405.5 321.5M416.8 314.1L406.7 322.5M417.6 315.1L408.4 323.0M418.5 316.1L408.8 324.8M419.2 316.9L409.1 326.2M420.2 317.9L410.2 327.5M421.0 318.7L411.3 328.4M421.8 319.5L412.4 329.2M422.5 320.2L413.0 330.3M423.5 321.1L415.2 330.2M424.4 321.9L416.2 331.2M425.2 322.7L416.8 332.5M426.0 323.3L417.7 333.4M427.0 324.1L418.5 334.8M427.8 324.8L420.3 334.5M428.6 325.4L420.9 335.7M429.8 326.2L422.1 336.8M432.6 328.2L424.6 340.6M434.1 329.1L426.4 341.6M435.2 329.8L427.6 342.7M436.7 330.6L430.2 342.3M438.2 331.4L431.2 344.6M439.5 332.1L432.9 345.2M440.7 332.7L434.4 345.9M442.1 333.4L439.0 340.3M443.3 333.9L437.7 346.9M444.7 334.5L439.5 347.3M446.3 335.1L441.1 348.8M447.6 335.6L442.7 349.4M449.0 336.1L444.5 349.7M450.2 336.4L446.0 350.0M451.7 336.9L448.7 347.1M452.9 337.2L449.1 351.1M454.5 337.6L451.1 352.0" stroke="#c2c2c2" stroke-width="0.3" fill="none"/>
<path d="M473.6 339.6L474.0 352.7M476.1 339.4L476.6 346.2M478.4 339.2L479.8 352.5M480.9 338.9L482.7 352.3M482.7 338.6L485.0 352.2M485.0 338.2L487.7 351.6M487.0 337.8L490.3 352.2M488.5 337.4L491.9 350.9M490.4 336.9L494.4 350.8M492.5 336.3L496.9 349.8M494.1 335.7L498.6 348.7M496.1 335.0L501.4 349.0M497.9 334.3L500.6 340.9M499.4 333.7L502.7 341.2M501.2 332.9L507.3 345.8M503.3 331.8L510.0 345.1M504.7 331.1L511.3 343.3M506.5 330.1L513.6 342.4M507.9 329.2L515.6 341.8M509.9 328.0L518.0 340.4M511.4 327.0L518.7 337.5M512.8 326.0L521.4 337.6M514.4 324.7L523.5 336.4M519.7 217.8L526.8 210.3M518.7 216.8L525.9 208.9M517.4 215.7L524.5 207.6M516.0 214.5L523.3 205.6M514.4 213.2L521.6 204.1M513.1 212.2L519.8 203.2M511.8 211.3L518.4 201.9M510.4 210.4L517.1 200.4M457.6 338.3L454.9 352.3M459.4 338.6L456.9 353.4M461.1 338.9L459.1 353.1M462.9 339.1L461.3 353.0M464.9 339.3L463.6 353.6M466.9 339.5L466.0 353.9M468.5 339.6L468.0 353.7M470.3 339.6L470.2 354.4M472.1 339.6L472.4 354.2" stroke="#c8c8c8" stroke-width="0.55" fill="none"/>
<path d="M490.2 351.9L490.3 352.2" stroke="#3a6fd0" stroke-width="0.8" fill="none"/>
<path d="M493.9 349.3L494.4 350.8M534.3 323.2L535.5 324.1M543.1 310.9L544.5 311.7M545.2 307.3L547.0 308.2M549.0 297.8L549.9 298.1M551.5 295.9L552.2 296.1M550.8 293.8L551.9 294.2M547.7 290.1L548.0 290.2M555.1 276.5L555.7 276.6M539.1 224.8L539.7 224.5M525.6 209.2L525.9 208.9M518.1 202.3L518.4 201.9M491.2 189.6L491.2 189.3M482.8 187.6L482.9 186.9M479.9 187.5L480.0 186.7M475.6 187.0L475.6 186.5M464.0 188.1L464.0 187.8M459.3 188.7L459.2 187.9M458.1 188.6L458.0 188.3M456.5 189.4L456.4 188.5M438.3 192.1L438.0 191.5M424.3 199.7L424.1 199.3M408.9 213.4L408.2 212.8M403.6 219.9L402.9 219.4M393.0 248.5L392.4 248.4M392.7 254.3L391.8 254.1M391.5 256.9L390.5 256.7M391.3 267.0L390.3 267.0M390.5 268.6L389.7 268.6M391.2 274.5L390.7 274.5M387.8 276.1L387.5 276.1M389.2 287.7L388.7 287.8M392.4 291.0L390.6 291.5M393.9 297.8L393.4 298.0M401.3 310.8L398.9 312.3M403.3 314.7L401.4 315.9M404.9 317.2L403.5 318.3M411.8 327.8L411.3 328.4M414.3 327.2L412.4 329.2M414.1 329.1L413.0 330.3M419.7 333.2L418.5 334.8M427.7 339.6L426.4 341.6M445.4 347.0L444.5 349.7M457.1 352.1L456.9 353.4M472.3 353.2L472.4 354.2" stroke="#e8383a" stroke-width="0.8" fill="none"/>
<path d="M533.8 238.4A69.8 69.8 0 1 0 540.2 259.3" fill="none" stroke="#404040" stroke-width="1.4"/>
<path d="M470.5 269.5L476.6 242.5M470.5 269.5L495.5 257.6M470.5 269.5L495.7 281.0M470.5 269.5L476.6 296.5M470.5 269.5L453.4 291.3M470.5 269.5L442.8 269.4M470.5 269.5L453.1 247.9" stroke="#f4f4f4" stroke-width="0.4"/>
<circle cx="476.6" cy="242.5" r="5" fill="#a9cbe6"/>
<text x="476.6" y="244.0" font-size="4.2" font-weight="bold" text-anchor="middle" fill="#333">C</text>
<circle cx="495.5" cy="257.6" r="5" fill="#a9cbe6"/>
<text x="495.5" y="259.1" font-size="4.2" font-weight="bold" text-anchor="middle" fill="#333">B</text>
<circle cx="495.7" cy="281.0" r="5" fill="#a9cbe6"/>
<text x="495.7" y="282.5" font-size="4.2" font-weight="bold" text-anchor="middle" fill="#333">O</text>
<circle cx="476.6" cy="296.5" r="5" fill="#a9cbe6"/>
<text x="476.6" y="298.0" font-size="4.2" font-weight="bold" text-anchor="middle" fill="#333">M</text>
<circle cx="453.4" cy="291.3" r="5" fill="#a9cbe6"/>
<text x="453.4" y="292.8" font-size="4.2" font-weight="bold" text-anchor="middle" fill="#333">H</text>
<circle cx="442.8" cy="269.4" r="5" fill="#a9cbe6"/>
<text x="442.8" y="270.9" font-size="4.2" font-weight="bold" text-anchor="middle" fill="#333">G</text>
<circle cx="453.1" cy="247.9" r="5" fill="#a9cbe6"/>
<text x="453.1" y="249.4" font-size="4.2" font-weight="bold" text-anchor="middle" fill="#333">E</text>
<text x="0.6" y="200" font-size="12.5" fill="#111">d</text>
<text x="188.6" y="200" font-size="12.5" fill="#111">e</text>
<text x="377.6" y="200" font-size="12.5" fill="#111" font-weight="bold">f</text>
<circle cx="573.3" cy="199.5" r="1.2" fill="#2020e8"/>
<text transform="translate(580,201.6) scale(1,1.12)" font-size="5.9" fill="#1c1cd8">Down-regulation</text>
<circle cx="573.3" cy="210.0" r="1.2" fill="#f02020"/>
<text transform="translate(580,212.1) scale(1,1.12)" font-size="5.9" fill="#f02020">Up-regulation</text>
<circle cx="573.3" cy="220.5" r="1.2" fill="#555"/>
<text transform="translate(580,222.6) scale(1,1.12)" font-size="5.9" fill="#444">Not significant</text>
<circle cx="573.3" cy="231.0" r="1.2" fill="#3f6db4"/>
<text transform="translate(580,233.1) scale(1,1.12)" font-size="5.9" fill="#3a66ae">B: Brite hierarchies</text>
<circle cx="573.3" cy="241.5" r="1.2" fill="#3f6db4"/>
<text transform="translate(580,243.6) scale(1,1.12)" font-size="5.9" fill="#3a66ae">C: Cellular processes</text>
<circle cx="573.3" cy="252.0" r="1.2" fill="#3f6db4"/>
<text transform="translate(580,254.1) scale(1,1.12)" font-size="5.9" fill="#3a66ae">E: Environmental information processing</text>
<circle cx="573.3" cy="262.5" r="1.2" fill="#3f6db4"/>
<text transform="translate(580,264.6) scale(1,1.12)" font-size="5.9" fill="#3a66ae">G: Genetic information processing</text>
<circle cx="573.3" cy="273.0" r="1.2" fill="#3f6db4"/>
<text transform="translate(580,275.1) scale(1,1.12)" font-size="5.9" fill="#3a66ae">H: Human diseases</text>
<circle cx="573.3" cy="283.5" r="1.2" fill="#3f6db4"/>
<text transform="translate(580,285.6) scale(1,1.12)" font-size="5.9" fill="#3a66ae">M: Metabolism</text>
<circle cx="573.3" cy="294.0" r="1.2" fill="#3f6db4"/>
<text transform="translate(580,296.1) scale(1,1.12)" font-size="5.9" fill="#3a66ae">O: Organismal systems</text>
<circle cx="573.4" cy="13" r="1.5" fill="#4a4aff"/>
<text transform="translate(588.6,14.9) scale(1,1.12)" font-size="5.45" fill="#000">Down-regulation</text>
<circle cx="573.4" cy="27" r="1.5" fill="#c8c8c8"/>
<text transform="translate(588.6,28.9) scale(1,1.12)" font-size="5.45" fill="#000">Not significant</text>
<circle cx="573.4" cy="41.6" r="1.5" fill="#ff5a4a"/>
<text transform="translate(588.6,43.5) scale(1,1.12)" font-size="5.45" fill="#000">Up-regulation</text>
</svg>
</body></html>
